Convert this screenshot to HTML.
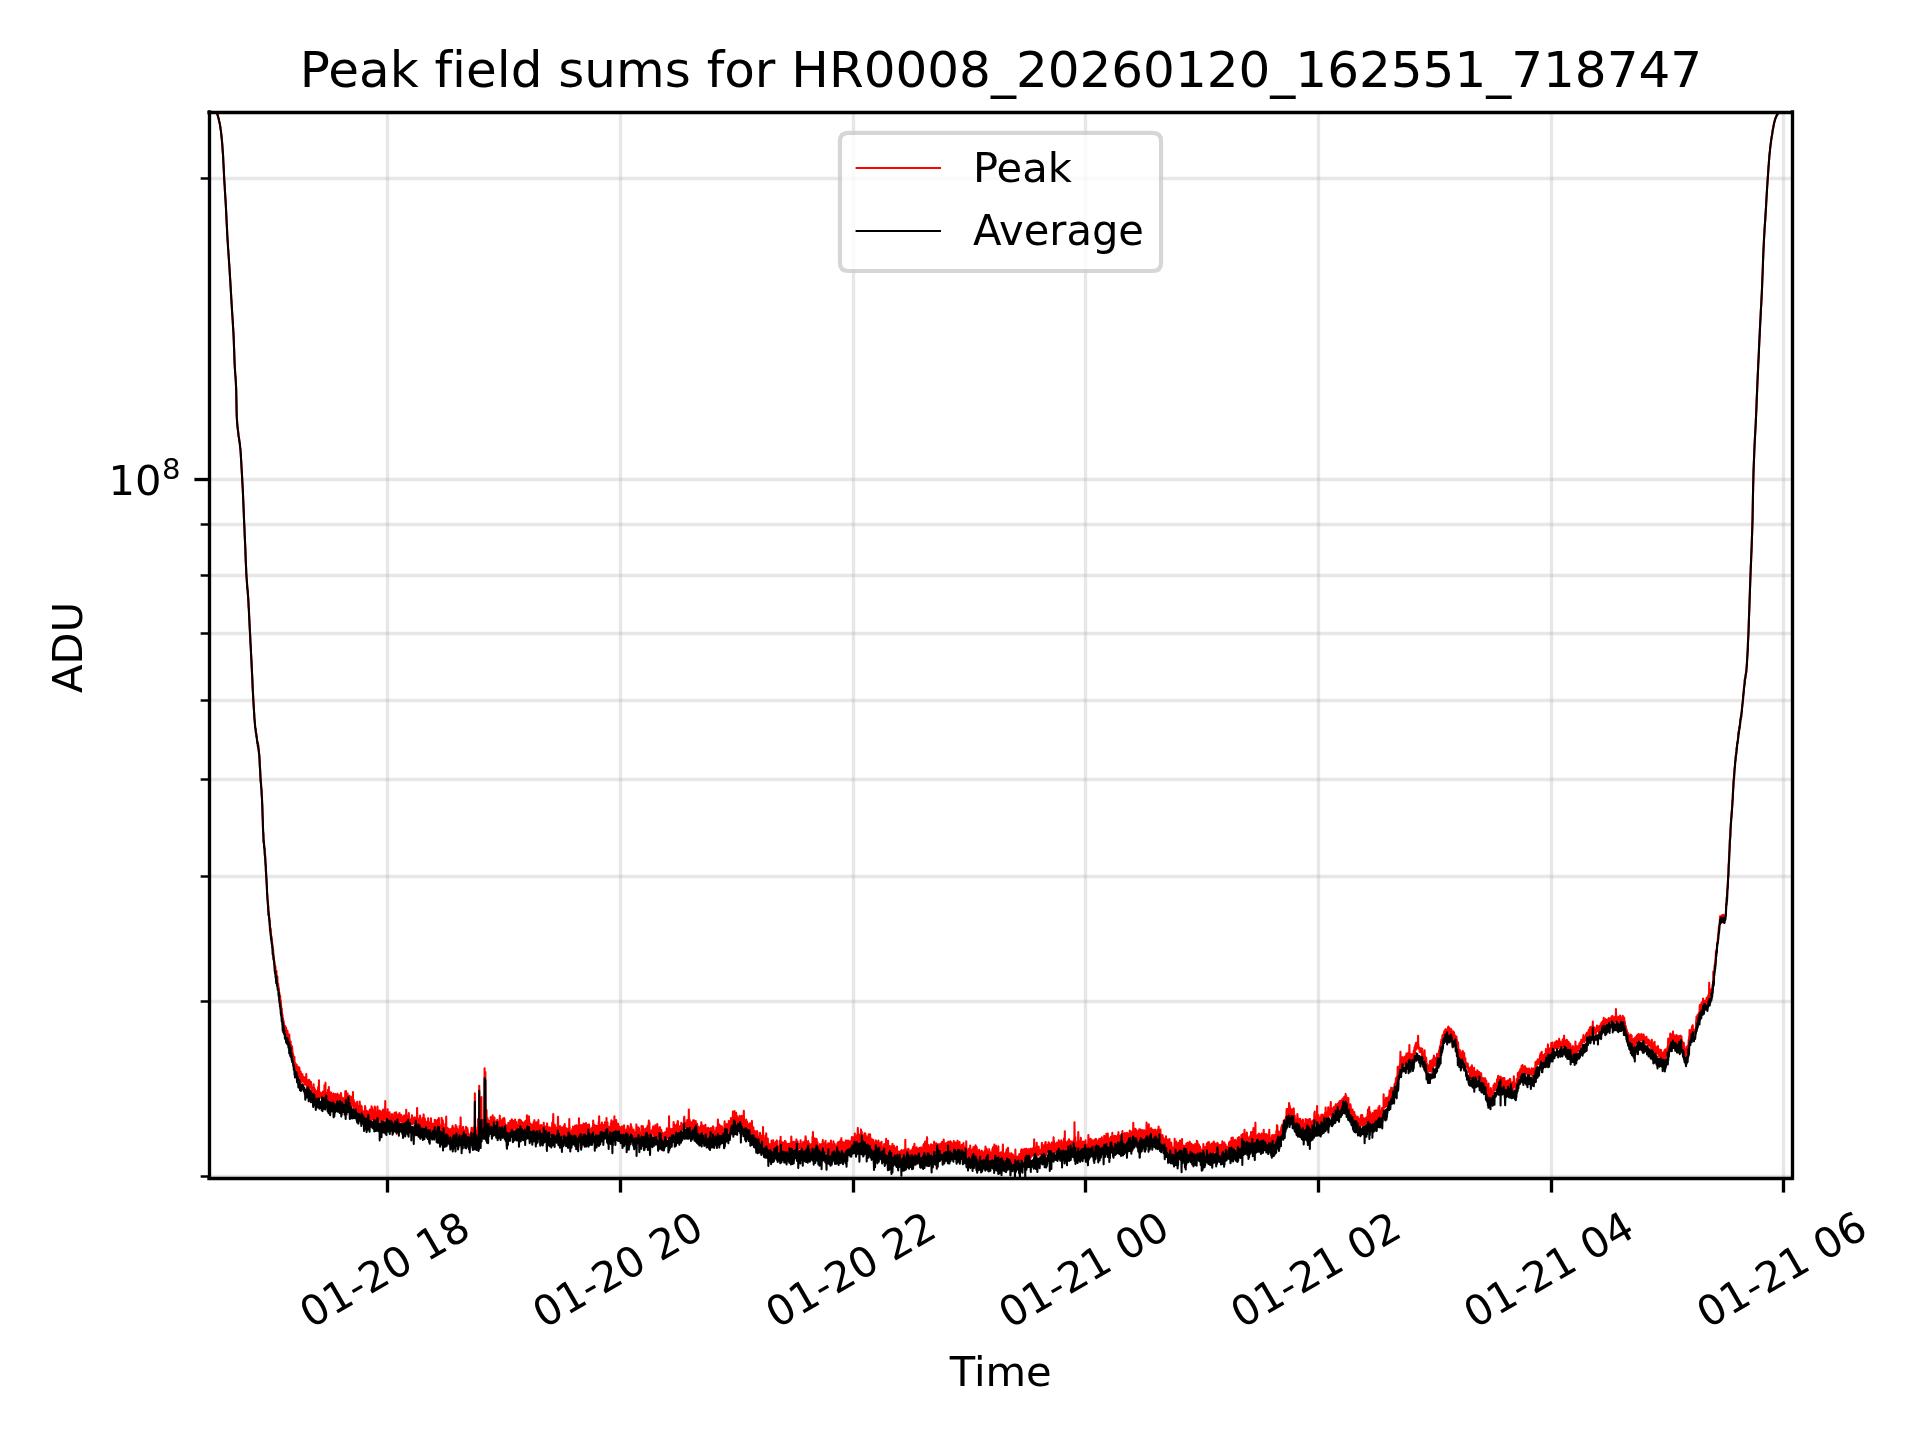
<!DOCTYPE html>
<html><head><meta charset="utf-8"><title>Peak field sums</title>
<style>html,body{margin:0;padding:0;background:#fff;overflow:hidden}svg{display:block;will-change:transform}text{font-variant-ligatures:none;font-feature-settings:"liga" 0,"clig" 0}</style>
</head><body>
<svg width="1920" height="1440" viewBox="0 0 460.8 345.6" version="1.1">
 
 <defs>
  <style type="text/css">*{stroke-linejoin: round; stroke-linecap: butt}</style>
 </defs>
 <g id="figure_1">
  <g id="patch_1">
   <path d="M 0 345.6 
L 460.8 345.6 
L 460.8 0 
L 0 0 
z
" style="fill: #ffffff"/>
  </g>
  <g id="axes_1">
   <g id="patch_2">
    <path d="M 50.16 282.72 
L 430.08 282.72 
L 430.08 26.88 
L 50.16 26.88 
z
" style="fill: #ffffff"/>
   </g>
   <g id="matplotlib.axis_1">
    <g id="xtick_1">
     <g id="line2d_1">
      <path d="M 93.0000 282.72 
L 93.0000 26.88 
" clip-path="url(#p360d8011f8)" style="fill: none; stroke: #b0b0b0; stroke-opacity: 0.3; stroke-width: 0.8; stroke-linecap: square"/>
     </g>
     <g id="line2d_2">
      <defs>
       <path id="m1504cfccaf" d="M 0 0 
L 0 3.5 
" style="stroke: #000000; stroke-width: 0.8"/>
      </defs>
      <g>
       <use href="#m1504cfccaf" x="93.0000" y="282.72" style="stroke: #000000; stroke-width: 0.8"/>
      </g>
     </g>
     <g id="text_1" transform="translate(-0.295 0.192)">
      <text style="font-size: 10px; font-family: 'DejaVu Sans', sans-serif" transform="translate(74.85103 318.780909) rotate(-30)">01-20 18</text>
     </g>
    </g>
    <g id="xtick_2">
     <g id="line2d_3">
      <path d="M 148.9200 282.72 
L 148.9200 26.88 
" clip-path="url(#p360d8011f8)" style="fill: none; stroke: #b0b0b0; stroke-opacity: 0.3; stroke-width: 0.8; stroke-linecap: square"/>
     </g>
     <g id="line2d_4">
      <g>
       <use href="#m1504cfccaf" x="148.9200" y="282.72" style="stroke: #000000; stroke-width: 0.8"/>
      </g>
     </g>
     <g id="text_2" transform="translate(-0.170 0.206)">
      <text style="font-size: 10px; font-family: 'DejaVu Sans', sans-serif" transform="translate(130.69423 318.780909) rotate(-30)">01-20 20</text>
     </g>
    </g>
    <g id="xtick_3">
     <g id="line2d_5">
      <path d="M 204.8400 282.72 
L 204.8400 26.88 
" clip-path="url(#p360d8011f8)" style="fill: none; stroke: #b0b0b0; stroke-opacity: 0.3; stroke-width: 0.8; stroke-linecap: square"/>
     </g>
     <g id="line2d_6">
      <g>
       <use href="#m1504cfccaf" x="204.8400" y="282.72" style="stroke: #000000; stroke-width: 0.8"/>
      </g>
     </g>
     <g id="text_3" transform="translate(-0.094 0.194)">
      <text style="font-size: 10px; font-family: 'DejaVu Sans', sans-serif" transform="translate(186.53743 318.780909) rotate(-30)">01-20 22</text>
     </g>
    </g>
    <g id="xtick_4">
     <g id="line2d_7">
      <path d="M 260.5200 282.72 
L 260.5200 26.88 
" clip-path="url(#p360d8011f8)" style="fill: none; stroke: #b0b0b0; stroke-opacity: 0.3; stroke-width: 0.8; stroke-linecap: square"/>
     </g>
     <g id="line2d_8">
      <g>
       <use href="#m1504cfccaf" x="260.5200" y="282.72" style="stroke: #000000; stroke-width: 0.8"/>
      </g>
     </g>
     <g id="text_4" transform="translate(-0.043 0.230)">
      <text style="font-size: 10px; font-family: 'DejaVu Sans', sans-serif" transform="translate(242.38063 318.780909) rotate(-30)">01-21 00</text>
     </g>
    </g>
    <g id="xtick_5">
     <g id="line2d_9">
      <path d="M 316.4400 282.72 
L 316.4400 26.88 
" clip-path="url(#p360d8011f8)" style="fill: none; stroke: #b0b0b0; stroke-opacity: 0.3; stroke-width: 0.8; stroke-linecap: square"/>
     </g>
     <g id="line2d_10">
      <g>
       <use href="#m1504cfccaf" x="316.4400" y="282.72" style="stroke: #000000; stroke-width: 0.8"/>
      </g>
     </g>
     <g id="text_5" transform="translate(-0.211 0.206)">
      <text style="font-size: 10px; font-family: 'DejaVu Sans', sans-serif" transform="translate(298.22383 318.780909) rotate(-30)">01-21 02</text>
     </g>
    </g>
    <g id="xtick_6">
     <g id="line2d_11">
      <path d="M 372.3600 282.72 
L 372.3600 26.88 
" clip-path="url(#p360d8011f8)" style="fill: none; stroke: #b0b0b0; stroke-opacity: 0.3; stroke-width: 0.8; stroke-linecap: square"/>
     </g>
     <g id="line2d_12">
      <g>
       <use href="#m1504cfccaf" x="372.3600" y="282.72" style="stroke: #000000; stroke-width: 0.8"/>
      </g>
     </g>
     <g id="text_6" transform="translate(-0.154 0.175)">
      <text style="font-size: 10px; font-family: 'DejaVu Sans', sans-serif" transform="translate(354.06703 318.780909) rotate(-30)">01-21 04</text>
     </g>
    </g>
    <g id="xtick_7">
     <g id="line2d_13">
      <path d="M 428.0400 282.72 
L 428.0400 26.88 
" clip-path="url(#p360d8011f8)" style="fill: none; stroke: #b0b0b0; stroke-opacity: 0.3; stroke-width: 0.8; stroke-linecap: square"/>
     </g>
     <g id="line2d_14">
      <g>
       <use href="#m1504cfccaf" x="428.0400" y="282.72" style="stroke: #000000; stroke-width: 0.8"/>
      </g>
     </g>
     <g id="text_7" transform="translate(-0.077 0.154)">
      <text style="font-size: 10px; font-family: 'DejaVu Sans', sans-serif" transform="translate(409.91023 318.780909) rotate(-30)">01-21 06</text>
     </g>
    </g>
    <g id="text_8" transform="translate(0.050 0.401)">
     <text style="font-size: 10px; font-family: 'DejaVu Sans', sans-serif; text-anchor: middle" x="240.12" y="332.180408" transform="rotate(-0 240.12 332.180408)">Time</text>
    </g>
   </g>
   <g id="matplotlib.axis_2">
    <g id="ytick_1">
     <g id="line2d_15">
      <path d="M 50.16 115.0800 
L 430.08 115.0800 
" clip-path="url(#p360d8011f8)" style="fill: none; stroke: #b0b0b0; stroke-opacity: 0.3; stroke-width: 0.8; stroke-linecap: square"/>
     </g>
     <g id="line2d_16">
      <defs>
       <path id="m5d545ce8f8" d="M 0 0 
L -3.5 0 
" style="stroke: #000000; stroke-width: 0.8"/>
      </defs>
      <g>
       <use href="#m5d545ce8f8" x="50.16" y="115.0800" style="stroke: #000000; stroke-width: 0.8"/>
      </g>
     </g>
     <g id="text_9" transform="translate(0.485 0.998)">
      <!-- $\mathdefault{10^{8}}$ -->
      <g transform="translate(25.56 118.694419)">
       <text>
        <tspan x="0" y="-0.976562" style="font-size: 10px; font-family: 'DejaVu Sans'">1</tspan>
        <tspan x="6.362305" y="-0.976562" style="font-size: 10px; font-family: 'DejaVu Sans'">0</tspan>
        <tspan x="12.820312" y="-4.804688" style="font-size: 7px; font-family: 'DejaVu Sans'">8</tspan>
       </text>
      </g>
     </g>
    </g>
    <g id="ytick_2">
     <g id="line2d_17">
      <path d="M 50.16 282.3600 
L 430.08 282.3600 
" clip-path="url(#p360d8011f8)" style="fill: none; stroke: #b0b0b0; stroke-opacity: 0.3; stroke-width: 0.8; stroke-linecap: square"/>
     </g>
     <g id="line2d_18">
      <defs>
       <path id="mc3d89a154a" d="M 0 0 
L -2 0 
" style="stroke: #000000; stroke-width: 0.6"/>
      </defs>
      <g>
       <use href="#mc3d89a154a" x="50.16" y="282.3600" style="stroke: #000000; stroke-width: 0.6"/>
      </g>
     </g>
    </g>
    <g id="ytick_3">
     <g id="line2d_19">
      <path d="M 50.16 240.3600 
L 430.08 240.3600 
" clip-path="url(#p360d8011f8)" style="fill: none; stroke: #b0b0b0; stroke-opacity: 0.3; stroke-width: 0.8; stroke-linecap: square"/>
     </g>
     <g id="line2d_20">
      <g>
       <use href="#mc3d89a154a" x="50.16" y="240.3600" style="stroke: #000000; stroke-width: 0.6"/>
      </g>
     </g>
    </g>
    <g id="ytick_4">
     <g id="line2d_21">
      <path d="M 50.16 210.3600 
L 430.08 210.3600 
" clip-path="url(#p360d8011f8)" style="fill: none; stroke: #b0b0b0; stroke-opacity: 0.3; stroke-width: 0.8; stroke-linecap: square"/>
     </g>
     <g id="line2d_22">
      <g>
       <use href="#mc3d89a154a" x="50.16" y="210.3600" style="stroke: #000000; stroke-width: 0.6"/>
      </g>
     </g>
    </g>
    <g id="ytick_5">
     <g id="line2d_23">
      <path d="M 50.16 187.0800 
L 430.08 187.0800 
" clip-path="url(#p360d8011f8)" style="fill: none; stroke: #b0b0b0; stroke-opacity: 0.3; stroke-width: 0.8; stroke-linecap: square"/>
     </g>
     <g id="line2d_24">
      <g>
       <use href="#mc3d89a154a" x="50.16" y="187.0800" style="stroke: #000000; stroke-width: 0.6"/>
      </g>
     </g>
    </g>
    <g id="ytick_6">
     <g id="line2d_25">
      <path d="M 50.16 168.1200 
L 430.08 168.1200 
" clip-path="url(#p360d8011f8)" style="fill: none; stroke: #b0b0b0; stroke-opacity: 0.3; stroke-width: 0.8; stroke-linecap: square"/>
     </g>
     <g id="line2d_26">
      <g>
       <use href="#mc3d89a154a" x="50.16" y="168.1200" style="stroke: #000000; stroke-width: 0.6"/>
      </g>
     </g>
    </g>
    <g id="ytick_7">
     <g id="line2d_27">
      <path d="M 50.16 152.0400 
L 430.08 152.0400 
" clip-path="url(#p360d8011f8)" style="fill: none; stroke: #b0b0b0; stroke-opacity: 0.3; stroke-width: 0.8; stroke-linecap: square"/>
     </g>
     <g id="line2d_28">
      <g>
       <use href="#mc3d89a154a" x="50.16" y="152.0400" style="stroke: #000000; stroke-width: 0.6"/>
      </g>
     </g>
    </g>
    <g id="ytick_8">
     <g id="line2d_29">
      <path d="M 50.16 138.1200 
L 430.08 138.1200 
" clip-path="url(#p360d8011f8)" style="fill: none; stroke: #b0b0b0; stroke-opacity: 0.3; stroke-width: 0.8; stroke-linecap: square"/>
     </g>
     <g id="line2d_30">
      <g>
       <use href="#mc3d89a154a" x="50.16" y="138.1200" style="stroke: #000000; stroke-width: 0.6"/>
      </g>
     </g>
    </g>
    <g id="ytick_9">
     <g id="line2d_31">
      <path d="M 50.16 125.8800 
L 430.08 125.8800 
" clip-path="url(#p360d8011f8)" style="fill: none; stroke: #b0b0b0; stroke-opacity: 0.3; stroke-width: 0.8; stroke-linecap: square"/>
     </g>
     <g id="line2d_32">
      <g>
       <use href="#mc3d89a154a" x="50.16" y="125.8800" style="stroke: #000000; stroke-width: 0.6"/>
      </g>
     </g>
    </g>
    <g id="ytick_10">
     <g id="line2d_33">
      <path d="M 50.16 42.8400 
L 430.08 42.8400 
" clip-path="url(#p360d8011f8)" style="fill: none; stroke: #b0b0b0; stroke-opacity: 0.3; stroke-width: 0.8; stroke-linecap: square"/>
     </g>
     <g id="line2d_34">
      <g>
       <use href="#mc3d89a154a" x="50.16" y="42.8400" style="stroke: #000000; stroke-width: 0.6"/>
      </g>
     </g>
    </g>
    <g id="text_10" transform="translate(0.118 0.569)">
     <text style="font-size: 10px; font-family: 'DejaVu Sans', sans-serif; text-anchor: middle" x="19.480313" y="154.8" transform="rotate(-90 19.480313 154.8)">ADU</text>
    </g>
   </g>
   <g id="line2d_35">
    <path d="M 50.28 14.29 L 50.33 15.23 L 50.37 16.24 L 50.42 16.86 L 50.47 17.77 L 50.52 18.49 L 50.56 19.10 L 50.61 19.94 L 50.66 20.54 L 50.71 20.98 L 50.75 21.74 L 50.80 22.22 L 50.85 22.57 L 50.90 22.93 L 50.94 23.24 L 50.99 23.74 L 51.04 23.83 L 51.09 24.29 L 51.13 24.51 L 51.18 24.74 L 51.23 25.02 L 51.28 25.32 L 51.32 25.55 L 51.37 25.57 L 51.42 25.52 L 51.47 25.74 L 51.51 26.01 L 51.56 26.09 L 51.61 26.29 L 51.66 26.39 L 51.70 26.46 L 51.75 26.56 L 51.80 26.62 L 51.85 26.70 L 51.89 26.72 L 51.94 26.96 L 51.99 26.99 L 52.04 27.07 L 52.08 27.17 L 52.13 27.35 L 52.18 27.51 L 52.23 27.61 L 52.27 27.86 L 52.32 27.83 L 52.37 28.17 L 52.42 28.25 L 52.46 28.56 L 52.51 28.61 L 52.56 28.84 L 52.61 29.15 L 52.65 29.39 L 52.70 29.47 L 52.75 29.61 L 52.80 30.05 L 52.84 30.30 L 52.89 30.57 L 52.94 30.98 L 52.99 31.25 L 53.03 31.51 L 53.08 31.97 L 53.13 32.45 L 53.18 32.86 L 53.22 33.45 L 53.27 33.88 L 53.32 34.41 L 53.37 34.99 L 53.41 35.69 L 53.46 36.41 L 53.51 36.89 L 53.56 37.81 L 53.60 38.75 L 53.65 39.61 L 53.70 40.52 L 53.75 41.64 L 53.79 42.50 L 53.84 43.42 L 53.89 44.14 L 53.94 44.96 L 53.98 45.74 L 54.03 46.58 L 54.08 47.42 L 54.13 48.01 L 54.17 48.89 L 54.22 49.70 L 54.27 50.61 L 54.32 51.57 L 54.36 52.60 L 54.41 53.64 L 54.46 54.42 L 54.51 55.49 L 54.55 56.46 L 54.60 57.30 L 54.65 58.07 L 54.70 58.76 L 54.74 59.72 L 54.79 60.15 L 54.84 61.03 L 54.89 61.55 L 54.93 62.14 L 54.98 63.13 L 55.03 63.68 L 55.08 64.29 L 55.12 65.10 L 55.17 65.99 L 55.22 66.71 L 55.27 67.38 L 55.31 68.24 L 55.36 69.07 L 55.41 69.89 L 55.46 70.74 L 55.50 71.55 L 55.55 72.05 L 55.60 73.01 L 55.65 73.86 L 55.69 74.60 L 55.74 75.35 L 55.79 76.16 L 55.84 76.81 L 55.88 77.49 L 55.93 78.55 L 55.98 79.17 L 56.03 79.94 L 56.07 80.89 L 56.12 81.93 L 56.17 83.38 L 56.22 84.72 L 56.26 86.02 L 56.31 87.22 L 56.36 88.24 L 56.41 88.98 L 56.45 89.70 L 56.50 90.25 L 56.55 90.92 L 56.60 91.71 L 56.64 92.72 L 56.69 93.64 L 56.74 96.12 L 56.79 98.87 L 56.83 100.02 L 56.88 100.88 L 56.93 101.61 L 56.98 102.03 L 57.02 102.51 L 57.07 102.91 L 57.12 103.32 L 57.17 103.68 L 57.21 104.12 L 57.26 104.68 L 57.31 104.81 L 57.36 105.10 L 57.40 105.55 L 57.45 105.84 L 57.50 106.19 L 57.55 106.41 L 57.59 106.84 L 57.64 107.44 L 57.69 107.73 L 57.74 108.40 L 57.78 108.93 L 57.83 109.70 L 57.88 110.58 L 57.93 111.48 L 57.97 112.19 L 58.02 112.99 L 58.07 113.84 L 58.12 114.82 L 58.16 115.58 L 58.21 116.46 L 58.26 117.41 L 58.31 118.37 L 58.35 119.44 L 58.40 120.55 L 58.45 121.65 L 58.50 122.90 L 58.54 124.07 L 58.59 125.30 L 58.64 126.18 L 58.69 127.49 L 58.73 128.42 L 58.78 129.41 L 58.83 130.62 L 58.88 131.57 L 58.92 132.93 L 58.97 134.39 L 59.02 135.33 L 59.07 136.46 L 59.11 137.60 L 59.16 138.19 L 59.21 139.02 L 59.26 139.67 L 59.30 140.14 L 59.35 141.01 L 59.40 141.43 L 59.45 141.88 L 59.49 142.64 L 59.54 143.18 L 59.59 143.79 L 59.64 144.60 L 59.68 145.84 L 59.73 146.23 L 59.78 147.42 L 59.83 148.36 L 59.87 149.33 L 59.92 150.48 L 59.97 151.34 L 60.02 152.21 L 60.06 153.15 L 60.11 154.15 L 60.16 155.00 L 60.21 155.94 L 60.25 156.77 L 60.30 157.63 L 60.35 158.62 L 60.40 159.81 L 60.44 160.53 L 60.49 161.84 L 60.54 162.51 L 60.59 163.70 L 60.63 164.64 L 60.68 165.77 L 60.73 166.56 L 60.78 167.49 L 60.82 168.30 L 60.87 168.94 L 60.92 170.06 L 60.97 170.81 L 61.01 171.51 L 61.06 172.44 L 61.11 173.02 L 61.16 173.41 L 61.20 173.73 L 61.25 174.58 L 61.30 174.93 L 61.35 174.92 L 61.39 175.64 L 61.44 175.62 L 61.49 176.09 L 61.54 176.39 L 61.58 176.84 L 61.63 176.94 L 61.68 177.56 L 61.73 177.91 L 61.77 178.10 L 61.82 178.32 L 61.87 178.54 L 61.92 178.49 L 61.96 178.64 L 62.01 179.23 L 62.06 179.98 L 62.11 179.94 L 62.15 180.62 L 62.20 181.01 L 62.25 181.26 L 62.30 182.45 L 62.34 183.40 L 62.39 184.26 L 62.44 184.49 L 62.49 185.94 L 62.53 186.69 L 62.58 187.64 L 62.63 187.82 L 62.68 188.92 L 62.72 189.20 L 62.77 189.62 L 62.82 190.97 L 62.87 191.59 L 62.91 192.60 L 62.96 193.27 L 63.01 195.07 L 63.06 196.54 L 63.10 197.95 L 63.15 199.85 L 63.20 200.24 L 63.25 201.05 L 63.29 201.72 L 63.34 202.14 L 63.39 202.53 L 63.44 203.14 L 63.48 203.58 L 63.53 204.01 L 63.58 205.25 L 63.63 205.04 L 63.67 206.13 L 63.72 206.99 L 63.77 207.54 L 63.82 209.19 L 63.86 209.05 L 63.91 210.06 L 63.96 211.66 L 64.01 211.83 L 64.05 212.70 L 64.10 214.25 L 64.15 214.85 L 64.20 215.71 L 64.24 215.87 L 64.29 216.29 L 64.34 217.08 L 64.39 217.60 L 64.43 218.62 L 64.48 218.70 L 64.53 219.02 L 64.58 219.93 L 64.62 220.21 L 64.67 220.34 L 64.72 220.80 L 64.77 221.41 L 64.81 222.94 L 64.86 222.67 L 64.91 223.56 L 64.96 222.78 L 65.00 223.77 L 65.05 224.58 L 65.10 224.59 L 65.15 224.72 L 65.19 225.18 L 65.24 226.07 L 65.29 225.96 L 65.34 226.95 L 65.38 227.01 L 65.43 227.55 L 65.48 227.70 L 65.53 228.03 L 65.57 227.93 L 65.62 229.98 L 65.67 230.35 L 65.72 229.55 L 65.76 230.75 L 65.81 230.56 L 65.86 230.77 L 65.91 231.33 L 65.95 231.51 L 66.00 232.24 L 66.05 232.60 L 66.10 231.97 L 66.14 233.41 L 66.19 233.80 L 66.24 233.86 L 66.29 234.59 L 66.33 232.99 L 66.38 233.95 L 66.43 235.17 L 66.48 235.23 L 66.52 235.74 L 66.57 234.39 L 66.62 236.33 L 66.67 236.50 L 66.71 236.06 L 66.76 236.11 L 66.81 236.99 L 66.86 237.29 L 66.90 237.07 L 66.95 237.62 L 67.00 238.57 L 67.05 238.35 L 67.09 238.99 L 67.14 239.09 L 67.19 239.82 L 67.24 238.98 L 67.28 240.19 L 67.33 240.94 L 67.38 240.09 L 67.43 241.40 L 67.47 241.24 L 67.52 243.75 L 67.57 242.86 L 67.62 242.06 L 67.66 243.35 L 67.71 243.32 L 67.76 244.06 L 67.81 243.64 L 67.85 244.89 L 67.90 244.41 L 67.95 245.87 L 68.00 245.00 L 68.04 244.93 L 68.09 245.43 L 68.14 245.61 L 68.19 246.14 L 68.23 246.83 L 68.28 246.22 L 68.33 246.65 L 68.38 246.48 L 68.42 246.45 L 68.47 246.28 L 68.52 247.31 L 68.57 247.57 L 68.61 247.82 L 68.66 246.68 L 68.71 247.53 L 68.76 248.11 L 68.80 248.05 L 68.85 248.07 L 68.90 247.95 L 68.95 248.26 L 68.99 247.40 L 69.04 248.31 L 69.09 249.21 L 69.14 249.19 L 69.18 248.22 L 69.23 249.87 L 69.28 249.44 L 69.33 250.27 L 69.37 249.42 L 69.42 248.27 L 69.47 249.38 L 69.52 249.55 L 69.56 250.36 L 69.61 250.59 L 69.66 250.16 L 69.71 250.42 L 69.75 249.94 L 69.80 251.03 L 69.85 251.52 L 69.90 252.13 L 69.94 250.94 L 69.99 251.76 L 70.04 251.85 L 70.09 251.15 L 70.13 251.70 L 70.18 252.39 L 70.23 253.05 L 70.28 252.77 L 70.32 254.16 L 70.37 253.14 L 70.42 253.45 L 70.47 254.06 L 70.51 254.75 L 70.56 254.51 L 70.61 253.91 L 70.66 253.69 L 70.70 255.60 L 70.75 254.95 L 70.80 256.16 L 70.85 255.99 L 70.89 255.89 L 70.94 255.27 L 70.99 256.07 L 71.04 255.55 L 71.08 256.57 L 71.13 256.23 L 71.18 255.52 L 71.23 256.22 L 71.27 256.01 L 71.32 257.35 L 71.37 256.37 L 71.42 256.60 L 71.46 256.05 L 71.51 256.98 L 71.56 258.30 L 71.61 257.11 L 71.65 257.75 L 71.70 256.22 L 71.75 258.56 L 71.80 258.05 L 71.84 256.21 L 71.89 257.25 L 71.94 257.05 L 71.99 257.79 L 72.03 257.63 L 72.08 259.04 L 72.13 258.66 L 72.18 257.24 L 72.22 259.90 L 72.27 259.09 L 72.32 258.93 L 72.37 259.20 L 72.41 259.09 L 72.46 259.18 L 72.51 258.04 L 72.56 257.80 L 72.60 258.42 L 72.65 258.41 L 72.70 259.53 L 72.75 258.37 L 72.79 259.64 L 72.84 259.70 L 72.89 258.90 L 72.94 259.26 L 72.98 259.59 L 73.03 258.54 L 73.08 259.89 L 73.13 259.80 L 73.17 260.32 L 73.22 258.79 L 73.27 259.65 L 73.32 260.26 L 73.36 259.87 L 73.41 260.06 L 73.46 259.13 L 73.51 257.77 L 73.55 260.38 L 73.60 259.94 L 73.65 259.99 L 73.70 261.69 L 73.74 259.22 L 73.79 261.54 L 73.84 260.11 L 73.89 260.96 L 73.93 260.64 L 73.98 260.98 L 74.03 259.26 L 74.08 261.95 L 74.12 259.72 L 74.17 259.16 L 74.22 259.82 L 74.27 260.79 L 74.31 260.52 L 74.36 259.42 L 74.41 260.30 L 74.46 260.10 L 74.50 261.06 L 74.55 260.40 L 74.60 260.87 L 74.65 259.67 L 74.69 260.75 L 74.74 260.82 L 74.79 262.36 L 74.84 261.08 L 74.88 261.21 L 74.93 261.59 L 74.98 262.68 L 75.03 261.92 L 75.07 260.91 L 75.12 262.32 L 75.17 261.18 L 75.22 262.02 L 75.26 260.23 L 75.31 262.18 L 75.36 261.35 L 75.41 261.09 L 75.45 262.06 L 75.50 261.71 L 75.55 263.63 L 75.60 261.42 L 75.64 262.11 L 75.69 263.10 L 75.74 263.19 L 75.79 265.19 L 75.83 261.87 L 75.88 263.53 L 75.93 263.48 L 75.98 264.06 L 76.02 261.85 L 76.07 262.34 L 76.12 262.61 L 76.17 264.23 L 76.21 261.79 L 76.26 262.29 L 76.31 261.66 L 76.36 260.88 L 76.40 261.83 L 76.45 262.37 L 76.50 261.72 L 76.55 259.29 L 76.59 263.76 L 76.64 263.32 L 76.69 262.52 L 76.74 263.36 L 76.78 262.81 L 76.83 262.25 L 76.88 262.47 L 76.93 262.25 L 76.97 263.32 L 77.02 263.47 L 77.07 262.31 L 77.12 263.30 L 77.16 262.71 L 77.21 263.14 L 77.26 263.00 L 77.31 263.06 L 77.35 262.59 L 77.40 264.81 L 77.45 264.06 L 77.50 261.98 L 77.54 262.38 L 77.59 262.92 L 77.64 261.90 L 77.69 264.65 L 77.73 263.76 L 77.78 263.55 L 77.83 262.52 L 77.88 260.40 L 77.92 263.19 L 77.97 262.04 L 78.02 262.91 L 78.07 263.87 L 78.11 259.84 L 78.16 265.52 L 78.21 262.21 L 78.26 263.47 L 78.30 263.14 L 78.35 262.79 L 78.40 264.68 L 78.45 263.45 L 78.49 263.02 L 78.54 263.86 L 78.59 263.83 L 78.64 262.19 L 78.68 264.43 L 78.73 261.53 L 78.78 263.62 L 78.83 264.61 L 78.87 265.12 L 78.92 260.88 L 78.97 263.21 L 79.02 264.12 L 79.06 262.05 L 79.11 263.47 L 79.16 263.22 L 79.21 262.56 L 79.25 264.32 L 79.30 262.22 L 79.35 263.03 L 79.40 263.17 L 79.44 262.21 L 79.49 263.27 L 79.54 262.57 L 79.58 262.84 L 79.63 262.98 L 79.68 264.00 L 79.73 263.41 L 79.77 264.94 L 79.82 262.63 L 79.87 263.53 L 79.92 262.98 L 79.96 262.90 L 80.01 262.42 L 80.06 265.00 L 80.11 264.73 L 80.15 265.26 L 80.20 264.07 L 80.25 264.92 L 80.30 263.61 L 80.34 262.94 L 80.39 265.15 L 80.44 262.59 L 80.49 265.45 L 80.53 263.49 L 80.58 263.31 L 80.63 263.45 L 80.68 263.01 L 80.72 264.02 L 80.77 262.71 L 80.82 263.84 L 80.87 263.15 L 80.91 264.56 L 80.96 264.80 L 81.01 262.48 L 81.06 263.19 L 81.10 265.08 L 81.15 264.89 L 81.20 263.78 L 81.25 262.81 L 81.29 264.82 L 81.34 263.56 L 81.39 263.27 L 81.44 262.88 L 81.48 264.24 L 81.53 264.93 L 81.58 263.82 L 81.63 264.90 L 81.67 263.59 L 81.72 264.94 L 81.77 264.23 L 81.82 262.34 L 81.86 262.61 L 81.91 263.33 L 81.96 264.96 L 82.01 265.70 L 82.05 263.43 L 82.10 263.95 L 82.15 263.69 L 82.20 264.89 L 82.24 263.65 L 82.29 264.25 L 82.34 264.31 L 82.39 264.04 L 82.43 263.56 L 82.48 264.08 L 82.53 263.67 L 82.58 264.11 L 82.62 265.62 L 82.67 265.42 L 82.72 263.67 L 82.77 265.31 L 82.81 265.06 L 82.86 261.92 L 82.91 264.58 L 82.96 265.25 L 83.00 263.46 L 83.05 261.86 L 83.10 264.16 L 83.15 266.66 L 83.19 264.47 L 83.24 263.66 L 83.29 264.15 L 83.34 263.94 L 83.38 263.76 L 83.43 262.47 L 83.48 263.94 L 83.53 263.94 L 83.57 264.15 L 83.62 263.54 L 83.67 264.32 L 83.72 266.42 L 83.76 265.39 L 83.81 264.17 L 83.86 265.40 L 83.91 262.99 L 83.95 264.83 L 84.00 265.16 L 84.05 265.14 L 84.10 264.74 L 84.14 265.07 L 84.19 265.83 L 84.24 264.07 L 84.29 264.74 L 84.33 263.28 L 84.38 265.12 L 84.43 264.29 L 84.48 264.52 L 84.52 264.18 L 84.57 264.67 L 84.62 264.75 L 84.67 265.39 L 84.71 262.10 L 84.76 265.57 L 84.81 265.11 L 84.86 265.83 L 84.90 264.01 L 84.95 266.14 L 85.00 265.91 L 85.05 264.89 L 85.09 265.24 L 85.14 264.62 L 85.19 264.87 L 85.24 265.39 L 85.28 265.30 L 85.33 265.62 L 85.38 265.55 L 85.43 266.00 L 85.47 266.75 L 85.52 265.40 L 85.57 265.14 L 85.62 266.75 L 85.66 267.32 L 85.71 264.43 L 85.76 266.10 L 85.81 266.08 L 85.85 265.41 L 85.90 266.00 L 85.95 266.93 L 86.00 267.17 L 86.04 265.60 L 86.09 266.41 L 86.14 268.37 L 86.19 265.50 L 86.23 265.44 L 86.28 267.12 L 86.33 264.35 L 86.38 266.42 L 86.42 266.74 L 86.47 266.91 L 86.52 266.21 L 86.57 265.28 L 86.61 267.58 L 86.66 266.30 L 86.71 268.15 L 86.76 266.96 L 86.80 265.52 L 86.85 266.37 L 86.90 266.86 L 86.95 267.19 L 86.99 266.56 L 87.04 266.72 L 87.09 266.75 L 87.14 267.11 L 87.18 268.25 L 87.23 267.53 L 87.28 267.22 L 87.33 268.71 L 87.37 266.87 L 87.42 268.40 L 87.47 267.57 L 87.52 269.48 L 87.56 267.84 L 87.61 265.44 L 87.66 268.30 L 87.71 265.86 L 87.75 267.67 L 87.80 267.27 L 87.85 266.64 L 87.90 266.61 L 87.94 268.46 L 87.99 268.97 L 88.04 267.51 L 88.09 266.97 L 88.13 266.76 L 88.18 268.83 L 88.23 266.69 L 88.28 268.12 L 88.32 268.55 L 88.37 267.66 L 88.42 267.69 L 88.47 268.13 L 88.51 268.23 L 88.56 268.71 L 88.61 267.31 L 88.66 267.60 L 88.70 267.92 L 88.75 266.28 L 88.80 268.12 L 88.85 266.88 L 88.89 268.76 L 88.94 267.59 L 88.99 268.28 L 89.04 269.16 L 89.08 268.05 L 89.13 267.02 L 89.18 265.53 L 89.23 268.08 L 89.27 268.64 L 89.32 265.94 L 89.37 267.63 L 89.42 267.62 L 89.46 267.82 L 89.51 266.94 L 89.56 266.92 L 89.61 267.43 L 89.65 266.73 L 89.70 268.84 L 89.75 266.43 L 89.80 267.19 L 89.84 270.38 L 89.89 267.55 L 89.94 265.55 L 89.99 267.06 L 90.03 265.78 L 90.08 267.54 L 90.13 268.74 L 90.18 266.97 L 90.22 268.58 L 90.27 268.21 L 90.32 268.67 L 90.37 268.19 L 90.41 269.29 L 90.46 267.01 L 90.51 267.56 L 90.56 268.39 L 90.60 265.57 L 90.65 268.66 L 90.70 269.03 L 90.75 268.26 L 90.79 269.34 L 90.84 269.82 L 90.89 269.54 L 90.94 268.13 L 90.98 268.19 L 91.03 268.52 L 91.08 266.53 L 91.13 268.69 L 91.17 267.84 L 91.22 267.24 L 91.27 268.59 L 91.32 266.82 L 91.36 267.33 L 91.41 266.73 L 91.46 269.27 L 91.51 267.72 L 91.55 268.31 L 91.60 268.39 L 91.65 268.62 L 91.70 267.24 L 91.74 268.39 L 91.79 268.30 L 91.84 267.00 L 91.89 268.69 L 91.93 266.30 L 91.98 268.78 L 92.03 269.61 L 92.08 267.26 L 92.12 268.13 L 92.17 268.23 L 92.22 267.76 L 92.27 268.69 L 92.31 267.34 L 92.36 268.66 L 92.41 267.58 L 92.46 264.27 L 92.50 267.95 L 92.55 267.02 L 92.60 267.74 L 92.65 268.25 L 92.69 268.62 L 92.74 269.55 L 92.79 267.92 L 92.84 268.77 L 92.88 269.69 L 92.93 268.24 L 92.98 269.62 L 93.03 266.24 L 93.07 269.31 L 93.12 268.03 L 93.17 268.88 L 93.22 267.31 L 93.26 268.34 L 93.31 268.05 L 93.36 267.77 L 93.41 267.72 L 93.45 267.16 L 93.50 266.96 L 93.55 268.72 L 93.60 268.19 L 93.64 268.44 L 93.69 267.65 L 93.74 267.83 L 93.79 269.08 L 93.83 268.86 L 93.88 268.71 L 93.93 269.13 L 93.98 268.04 L 94.02 268.48 L 94.07 267.38 L 94.12 269.08 L 94.17 269.20 L 94.21 268.52 L 94.26 270.04 L 94.31 270.29 L 94.36 268.68 L 94.40 267.68 L 94.45 269.75 L 94.50 267.62 L 94.55 268.96 L 94.59 268.59 L 94.64 267.46 L 94.69 267.07 L 94.74 268.73 L 94.78 269.30 L 94.83 269.84 L 94.88 269.01 L 94.93 267.18 L 94.97 269.23 L 95.02 267.60 L 95.07 266.96 L 95.12 268.74 L 95.16 270.55 L 95.21 272.16 L 95.26 268.45 L 95.31 268.25 L 95.35 268.47 L 95.40 267.74 L 95.45 267.55 L 95.50 269.41 L 95.54 267.51 L 95.59 268.92 L 95.64 268.20 L 95.69 268.26 L 95.73 269.82 L 95.78 269.01 L 95.83 268.77 L 95.88 267.11 L 95.92 268.10 L 95.97 268.83 L 96.02 268.76 L 96.07 269.09 L 96.11 268.93 L 96.16 268.43 L 96.21 268.06 L 96.26 268.76 L 96.30 267.58 L 96.35 268.80 L 96.40 268.80 L 96.45 267.91 L 96.49 270.44 L 96.54 268.95 L 96.59 270.67 L 96.64 268.81 L 96.68 269.65 L 96.73 268.70 L 96.78 268.29 L 96.83 268.87 L 96.87 270.12 L 96.92 269.27 L 96.97 267.75 L 97.02 269.70 L 97.06 268.79 L 97.11 268.51 L 97.16 267.75 L 97.21 270.52 L 97.25 270.27 L 97.30 268.43 L 97.35 268.98 L 97.40 269.35 L 97.44 269.73 L 97.49 266.34 L 97.54 268.66 L 97.59 268.29 L 97.63 268.85 L 97.68 268.19 L 97.73 269.17 L 97.78 269.60 L 97.82 269.57 L 97.87 268.48 L 97.92 269.48 L 97.97 269.58 L 98.01 267.74 L 98.06 268.24 L 98.11 267.11 L 98.16 268.17 L 98.20 269.12 L 98.25 269.04 L 98.30 269.69 L 98.35 270.23 L 98.39 269.27 L 98.44 268.86 L 98.49 268.85 L 98.54 269.23 L 98.58 269.58 L 98.63 269.18 L 98.68 268.94 L 98.73 268.44 L 98.77 269.64 L 98.82 268.83 L 98.87 267.69 L 98.92 268.69 L 98.96 269.50 L 99.01 269.82 L 99.06 269.15 L 99.11 268.36 L 99.15 268.63 L 99.20 268.32 L 99.25 268.55 L 99.30 269.33 L 99.34 269.54 L 99.39 268.52 L 99.44 269.12 L 99.49 268.89 L 99.53 268.17 L 99.58 268.30 L 99.63 268.73 L 99.68 268.87 L 99.72 269.45 L 99.77 270.28 L 99.82 268.46 L 99.87 269.02 L 99.91 269.70 L 99.96 269.34 L 100.01 269.38 L 100.06 269.15 L 100.10 265.95 L 100.15 267.82 L 100.20 270.22 L 100.25 268.66 L 100.29 270.98 L 100.34 268.55 L 100.39 269.61 L 100.44 270.00 L 100.48 270.15 L 100.53 269.80 L 100.58 270.58 L 100.63 269.12 L 100.67 269.54 L 100.72 268.33 L 100.77 269.96 L 100.82 267.75 L 100.86 270.44 L 100.91 268.71 L 100.96 268.67 L 101.01 269.28 L 101.05 271.06 L 101.10 270.03 L 101.15 269.72 L 101.20 269.58 L 101.24 269.59 L 101.29 269.97 L 101.34 270.58 L 101.39 270.70 L 101.43 268.28 L 101.48 270.94 L 101.53 269.95 L 101.58 270.43 L 101.62 269.87 L 101.67 267.46 L 101.72 268.50 L 101.77 272.37 L 101.81 269.15 L 101.86 269.92 L 101.91 268.97 L 101.96 268.43 L 102.00 269.19 L 102.05 269.94 L 102.10 270.19 L 102.15 269.66 L 102.19 270.02 L 102.24 269.84 L 102.29 269.31 L 102.34 269.25 L 102.38 270.31 L 102.43 270.87 L 102.48 270.33 L 102.53 270.94 L 102.57 270.68 L 102.62 270.27 L 102.67 269.14 L 102.72 269.65 L 102.76 268.36 L 102.81 269.98 L 102.86 269.20 L 102.91 269.40 L 102.95 270.97 L 103.00 270.49 L 103.05 271.31 L 103.10 270.36 L 103.14 269.74 L 103.19 271.77 L 103.24 269.93 L 103.29 269.69 L 103.33 270.22 L 103.38 270.50 L 103.43 268.39 L 103.48 269.84 L 103.52 270.08 L 103.57 269.50 L 103.62 271.49 L 103.67 270.27 L 103.71 269.97 L 103.76 269.93 L 103.81 270.04 L 103.86 270.22 L 103.90 270.27 L 103.95 269.74 L 104.00 269.93 L 104.05 271.65 L 104.09 270.14 L 104.14 269.90 L 104.19 271.68 L 104.24 270.55 L 104.28 270.62 L 104.33 268.76 L 104.38 269.42 L 104.43 269.83 L 104.47 269.65 L 104.52 269.52 L 104.57 268.92 L 104.62 269.24 L 104.66 269.93 L 104.71 270.49 L 104.76 270.54 L 104.81 269.63 L 104.85 270.81 L 104.90 270.87 L 104.95 270.58 L 105.00 269.03 L 105.04 268.77 L 105.09 270.98 L 105.14 271.70 L 105.19 269.23 L 105.23 268.94 L 105.28 270.82 L 105.33 268.35 L 105.38 269.95 L 105.42 271.35 L 105.47 270.51 L 105.52 272.01 L 105.57 272.29 L 105.61 270.25 L 105.66 272.42 L 105.71 270.84 L 105.76 270.58 L 105.80 271.12 L 105.85 270.03 L 105.90 270.60 L 105.95 271.31 L 105.99 268.26 L 106.04 270.00 L 106.09 272.36 L 106.14 271.02 L 106.18 271.55 L 106.23 271.06 L 106.28 268.93 L 106.33 272.42 L 106.37 271.15 L 106.42 270.84 L 106.47 269.72 L 106.52 271.64 L 106.56 270.62 L 106.61 271.54 L 106.66 271.78 L 106.71 271.14 L 106.75 272.25 L 106.80 272.74 L 106.85 271.25 L 106.90 272.05 L 106.94 271.30 L 106.99 271.77 L 107.04 270.62 L 107.09 267.95 L 107.13 271.21 L 107.18 271.27 L 107.23 270.75 L 107.28 271.79 L 107.32 271.38 L 107.37 272.12 L 107.42 270.72 L 107.47 271.23 L 107.51 271.14 L 107.56 271.43 L 107.61 271.51 L 107.66 272.57 L 107.70 270.95 L 107.75 270.95 L 107.80 273.23 L 107.85 271.18 L 107.89 271.98 L 107.94 271.08 L 107.99 271.77 L 108.04 272.64 L 108.08 272.75 L 108.13 273.24 L 108.18 273.92 L 108.23 270.94 L 108.27 270.92 L 108.32 273.65 L 108.37 272.23 L 108.42 272.59 L 108.46 271.64 L 108.51 271.41 L 108.56 270.78 L 108.61 270.21 L 108.65 272.99 L 108.70 272.51 L 108.75 270.57 L 108.79 272.15 L 108.84 271.00 L 108.89 270.91 L 108.94 272.31 L 108.98 271.38 L 109.03 271.05 L 109.08 271.90 L 109.13 271.40 L 109.17 271.48 L 109.22 272.57 L 109.27 272.15 L 109.32 270.68 L 109.36 269.99 L 109.41 272.30 L 109.46 271.83 L 109.51 271.45 L 109.55 270.29 L 109.60 271.58 L 109.65 272.29 L 109.70 270.85 L 109.74 272.10 L 109.79 273.21 L 109.84 272.10 L 109.89 272.25 L 109.93 273.52 L 109.98 272.27 L 110.03 272.60 L 110.08 272.62 L 110.12 271.12 L 110.17 271.86 L 110.22 273.49 L 110.27 271.37 L 110.31 270.26 L 110.36 270.73 L 110.41 271.33 L 110.46 271.69 L 110.50 271.32 L 110.55 268.18 L 110.60 270.78 L 110.65 271.40 L 110.69 271.24 L 110.74 273.34 L 110.79 272.21 L 110.84 271.45 L 110.88 271.96 L 110.93 272.21 L 110.98 271.36 L 111.03 272.02 L 111.07 272.22 L 111.12 270.42 L 111.17 270.83 L 111.22 271.88 L 111.26 272.58 L 111.31 272.13 L 111.36 272.65 L 111.41 271.85 L 111.45 273.07 L 111.50 272.46 L 111.55 271.33 L 111.60 271.55 L 111.64 273.63 L 111.69 272.88 L 111.74 272.55 L 111.79 272.02 L 111.83 270.42 L 111.88 273.15 L 111.93 272.49 L 111.98 271.60 L 112.02 273.13 L 112.07 271.66 L 112.12 270.80 L 112.17 270.76 L 112.21 271.48 L 112.26 271.26 L 112.31 272.48 L 112.36 272.17 L 112.40 273.29 L 112.45 272.08 L 112.50 272.93 L 112.55 272.79 L 112.59 272.91 L 112.64 273.02 L 112.69 272.56 L 112.74 272.60 L 112.78 272.68 L 112.83 272.23 L 112.88 272.75 L 112.93 272.49 L 112.97 272.21 L 113.02 272.20 L 113.07 271.53 L 113.12 271.65 L 113.16 270.65 L 113.21 273.90 L 113.26 272.66 L 113.31 271.64 L 113.35 272.53 L 113.40 273.42 L 113.45 272.64 L 113.50 273.45 L 113.54 271.28 L 113.59 273.48 L 113.64 272.44 L 113.69 270.55 L 113.73 271.70 L 113.78 272.08 L 113.83 272.78 L 113.88 271.92 L 113.92 272.08 L 113.97 262.39 L 114.02 271.40 L 114.07 271.49 L 114.11 271.36 L 114.16 271.31 L 114.21 273.80 L 114.26 272.48 L 114.30 272.85 L 114.35 272.40 L 114.40 272.16 L 114.45 272.36 L 114.49 272.94 L 114.54 274.53 L 114.59 270.64 L 114.64 271.21 L 114.68 272.42 L 114.73 268.60 L 114.78 271.63 L 114.83 273.58 L 114.87 270.64 L 114.92 272.99 L 114.97 270.57 L 115.02 260.59 L 115.06 270.25 L 115.11 271.43 L 115.16 271.26 L 115.21 270.45 L 115.25 271.17 L 115.30 268.80 L 115.35 271.86 L 115.40 271.29 L 115.44 270.52 L 115.49 270.79 L 115.54 263.28 L 115.59 270.88 L 115.63 272.82 L 115.68 269.94 L 115.73 271.20 L 115.78 269.95 L 115.82 268.80 L 115.87 270.06 L 115.92 270.02 L 115.97 271.87 L 116.01 270.45 L 116.06 269.44 L 116.11 269.12 L 116.16 270.23 L 116.20 268.93 L 116.25 270.70 L 116.30 256.39 L 116.35 269.54 L 116.39 268.68 L 116.44 270.62 L 116.49 257.28 L 116.54 270.51 L 116.58 270.62 L 116.63 269.14 L 116.68 268.77 L 116.73 269.50 L 116.77 266.40 L 116.82 269.66 L 116.87 271.04 L 116.92 269.98 L 116.96 269.97 L 117.01 268.39 L 117.06 269.11 L 117.11 268.79 L 117.15 270.98 L 117.20 269.05 L 117.25 270.13 L 117.30 270.70 L 117.34 269.94 L 117.39 269.04 L 117.44 270.59 L 117.49 269.20 L 117.53 269.56 L 117.58 270.47 L 117.63 270.41 L 117.68 269.11 L 117.72 270.57 L 117.77 268.08 L 117.82 270.38 L 117.87 270.07 L 117.91 269.22 L 117.96 269.05 L 118.01 270.92 L 118.06 271.31 L 118.10 270.41 L 118.15 268.53 L 118.20 269.91 L 118.25 267.69 L 118.29 270.20 L 118.34 268.36 L 118.39 270.25 L 118.44 270.81 L 118.48 268.66 L 118.53 268.65 L 118.58 268.64 L 118.63 268.86 L 118.67 268.21 L 118.72 270.61 L 118.77 270.38 L 118.82 270.57 L 118.86 269.06 L 118.91 269.13 L 118.96 270.87 L 119.01 270.05 L 119.05 269.43 L 119.10 271.52 L 119.15 269.98 L 119.20 269.83 L 119.24 270.77 L 119.29 270.12 L 119.34 268.74 L 119.39 270.11 L 119.43 269.09 L 119.48 269.09 L 119.53 269.10 L 119.58 270.11 L 119.62 269.75 L 119.67 269.35 L 119.72 269.87 L 119.77 270.58 L 119.81 270.13 L 119.86 270.94 L 119.91 269.79 L 119.96 267.76 L 120.00 270.10 L 120.05 270.80 L 120.10 270.73 L 120.15 270.42 L 120.19 269.59 L 120.24 269.35 L 120.29 269.08 L 120.34 269.45 L 120.38 268.93 L 120.43 268.83 L 120.48 269.48 L 120.53 270.08 L 120.57 268.87 L 120.62 268.78 L 120.67 268.51 L 120.72 269.24 L 120.76 269.48 L 120.81 270.31 L 120.86 270.59 L 120.91 270.41 L 120.95 269.75 L 121.00 268.30 L 121.05 269.38 L 121.10 268.62 L 121.14 270.86 L 121.19 269.63 L 121.24 270.04 L 121.29 271.28 L 121.33 269.86 L 121.38 271.08 L 121.43 271.04 L 121.48 270.77 L 121.52 272.59 L 121.57 270.09 L 121.62 271.52 L 121.67 270.34 L 121.71 273.36 L 121.76 271.63 L 121.81 272.10 L 121.86 271.43 L 121.90 271.48 L 121.95 270.77 L 122.00 269.47 L 122.05 271.06 L 122.09 271.61 L 122.14 270.20 L 122.19 269.53 L 122.24 272.23 L 122.28 269.81 L 122.33 271.25 L 122.38 269.90 L 122.43 270.94 L 122.47 268.99 L 122.52 272.17 L 122.57 270.44 L 122.62 270.02 L 122.66 271.22 L 122.71 269.59 L 122.76 271.01 L 122.81 270.62 L 122.85 268.64 L 122.90 271.04 L 122.95 270.95 L 123.00 270.23 L 123.04 269.70 L 123.09 271.51 L 123.14 271.01 L 123.19 269.07 L 123.23 269.26 L 123.28 270.06 L 123.33 270.40 L 123.38 269.00 L 123.42 270.14 L 123.47 268.92 L 123.52 270.40 L 123.57 269.46 L 123.61 268.67 L 123.66 270.62 L 123.71 272.03 L 123.76 271.88 L 123.80 270.60 L 123.85 270.05 L 123.90 269.31 L 123.95 271.62 L 123.99 270.91 L 124.04 271.09 L 124.09 271.25 L 124.14 270.99 L 124.18 270.42 L 124.23 270.48 L 124.28 270.01 L 124.33 271.31 L 124.37 270.70 L 124.42 272.03 L 124.47 269.29 L 124.52 268.79 L 124.56 270.54 L 124.61 272.15 L 124.66 270.87 L 124.71 270.33 L 124.75 268.67 L 124.80 269.83 L 124.85 269.99 L 124.90 270.55 L 124.94 269.84 L 124.99 269.89 L 125.04 268.94 L 125.09 269.20 L 125.13 271.08 L 125.18 270.25 L 125.23 270.29 L 125.28 269.90 L 125.32 269.67 L 125.37 270.39 L 125.42 269.34 L 125.47 269.51 L 125.51 270.76 L 125.56 271.14 L 125.61 269.58 L 125.66 271.16 L 125.70 271.59 L 125.75 269.65 L 125.80 269.49 L 125.85 269.72 L 125.89 269.80 L 125.94 269.27 L 125.99 270.30 L 126.04 270.74 L 126.08 271.57 L 126.13 268.99 L 126.18 269.35 L 126.23 269.48 L 126.27 270.02 L 126.32 270.45 L 126.37 270.42 L 126.42 271.03 L 126.46 267.66 L 126.51 271.45 L 126.56 270.47 L 126.61 268.87 L 126.65 272.34 L 126.70 270.29 L 126.75 269.38 L 126.80 270.84 L 126.84 269.42 L 126.89 270.16 L 126.94 267.92 L 126.99 269.23 L 127.03 269.86 L 127.08 269.29 L 127.13 270.32 L 127.18 270.98 L 127.22 269.83 L 127.27 269.85 L 127.32 270.44 L 127.37 270.92 L 127.41 269.77 L 127.46 272.43 L 127.51 271.65 L 127.56 270.28 L 127.60 271.16 L 127.65 270.41 L 127.70 270.65 L 127.75 270.83 L 127.79 270.32 L 127.84 270.77 L 127.89 269.93 L 127.94 270.15 L 127.98 272.24 L 128.03 269.73 L 128.08 269.36 L 128.13 271.44 L 128.17 269.70 L 128.22 269.47 L 128.27 268.84 L 128.32 270.12 L 128.36 269.88 L 128.41 270.35 L 128.46 272.07 L 128.51 270.45 L 128.55 271.95 L 128.60 272.33 L 128.65 271.07 L 128.70 270.87 L 128.74 271.91 L 128.79 269.35 L 128.84 270.23 L 128.89 271.12 L 128.93 271.99 L 128.98 271.57 L 129.03 272.31 L 129.08 270.20 L 129.12 270.33 L 129.17 271.62 L 129.22 268.79 L 129.27 271.08 L 129.31 272.68 L 129.36 270.19 L 129.41 270.17 L 129.46 270.50 L 129.50 270.27 L 129.55 271.00 L 129.60 271.21 L 129.65 271.85 L 129.69 271.12 L 129.74 270.09 L 129.79 270.36 L 129.84 272.07 L 129.88 271.22 L 129.93 270.02 L 129.98 270.42 L 130.03 271.09 L 130.07 272.30 L 130.12 271.37 L 130.17 271.71 L 130.22 271.04 L 130.26 270.89 L 130.31 272.82 L 130.36 270.71 L 130.41 272.62 L 130.45 271.15 L 130.50 269.46 L 130.55 270.92 L 130.60 271.06 L 130.64 270.28 L 130.69 270.98 L 130.74 271.20 L 130.79 270.75 L 130.83 270.67 L 130.88 270.37 L 130.93 271.03 L 130.98 271.42 L 131.02 271.55 L 131.07 270.43 L 131.12 270.41 L 131.17 271.74 L 131.21 271.99 L 131.26 273.17 L 131.31 269.62 L 131.36 272.40 L 131.40 271.87 L 131.45 271.90 L 131.50 272.85 L 131.55 270.52 L 131.59 270.94 L 131.64 271.55 L 131.69 272.22 L 131.74 273.04 L 131.78 270.64 L 131.83 271.40 L 131.88 271.74 L 131.93 270.53 L 131.97 270.93 L 132.02 271.77 L 132.07 271.21 L 132.12 272.04 L 132.16 271.11 L 132.21 271.31 L 132.26 271.79 L 132.31 272.65 L 132.35 271.54 L 132.40 270.83 L 132.45 272.06 L 132.50 270.54 L 132.54 269.43 L 132.59 270.90 L 132.64 271.05 L 132.69 271.65 L 132.73 269.32 L 132.78 267.35 L 132.83 270.37 L 132.88 271.39 L 132.92 272.51 L 132.97 271.49 L 133.02 270.79 L 133.07 271.01 L 133.11 271.82 L 133.16 269.93 L 133.21 273.57 L 133.26 272.39 L 133.30 272.35 L 133.35 270.54 L 133.40 271.76 L 133.45 271.51 L 133.49 274.17 L 133.54 270.98 L 133.59 270.84 L 133.64 270.75 L 133.68 272.58 L 133.73 272.57 L 133.78 271.60 L 133.83 270.88 L 133.87 270.10 L 133.92 268.04 L 133.97 270.30 L 134.02 272.30 L 134.06 271.14 L 134.11 270.81 L 134.16 271.22 L 134.21 270.45 L 134.25 271.67 L 134.30 273.29 L 134.35 272.03 L 134.40 272.29 L 134.44 270.28 L 134.49 271.68 L 134.54 272.40 L 134.59 271.37 L 134.63 271.08 L 134.68 272.94 L 134.73 272.91 L 134.78 270.63 L 134.82 271.60 L 134.87 272.06 L 134.92 270.94 L 134.97 271.76 L 135.01 272.81 L 135.06 272.77 L 135.11 271.36 L 135.16 271.35 L 135.20 272.30 L 135.25 270.37 L 135.30 271.58 L 135.35 272.34 L 135.39 270.12 L 135.44 271.93 L 135.49 271.31 L 135.54 269.75 L 135.58 272.59 L 135.63 272.24 L 135.68 271.19 L 135.73 271.21 L 135.77 270.73 L 135.82 272.83 L 135.87 271.86 L 135.92 271.29 L 135.96 270.77 L 136.01 272.21 L 136.06 271.44 L 136.11 270.93 L 136.15 270.97 L 136.20 272.46 L 136.25 271.87 L 136.30 272.37 L 136.34 272.86 L 136.39 271.50 L 136.44 272.16 L 136.49 272.14 L 136.53 270.99 L 136.58 271.95 L 136.63 268.56 L 136.68 272.24 L 136.72 270.51 L 136.77 273.28 L 136.82 272.18 L 136.87 272.31 L 136.91 272.60 L 136.96 272.14 L 137.01 272.61 L 137.06 272.40 L 137.10 272.79 L 137.15 272.66 L 137.20 271.42 L 137.25 271.42 L 137.29 271.99 L 137.34 270.99 L 137.39 272.85 L 137.44 272.84 L 137.48 271.38 L 137.53 270.40 L 137.58 272.00 L 137.63 271.98 L 137.67 271.47 L 137.72 272.84 L 137.77 272.09 L 137.82 272.54 L 137.86 270.83 L 137.91 271.42 L 137.96 273.56 L 138.00 270.21 L 138.05 273.39 L 138.10 271.69 L 138.15 273.10 L 138.19 270.68 L 138.24 272.31 L 138.29 272.98 L 138.34 270.05 L 138.38 270.82 L 138.43 270.62 L 138.48 272.65 L 138.53 271.73 L 138.57 273.21 L 138.62 273.22 L 138.67 270.18 L 138.72 272.46 L 138.76 275.13 L 138.81 272.68 L 138.86 272.29 L 138.91 272.92 L 138.95 268.39 L 139.00 271.13 L 139.05 271.84 L 139.10 272.37 L 139.14 272.20 L 139.19 270.03 L 139.24 271.14 L 139.29 270.92 L 139.33 271.61 L 139.38 271.14 L 139.43 270.23 L 139.48 272.80 L 139.52 270.04 L 139.57 273.43 L 139.62 272.20 L 139.67 270.87 L 139.71 270.91 L 139.76 270.06 L 139.81 271.41 L 139.86 270.59 L 139.90 271.46 L 139.95 271.72 L 140.00 272.45 L 140.05 269.65 L 140.09 271.21 L 140.14 271.26 L 140.19 271.48 L 140.24 271.70 L 140.28 271.53 L 140.33 269.86 L 140.38 272.26 L 140.43 271.52 L 140.47 271.88 L 140.52 270.45 L 140.57 271.57 L 140.62 269.54 L 140.66 271.27 L 140.71 271.85 L 140.76 270.27 L 140.81 269.86 L 140.85 273.00 L 140.90 271.78 L 140.95 270.80 L 141.00 270.80 L 141.04 270.76 L 141.09 271.22 L 141.14 271.77 L 141.19 270.18 L 141.23 271.70 L 141.28 269.91 L 141.33 271.83 L 141.38 269.90 L 141.42 270.68 L 141.47 271.80 L 141.52 270.71 L 141.57 270.87 L 141.61 271.83 L 141.66 271.97 L 141.71 271.85 L 141.76 271.02 L 141.80 272.31 L 141.85 273.02 L 141.90 271.84 L 141.95 272.01 L 141.99 271.93 L 142.04 271.42 L 142.09 271.46 L 142.14 270.55 L 142.18 271.94 L 142.23 270.67 L 142.28 271.38 L 142.33 270.29 L 142.37 268.92 L 142.42 272.25 L 142.47 270.44 L 142.52 271.80 L 142.56 271.13 L 142.61 271.56 L 142.66 269.94 L 142.71 270.90 L 142.75 271.55 L 142.80 270.77 L 142.85 270.16 L 142.90 270.56 L 142.94 272.23 L 142.99 270.42 L 143.04 271.09 L 143.09 271.11 L 143.13 272.44 L 143.18 271.69 L 143.23 270.18 L 143.28 270.96 L 143.32 270.32 L 143.37 272.56 L 143.42 272.12 L 143.47 271.08 L 143.51 273.22 L 143.56 271.49 L 143.61 271.12 L 143.66 272.32 L 143.70 269.22 L 143.75 271.00 L 143.80 267.93 L 143.85 272.42 L 143.89 270.41 L 143.94 270.68 L 143.99 272.86 L 144.04 272.19 L 144.08 269.98 L 144.13 272.07 L 144.18 271.21 L 144.23 272.60 L 144.27 270.52 L 144.32 272.12 L 144.37 270.87 L 144.42 270.45 L 144.46 269.43 L 144.51 272.43 L 144.56 270.75 L 144.61 271.19 L 144.65 270.99 L 144.70 272.02 L 144.75 270.04 L 144.80 273.07 L 144.84 270.01 L 144.89 270.90 L 144.94 270.92 L 144.99 271.72 L 145.03 270.50 L 145.08 270.94 L 145.13 270.42 L 145.18 269.34 L 145.22 269.66 L 145.27 271.49 L 145.32 269.97 L 145.37 271.54 L 145.41 270.63 L 145.46 269.39 L 145.51 271.18 L 145.56 268.34 L 145.60 270.86 L 145.65 271.32 L 145.70 271.30 L 145.75 270.84 L 145.79 269.34 L 145.84 271.21 L 145.89 272.09 L 145.94 271.51 L 145.98 270.80 L 146.03 272.09 L 146.08 273.45 L 146.13 271.67 L 146.17 270.51 L 146.22 270.56 L 146.27 270.74 L 146.32 271.24 L 146.36 270.61 L 146.41 270.36 L 146.46 270.65 L 146.51 270.76 L 146.55 270.67 L 146.60 269.55 L 146.65 269.94 L 146.70 272.40 L 146.74 268.88 L 146.79 271.44 L 146.84 271.30 L 146.89 271.82 L 146.93 270.82 L 146.98 272.37 L 147.03 270.67 L 147.08 271.72 L 147.12 269.88 L 147.17 270.96 L 147.22 269.13 L 147.27 270.43 L 147.31 269.25 L 147.36 271.47 L 147.41 271.34 L 147.46 267.89 L 147.50 270.63 L 147.55 271.34 L 147.60 271.32 L 147.65 271.22 L 147.69 271.67 L 147.74 270.78 L 147.79 270.35 L 147.84 270.85 L 147.88 268.82 L 147.93 271.30 L 147.98 270.84 L 148.03 270.66 L 148.07 270.73 L 148.12 271.39 L 148.17 269.71 L 148.22 270.69 L 148.26 270.04 L 148.31 272.46 L 148.36 269.70 L 148.41 272.38 L 148.45 270.89 L 148.50 270.23 L 148.55 270.36 L 148.60 271.70 L 148.64 270.49 L 148.69 272.27 L 148.74 272.15 L 148.79 272.16 L 148.83 272.76 L 148.88 272.79 L 148.93 270.58 L 148.98 270.94 L 149.02 272.05 L 149.07 271.33 L 149.12 271.11 L 149.17 271.01 L 149.21 271.82 L 149.26 272.15 L 149.31 270.31 L 149.36 271.22 L 149.40 272.36 L 149.45 271.42 L 149.50 273.29 L 149.55 271.51 L 149.59 271.06 L 149.64 271.00 L 149.69 271.98 L 149.74 273.68 L 149.78 270.08 L 149.83 271.51 L 149.88 272.78 L 149.93 272.34 L 149.97 272.39 L 150.02 271.73 L 150.07 273.50 L 150.12 271.92 L 150.16 272.39 L 150.21 271.30 L 150.26 272.51 L 150.31 271.07 L 150.35 271.54 L 150.40 272.66 L 150.45 272.94 L 150.50 273.09 L 150.54 270.70 L 150.59 271.91 L 150.64 270.21 L 150.69 270.34 L 150.73 270.33 L 150.78 270.30 L 150.83 272.23 L 150.88 271.72 L 150.92 272.41 L 150.97 272.43 L 151.02 271.26 L 151.07 272.75 L 151.11 271.90 L 151.16 272.09 L 151.21 273.33 L 151.26 270.81 L 151.30 271.11 L 151.35 272.54 L 151.40 269.80 L 151.45 270.83 L 151.49 270.93 L 151.54 270.59 L 151.59 270.52 L 151.64 271.70 L 151.68 272.43 L 151.73 271.88 L 151.78 272.02 L 151.83 271.90 L 151.87 272.31 L 151.92 271.85 L 151.97 272.50 L 152.02 271.57 L 152.06 271.07 L 152.11 273.99 L 152.16 274.10 L 152.21 272.97 L 152.25 273.92 L 152.30 271.74 L 152.35 271.73 L 152.40 272.28 L 152.44 272.78 L 152.49 273.16 L 152.54 272.81 L 152.59 271.92 L 152.63 272.49 L 152.68 273.08 L 152.73 269.86 L 152.78 272.72 L 152.82 272.11 L 152.87 271.57 L 152.92 270.99 L 152.97 273.33 L 153.01 272.07 L 153.06 270.77 L 153.11 270.55 L 153.16 272.27 L 153.20 272.46 L 153.25 270.60 L 153.30 271.98 L 153.35 270.78 L 153.39 271.35 L 153.44 271.99 L 153.49 272.26 L 153.54 273.52 L 153.58 272.80 L 153.63 272.31 L 153.68 272.46 L 153.73 272.81 L 153.77 273.21 L 153.82 272.41 L 153.87 272.77 L 153.92 272.21 L 153.96 270.27 L 154.01 274.06 L 154.06 271.64 L 154.11 271.16 L 154.15 273.08 L 154.20 270.93 L 154.25 272.68 L 154.30 270.28 L 154.34 272.09 L 154.39 271.88 L 154.44 272.17 L 154.49 273.50 L 154.53 272.72 L 154.58 272.95 L 154.63 272.25 L 154.68 271.06 L 154.72 271.87 L 154.77 272.06 L 154.82 271.49 L 154.87 272.25 L 154.91 270.97 L 154.96 271.60 L 155.01 272.73 L 155.06 271.17 L 155.10 272.81 L 155.15 272.48 L 155.20 270.67 L 155.25 271.81 L 155.29 271.26 L 155.34 272.68 L 155.39 271.29 L 155.44 270.20 L 155.48 271.98 L 155.53 273.05 L 155.58 271.93 L 155.63 272.81 L 155.67 270.83 L 155.72 268.94 L 155.77 272.36 L 155.82 270.79 L 155.86 269.40 L 155.91 271.51 L 155.96 274.52 L 156.01 272.92 L 156.05 273.08 L 156.10 271.96 L 156.15 272.88 L 156.20 272.44 L 156.24 272.55 L 156.29 271.34 L 156.34 273.25 L 156.39 272.56 L 156.43 272.27 L 156.48 271.81 L 156.53 271.75 L 156.58 271.45 L 156.62 271.69 L 156.67 270.71 L 156.72 271.04 L 156.77 270.29 L 156.81 271.72 L 156.86 271.08 L 156.91 271.08 L 156.96 271.34 L 157.00 273.54 L 157.05 271.48 L 157.10 272.62 L 157.15 271.94 L 157.19 272.92 L 157.24 271.66 L 157.29 270.04 L 157.34 271.87 L 157.38 272.29 L 157.43 272.72 L 157.48 270.61 L 157.53 270.68 L 157.57 272.64 L 157.62 272.04 L 157.67 270.09 L 157.72 271.26 L 157.76 269.77 L 157.81 273.62 L 157.86 270.96 L 157.91 272.57 L 157.95 271.76 L 158.00 272.23 L 158.05 272.45 L 158.10 272.45 L 158.14 272.36 L 158.19 272.09 L 158.24 271.75 L 158.29 270.62 L 158.33 272.99 L 158.38 270.49 L 158.43 271.99 L 158.48 274.27 L 158.52 271.34 L 158.57 271.55 L 158.62 272.71 L 158.67 272.07 L 158.71 271.17 L 158.76 273.20 L 158.81 273.69 L 158.86 272.66 L 158.90 273.45 L 158.95 272.47 L 159.00 271.89 L 159.05 273.72 L 159.09 272.24 L 159.14 272.98 L 159.19 273.52 L 159.24 272.58 L 159.28 273.86 L 159.33 273.04 L 159.38 271.98 L 159.43 272.68 L 159.47 272.10 L 159.52 273.58 L 159.57 272.98 L 159.62 272.85 L 159.66 271.72 L 159.71 272.71 L 159.76 272.89 L 159.81 272.33 L 159.85 272.66 L 159.90 272.05 L 159.95 271.58 L 160.00 272.14 L 160.04 270.78 L 160.09 273.16 L 160.14 271.86 L 160.19 271.61 L 160.23 271.32 L 160.28 272.50 L 160.33 271.72 L 160.38 272.07 L 160.42 272.98 L 160.47 271.83 L 160.52 272.91 L 160.57 267.91 L 160.61 273.02 L 160.66 271.91 L 160.71 271.95 L 160.76 273.66 L 160.80 273.66 L 160.85 272.35 L 160.90 272.60 L 160.95 270.90 L 160.99 271.55 L 161.04 271.78 L 161.09 271.69 L 161.14 273.48 L 161.18 271.07 L 161.23 271.05 L 161.28 271.11 L 161.33 271.75 L 161.37 270.99 L 161.42 272.84 L 161.47 272.60 L 161.52 272.16 L 161.56 270.97 L 161.61 273.00 L 161.66 269.27 L 161.71 271.87 L 161.75 270.89 L 161.80 269.81 L 161.85 271.86 L 161.90 271.89 L 161.94 272.41 L 161.99 272.54 L 162.04 270.06 L 162.09 272.04 L 162.13 272.06 L 162.18 271.52 L 162.23 270.10 L 162.28 270.94 L 162.32 271.50 L 162.37 271.43 L 162.42 270.97 L 162.47 269.97 L 162.51 269.73 L 162.56 271.35 L 162.61 269.70 L 162.66 269.03 L 162.70 269.10 L 162.75 271.44 L 162.80 270.46 L 162.85 272.54 L 162.89 270.46 L 162.94 271.86 L 162.99 272.18 L 163.04 272.26 L 163.08 271.28 L 163.13 272.94 L 163.18 271.38 L 163.23 270.28 L 163.27 272.60 L 163.32 270.24 L 163.37 270.73 L 163.42 270.45 L 163.46 270.49 L 163.51 269.47 L 163.56 270.30 L 163.61 270.52 L 163.65 269.99 L 163.70 271.06 L 163.75 269.82 L 163.80 270.98 L 163.84 269.91 L 163.89 271.01 L 163.94 270.17 L 163.99 271.30 L 164.03 271.69 L 164.08 269.84 L 164.13 269.66 L 164.18 268.40 L 164.22 268.00 L 164.27 268.64 L 164.32 269.24 L 164.37 270.49 L 164.41 270.08 L 164.46 269.78 L 164.51 270.46 L 164.56 270.27 L 164.60 269.91 L 164.65 270.41 L 164.70 270.09 L 164.75 270.44 L 164.79 269.49 L 164.84 270.99 L 164.89 269.77 L 164.94 268.83 L 164.98 270.00 L 165.03 270.57 L 165.08 270.77 L 165.13 270.77 L 165.17 269.97 L 165.22 269.93 L 165.27 270.71 L 165.32 266.27 L 165.36 270.67 L 165.41 269.57 L 165.46 268.64 L 165.51 268.79 L 165.55 269.69 L 165.60 269.49 L 165.65 271.20 L 165.70 269.17 L 165.74 270.36 L 165.79 269.29 L 165.84 271.71 L 165.89 271.14 L 165.93 269.73 L 165.98 269.50 L 166.03 270.47 L 166.08 269.47 L 166.12 271.92 L 166.17 270.49 L 166.22 270.26 L 166.27 269.95 L 166.31 269.77 L 166.36 268.85 L 166.41 269.88 L 166.46 270.07 L 166.50 269.29 L 166.55 268.88 L 166.60 270.84 L 166.65 269.64 L 166.69 269.32 L 166.74 269.14 L 166.79 269.88 L 166.84 271.17 L 166.88 271.09 L 166.93 270.23 L 166.98 269.06 L 167.03 272.09 L 167.07 270.17 L 167.12 270.52 L 167.17 270.78 L 167.21 270.24 L 167.26 270.51 L 167.31 269.72 L 167.36 271.72 L 167.40 272.55 L 167.45 271.22 L 167.50 271.52 L 167.55 270.36 L 167.59 271.30 L 167.64 272.35 L 167.69 271.33 L 167.74 272.13 L 167.78 270.69 L 167.83 271.94 L 167.88 270.99 L 167.93 271.03 L 167.97 271.54 L 168.02 271.62 L 168.07 271.30 L 168.12 270.41 L 168.16 270.20 L 168.21 271.68 L 168.26 272.91 L 168.31 269.34 L 168.35 270.37 L 168.40 273.32 L 168.45 271.74 L 168.50 270.03 L 168.54 271.18 L 168.59 271.30 L 168.64 271.19 L 168.69 271.19 L 168.73 271.30 L 168.78 270.56 L 168.83 271.43 L 168.88 271.44 L 168.92 270.19 L 168.97 271.68 L 169.02 272.53 L 169.07 270.87 L 169.11 272.56 L 169.16 271.04 L 169.21 272.43 L 169.26 272.45 L 169.30 269.93 L 169.35 271.90 L 169.40 271.49 L 169.45 271.77 L 169.49 272.08 L 169.54 270.98 L 169.59 272.41 L 169.64 270.82 L 169.68 272.62 L 169.73 274.61 L 169.78 271.82 L 169.83 272.49 L 169.87 271.47 L 169.92 273.32 L 169.97 270.66 L 170.02 271.72 L 170.06 272.63 L 170.11 270.95 L 170.16 271.61 L 170.21 273.06 L 170.25 274.76 L 170.30 272.37 L 170.35 272.64 L 170.40 271.69 L 170.44 273.35 L 170.49 270.80 L 170.54 272.30 L 170.59 271.42 L 170.63 270.80 L 170.68 271.31 L 170.73 272.07 L 170.78 272.07 L 170.82 272.02 L 170.87 272.17 L 170.92 271.87 L 170.97 270.62 L 171.01 271.95 L 171.06 271.14 L 171.11 270.33 L 171.16 271.43 L 171.20 270.50 L 171.25 270.57 L 171.30 272.09 L 171.35 272.56 L 171.39 274.00 L 171.44 271.57 L 171.49 272.97 L 171.54 273.09 L 171.58 272.14 L 171.63 272.10 L 171.68 271.44 L 171.73 272.77 L 171.77 271.91 L 171.82 271.29 L 171.87 271.52 L 171.92 270.59 L 171.96 272.76 L 172.01 272.23 L 172.06 272.68 L 172.11 272.17 L 172.15 272.62 L 172.20 272.52 L 172.25 272.35 L 172.30 268.67 L 172.34 270.97 L 172.39 272.45 L 172.44 272.70 L 172.49 272.51 L 172.53 269.75 L 172.58 271.40 L 172.63 273.83 L 172.68 270.36 L 172.72 271.92 L 172.77 271.79 L 172.82 270.12 L 172.87 271.57 L 172.91 272.00 L 172.96 270.67 L 173.01 270.81 L 173.06 272.72 L 173.10 271.07 L 173.15 272.07 L 173.20 273.70 L 173.25 270.31 L 173.29 271.26 L 173.34 271.65 L 173.39 271.47 L 173.44 270.80 L 173.48 271.98 L 173.53 271.18 L 173.58 271.84 L 173.63 271.25 L 173.67 273.37 L 173.72 270.83 L 173.77 272.15 L 173.82 271.92 L 173.86 270.77 L 173.91 269.12 L 173.96 272.56 L 174.01 272.02 L 174.05 270.98 L 174.10 270.43 L 174.15 272.25 L 174.20 271.07 L 174.24 271.66 L 174.29 271.22 L 174.34 270.53 L 174.39 269.78 L 174.43 270.26 L 174.48 272.15 L 174.53 270.96 L 174.58 272.59 L 174.62 270.79 L 174.67 269.78 L 174.72 270.96 L 174.77 269.92 L 174.81 270.50 L 174.86 272.12 L 174.91 269.03 L 174.96 270.06 L 175.00 269.15 L 175.05 269.10 L 175.10 269.11 L 175.15 270.07 L 175.19 270.55 L 175.24 271.20 L 175.29 269.65 L 175.34 269.08 L 175.38 269.62 L 175.43 268.35 L 175.48 269.97 L 175.53 269.65 L 175.57 270.04 L 175.62 269.38 L 175.67 269.19 L 175.72 268.74 L 175.76 268.81 L 175.81 269.11 L 175.86 268.59 L 175.91 266.79 L 175.95 268.41 L 176.00 269.76 L 176.05 268.33 L 176.10 267.79 L 176.14 267.47 L 176.19 268.16 L 176.24 266.76 L 176.29 266.66 L 176.33 267.70 L 176.38 268.07 L 176.43 267.59 L 176.48 268.85 L 176.52 268.88 L 176.57 268.90 L 176.62 267.84 L 176.67 267.07 L 176.71 269.10 L 176.76 267.75 L 176.81 269.72 L 176.86 268.32 L 176.90 269.49 L 176.95 267.92 L 177.00 269.74 L 177.05 269.18 L 177.09 269.60 L 177.14 269.30 L 177.19 269.65 L 177.24 269.13 L 177.28 269.35 L 177.33 268.97 L 177.38 268.34 L 177.43 268.61 L 177.47 270.56 L 177.52 267.80 L 177.57 268.49 L 177.62 269.17 L 177.66 269.51 L 177.71 269.68 L 177.76 269.02 L 177.81 269.90 L 177.85 269.99 L 177.90 269.04 L 177.95 268.01 L 178.00 268.84 L 178.04 267.81 L 178.09 269.06 L 178.14 268.36 L 178.19 269.88 L 178.23 271.31 L 178.28 271.48 L 178.33 270.12 L 178.38 268.72 L 178.42 270.78 L 178.47 269.02 L 178.52 266.58 L 178.57 268.96 L 178.61 269.71 L 178.66 269.86 L 178.71 269.10 L 178.76 269.43 L 178.80 271.30 L 178.85 270.71 L 178.90 270.72 L 178.95 272.59 L 178.99 269.67 L 179.04 269.65 L 179.09 268.68 L 179.14 270.12 L 179.18 269.38 L 179.23 270.18 L 179.28 269.17 L 179.33 270.89 L 179.37 271.01 L 179.42 270.34 L 179.47 270.63 L 179.52 270.17 L 179.56 270.86 L 179.61 271.19 L 179.66 272.21 L 179.71 270.59 L 179.75 270.71 L 179.80 269.84 L 179.85 269.63 L 179.90 269.91 L 179.94 270.84 L 179.99 271.56 L 180.04 269.58 L 180.09 270.51 L 180.13 270.29 L 180.18 271.75 L 180.23 270.99 L 180.28 271.59 L 180.32 272.57 L 180.37 270.20 L 180.42 271.50 L 180.47 269.02 L 180.51 272.56 L 180.56 271.65 L 180.61 271.51 L 180.66 271.07 L 180.70 271.12 L 180.75 272.50 L 180.80 270.55 L 180.85 271.51 L 180.89 271.29 L 180.94 272.50 L 180.99 271.35 L 181.04 271.37 L 181.08 271.88 L 181.13 271.44 L 181.18 271.96 L 181.23 272.51 L 181.27 273.73 L 181.32 272.87 L 181.37 272.67 L 181.42 272.32 L 181.46 275.33 L 181.51 274.07 L 181.56 271.58 L 181.61 273.85 L 181.65 271.51 L 181.70 271.46 L 181.75 273.96 L 181.80 271.74 L 181.84 272.52 L 181.89 273.51 L 181.94 273.66 L 181.99 273.05 L 182.03 273.63 L 182.08 273.40 L 182.13 272.96 L 182.18 272.99 L 182.22 274.38 L 182.27 273.47 L 182.32 272.70 L 182.37 275.10 L 182.41 271.87 L 182.46 274.42 L 182.51 274.02 L 182.56 273.93 L 182.60 272.90 L 182.65 272.73 L 182.70 272.56 L 182.75 275.09 L 182.79 273.77 L 182.84 274.42 L 182.89 273.99 L 182.94 273.11 L 182.98 274.38 L 183.03 275.46 L 183.08 273.86 L 183.13 270.49 L 183.17 275.06 L 183.22 273.44 L 183.27 273.96 L 183.32 274.60 L 183.36 274.86 L 183.41 273.47 L 183.46 274.20 L 183.51 273.47 L 183.55 275.37 L 183.60 275.52 L 183.65 275.12 L 183.70 272.56 L 183.74 274.64 L 183.79 274.35 L 183.84 273.91 L 183.89 271.99 L 183.93 274.25 L 183.98 274.81 L 184.03 274.41 L 184.08 275.67 L 184.12 273.43 L 184.17 276.27 L 184.22 275.15 L 184.27 273.22 L 184.31 274.42 L 184.36 277.62 L 184.41 276.52 L 184.46 274.78 L 184.50 275.11 L 184.55 275.32 L 184.60 275.76 L 184.65 275.57 L 184.69 274.99 L 184.74 274.60 L 184.79 275.25 L 184.84 275.70 L 184.88 275.98 L 184.93 276.11 L 184.98 275.79 L 185.03 274.55 L 185.07 274.98 L 185.12 275.33 L 185.17 274.08 L 185.22 273.71 L 185.26 276.51 L 185.31 274.65 L 185.36 276.07 L 185.41 275.96 L 185.45 277.17 L 185.50 274.70 L 185.55 273.65 L 185.60 275.34 L 185.64 276.29 L 185.69 274.75 L 185.74 276.76 L 185.79 275.02 L 185.83 274.46 L 185.88 274.91 L 185.93 275.14 L 185.98 275.62 L 186.02 275.36 L 186.07 275.52 L 186.12 276.49 L 186.17 274.06 L 186.21 276.83 L 186.26 274.69 L 186.31 276.35 L 186.36 275.44 L 186.40 276.74 L 186.45 273.70 L 186.50 275.52 L 186.55 275.63 L 186.59 276.06 L 186.64 275.67 L 186.69 275.87 L 186.74 275.71 L 186.78 275.37 L 186.83 277.60 L 186.88 275.13 L 186.93 276.67 L 186.97 276.07 L 187.02 276.84 L 187.07 275.38 L 187.12 273.79 L 187.16 275.67 L 187.21 276.65 L 187.26 274.56 L 187.31 275.11 L 187.35 272.85 L 187.40 276.36 L 187.45 275.39 L 187.50 275.27 L 187.54 275.41 L 187.59 276.43 L 187.64 274.07 L 187.69 275.34 L 187.73 277.15 L 187.78 274.86 L 187.83 274.26 L 187.88 275.62 L 187.92 275.11 L 187.97 275.45 L 188.02 274.20 L 188.07 274.88 L 188.11 274.57 L 188.16 274.54 L 188.21 274.92 L 188.26 276.48 L 188.30 276.41 L 188.35 277.03 L 188.40 273.80 L 188.45 274.37 L 188.49 273.96 L 188.54 273.97 L 188.59 276.05 L 188.64 274.60 L 188.68 275.32 L 188.73 274.39 L 188.78 276.81 L 188.83 276.30 L 188.87 274.58 L 188.92 275.39 L 188.97 274.98 L 189.02 275.22 L 189.06 274.93 L 189.11 276.40 L 189.16 274.87 L 189.21 274.54 L 189.25 274.68 L 189.30 275.47 L 189.35 274.94 L 189.40 276.26 L 189.44 274.56 L 189.49 275.28 L 189.54 275.06 L 189.59 275.97 L 189.63 276.24 L 189.68 274.36 L 189.73 274.55 L 189.78 274.70 L 189.82 276.95 L 189.87 274.67 L 189.92 272.78 L 189.97 275.58 L 190.01 274.54 L 190.06 274.76 L 190.11 275.02 L 190.16 275.32 L 190.20 274.51 L 190.25 275.71 L 190.30 274.67 L 190.35 275.87 L 190.39 274.04 L 190.44 275.30 L 190.49 275.73 L 190.54 274.54 L 190.58 276.61 L 190.63 277.28 L 190.68 276.58 L 190.73 275.28 L 190.77 275.70 L 190.82 274.48 L 190.87 274.15 L 190.92 273.90 L 190.96 274.34 L 191.01 274.55 L 191.06 274.10 L 191.11 274.25 L 191.15 273.46 L 191.20 273.73 L 191.25 274.26 L 191.30 274.56 L 191.34 274.41 L 191.39 275.81 L 191.44 273.99 L 191.49 275.17 L 191.53 275.79 L 191.58 276.95 L 191.63 275.49 L 191.68 275.22 L 191.72 275.60 L 191.77 275.32 L 191.82 275.29 L 191.87 275.30 L 191.91 275.38 L 191.96 274.49 L 192.01 275.52 L 192.06 274.83 L 192.10 275.56 L 192.15 273.66 L 192.20 274.55 L 192.25 275.47 L 192.29 276.91 L 192.34 276.23 L 192.39 276.09 L 192.44 275.27 L 192.48 274.82 L 192.53 275.56 L 192.58 276.73 L 192.63 276.77 L 192.67 274.53 L 192.72 274.77 L 192.77 274.06 L 192.82 274.98 L 192.86 275.52 L 192.91 274.55 L 192.96 274.51 L 193.01 274.85 L 193.05 275.47 L 193.10 276.16 L 193.15 275.70 L 193.20 276.38 L 193.24 273.61 L 193.29 275.45 L 193.34 272.73 L 193.39 273.11 L 193.43 275.26 L 193.48 275.46 L 193.53 275.07 L 193.58 274.03 L 193.62 274.79 L 193.67 274.04 L 193.72 275.91 L 193.77 274.62 L 193.81 276.16 L 193.86 273.98 L 193.91 274.24 L 193.96 273.87 L 194.00 274.93 L 194.05 275.13 L 194.10 274.93 L 194.15 275.96 L 194.19 275.78 L 194.24 274.43 L 194.29 274.55 L 194.34 275.96 L 194.38 276.88 L 194.43 276.02 L 194.48 275.17 L 194.53 274.79 L 194.57 275.28 L 194.62 275.31 L 194.67 275.44 L 194.72 274.66 L 194.76 275.12 L 194.81 275.34 L 194.86 274.57 L 194.91 277.03 L 194.95 275.99 L 195.00 272.84 L 195.05 275.36 L 195.10 271.71 L 195.14 274.36 L 195.19 274.51 L 195.24 276.10 L 195.29 275.33 L 195.33 276.04 L 195.38 275.46 L 195.43 275.34 L 195.48 274.82 L 195.52 273.18 L 195.57 275.65 L 195.62 274.21 L 195.67 276.51 L 195.71 274.45 L 195.76 274.17 L 195.81 275.78 L 195.86 275.13 L 195.90 274.46 L 195.95 275.14 L 196.00 273.34 L 196.05 274.91 L 196.09 276.86 L 196.14 276.06 L 196.19 274.09 L 196.24 277.12 L 196.28 276.44 L 196.33 277.01 L 196.38 275.27 L 196.42 276.36 L 196.47 275.26 L 196.52 277.00 L 196.57 275.82 L 196.61 275.10 L 196.66 275.28 L 196.71 275.08 L 196.76 274.60 L 196.80 275.97 L 196.85 275.07 L 196.90 274.84 L 196.95 274.90 L 196.99 276.55 L 197.04 275.47 L 197.09 274.96 L 197.14 274.62 L 197.18 275.16 L 197.23 276.76 L 197.28 275.53 L 197.33 274.68 L 197.37 274.56 L 197.42 274.75 L 197.47 273.59 L 197.52 275.55 L 197.56 274.93 L 197.61 275.14 L 197.66 274.64 L 197.71 275.04 L 197.75 276.88 L 197.80 277.26 L 197.85 274.38 L 197.90 275.28 L 197.94 276.16 L 197.99 276.24 L 198.04 275.38 L 198.09 276.53 L 198.13 273.81 L 198.18 275.02 L 198.23 276.22 L 198.28 275.72 L 198.32 275.17 L 198.37 276.59 L 198.42 274.80 L 198.47 275.01 L 198.51 276.89 L 198.56 276.86 L 198.61 276.65 L 198.66 276.59 L 198.70 275.60 L 198.75 274.41 L 198.80 276.15 L 198.85 275.47 L 198.89 275.51 L 198.94 274.39 L 198.99 276.31 L 199.04 275.93 L 199.08 274.46 L 199.13 276.80 L 199.18 277.99 L 199.23 274.87 L 199.27 276.11 L 199.32 275.63 L 199.37 276.12 L 199.42 273.71 L 199.46 275.72 L 199.51 278.01 L 199.56 274.68 L 199.61 276.89 L 199.65 275.59 L 199.70 276.16 L 199.75 275.57 L 199.80 275.62 L 199.84 276.12 L 199.89 274.61 L 199.94 275.27 L 199.99 274.47 L 200.03 273.89 L 200.08 275.63 L 200.13 276.06 L 200.18 275.88 L 200.22 274.70 L 200.27 275.64 L 200.32 274.54 L 200.37 275.32 L 200.41 277.63 L 200.46 275.38 L 200.51 275.41 L 200.56 276.73 L 200.60 275.68 L 200.65 275.30 L 200.70 276.35 L 200.75 275.80 L 200.79 274.91 L 200.84 276.55 L 200.89 275.36 L 200.94 276.52 L 200.98 274.46 L 201.03 275.49 L 201.08 274.55 L 201.13 274.18 L 201.17 275.71 L 201.22 275.67 L 201.27 274.12 L 201.32 275.85 L 201.36 274.20 L 201.41 274.06 L 201.46 274.88 L 201.51 278.79 L 201.55 276.22 L 201.60 275.10 L 201.65 276.62 L 201.70 275.68 L 201.74 273.60 L 201.79 276.94 L 201.84 277.99 L 201.89 276.21 L 201.93 273.16 L 201.98 275.62 L 202.03 273.88 L 202.08 275.82 L 202.12 274.43 L 202.17 274.91 L 202.22 275.23 L 202.27 276.40 L 202.31 276.55 L 202.36 275.56 L 202.41 275.00 L 202.46 274.13 L 202.50 277.31 L 202.55 276.57 L 202.60 274.94 L 202.65 275.83 L 202.69 275.66 L 202.74 276.77 L 202.79 275.70 L 202.84 274.33 L 202.88 276.21 L 202.93 275.64 L 202.98 273.75 L 203.03 276.15 L 203.07 276.19 L 203.12 275.16 L 203.17 275.76 L 203.22 274.89 L 203.26 273.73 L 203.31 274.84 L 203.36 275.50 L 203.41 274.66 L 203.45 276.06 L 203.50 274.02 L 203.55 274.45 L 203.60 274.86 L 203.64 275.37 L 203.69 273.76 L 203.74 274.46 L 203.79 274.44 L 203.83 274.80 L 203.88 275.40 L 203.93 274.06 L 203.98 276.19 L 204.02 275.24 L 204.07 274.81 L 204.12 275.08 L 204.17 273.93 L 204.21 275.68 L 204.26 275.95 L 204.31 274.41 L 204.36 275.74 L 204.40 275.07 L 204.45 272.89 L 204.50 273.31 L 204.55 273.40 L 204.59 275.50 L 204.64 273.38 L 204.69 272.98 L 204.74 272.96 L 204.78 273.40 L 204.83 273.21 L 204.88 274.07 L 204.93 274.22 L 204.97 274.53 L 205.02 272.94 L 205.07 274.76 L 205.12 273.57 L 205.16 272.03 L 205.21 274.79 L 205.26 274.20 L 205.31 274.15 L 205.35 274.03 L 205.40 273.85 L 205.45 274.37 L 205.50 274.40 L 205.54 273.46 L 205.59 272.82 L 205.64 274.57 L 205.69 272.49 L 205.73 275.00 L 205.78 272.26 L 205.83 272.57 L 205.88 270.70 L 205.92 273.82 L 205.97 273.05 L 206.02 273.53 L 206.07 274.36 L 206.11 272.41 L 206.16 274.07 L 206.21 272.29 L 206.26 275.65 L 206.30 273.20 L 206.35 273.05 L 206.40 273.91 L 206.45 272.99 L 206.49 272.94 L 206.54 273.98 L 206.59 274.81 L 206.64 271.06 L 206.68 273.22 L 206.73 273.52 L 206.78 272.84 L 206.83 271.61 L 206.87 273.15 L 206.92 272.88 L 206.97 273.24 L 207.02 272.86 L 207.06 272.64 L 207.11 272.51 L 207.16 273.68 L 207.21 273.27 L 207.25 274.85 L 207.30 274.09 L 207.35 273.18 L 207.40 273.83 L 207.44 274.99 L 207.49 272.01 L 207.54 272.19 L 207.59 273.54 L 207.63 273.26 L 207.68 272.02 L 207.73 273.90 L 207.78 272.59 L 207.82 272.83 L 207.87 272.90 L 207.92 273.29 L 207.97 273.16 L 208.01 275.84 L 208.06 273.04 L 208.11 274.49 L 208.16 274.51 L 208.20 273.17 L 208.25 273.95 L 208.30 275.35 L 208.35 272.68 L 208.39 274.30 L 208.44 274.09 L 208.49 272.25 L 208.54 273.90 L 208.58 275.68 L 208.63 272.81 L 208.68 275.24 L 208.73 273.46 L 208.77 274.11 L 208.82 272.22 L 208.87 274.28 L 208.92 274.05 L 208.96 273.16 L 209.01 273.79 L 209.06 275.38 L 209.11 273.47 L 209.15 274.33 L 209.20 274.87 L 209.25 276.55 L 209.30 273.50 L 209.34 274.54 L 209.39 274.88 L 209.44 273.83 L 209.49 275.41 L 209.53 273.56 L 209.58 274.77 L 209.63 274.28 L 209.68 274.18 L 209.72 275.46 L 209.77 276.41 L 209.82 274.96 L 209.87 275.16 L 209.91 274.47 L 209.96 274.92 L 210.01 276.01 L 210.06 275.45 L 210.10 275.72 L 210.15 273.71 L 210.20 273.70 L 210.25 273.85 L 210.29 274.96 L 210.34 275.90 L 210.39 276.07 L 210.44 274.04 L 210.48 275.98 L 210.53 276.74 L 210.58 274.65 L 210.63 274.33 L 210.67 275.96 L 210.72 275.02 L 210.77 276.15 L 210.82 273.73 L 210.86 275.59 L 210.91 275.33 L 210.96 275.18 L 211.01 274.57 L 211.05 275.89 L 211.10 274.58 L 211.15 275.05 L 211.20 275.77 L 211.24 275.67 L 211.29 274.51 L 211.34 274.27 L 211.39 274.78 L 211.43 276.25 L 211.48 275.95 L 211.53 274.86 L 211.58 274.01 L 211.62 276.42 L 211.67 276.11 L 211.72 276.16 L 211.77 275.66 L 211.81 275.32 L 211.86 275.71 L 211.91 275.30 L 211.96 276.48 L 212.00 277.02 L 212.05 277.05 L 212.10 275.94 L 212.15 275.16 L 212.19 274.56 L 212.24 277.37 L 212.29 275.98 L 212.34 277.32 L 212.38 276.23 L 212.43 277.28 L 212.48 277.56 L 212.53 277.87 L 212.57 275.41 L 212.62 275.67 L 212.67 273.30 L 212.72 275.38 L 212.76 276.90 L 212.81 275.51 L 212.86 277.60 L 212.91 275.60 L 212.95 276.55 L 213.00 277.45 L 213.05 277.24 L 213.10 276.72 L 213.14 273.80 L 213.19 275.52 L 213.24 277.05 L 213.29 275.40 L 213.33 275.45 L 213.38 275.74 L 213.43 277.23 L 213.48 276.29 L 213.52 277.12 L 213.57 275.03 L 213.62 275.92 L 213.67 276.54 L 213.71 276.32 L 213.76 275.61 L 213.81 276.39 L 213.86 276.24 L 213.90 275.21 L 213.95 276.74 L 214.00 276.91 L 214.05 276.86 L 214.09 277.11 L 214.14 276.16 L 214.19 274.51 L 214.24 278.32 L 214.28 276.69 L 214.33 276.71 L 214.38 276.01 L 214.43 276.74 L 214.47 278.14 L 214.52 276.37 L 214.57 274.99 L 214.62 276.95 L 214.66 276.26 L 214.71 276.69 L 214.76 277.31 L 214.81 277.51 L 214.85 277.06 L 214.90 275.50 L 214.95 277.41 L 215.00 276.28 L 215.04 276.57 L 215.09 277.14 L 215.14 278.26 L 215.19 277.12 L 215.23 276.38 L 215.28 275.19 L 215.33 278.27 L 215.38 277.47 L 215.42 277.70 L 215.47 277.92 L 215.52 277.51 L 215.57 278.70 L 215.61 277.33 L 215.66 276.35 L 215.71 277.53 L 215.76 277.27 L 215.80 276.64 L 215.85 277.43 L 215.90 277.19 L 215.95 277.00 L 215.99 276.70 L 216.04 277.13 L 216.09 278.37 L 216.14 276.24 L 216.18 277.25 L 216.23 276.78 L 216.28 278.05 L 216.33 276.46 L 216.37 276.01 L 216.42 277.28 L 216.47 277.81 L 216.52 277.63 L 216.56 276.41 L 216.61 278.13 L 216.66 276.18 L 216.71 276.28 L 216.75 276.92 L 216.80 276.14 L 216.85 277.15 L 216.90 276.92 L 216.94 277.35 L 216.99 277.34 L 217.04 278.98 L 217.09 275.88 L 217.13 278.97 L 217.18 276.98 L 217.23 277.95 L 217.28 273.54 L 217.32 278.32 L 217.37 276.91 L 217.42 277.35 L 217.47 277.50 L 217.51 277.01 L 217.56 276.15 L 217.61 277.66 L 217.66 275.92 L 217.70 276.45 L 217.75 276.28 L 217.80 278.33 L 217.85 277.65 L 217.89 276.65 L 217.94 277.27 L 217.99 275.70 L 218.04 277.01 L 218.08 275.82 L 218.13 278.25 L 218.18 277.69 L 218.23 276.53 L 218.27 277.24 L 218.32 277.99 L 218.37 277.13 L 218.42 277.64 L 218.46 276.83 L 218.51 276.75 L 218.56 278.45 L 218.61 276.16 L 218.65 276.24 L 218.70 277.74 L 218.75 276.42 L 218.80 277.11 L 218.84 277.48 L 218.89 277.84 L 218.94 275.88 L 218.99 276.69 L 219.03 275.70 L 219.08 276.49 L 219.13 275.32 L 219.18 277.83 L 219.22 275.99 L 219.27 276.47 L 219.32 279.12 L 219.37 276.66 L 219.41 275.31 L 219.46 274.51 L 219.51 276.50 L 219.56 276.82 L 219.60 276.35 L 219.65 276.96 L 219.70 276.73 L 219.75 276.68 L 219.79 278.05 L 219.84 276.36 L 219.89 276.41 L 219.94 276.20 L 219.98 275.35 L 220.03 277.02 L 220.08 277.18 L 220.13 277.25 L 220.17 276.86 L 220.22 276.01 L 220.27 276.87 L 220.32 276.89 L 220.36 277.32 L 220.41 276.84 L 220.46 275.67 L 220.51 276.06 L 220.55 277.04 L 220.60 276.43 L 220.65 277.45 L 220.70 275.50 L 220.74 276.74 L 220.79 276.64 L 220.84 277.48 L 220.89 277.06 L 220.93 276.18 L 220.98 275.47 L 221.03 276.29 L 221.08 275.38 L 221.12 276.89 L 221.17 275.77 L 221.22 277.40 L 221.27 276.43 L 221.31 275.73 L 221.36 276.08 L 221.41 276.78 L 221.46 276.13 L 221.50 277.19 L 221.55 276.72 L 221.60 274.82 L 221.65 275.35 L 221.69 277.13 L 221.74 274.58 L 221.79 276.36 L 221.84 274.73 L 221.88 276.83 L 221.93 275.78 L 221.98 274.83 L 222.03 273.95 L 222.07 277.55 L 222.12 275.64 L 222.17 274.60 L 222.22 276.36 L 222.26 276.49 L 222.31 276.02 L 222.36 276.43 L 222.41 276.88 L 222.45 274.33 L 222.50 272.92 L 222.55 277.44 L 222.60 277.25 L 222.64 276.12 L 222.69 277.66 L 222.74 277.63 L 222.79 277.05 L 222.83 275.48 L 222.88 274.79 L 222.93 276.63 L 222.98 276.07 L 223.02 277.77 L 223.07 276.28 L 223.12 277.00 L 223.17 275.27 L 223.21 276.22 L 223.26 277.07 L 223.31 275.65 L 223.36 275.68 L 223.40 276.75 L 223.45 274.62 L 223.50 276.82 L 223.55 275.14 L 223.59 276.67 L 223.64 275.79 L 223.69 277.18 L 223.74 276.68 L 223.78 276.17 L 223.83 276.31 L 223.88 274.80 L 223.93 275.08 L 223.97 276.39 L 224.02 274.76 L 224.07 276.52 L 224.12 276.72 L 224.16 274.36 L 224.21 274.00 L 224.26 275.27 L 224.31 275.93 L 224.35 275.48 L 224.40 275.40 L 224.45 275.72 L 224.50 276.83 L 224.54 276.88 L 224.59 275.74 L 224.64 275.98 L 224.69 274.41 L 224.73 276.64 L 224.78 277.14 L 224.83 275.75 L 224.88 276.09 L 224.92 274.91 L 224.97 274.65 L 225.02 276.07 L 225.07 276.44 L 225.11 275.48 L 225.16 275.49 L 225.21 277.23 L 225.26 274.62 L 225.30 274.63 L 225.35 275.00 L 225.40 275.74 L 225.45 275.99 L 225.49 275.12 L 225.54 275.25 L 225.59 276.37 L 225.63 276.60 L 225.68 275.58 L 225.73 274.51 L 225.78 275.97 L 225.82 276.24 L 225.87 277.72 L 225.92 276.06 L 225.97 275.78 L 226.01 275.70 L 226.06 274.07 L 226.11 275.92 L 226.16 276.18 L 226.20 275.84 L 226.25 276.16 L 226.30 276.55 L 226.35 274.06 L 226.39 274.65 L 226.44 274.49 L 226.49 273.51 L 226.54 275.77 L 226.58 275.24 L 226.63 275.64 L 226.68 275.41 L 226.73 274.85 L 226.77 278.02 L 226.82 274.45 L 226.87 275.09 L 226.92 275.41 L 226.96 275.33 L 227.01 275.39 L 227.06 275.69 L 227.11 275.39 L 227.15 274.34 L 227.20 275.93 L 227.25 275.87 L 227.30 274.83 L 227.34 274.67 L 227.39 275.02 L 227.44 275.70 L 227.49 275.77 L 227.53 274.06 L 227.58 276.90 L 227.63 274.00 L 227.68 276.80 L 227.72 276.13 L 227.77 277.41 L 227.82 277.15 L 227.87 276.22 L 227.91 276.96 L 227.96 275.58 L 228.01 276.69 L 228.06 273.89 L 228.10 276.62 L 228.15 276.09 L 228.20 274.75 L 228.25 274.11 L 228.29 274.71 L 228.34 275.77 L 228.39 275.80 L 228.44 274.55 L 228.48 274.45 L 228.53 277.60 L 228.58 274.85 L 228.63 275.00 L 228.67 276.86 L 228.72 275.34 L 228.77 275.19 L 228.82 276.19 L 228.86 275.95 L 228.91 273.85 L 228.96 274.19 L 229.01 275.06 L 229.05 274.81 L 229.10 274.82 L 229.15 274.18 L 229.20 275.40 L 229.24 275.42 L 229.29 276.63 L 229.34 274.20 L 229.39 274.79 L 229.43 276.54 L 229.48 275.38 L 229.53 276.34 L 229.58 276.06 L 229.62 277.22 L 229.67 275.85 L 229.72 274.30 L 229.77 275.42 L 229.81 273.76 L 229.86 276.54 L 229.91 274.61 L 229.96 275.49 L 230.00 275.14 L 230.05 276.13 L 230.10 276.44 L 230.15 275.69 L 230.19 275.92 L 230.24 275.83 L 230.29 274.09 L 230.34 276.91 L 230.38 275.98 L 230.43 275.74 L 230.48 275.91 L 230.53 276.72 L 230.57 275.02 L 230.62 276.30 L 230.67 275.73 L 230.72 277.46 L 230.76 276.36 L 230.81 275.50 L 230.86 274.76 L 230.91 277.15 L 230.95 274.97 L 231.00 275.34 L 231.05 276.36 L 231.10 276.14 L 231.14 276.18 L 231.19 275.37 L 231.24 274.31 L 231.29 277.06 L 231.33 277.43 L 231.38 277.17 L 231.43 276.12 L 231.48 276.76 L 231.52 275.83 L 231.57 278.51 L 231.62 276.29 L 231.67 276.04 L 231.71 276.12 L 231.76 275.20 L 231.81 277.15 L 231.86 275.62 L 231.90 273.89 L 231.95 277.90 L 232.00 277.52 L 232.05 276.99 L 232.09 277.70 L 232.14 276.22 L 232.19 276.34 L 232.24 276.84 L 232.28 276.36 L 232.33 277.60 L 232.38 277.30 L 232.43 276.13 L 232.47 275.72 L 232.52 276.86 L 232.57 276.78 L 232.62 276.31 L 232.66 275.63 L 232.71 277.56 L 232.76 278.03 L 232.81 276.61 L 232.85 274.91 L 232.90 277.97 L 232.95 277.74 L 233.00 278.07 L 233.04 278.43 L 233.09 276.97 L 233.14 278.01 L 233.19 277.12 L 233.23 276.50 L 233.28 275.94 L 233.33 276.31 L 233.38 276.98 L 233.42 278.33 L 233.47 276.24 L 233.52 276.88 L 233.57 276.13 L 233.61 275.37 L 233.66 275.67 L 233.71 275.60 L 233.76 277.25 L 233.80 275.32 L 233.85 277.48 L 233.90 275.17 L 233.95 279.10 L 233.99 275.51 L 234.04 275.44 L 234.09 275.78 L 234.14 274.89 L 234.18 278.23 L 234.23 276.04 L 234.28 278.83 L 234.33 277.03 L 234.37 277.10 L 234.42 275.32 L 234.47 277.88 L 234.52 278.35 L 234.56 279.08 L 234.61 276.13 L 234.66 277.35 L 234.71 277.11 L 234.75 277.98 L 234.80 277.26 L 234.85 278.97 L 234.90 278.17 L 234.94 277.83 L 234.99 275.94 L 235.04 278.36 L 235.09 276.56 L 235.13 277.28 L 235.18 276.41 L 235.23 277.51 L 235.28 277.03 L 235.32 278.85 L 235.37 278.65 L 235.42 278.44 L 235.47 278.36 L 235.51 277.20 L 235.56 276.30 L 235.61 276.15 L 235.66 276.53 L 235.70 277.56 L 235.75 278.22 L 235.80 278.67 L 235.85 278.01 L 235.89 276.57 L 235.94 277.39 L 235.99 277.75 L 236.04 276.89 L 236.08 278.91 L 236.13 277.86 L 236.18 277.81 L 236.23 278.60 L 236.27 276.91 L 236.32 276.16 L 236.37 276.97 L 236.42 277.43 L 236.46 278.36 L 236.51 275.17 L 236.56 277.05 L 236.61 276.39 L 236.65 278.39 L 236.70 275.64 L 236.75 276.05 L 236.80 277.46 L 236.84 275.84 L 236.89 276.63 L 236.94 277.72 L 236.99 277.11 L 237.03 276.45 L 237.08 276.65 L 237.13 278.02 L 237.18 276.89 L 237.22 277.68 L 237.27 278.13 L 237.32 279.50 L 237.37 278.15 L 237.41 275.80 L 237.46 277.33 L 237.51 277.34 L 237.56 277.39 L 237.60 279.27 L 237.65 276.50 L 237.70 278.84 L 237.75 276.77 L 237.79 278.01 L 237.84 276.62 L 237.89 276.75 L 237.94 277.65 L 237.98 278.02 L 238.03 279.15 L 238.08 277.19 L 238.13 276.57 L 238.17 275.80 L 238.22 279.13 L 238.27 277.97 L 238.32 275.33 L 238.36 276.96 L 238.41 277.44 L 238.46 277.16 L 238.51 278.68 L 238.55 276.91 L 238.60 277.91 L 238.65 274.67 L 238.70 277.73 L 238.74 277.81 L 238.79 277.04 L 238.84 279.25 L 238.89 277.78 L 238.93 278.00 L 238.98 278.32 L 239.03 275.00 L 239.08 277.06 L 239.12 279.43 L 239.17 277.07 L 239.22 276.49 L 239.27 277.71 L 239.31 277.53 L 239.36 276.53 L 239.41 279.32 L 239.46 275.53 L 239.50 278.11 L 239.55 278.46 L 239.60 275.09 L 239.65 277.96 L 239.69 277.20 L 239.74 278.65 L 239.79 278.18 L 239.84 278.23 L 239.88 278.61 L 239.93 278.81 L 239.98 277.18 L 240.03 276.65 L 240.07 277.21 L 240.12 277.87 L 240.17 278.18 L 240.22 276.57 L 240.26 277.34 L 240.31 278.89 L 240.36 277.49 L 240.41 278.46 L 240.45 279.29 L 240.50 277.51 L 240.55 276.80 L 240.60 277.15 L 240.64 277.24 L 240.69 274.69 L 240.74 277.66 L 240.79 278.88 L 240.83 278.00 L 240.88 278.35 L 240.93 277.49 L 240.98 279.32 L 241.02 278.16 L 241.07 278.65 L 241.12 277.05 L 241.17 276.84 L 241.21 276.85 L 241.26 278.16 L 241.31 277.03 L 241.36 277.80 L 241.40 278.56 L 241.45 276.51 L 241.50 278.35 L 241.55 276.69 L 241.59 275.86 L 241.64 278.60 L 241.69 276.46 L 241.74 278.69 L 241.78 277.60 L 241.83 279.26 L 241.88 276.87 L 241.93 275.45 L 241.97 277.59 L 242.02 276.58 L 242.07 276.68 L 242.12 277.51 L 242.16 277.04 L 242.21 277.13 L 242.26 277.00 L 242.31 278.67 L 242.35 277.79 L 242.40 280.39 L 242.45 277.77 L 242.50 277.03 L 242.54 279.14 L 242.59 278.48 L 242.64 277.86 L 242.69 276.76 L 242.73 278.34 L 242.78 276.86 L 242.83 279.01 L 242.88 277.53 L 242.92 277.13 L 242.97 277.65 L 243.02 280.30 L 243.07 277.68 L 243.11 277.12 L 243.16 279.61 L 243.21 278.35 L 243.26 277.83 L 243.30 277.76 L 243.35 277.86 L 243.40 277.81 L 243.45 278.91 L 243.49 277.60 L 243.54 278.96 L 243.59 278.72 L 243.64 278.81 L 243.68 275.87 L 243.73 277.54 L 243.78 278.58 L 243.83 278.47 L 243.87 277.63 L 243.92 277.66 L 243.97 278.39 L 244.02 277.63 L 244.06 278.82 L 244.11 277.69 L 244.16 277.94 L 244.21 278.10 L 244.25 278.05 L 244.30 277.87 L 244.35 278.27 L 244.40 278.32 L 244.44 277.46 L 244.49 277.61 L 244.54 279.24 L 244.59 278.23 L 244.63 276.99 L 244.68 278.74 L 244.73 279.38 L 244.78 278.67 L 244.82 278.12 L 244.87 278.73 L 244.92 278.35 L 244.97 277.68 L 245.01 278.41 L 245.06 276.07 L 245.11 278.51 L 245.16 277.80 L 245.20 275.81 L 245.25 276.20 L 245.30 277.62 L 245.35 278.23 L 245.39 278.87 L 245.44 276.75 L 245.49 277.74 L 245.54 276.84 L 245.58 275.95 L 245.63 277.08 L 245.68 277.60 L 245.73 277.34 L 245.77 277.76 L 245.82 277.72 L 245.87 275.78 L 245.92 278.68 L 245.96 277.72 L 246.01 276.72 L 246.06 277.04 L 246.11 276.97 L 246.15 276.66 L 246.20 276.37 L 246.25 276.87 L 246.30 275.68 L 246.34 276.33 L 246.39 276.08 L 246.44 276.85 L 246.49 276.39 L 246.53 277.45 L 246.58 278.06 L 246.63 278.27 L 246.68 277.46 L 246.72 276.44 L 246.77 275.84 L 246.82 276.27 L 246.87 275.82 L 246.91 276.55 L 246.96 278.38 L 247.01 277.31 L 247.06 277.67 L 247.10 276.74 L 247.15 276.88 L 247.20 278.16 L 247.25 277.28 L 247.29 276.68 L 247.34 275.63 L 247.39 277.81 L 247.44 277.64 L 247.48 276.40 L 247.53 277.24 L 247.58 276.60 L 247.63 276.13 L 247.67 277.42 L 247.72 276.50 L 247.77 275.73 L 247.82 275.72 L 247.86 275.93 L 247.91 275.60 L 247.96 277.27 L 248.01 275.81 L 248.05 275.87 L 248.10 277.21 L 248.15 276.03 L 248.20 273.45 L 248.24 277.10 L 248.29 277.08 L 248.34 277.23 L 248.39 275.84 L 248.43 276.85 L 248.48 275.56 L 248.53 277.53 L 248.58 276.00 L 248.62 278.16 L 248.67 277.13 L 248.72 276.45 L 248.77 275.73 L 248.81 274.29 L 248.86 276.60 L 248.91 276.33 L 248.96 276.80 L 249.00 277.26 L 249.05 277.02 L 249.10 277.30 L 249.15 276.72 L 249.19 276.25 L 249.24 275.23 L 249.29 275.19 L 249.34 277.01 L 249.38 276.59 L 249.43 277.01 L 249.48 277.05 L 249.53 276.97 L 249.57 276.57 L 249.62 277.08 L 249.67 275.98 L 249.72 276.57 L 249.76 277.13 L 249.81 276.93 L 249.86 276.79 L 249.91 276.23 L 249.95 276.73 L 250.00 276.12 L 250.05 274.28 L 250.10 276.62 L 250.14 276.51 L 250.19 278.47 L 250.24 277.62 L 250.29 275.33 L 250.33 276.81 L 250.38 276.19 L 250.43 275.48 L 250.48 274.88 L 250.52 275.64 L 250.57 275.23 L 250.62 275.47 L 250.67 275.41 L 250.71 277.39 L 250.76 277.96 L 250.81 276.72 L 250.86 274.23 L 250.90 276.57 L 250.95 274.10 L 251.00 275.39 L 251.05 277.19 L 251.09 275.89 L 251.14 276.73 L 251.19 275.65 L 251.24 276.35 L 251.28 276.49 L 251.33 275.80 L 251.38 274.79 L 251.43 275.91 L 251.47 275.51 L 251.52 276.04 L 251.57 275.73 L 251.62 276.20 L 251.66 274.16 L 251.71 274.98 L 251.76 274.31 L 251.81 276.09 L 251.85 275.30 L 251.90 276.21 L 251.95 277.31 L 252.00 274.94 L 252.04 274.69 L 252.09 275.34 L 252.14 275.15 L 252.19 275.91 L 252.23 275.53 L 252.28 275.29 L 252.33 277.39 L 252.38 274.77 L 252.42 274.19 L 252.47 276.80 L 252.52 275.93 L 252.57 275.68 L 252.61 276.37 L 252.66 275.27 L 252.71 274.31 L 252.76 275.92 L 252.80 275.15 L 252.85 272.93 L 252.90 274.96 L 252.95 273.78 L 252.99 275.40 L 253.04 276.20 L 253.09 274.81 L 253.14 274.85 L 253.18 275.93 L 253.23 275.32 L 253.28 276.51 L 253.33 276.38 L 253.37 275.24 L 253.42 275.89 L 253.47 274.39 L 253.52 276.05 L 253.56 276.31 L 253.61 276.20 L 253.66 274.24 L 253.71 274.80 L 253.75 274.37 L 253.80 275.95 L 253.85 275.74 L 253.90 274.47 L 253.94 276.08 L 253.99 276.70 L 254.04 277.36 L 254.09 273.68 L 254.13 274.82 L 254.18 273.91 L 254.23 275.46 L 254.28 275.98 L 254.32 274.97 L 254.37 275.02 L 254.42 275.56 L 254.47 276.33 L 254.51 276.10 L 254.56 276.63 L 254.61 275.20 L 254.66 274.54 L 254.70 273.65 L 254.75 274.86 L 254.80 275.74 L 254.85 275.24 L 254.89 277.37 L 254.94 274.26 L 254.99 276.72 L 255.03 274.88 L 255.08 275.90 L 255.13 276.07 L 255.18 275.42 L 255.22 274.69 L 255.27 273.83 L 255.32 275.17 L 255.37 273.21 L 255.41 274.19 L 255.46 275.48 L 255.51 277.52 L 255.56 271.53 L 255.60 275.75 L 255.65 275.68 L 255.70 276.87 L 255.75 275.55 L 255.79 275.09 L 255.84 275.26 L 255.89 275.35 L 255.94 274.24 L 255.98 274.74 L 256.03 274.54 L 256.08 275.92 L 256.13 275.15 L 256.17 273.95 L 256.22 275.57 L 256.27 275.41 L 256.32 274.34 L 256.36 274.30 L 256.41 274.14 L 256.46 273.77 L 256.51 274.19 L 256.55 273.44 L 256.60 274.92 L 256.65 276.60 L 256.70 275.54 L 256.74 276.88 L 256.79 275.02 L 256.84 274.91 L 256.89 274.39 L 256.93 273.89 L 256.98 276.62 L 257.03 274.94 L 257.08 274.74 L 257.12 277.00 L 257.17 276.35 L 257.22 274.41 L 257.27 273.95 L 257.31 274.98 L 257.36 275.55 L 257.41 275.60 L 257.46 275.88 L 257.50 276.52 L 257.55 274.40 L 257.60 275.12 L 257.65 274.58 L 257.69 273.90 L 257.74 274.51 L 257.79 273.35 L 257.84 274.83 L 257.88 269.37 L 257.93 275.04 L 257.98 275.74 L 258.03 275.56 L 258.07 272.86 L 258.12 275.04 L 258.17 276.68 L 258.22 275.91 L 258.26 276.26 L 258.31 275.17 L 258.36 274.20 L 258.41 275.26 L 258.45 276.92 L 258.50 277.42 L 258.55 274.95 L 258.60 274.52 L 258.64 275.98 L 258.69 274.99 L 258.74 273.86 L 258.79 271.69 L 258.83 274.46 L 258.88 275.07 L 258.93 275.68 L 258.98 274.71 L 259.02 275.41 L 259.07 273.92 L 259.12 275.89 L 259.17 274.39 L 259.21 275.17 L 259.26 274.15 L 259.31 275.98 L 259.36 275.75 L 259.40 273.07 L 259.45 275.54 L 259.50 274.85 L 259.55 276.55 L 259.59 274.83 L 259.64 274.33 L 259.69 274.68 L 259.74 275.91 L 259.78 276.47 L 259.83 275.79 L 259.88 276.08 L 259.93 273.97 L 259.97 275.41 L 260.02 276.07 L 260.07 274.22 L 260.12 274.81 L 260.16 275.54 L 260.21 274.07 L 260.26 275.72 L 260.31 274.81 L 260.35 275.97 L 260.40 275.52 L 260.45 275.05 L 260.50 275.54 L 260.54 273.68 L 260.59 275.18 L 260.64 274.97 L 260.69 275.84 L 260.73 276.03 L 260.78 276.75 L 260.83 276.01 L 260.88 275.22 L 260.92 274.68 L 260.97 276.14 L 261.02 275.37 L 261.07 274.60 L 261.11 274.52 L 261.16 275.65 L 261.21 272.41 L 261.26 273.61 L 261.30 273.89 L 261.35 275.85 L 261.40 274.47 L 261.45 274.72 L 261.49 275.13 L 261.54 276.58 L 261.59 275.03 L 261.64 273.40 L 261.68 275.44 L 261.73 275.07 L 261.78 273.29 L 261.83 274.75 L 261.87 275.21 L 261.92 275.42 L 261.97 274.50 L 262.02 274.56 L 262.06 275.12 L 262.11 274.16 L 262.16 275.34 L 262.21 273.66 L 262.25 274.40 L 262.30 274.95 L 262.35 274.54 L 262.40 275.76 L 262.44 275.10 L 262.49 277.38 L 262.54 273.74 L 262.59 275.48 L 262.63 276.29 L 262.68 275.50 L 262.73 273.54 L 262.78 274.20 L 262.82 275.13 L 262.87 275.59 L 262.92 274.77 L 262.97 274.76 L 263.01 273.30 L 263.06 273.92 L 263.11 273.56 L 263.16 274.77 L 263.20 275.19 L 263.25 274.73 L 263.30 274.48 L 263.35 274.05 L 263.39 275.33 L 263.44 274.40 L 263.49 274.27 L 263.54 276.01 L 263.58 274.53 L 263.63 275.82 L 263.68 273.63 L 263.73 274.53 L 263.77 275.25 L 263.82 273.33 L 263.87 274.92 L 263.92 275.52 L 263.96 274.97 L 264.01 275.02 L 264.06 273.37 L 264.11 274.34 L 264.15 275.31 L 264.20 274.58 L 264.25 273.47 L 264.30 274.19 L 264.34 275.09 L 264.39 273.63 L 264.44 272.97 L 264.49 273.81 L 264.53 273.44 L 264.58 273.89 L 264.63 274.30 L 264.68 273.75 L 264.72 273.64 L 264.77 275.47 L 264.82 275.25 L 264.87 274.23 L 264.91 275.23 L 264.96 274.42 L 265.01 272.57 L 265.06 274.24 L 265.10 274.71 L 265.15 273.95 L 265.20 274.63 L 265.25 275.05 L 265.29 273.99 L 265.34 274.59 L 265.39 274.50 L 265.44 272.95 L 265.48 274.22 L 265.53 272.10 L 265.58 274.18 L 265.63 274.38 L 265.67 274.45 L 265.72 274.52 L 265.77 273.91 L 265.82 272.70 L 265.86 272.07 L 265.91 273.30 L 265.96 273.77 L 266.01 273.59 L 266.05 275.48 L 266.10 275.27 L 266.15 273.99 L 266.20 273.98 L 266.24 274.72 L 266.29 275.08 L 266.34 273.18 L 266.39 275.51 L 266.43 273.28 L 266.48 273.69 L 266.53 273.33 L 266.58 272.82 L 266.62 274.02 L 266.67 272.98 L 266.72 274.18 L 266.77 274.65 L 266.81 274.99 L 266.86 274.08 L 266.91 274.08 L 266.96 271.89 L 267.00 274.06 L 267.05 273.89 L 267.10 274.10 L 267.15 273.83 L 267.19 275.25 L 267.24 272.87 L 267.29 274.76 L 267.34 273.87 L 267.38 273.78 L 267.43 274.59 L 267.48 272.58 L 267.53 274.91 L 267.57 273.72 L 267.62 272.91 L 267.67 273.19 L 267.72 274.56 L 267.76 272.65 L 267.81 273.86 L 267.86 274.71 L 267.91 273.89 L 267.95 274.65 L 268.00 273.21 L 268.05 273.10 L 268.10 272.73 L 268.14 273.70 L 268.19 274.22 L 268.24 273.76 L 268.29 273.04 L 268.33 272.29 L 268.38 274.10 L 268.43 271.72 L 268.48 273.25 L 268.52 272.66 L 268.57 273.77 L 268.62 273.77 L 268.67 272.60 L 268.71 273.07 L 268.76 272.88 L 268.81 276.69 L 268.86 275.95 L 268.90 273.54 L 268.95 272.78 L 269.00 272.90 L 269.05 275.14 L 269.09 273.97 L 269.14 274.07 L 269.19 272.22 L 269.24 273.65 L 269.28 274.09 L 269.33 272.03 L 269.38 271.46 L 269.43 274.93 L 269.47 273.68 L 269.52 274.79 L 269.57 273.05 L 269.62 273.23 L 269.66 272.71 L 269.71 272.54 L 269.76 272.12 L 269.81 274.45 L 269.85 272.35 L 269.90 273.99 L 269.95 273.32 L 270.00 271.95 L 270.04 272.86 L 270.09 272.58 L 270.14 272.55 L 270.19 273.99 L 270.23 272.24 L 270.28 272.23 L 270.33 272.43 L 270.38 273.30 L 270.42 273.39 L 270.47 271.87 L 270.52 272.95 L 270.57 274.63 L 270.61 273.36 L 270.66 272.02 L 270.71 273.27 L 270.76 273.35 L 270.80 274.19 L 270.85 273.52 L 270.90 275.50 L 270.95 272.30 L 270.99 275.22 L 271.04 273.56 L 271.09 272.78 L 271.14 271.33 L 271.18 273.75 L 271.23 272.75 L 271.28 271.68 L 271.33 276.21 L 271.37 271.73 L 271.42 272.08 L 271.47 273.09 L 271.52 275.02 L 271.56 272.63 L 271.61 271.55 L 271.66 273.86 L 271.71 272.53 L 271.75 273.21 L 271.80 273.28 L 271.85 273.19 L 271.90 272.53 L 271.94 272.51 L 271.99 269.48 L 272.04 271.83 L 272.09 273.45 L 272.13 271.10 L 272.18 271.64 L 272.23 272.68 L 272.28 272.40 L 272.32 273.32 L 272.37 271.16 L 272.42 271.38 L 272.47 272.50 L 272.51 270.93 L 272.56 272.69 L 272.61 271.12 L 272.66 271.88 L 272.70 272.57 L 272.75 273.12 L 272.80 271.29 L 272.85 271.41 L 272.89 271.91 L 272.94 272.63 L 272.99 275.27 L 273.04 272.46 L 273.08 272.68 L 273.13 272.80 L 273.18 274.32 L 273.23 273.66 L 273.27 272.81 L 273.32 273.69 L 273.37 271.38 L 273.42 271.03 L 273.46 274.44 L 273.51 274.76 L 273.56 273.97 L 273.61 272.31 L 273.65 273.03 L 273.70 271.06 L 273.75 272.23 L 273.80 272.37 L 273.84 274.35 L 273.89 272.41 L 273.94 273.35 L 273.99 271.43 L 274.03 274.04 L 274.08 272.71 L 274.13 275.17 L 274.18 271.19 L 274.22 274.19 L 274.27 274.44 L 274.32 272.34 L 274.37 273.07 L 274.41 271.74 L 274.46 273.14 L 274.51 271.81 L 274.56 273.41 L 274.60 271.30 L 274.65 271.30 L 274.70 273.57 L 274.75 273.33 L 274.79 274.02 L 274.84 273.08 L 274.89 272.81 L 274.94 272.67 L 274.98 272.81 L 275.03 271.99 L 275.08 271.51 L 275.13 272.56 L 275.17 269.39 L 275.22 273.37 L 275.27 271.34 L 275.32 271.00 L 275.36 271.44 L 275.41 270.59 L 275.46 273.17 L 275.51 271.67 L 275.55 270.57 L 275.60 271.37 L 275.65 273.76 L 275.70 269.82 L 275.74 272.30 L 275.79 271.59 L 275.84 271.84 L 275.89 271.38 L 275.93 273.74 L 275.98 271.55 L 276.03 270.99 L 276.08 273.14 L 276.12 271.83 L 276.17 270.96 L 276.22 270.81 L 276.27 271.09 L 276.31 270.78 L 276.36 271.36 L 276.41 271.50 L 276.46 271.72 L 276.50 271.44 L 276.55 273.77 L 276.60 272.44 L 276.65 272.43 L 276.69 271.14 L 276.74 272.76 L 276.79 271.64 L 276.84 271.82 L 276.88 271.89 L 276.93 271.75 L 276.98 273.37 L 277.03 271.82 L 277.07 273.27 L 277.12 271.67 L 277.17 271.17 L 277.22 272.45 L 277.26 271.12 L 277.31 272.32 L 277.36 271.52 L 277.41 272.56 L 277.45 272.72 L 277.50 272.45 L 277.55 272.81 L 277.60 272.04 L 277.64 272.65 L 277.69 272.06 L 277.74 272.65 L 277.79 272.80 L 277.83 271.08 L 277.88 272.30 L 277.93 272.10 L 277.98 271.39 L 278.02 272.97 L 278.07 270.38 L 278.12 272.77 L 278.17 271.39 L 278.21 272.36 L 278.26 272.10 L 278.31 272.95 L 278.36 273.62 L 278.40 273.64 L 278.45 272.56 L 278.50 271.09 L 278.55 273.15 L 278.59 273.66 L 278.64 272.46 L 278.69 273.73 L 278.74 272.97 L 278.78 274.33 L 278.83 272.55 L 278.88 272.42 L 278.93 274.00 L 278.97 273.88 L 279.02 272.48 L 279.07 275.70 L 279.12 273.02 L 279.16 273.01 L 279.21 274.34 L 279.26 274.65 L 279.31 273.64 L 279.35 275.12 L 279.40 273.73 L 279.45 273.41 L 279.50 274.13 L 279.54 274.08 L 279.59 275.05 L 279.64 275.08 L 279.69 273.81 L 279.73 276.63 L 279.78 275.08 L 279.83 272.71 L 279.88 276.52 L 279.92 275.41 L 279.97 275.64 L 280.02 276.36 L 280.07 277.17 L 280.11 274.88 L 280.16 275.23 L 280.21 273.52 L 280.26 275.60 L 280.30 274.16 L 280.35 273.52 L 280.40 277.05 L 280.45 275.37 L 280.49 276.52 L 280.54 276.68 L 280.59 276.88 L 280.64 276.70 L 280.68 273.37 L 280.73 275.02 L 280.78 275.99 L 280.83 275.78 L 280.87 275.27 L 280.92 275.03 L 280.97 276.60 L 281.02 275.74 L 281.06 277.66 L 281.11 274.24 L 281.16 274.92 L 281.21 276.24 L 281.25 275.97 L 281.30 275.33 L 281.35 277.85 L 281.40 277.05 L 281.44 276.74 L 281.49 276.39 L 281.54 275.69 L 281.59 276.59 L 281.63 277.22 L 281.68 276.53 L 281.73 276.23 L 281.78 277.37 L 281.82 275.06 L 281.87 275.75 L 281.92 273.28 L 281.97 275.77 L 282.01 275.07 L 282.06 275.19 L 282.11 276.72 L 282.16 274.38 L 282.20 276.06 L 282.25 275.32 L 282.30 273.98 L 282.35 276.82 L 282.39 276.40 L 282.44 275.67 L 282.49 275.49 L 282.54 275.41 L 282.58 274.81 L 282.63 276.00 L 282.68 276.89 L 282.73 275.44 L 282.77 274.50 L 282.82 274.78 L 282.87 274.25 L 282.92 276.68 L 282.96 275.85 L 283.01 275.89 L 283.06 276.56 L 283.11 276.90 L 283.15 275.33 L 283.20 273.74 L 283.25 275.70 L 283.30 276.66 L 283.34 276.57 L 283.39 275.50 L 283.44 274.08 L 283.49 276.70 L 283.53 276.10 L 283.58 275.98 L 283.63 275.27 L 283.68 273.38 L 283.72 275.57 L 283.77 276.56 L 283.82 277.43 L 283.87 276.10 L 283.91 274.85 L 283.96 275.97 L 284.01 275.22 L 284.06 275.79 L 284.10 276.75 L 284.15 276.04 L 284.20 275.31 L 284.24 276.36 L 284.29 275.56 L 284.34 274.99 L 284.39 278.51 L 284.43 275.52 L 284.48 276.34 L 284.53 276.31 L 284.58 276.00 L 284.62 275.35 L 284.67 276.16 L 284.72 274.49 L 284.77 274.46 L 284.81 275.69 L 284.86 276.33 L 284.91 274.36 L 284.96 277.51 L 285.00 276.39 L 285.05 274.29 L 285.10 276.65 L 285.15 276.14 L 285.19 276.13 L 285.24 276.49 L 285.29 276.30 L 285.34 277.24 L 285.38 275.90 L 285.43 276.05 L 285.48 275.03 L 285.53 274.00 L 285.57 275.97 L 285.62 275.75 L 285.67 275.63 L 285.72 276.10 L 285.76 274.75 L 285.81 276.91 L 285.86 276.59 L 285.91 275.40 L 285.95 274.48 L 286.00 275.16 L 286.05 275.35 L 286.10 275.01 L 286.14 277.34 L 286.19 275.27 L 286.24 278.08 L 286.29 275.79 L 286.33 274.83 L 286.38 277.01 L 286.43 276.41 L 286.48 276.91 L 286.52 277.41 L 286.57 276.89 L 286.62 276.66 L 286.67 274.97 L 286.71 276.72 L 286.76 276.40 L 286.81 274.59 L 286.86 275.40 L 286.90 276.63 L 286.95 275.84 L 287.00 276.42 L 287.05 275.77 L 287.09 278.74 L 287.14 277.98 L 287.19 277.82 L 287.24 273.80 L 287.28 276.83 L 287.33 277.50 L 287.38 273.96 L 287.43 275.02 L 287.47 276.55 L 287.52 275.64 L 287.57 275.28 L 287.62 275.10 L 287.66 275.18 L 287.71 274.67 L 287.76 277.54 L 287.81 275.18 L 287.85 275.30 L 287.90 276.39 L 287.95 275.65 L 288.00 275.19 L 288.04 275.47 L 288.09 276.06 L 288.14 276.98 L 288.19 276.54 L 288.23 275.90 L 288.28 277.93 L 288.33 276.30 L 288.38 276.83 L 288.42 275.96 L 288.47 277.50 L 288.52 276.48 L 288.57 276.88 L 288.61 276.65 L 288.66 278.21 L 288.71 276.40 L 288.76 276.80 L 288.80 274.56 L 288.85 276.00 L 288.90 277.80 L 288.95 276.28 L 288.99 277.60 L 289.04 277.24 L 289.09 277.28 L 289.14 277.51 L 289.18 276.71 L 289.23 275.28 L 289.28 276.56 L 289.33 276.43 L 289.37 275.58 L 289.42 276.36 L 289.47 277.54 L 289.52 276.06 L 289.56 275.69 L 289.61 274.75 L 289.66 274.46 L 289.71 274.92 L 289.75 275.53 L 289.80 275.69 L 289.85 275.41 L 289.90 276.04 L 289.94 274.14 L 289.99 276.35 L 290.04 275.73 L 290.09 275.68 L 290.13 274.07 L 290.18 277.34 L 290.23 275.61 L 290.28 276.76 L 290.32 276.15 L 290.37 276.48 L 290.42 276.60 L 290.47 276.98 L 290.51 277.15 L 290.56 276.27 L 290.61 276.65 L 290.66 274.62 L 290.70 277.03 L 290.75 275.44 L 290.80 274.44 L 290.85 274.61 L 290.89 275.41 L 290.94 276.63 L 290.99 274.43 L 291.04 276.45 L 291.08 275.57 L 291.13 275.79 L 291.18 275.17 L 291.23 276.99 L 291.27 274.17 L 291.32 273.95 L 291.37 275.57 L 291.42 276.19 L 291.46 274.93 L 291.51 275.88 L 291.56 276.36 L 291.61 276.24 L 291.65 275.93 L 291.70 274.48 L 291.75 275.96 L 291.80 275.05 L 291.84 277.36 L 291.89 278.21 L 291.94 275.68 L 291.99 276.16 L 292.03 277.18 L 292.08 277.40 L 292.13 277.02 L 292.18 274.28 L 292.22 275.35 L 292.27 274.43 L 292.32 275.21 L 292.37 274.73 L 292.41 275.54 L 292.46 276.94 L 292.51 275.10 L 292.56 277.60 L 292.60 275.87 L 292.65 275.75 L 292.70 274.93 L 292.75 276.51 L 292.79 274.84 L 292.84 274.75 L 292.89 276.91 L 292.94 276.69 L 292.98 276.29 L 293.03 277.46 L 293.08 276.01 L 293.13 275.77 L 293.17 275.60 L 293.22 274.72 L 293.27 275.47 L 293.32 276.37 L 293.36 273.92 L 293.41 275.12 L 293.46 277.00 L 293.51 276.01 L 293.55 277.10 L 293.60 276.72 L 293.65 274.40 L 293.70 274.70 L 293.74 277.12 L 293.79 276.17 L 293.84 274.19 L 293.89 276.63 L 293.93 275.18 L 293.98 275.83 L 294.03 275.24 L 294.08 274.86 L 294.12 274.71 L 294.17 275.77 L 294.22 275.10 L 294.27 277.32 L 294.31 276.50 L 294.36 275.91 L 294.41 275.20 L 294.46 276.78 L 294.50 275.98 L 294.55 276.58 L 294.60 276.78 L 294.65 276.00 L 294.69 275.37 L 294.74 275.40 L 294.79 276.34 L 294.84 275.73 L 294.88 275.17 L 294.93 274.69 L 294.98 274.25 L 295.03 275.02 L 295.07 274.86 L 295.12 273.95 L 295.17 276.07 L 295.22 276.24 L 295.26 274.86 L 295.31 274.43 L 295.36 276.23 L 295.41 274.27 L 295.45 274.33 L 295.50 276.16 L 295.55 273.07 L 295.60 275.03 L 295.64 276.16 L 295.69 274.34 L 295.74 275.58 L 295.79 274.65 L 295.83 275.04 L 295.88 273.01 L 295.93 276.88 L 295.98 275.19 L 296.02 275.85 L 296.07 275.50 L 296.12 275.03 L 296.17 275.97 L 296.21 274.67 L 296.26 275.64 L 296.31 273.85 L 296.36 273.61 L 296.40 273.82 L 296.45 273.58 L 296.50 275.42 L 296.55 274.78 L 296.59 274.49 L 296.64 274.30 L 296.69 274.75 L 296.74 275.11 L 296.78 273.81 L 296.83 276.40 L 296.88 275.70 L 296.93 275.88 L 296.97 274.01 L 297.02 274.96 L 297.07 273.11 L 297.12 276.28 L 297.16 274.38 L 297.21 274.16 L 297.26 274.98 L 297.31 275.12 L 297.35 272.89 L 297.40 273.70 L 297.45 273.90 L 297.50 275.00 L 297.54 274.87 L 297.59 273.23 L 297.64 275.41 L 297.69 275.97 L 297.73 275.73 L 297.78 275.39 L 297.83 273.67 L 297.88 274.87 L 297.92 272.42 L 297.97 275.02 L 298.02 273.22 L 298.07 273.11 L 298.11 273.66 L 298.16 276.19 L 298.21 273.26 L 298.26 272.18 L 298.30 274.65 L 298.35 273.96 L 298.40 273.97 L 298.45 272.95 L 298.49 272.13 L 298.54 272.84 L 298.59 274.37 L 298.64 272.89 L 298.68 271.16 L 298.73 273.09 L 298.78 272.18 L 298.83 274.66 L 298.87 273.19 L 298.92 273.78 L 298.97 272.93 L 299.02 273.85 L 299.06 273.77 L 299.11 273.22 L 299.16 273.73 L 299.21 272.96 L 299.25 271.83 L 299.30 273.53 L 299.35 273.88 L 299.40 274.20 L 299.44 272.87 L 299.49 273.99 L 299.54 273.45 L 299.59 273.12 L 299.63 273.72 L 299.68 273.29 L 299.73 273.58 L 299.78 274.38 L 299.82 273.01 L 299.87 273.49 L 299.92 274.48 L 299.97 273.22 L 300.01 274.31 L 300.06 273.13 L 300.11 272.56 L 300.16 273.01 L 300.20 274.20 L 300.25 271.68 L 300.30 274.25 L 300.35 273.96 L 300.39 272.81 L 300.44 272.36 L 300.49 272.40 L 300.54 272.88 L 300.58 272.85 L 300.63 273.34 L 300.68 271.60 L 300.73 275.60 L 300.77 275.14 L 300.82 270.74 L 300.87 273.45 L 300.92 272.94 L 300.96 272.56 L 301.01 273.01 L 301.06 272.68 L 301.11 274.92 L 301.15 274.61 L 301.20 271.92 L 301.25 275.06 L 301.30 269.44 L 301.34 274.02 L 301.39 272.88 L 301.44 274.09 L 301.49 273.06 L 301.53 273.07 L 301.58 273.68 L 301.63 272.59 L 301.68 273.23 L 301.72 273.17 L 301.77 274.38 L 301.82 274.34 L 301.87 272.78 L 301.91 273.30 L 301.96 272.26 L 302.01 274.32 L 302.06 274.23 L 302.10 273.41 L 302.15 272.04 L 302.20 272.58 L 302.25 272.53 L 302.29 274.44 L 302.34 272.81 L 302.39 272.40 L 302.44 273.55 L 302.48 274.13 L 302.53 272.90 L 302.58 272.88 L 302.63 274.62 L 302.67 272.93 L 302.72 272.77 L 302.77 272.04 L 302.82 273.66 L 302.86 272.55 L 302.91 272.61 L 302.96 274.04 L 303.01 272.45 L 303.05 272.76 L 303.10 272.27 L 303.15 274.11 L 303.20 272.34 L 303.24 272.98 L 303.29 271.17 L 303.34 273.66 L 303.39 273.82 L 303.43 272.19 L 303.48 272.87 L 303.53 274.22 L 303.58 272.19 L 303.62 272.99 L 303.67 272.82 L 303.72 272.43 L 303.77 273.12 L 303.81 274.10 L 303.86 274.84 L 303.91 273.27 L 303.96 272.20 L 304.00 273.67 L 304.05 273.84 L 304.10 272.64 L 304.15 275.98 L 304.19 274.08 L 304.24 273.98 L 304.29 274.07 L 304.34 273.12 L 304.38 273.14 L 304.43 275.42 L 304.48 272.28 L 304.53 275.53 L 304.57 272.64 L 304.62 271.16 L 304.67 272.58 L 304.72 275.02 L 304.76 273.29 L 304.81 273.40 L 304.86 273.18 L 304.91 273.61 L 304.95 274.16 L 305.00 274.13 L 305.05 273.04 L 305.10 274.05 L 305.14 273.71 L 305.19 273.88 L 305.24 274.02 L 305.29 272.45 L 305.33 273.06 L 305.38 274.21 L 305.43 272.49 L 305.48 272.44 L 305.52 274.37 L 305.57 273.50 L 305.62 275.00 L 305.67 273.71 L 305.71 274.17 L 305.76 272.64 L 305.81 272.97 L 305.86 272.42 L 305.90 276.15 L 305.95 272.90 L 306.00 273.65 L 306.05 272.55 L 306.09 273.71 L 306.14 272.38 L 306.19 273.42 L 306.24 272.79 L 306.28 272.63 L 306.33 271.43 L 306.38 274.05 L 306.43 274.48 L 306.47 270.04 L 306.52 271.18 L 306.57 270.27 L 306.62 272.47 L 306.66 273.04 L 306.71 272.49 L 306.76 272.48 L 306.81 271.85 L 306.85 271.79 L 306.90 271.54 L 306.95 272.76 L 307.00 272.72 L 307.04 273.29 L 307.09 273.15 L 307.14 271.82 L 307.19 273.67 L 307.23 272.48 L 307.28 271.67 L 307.33 272.82 L 307.38 272.33 L 307.42 271.77 L 307.47 271.08 L 307.52 270.53 L 307.57 270.64 L 307.61 272.30 L 307.66 269.99 L 307.71 271.11 L 307.76 270.20 L 307.80 269.93 L 307.85 270.26 L 307.90 269.79 L 307.95 269.81 L 307.99 270.12 L 308.04 271.85 L 308.09 268.92 L 308.14 269.79 L 308.18 269.10 L 308.23 270.05 L 308.28 269.42 L 308.33 269.32 L 308.37 268.72 L 308.42 270.30 L 308.47 268.99 L 308.52 270.01 L 308.56 269.69 L 308.61 268.20 L 308.66 268.26 L 308.71 269.54 L 308.75 267.01 L 308.80 266.18 L 308.85 267.18 L 308.90 267.75 L 308.94 267.14 L 308.99 267.33 L 309.04 267.92 L 309.09 267.59 L 309.13 266.09 L 309.18 267.01 L 309.23 266.92 L 309.28 266.49 L 309.32 267.55 L 309.37 264.71 L 309.42 264.90 L 309.47 265.57 L 309.51 267.86 L 309.56 265.44 L 309.61 267.30 L 309.66 267.36 L 309.70 267.18 L 309.75 266.85 L 309.80 266.29 L 309.85 266.22 L 309.89 266.74 L 309.94 267.40 L 309.99 267.99 L 310.04 267.50 L 310.08 266.92 L 310.13 266.22 L 310.18 268.28 L 310.23 268.35 L 310.27 269.73 L 310.32 267.82 L 310.37 266.35 L 310.42 267.91 L 310.46 266.73 L 310.51 266.02 L 310.56 268.50 L 310.61 267.62 L 310.65 268.97 L 310.70 267.68 L 310.75 267.74 L 310.80 269.80 L 310.84 270.65 L 310.89 268.60 L 310.94 269.36 L 310.99 269.67 L 311.03 268.92 L 311.08 270.25 L 311.13 269.03 L 311.18 269.33 L 311.22 268.68 L 311.27 271.39 L 311.32 268.64 L 311.37 267.36 L 311.41 267.84 L 311.46 269.82 L 311.51 271.05 L 311.56 268.94 L 311.60 268.44 L 311.65 269.73 L 311.70 269.44 L 311.75 269.22 L 311.79 270.72 L 311.84 269.28 L 311.89 269.94 L 311.94 270.48 L 311.98 269.47 L 312.03 268.51 L 312.08 270.07 L 312.13 270.25 L 312.17 270.73 L 312.22 268.99 L 312.27 269.07 L 312.32 269.19 L 312.36 269.81 L 312.41 269.57 L 312.46 269.72 L 312.51 269.88 L 312.55 270.89 L 312.60 268.95 L 312.65 268.70 L 312.70 269.85 L 312.74 268.78 L 312.79 269.84 L 312.84 269.94 L 312.89 270.74 L 312.93 270.91 L 312.98 269.75 L 313.03 269.76 L 313.08 270.52 L 313.12 271.43 L 313.17 272.21 L 313.22 270.66 L 313.27 270.70 L 313.31 270.17 L 313.36 268.58 L 313.41 270.61 L 313.45 269.27 L 313.50 270.60 L 313.55 270.72 L 313.60 269.73 L 313.64 271.61 L 313.69 270.44 L 313.74 268.76 L 313.79 270.35 L 313.83 271.62 L 313.88 270.93 L 313.93 273.05 L 313.98 270.62 L 314.02 270.50 L 314.07 269.05 L 314.12 271.83 L 314.17 271.15 L 314.21 268.60 L 314.26 270.08 L 314.31 271.62 L 314.36 272.45 L 314.40 268.56 L 314.45 269.68 L 314.50 270.74 L 314.55 271.78 L 314.59 270.75 L 314.64 270.72 L 314.69 269.15 L 314.74 269.71 L 314.78 270.82 L 314.83 271.50 L 314.88 270.51 L 314.93 269.09 L 314.97 269.91 L 315.02 271.19 L 315.07 270.18 L 315.12 268.91 L 315.16 269.90 L 315.21 271.36 L 315.26 269.52 L 315.31 271.08 L 315.35 270.01 L 315.40 269.07 L 315.45 267.07 L 315.50 270.20 L 315.54 266.78 L 315.59 269.63 L 315.64 269.50 L 315.69 268.47 L 315.73 269.11 L 315.78 268.89 L 315.83 269.43 L 315.88 268.11 L 315.92 269.16 L 315.97 269.48 L 316.02 269.17 L 316.07 269.33 L 316.11 265.45 L 316.16 269.96 L 316.21 268.01 L 316.26 269.35 L 316.30 267.83 L 316.35 267.82 L 316.40 267.63 L 316.45 268.12 L 316.49 270.10 L 316.54 270.66 L 316.59 269.22 L 316.64 269.06 L 316.68 268.82 L 316.73 269.12 L 316.78 269.18 L 316.83 269.66 L 316.87 268.51 L 316.92 268.89 L 316.97 268.02 L 317.02 268.67 L 317.06 268.63 L 317.11 267.55 L 317.16 270.41 L 317.21 268.05 L 317.25 268.37 L 317.30 267.51 L 317.35 268.02 L 317.40 268.24 L 317.44 268.93 L 317.49 268.41 L 317.54 268.02 L 317.59 267.80 L 317.63 268.79 L 317.68 268.35 L 317.73 267.93 L 317.78 267.76 L 317.82 267.48 L 317.87 267.61 L 317.92 269.08 L 317.97 269.61 L 318.01 267.12 L 318.06 267.50 L 318.11 268.69 L 318.16 265.79 L 318.20 269.44 L 318.25 268.88 L 318.30 267.34 L 318.35 267.16 L 318.39 267.10 L 318.44 268.19 L 318.49 269.73 L 318.54 268.12 L 318.58 267.34 L 318.63 266.94 L 318.68 267.52 L 318.73 267.26 L 318.77 265.73 L 318.82 268.57 L 318.87 266.44 L 318.92 266.74 L 318.96 267.19 L 319.01 267.54 L 319.06 266.13 L 319.11 267.51 L 319.15 266.48 L 319.20 266.87 L 319.25 265.98 L 319.30 266.79 L 319.34 265.56 L 319.39 264.47 L 319.44 267.03 L 319.49 266.03 L 319.53 268.18 L 319.58 267.06 L 319.63 266.53 L 319.68 266.02 L 319.72 267.08 L 319.77 268.73 L 319.82 266.88 L 319.87 266.77 L 319.91 265.98 L 319.96 267.43 L 320.01 266.71 L 320.06 267.71 L 320.10 266.16 L 320.15 265.61 L 320.20 266.70 L 320.25 266.11 L 320.29 266.81 L 320.34 266.98 L 320.39 266.24 L 320.44 266.82 L 320.48 265.49 L 320.53 265.33 L 320.58 265.05 L 320.63 266.50 L 320.67 266.53 L 320.72 265.25 L 320.77 266.30 L 320.82 266.05 L 320.86 265.74 L 320.91 266.18 L 320.96 266.09 L 321.01 264.98 L 321.05 265.23 L 321.10 265.03 L 321.15 265.76 L 321.20 265.46 L 321.24 266.46 L 321.29 264.59 L 321.34 266.55 L 321.39 265.21 L 321.43 265.08 L 321.48 265.00 L 321.53 264.24 L 321.58 266.26 L 321.62 265.33 L 321.67 266.02 L 321.72 264.85 L 321.77 265.58 L 321.81 265.15 L 321.86 264.17 L 321.91 266.06 L 321.96 264.08 L 322.00 264.98 L 322.05 264.77 L 322.10 265.32 L 322.15 265.08 L 322.19 264.04 L 322.24 263.63 L 322.29 264.60 L 322.34 264.76 L 322.38 265.48 L 322.43 264.56 L 322.48 263.90 L 322.53 264.35 L 322.57 265.57 L 322.62 263.23 L 322.67 264.33 L 322.72 263.65 L 322.76 264.61 L 322.81 266.47 L 322.86 265.21 L 322.91 263.87 L 322.95 262.54 L 323.00 265.76 L 323.05 265.00 L 323.10 263.05 L 323.14 264.76 L 323.19 264.98 L 323.24 263.45 L 323.29 264.14 L 323.33 264.86 L 323.38 263.84 L 323.43 264.82 L 323.48 264.28 L 323.52 264.88 L 323.57 267.01 L 323.62 263.53 L 323.67 265.93 L 323.71 265.12 L 323.76 267.44 L 323.81 265.26 L 323.86 265.94 L 323.90 267.99 L 323.95 266.28 L 324.00 266.37 L 324.05 265.35 L 324.09 265.03 L 324.14 265.27 L 324.19 265.71 L 324.24 267.70 L 324.28 267.36 L 324.33 267.70 L 324.38 266.38 L 324.43 266.74 L 324.47 267.62 L 324.52 267.43 L 324.57 266.70 L 324.62 266.31 L 324.66 267.69 L 324.71 268.59 L 324.76 268.72 L 324.81 266.89 L 324.85 267.21 L 324.90 268.14 L 324.95 267.45 L 325.00 266.87 L 325.04 266.95 L 325.09 268.67 L 325.14 268.23 L 325.19 268.62 L 325.23 268.95 L 325.28 268.22 L 325.33 267.75 L 325.38 269.25 L 325.42 268.93 L 325.47 268.35 L 325.52 268.20 L 325.57 269.27 L 325.61 269.61 L 325.66 270.20 L 325.71 271.18 L 325.76 269.27 L 325.80 269.24 L 325.85 268.02 L 325.90 269.21 L 325.95 270.25 L 325.99 268.52 L 326.04 269.35 L 326.09 268.46 L 326.14 270.35 L 326.18 269.67 L 326.23 270.06 L 326.28 269.55 L 326.33 271.54 L 326.37 268.98 L 326.42 269.93 L 326.47 270.76 L 326.52 269.55 L 326.56 268.66 L 326.61 267.65 L 326.66 269.70 L 326.71 268.47 L 326.75 267.63 L 326.80 269.21 L 326.85 269.96 L 326.90 268.59 L 326.94 267.59 L 326.99 268.73 L 327.04 270.03 L 327.09 268.98 L 327.13 268.63 L 327.18 268.57 L 327.23 269.30 L 327.28 268.53 L 327.32 268.40 L 327.37 268.85 L 327.42 270.00 L 327.47 268.73 L 327.51 270.11 L 327.56 269.52 L 327.61 268.61 L 327.66 268.49 L 327.70 269.18 L 327.75 270.01 L 327.80 269.02 L 327.85 269.80 L 327.89 268.22 L 327.94 270.15 L 327.99 269.85 L 328.04 269.19 L 328.08 268.60 L 328.13 269.48 L 328.18 269.02 L 328.23 267.31 L 328.27 268.36 L 328.32 266.29 L 328.37 269.67 L 328.42 270.15 L 328.46 267.16 L 328.51 268.87 L 328.56 267.39 L 328.61 265.67 L 328.65 268.53 L 328.70 267.98 L 328.75 270.20 L 328.80 268.33 L 328.84 266.90 L 328.89 267.49 L 328.94 268.70 L 328.99 268.55 L 329.03 269.79 L 329.08 268.92 L 329.13 269.05 L 329.18 267.55 L 329.22 268.62 L 329.27 269.94 L 329.32 268.38 L 329.37 269.39 L 329.41 269.76 L 329.46 267.15 L 329.51 267.37 L 329.56 270.36 L 329.60 269.50 L 329.65 268.34 L 329.70 269.66 L 329.75 268.53 L 329.79 269.15 L 329.84 267.31 L 329.89 266.56 L 329.94 268.63 L 329.98 266.97 L 330.03 267.51 L 330.08 266.86 L 330.13 268.36 L 330.17 266.98 L 330.22 268.55 L 330.27 266.48 L 330.32 268.89 L 330.36 267.83 L 330.41 269.25 L 330.46 267.46 L 330.51 267.35 L 330.55 268.71 L 330.60 266.61 L 330.65 268.36 L 330.70 267.04 L 330.74 266.44 L 330.79 266.50 L 330.84 265.75 L 330.89 266.62 L 330.93 267.16 L 330.98 267.34 L 331.03 266.14 L 331.08 265.42 L 331.12 267.54 L 331.17 268.53 L 331.22 266.77 L 331.27 267.82 L 331.31 267.39 L 331.36 268.83 L 331.41 268.99 L 331.46 266.96 L 331.50 267.82 L 331.55 266.59 L 331.60 267.56 L 331.65 268.10 L 331.69 265.92 L 331.74 268.54 L 331.79 267.86 L 331.84 266.81 L 331.88 267.00 L 331.93 268.08 L 331.98 265.73 L 332.03 266.39 L 332.07 262.62 L 332.12 265.22 L 332.17 264.54 L 332.22 265.39 L 332.26 264.83 L 332.31 264.15 L 332.36 264.88 L 332.41 265.80 L 332.45 265.36 L 332.50 265.21 L 332.55 263.89 L 332.60 264.48 L 332.64 263.46 L 332.69 265.48 L 332.74 264.92 L 332.79 264.99 L 332.83 264.97 L 332.88 263.68 L 332.93 264.03 L 332.98 265.23 L 333.02 264.22 L 333.07 264.90 L 333.12 263.89 L 333.17 263.36 L 333.21 263.89 L 333.26 263.25 L 333.31 263.90 L 333.36 263.54 L 333.40 262.80 L 333.45 263.95 L 333.50 261.74 L 333.55 264.32 L 333.59 262.40 L 333.64 262.32 L 333.69 263.76 L 333.74 263.07 L 333.78 262.90 L 333.83 262.90 L 333.88 261.04 L 333.93 261.65 L 333.97 263.11 L 334.02 261.66 L 334.07 262.93 L 334.12 261.64 L 334.16 261.13 L 334.21 261.27 L 334.26 262.12 L 334.31 261.62 L 334.35 261.57 L 334.40 261.34 L 334.45 262.24 L 334.50 263.22 L 334.54 261.34 L 334.59 262.09 L 334.64 260.66 L 334.69 261.07 L 334.73 260.05 L 334.78 260.62 L 334.83 260.69 L 334.88 260.98 L 334.92 260.10 L 334.97 259.97 L 335.02 258.71 L 335.07 260.90 L 335.11 259.30 L 335.16 259.47 L 335.21 259.04 L 335.26 258.41 L 335.30 258.91 L 335.35 258.48 L 335.40 257.94 L 335.45 256.06 L 335.49 258.02 L 335.54 256.95 L 335.59 257.64 L 335.64 257.04 L 335.68 257.53 L 335.73 257.62 L 335.78 256.54 L 335.83 256.63 L 335.87 255.77 L 335.92 256.28 L 335.97 256.10 L 336.02 255.37 L 336.06 254.70 L 336.11 252.40 L 336.16 256.21 L 336.21 255.39 L 336.25 254.65 L 336.30 254.97 L 336.35 255.85 L 336.40 254.72 L 336.44 254.48 L 336.49 255.03 L 336.54 254.32 L 336.59 253.72 L 336.63 256.56 L 336.68 254.80 L 336.73 254.45 L 336.78 254.09 L 336.82 253.79 L 336.87 254.85 L 336.92 255.69 L 336.97 254.63 L 337.01 254.86 L 337.06 253.94 L 337.11 254.35 L 337.16 254.00 L 337.20 253.56 L 337.25 254.12 L 337.30 255.30 L 337.35 255.21 L 337.39 255.37 L 337.44 253.78 L 337.49 253.88 L 337.54 252.83 L 337.58 255.12 L 337.63 253.17 L 337.68 253.28 L 337.73 254.43 L 337.77 253.90 L 337.82 254.25 L 337.87 254.39 L 337.92 253.44 L 337.96 253.24 L 338.01 252.59 L 338.06 255.25 L 338.11 254.23 L 338.15 252.89 L 338.20 255.38 L 338.25 250.79 L 338.30 253.79 L 338.34 254.31 L 338.39 253.21 L 338.44 254.57 L 338.49 254.09 L 338.53 253.93 L 338.58 254.57 L 338.63 253.72 L 338.68 254.88 L 338.72 252.95 L 338.77 253.26 L 338.82 254.36 L 338.87 254.32 L 338.91 254.50 L 338.96 253.03 L 339.01 253.86 L 339.06 252.97 L 339.10 254.59 L 339.15 254.01 L 339.20 253.38 L 339.25 253.27 L 339.29 252.33 L 339.34 252.07 L 339.39 252.60 L 339.44 253.76 L 339.48 251.41 L 339.53 252.48 L 339.58 252.92 L 339.63 250.91 L 339.67 251.12 L 339.72 250.87 L 339.77 250.58 L 339.82 251.28 L 339.86 250.26 L 339.91 251.90 L 339.96 251.68 L 340.01 251.31 L 340.05 250.66 L 340.10 250.31 L 340.15 251.21 L 340.20 251.17 L 340.24 251.41 L 340.29 250.45 L 340.34 248.57 L 340.39 251.11 L 340.43 250.84 L 340.48 251.63 L 340.53 251.31 L 340.58 251.70 L 340.62 251.91 L 340.67 251.41 L 340.72 252.42 L 340.77 251.98 L 340.81 252.53 L 340.86 252.37 L 340.91 252.32 L 340.96 252.46 L 341.00 252.23 L 341.05 251.92 L 341.10 252.00 L 341.15 251.57 L 341.19 252.27 L 341.24 252.38 L 341.29 254.35 L 341.34 251.70 L 341.38 252.84 L 341.43 252.88 L 341.48 253.96 L 341.53 252.76 L 341.57 253.45 L 341.62 254.08 L 341.67 253.43 L 341.72 253.17 L 341.76 253.62 L 341.81 253.98 L 341.86 253.70 L 341.91 252.05 L 341.95 253.96 L 342.00 254.31 L 342.05 255.10 L 342.10 254.63 L 342.14 253.90 L 342.19 254.93 L 342.24 253.78 L 342.29 253.96 L 342.33 255.39 L 342.38 256.54 L 342.43 256.12 L 342.48 255.30 L 342.52 257.54 L 342.57 256.40 L 342.62 257.52 L 342.66 257.14 L 342.71 256.82 L 342.76 255.96 L 342.81 256.27 L 342.85 255.82 L 342.90 256.72 L 342.95 255.60 L 343.00 257.13 L 343.04 256.36 L 343.09 255.96 L 343.14 255.91 L 343.19 254.66 L 343.23 256.04 L 343.28 256.62 L 343.33 257.05 L 343.38 255.64 L 343.42 255.91 L 343.47 255.35 L 343.52 257.24 L 343.57 254.48 L 343.61 256.54 L 343.66 255.98 L 343.71 255.99 L 343.76 255.83 L 343.80 255.69 L 343.85 255.00 L 343.90 256.60 L 343.95 254.80 L 343.99 254.00 L 344.04 255.49 L 344.09 255.80 L 344.14 253.33 L 344.18 254.78 L 344.23 255.50 L 344.28 253.81 L 344.33 255.65 L 344.37 255.78 L 344.42 255.73 L 344.47 254.06 L 344.52 255.08 L 344.56 254.42 L 344.61 255.70 L 344.66 255.18 L 344.71 255.03 L 344.75 253.77 L 344.80 255.37 L 344.85 254.38 L 344.90 252.89 L 344.94 253.22 L 344.99 254.40 L 345.04 253.89 L 345.09 253.91 L 345.13 253.03 L 345.18 253.46 L 345.23 253.76 L 345.28 253.82 L 345.32 253.16 L 345.37 252.25 L 345.42 251.99 L 345.47 253.39 L 345.51 252.54 L 345.56 251.53 L 345.61 251.07 L 345.66 252.31 L 345.70 251.15 L 345.75 251.19 L 345.80 250.61 L 345.85 249.95 L 345.89 251.18 L 345.94 249.47 L 345.99 249.67 L 346.04 249.62 L 346.08 249.41 L 346.13 249.64 L 346.18 248.49 L 346.23 249.19 L 346.27 248.73 L 346.32 249.03 L 346.37 248.27 L 346.42 249.20 L 346.46 248.22 L 346.51 248.41 L 346.56 248.30 L 346.61 247.60 L 346.65 248.12 L 346.70 247.42 L 346.75 248.11 L 346.80 247.67 L 346.84 247.40 L 346.89 247.06 L 346.94 247.01 L 346.99 248.04 L 347.03 247.52 L 347.08 248.12 L 347.13 248.22 L 347.18 247.97 L 347.22 247.42 L 347.27 248.66 L 347.32 248.57 L 347.37 247.31 L 347.41 247.07 L 347.46 248.27 L 347.51 246.67 L 347.56 246.93 L 347.60 246.36 L 347.65 248.61 L 347.70 248.47 L 347.75 247.70 L 347.79 248.23 L 347.84 246.65 L 347.89 247.85 L 347.94 248.51 L 347.98 248.16 L 348.03 248.43 L 348.08 247.48 L 348.13 247.94 L 348.17 247.08 L 348.22 247.65 L 348.27 246.96 L 348.32 247.26 L 348.36 248.27 L 348.41 247.31 L 348.46 248.27 L 348.51 248.33 L 348.55 248.74 L 348.60 247.89 L 348.65 251.39 L 348.70 248.86 L 348.74 247.89 L 348.79 248.67 L 348.84 247.58 L 348.89 248.52 L 348.93 248.29 L 348.98 247.89 L 349.03 249.29 L 349.08 249.19 L 349.12 249.14 L 349.17 248.70 L 349.22 248.51 L 349.27 248.84 L 349.31 249.54 L 349.36 249.98 L 349.41 248.88 L 349.46 249.13 L 349.50 249.98 L 349.55 248.78 L 349.60 250.54 L 349.65 249.56 L 349.69 250.06 L 349.74 250.24 L 349.79 250.97 L 349.84 250.57 L 349.88 251.74 L 349.93 250.14 L 349.98 251.15 L 350.03 252.70 L 350.07 253.58 L 350.12 252.03 L 350.17 252.02 L 350.22 253.34 L 350.26 252.73 L 350.31 252.36 L 350.36 251.98 L 350.41 254.54 L 350.45 253.03 L 350.50 253.22 L 350.55 252.63 L 350.60 253.21 L 350.64 253.08 L 350.69 252.81 L 350.74 252.80 L 350.79 253.85 L 350.83 253.63 L 350.88 252.59 L 350.93 253.54 L 350.98 252.30 L 351.02 252.22 L 351.07 253.02 L 351.12 252.42 L 351.17 254.73 L 351.21 254.62 L 351.26 254.14 L 351.31 254.49 L 351.36 252.72 L 351.40 252.71 L 351.45 254.04 L 351.50 254.54 L 351.55 253.81 L 351.59 254.55 L 351.64 254.43 L 351.69 254.07 L 351.74 256.19 L 351.78 254.91 L 351.83 255.24 L 351.88 255.08 L 351.93 255.88 L 351.97 255.78 L 352.02 255.69 L 352.07 255.89 L 352.12 255.32 L 352.16 255.43 L 352.21 256.26 L 352.26 255.27 L 352.31 256.00 L 352.35 255.92 L 352.40 257.24 L 352.45 256.94 L 352.50 256.85 L 352.54 257.30 L 352.59 257.20 L 352.64 257.05 L 352.69 257.23 L 352.73 256.37 L 352.78 257.79 L 352.83 258.35 L 352.88 256.43 L 352.92 256.14 L 352.97 257.10 L 353.02 257.67 L 353.07 257.59 L 353.11 257.77 L 353.16 258.78 L 353.21 256.98 L 353.26 255.69 L 353.30 257.68 L 353.35 257.38 L 353.40 257.83 L 353.45 258.10 L 353.49 257.58 L 353.54 257.25 L 353.59 257.19 L 353.64 257.31 L 353.68 257.69 L 353.73 258.29 L 353.78 256.28 L 353.83 259.39 L 353.87 257.21 L 353.92 257.54 L 353.97 258.23 L 354.02 257.18 L 354.06 257.39 L 354.11 257.75 L 354.16 258.60 L 354.21 257.88 L 354.25 257.97 L 354.30 257.32 L 354.35 257.93 L 354.40 258.18 L 354.44 257.88 L 354.49 258.14 L 354.54 256.87 L 354.59 258.86 L 354.63 257.68 L 354.68 258.44 L 354.73 258.26 L 354.78 257.17 L 354.82 257.57 L 354.87 258.47 L 354.92 257.22 L 354.97 257.58 L 355.01 258.30 L 355.06 257.65 L 355.11 259.13 L 355.16 257.97 L 355.20 257.50 L 355.25 258.55 L 355.30 258.06 L 355.35 257.85 L 355.39 258.38 L 355.44 258.95 L 355.49 257.58 L 355.54 259.97 L 355.58 258.73 L 355.63 259.55 L 355.68 260.30 L 355.73 259.35 L 355.77 259.15 L 355.82 258.78 L 355.87 258.86 L 355.92 259.76 L 355.96 258.92 L 356.01 258.76 L 356.06 260.15 L 356.11 260.33 L 356.15 259.19 L 356.20 260.11 L 356.25 259.78 L 356.30 260.06 L 356.34 261.61 L 356.39 259.31 L 356.44 258.77 L 356.49 258.95 L 356.53 259.38 L 356.58 260.61 L 356.63 260.38 L 356.68 261.44 L 356.72 259.38 L 356.77 263.31 L 356.82 261.34 L 356.87 261.17 L 356.91 262.33 L 356.96 261.10 L 357.01 260.69 L 357.06 262.24 L 357.10 261.29 L 357.15 262.63 L 357.20 263.11 L 357.25 260.04 L 357.29 261.51 L 357.34 263.39 L 357.39 262.85 L 357.44 261.48 L 357.48 262.58 L 357.53 262.28 L 357.58 263.08 L 357.63 263.15 L 357.67 261.74 L 357.72 263.37 L 357.77 263.28 L 357.82 261.12 L 357.86 262.16 L 357.91 262.20 L 357.96 263.26 L 358.01 262.63 L 358.05 262.81 L 358.10 262.86 L 358.15 263.53 L 358.20 262.96 L 358.24 263.12 L 358.29 261.91 L 358.34 261.70 L 358.39 261.28 L 358.43 260.48 L 358.48 260.93 L 358.53 261.80 L 358.58 260.76 L 358.62 260.79 L 358.67 261.12 L 358.72 260.02 L 358.77 261.32 L 358.81 261.24 L 358.86 260.77 L 358.91 260.95 L 358.96 261.56 L 359.00 260.84 L 359.05 261.05 L 359.10 260.14 L 359.15 260.47 L 359.19 260.67 L 359.24 260.34 L 359.29 259.01 L 359.34 259.10 L 359.38 260.02 L 359.43 259.74 L 359.48 259.70 L 359.53 258.41 L 359.57 258.19 L 359.62 258.62 L 359.67 259.48 L 359.72 260.26 L 359.76 260.10 L 359.81 259.90 L 359.86 258.65 L 359.91 259.76 L 359.95 259.64 L 360.00 258.50 L 360.05 259.48 L 360.10 258.37 L 360.14 259.87 L 360.19 258.66 L 360.24 258.52 L 360.29 259.77 L 360.33 259.10 L 360.38 259.21 L 360.43 261.41 L 360.48 260.44 L 360.52 258.72 L 360.57 259.61 L 360.62 259.04 L 360.67 260.55 L 360.71 259.44 L 360.76 258.92 L 360.81 261.00 L 360.86 258.72 L 360.90 259.58 L 360.95 260.89 L 361.00 259.19 L 361.05 258.73 L 361.09 261.66 L 361.14 260.33 L 361.19 261.45 L 361.24 261.17 L 361.28 260.52 L 361.33 260.02 L 361.38 261.69 L 361.43 259.50 L 361.47 261.11 L 361.52 259.63 L 361.57 261.39 L 361.62 260.49 L 361.66 260.31 L 361.71 260.20 L 361.76 259.38 L 361.81 260.79 L 361.85 260.25 L 361.90 260.26 L 361.95 259.27 L 362.00 261.37 L 362.04 259.57 L 362.09 259.33 L 362.14 259.83 L 362.19 260.85 L 362.23 260.95 L 362.28 260.89 L 362.33 261.30 L 362.38 258.89 L 362.42 259.97 L 362.47 259.08 L 362.52 261.24 L 362.57 260.27 L 362.61 260.04 L 362.66 260.59 L 362.71 260.42 L 362.76 260.20 L 362.80 259.91 L 362.85 260.73 L 362.90 260.32 L 362.95 259.77 L 362.99 260.36 L 363.04 261.61 L 363.09 261.10 L 363.14 260.84 L 363.18 260.48 L 363.23 260.00 L 363.28 260.77 L 363.33 258.32 L 363.37 260.64 L 363.42 260.64 L 363.47 260.45 L 363.52 260.44 L 363.56 261.01 L 363.61 260.03 L 363.66 259.99 L 363.71 260.40 L 363.75 260.37 L 363.80 262.06 L 363.85 260.66 L 363.90 260.15 L 363.94 261.28 L 363.99 259.01 L 364.04 259.09 L 364.09 258.89 L 364.13 260.17 L 364.18 259.15 L 364.23 259.66 L 364.28 257.54 L 364.32 259.50 L 364.37 258.55 L 364.42 259.15 L 364.47 258.78 L 364.51 258.85 L 364.56 258.38 L 364.61 257.23 L 364.66 257.31 L 364.70 258.04 L 364.75 256.94 L 364.80 257.84 L 364.85 258.37 L 364.89 256.55 L 364.94 257.40 L 364.99 257.01 L 365.04 257.93 L 365.08 256.48 L 365.13 256.55 L 365.18 255.81 L 365.23 255.98 L 365.27 256.07 L 365.32 257.22 L 365.37 257.02 L 365.42 255.61 L 365.46 256.79 L 365.51 256.51 L 365.56 257.15 L 365.61 258.12 L 365.65 257.18 L 365.70 256.23 L 365.75 257.02 L 365.80 257.60 L 365.84 256.91 L 365.89 256.77 L 365.94 256.44 L 365.99 255.88 L 366.03 257.15 L 366.08 257.30 L 366.13 257.49 L 366.18 256.62 L 366.22 257.19 L 366.27 256.37 L 366.32 257.44 L 366.37 256.94 L 366.41 257.33 L 366.46 257.63 L 366.51 257.02 L 366.56 256.51 L 366.60 257.21 L 366.65 256.73 L 366.70 257.41 L 366.75 257.44 L 366.79 258.31 L 366.84 256.79 L 366.89 256.69 L 366.94 256.46 L 366.98 257.40 L 367.03 257.45 L 367.08 257.13 L 367.13 257.91 L 367.17 257.17 L 367.22 257.51 L 367.27 257.83 L 367.32 257.31 L 367.36 256.81 L 367.41 257.45 L 367.46 257.83 L 367.51 257.08 L 367.55 256.88 L 367.60 256.40 L 367.65 257.78 L 367.70 256.67 L 367.74 258.19 L 367.79 257.75 L 367.84 257.26 L 367.89 257.50 L 367.93 257.88 L 367.98 256.97 L 368.03 256.89 L 368.08 256.45 L 368.12 257.90 L 368.17 257.02 L 368.22 256.58 L 368.27 258.29 L 368.31 256.79 L 368.36 257.27 L 368.41 256.55 L 368.46 256.72 L 368.50 254.95 L 368.55 256.96 L 368.60 256.54 L 368.65 255.63 L 368.69 256.94 L 368.74 256.27 L 368.79 254.69 L 368.84 255.68 L 368.88 255.03 L 368.93 255.46 L 368.98 255.26 L 369.03 255.13 L 369.07 254.23 L 369.12 254.54 L 369.17 255.28 L 369.22 255.13 L 369.26 255.20 L 369.31 254.87 L 369.36 255.28 L 369.41 254.38 L 369.45 254.74 L 369.50 255.39 L 369.55 253.99 L 369.60 253.34 L 369.64 253.90 L 369.69 253.30 L 369.74 252.78 L 369.79 253.27 L 369.83 252.71 L 369.88 253.48 L 369.93 253.67 L 369.98 254.80 L 370.02 252.45 L 370.07 254.78 L 370.12 254.70 L 370.17 255.56 L 370.21 253.60 L 370.26 253.74 L 370.31 253.96 L 370.36 253.21 L 370.40 254.91 L 370.45 254.18 L 370.50 254.00 L 370.55 253.79 L 370.59 253.57 L 370.64 253.70 L 370.69 254.44 L 370.74 253.90 L 370.78 252.94 L 370.83 254.21 L 370.88 253.10 L 370.93 253.21 L 370.97 254.74 L 371.02 251.76 L 371.07 253.08 L 371.12 251.90 L 371.16 252.94 L 371.21 252.83 L 371.26 253.08 L 371.31 253.01 L 371.35 253.40 L 371.40 252.76 L 371.45 252.34 L 371.50 250.66 L 371.54 253.05 L 371.59 253.25 L 371.64 251.47 L 371.69 252.74 L 371.73 252.15 L 371.78 252.23 L 371.83 253.12 L 371.87 252.65 L 371.92 252.74 L 371.97 251.74 L 372.02 252.27 L 372.06 253.04 L 372.11 252.50 L 372.16 252.63 L 372.21 251.75 L 372.25 251.80 L 372.30 250.33 L 372.35 251.20 L 372.40 252.23 L 372.44 250.84 L 372.49 251.36 L 372.54 251.47 L 372.59 250.19 L 372.63 252.49 L 372.68 251.76 L 372.73 251.59 L 372.78 252.65 L 372.82 252.81 L 372.87 251.59 L 372.92 251.04 L 372.97 251.82 L 373.01 251.40 L 373.06 251.65 L 373.11 251.61 L 373.16 250.22 L 373.20 250.15 L 373.25 250.72 L 373.30 250.92 L 373.35 250.84 L 373.39 250.86 L 373.44 251.50 L 373.49 249.92 L 373.54 250.12 L 373.58 251.62 L 373.63 249.81 L 373.68 250.09 L 373.73 251.46 L 373.77 250.21 L 373.82 250.50 L 373.87 250.96 L 373.92 250.63 L 373.96 250.77 L 374.01 251.15 L 374.06 250.07 L 374.11 251.54 L 374.15 250.02 L 374.20 249.32 L 374.25 250.39 L 374.30 250.97 L 374.34 251.06 L 374.39 249.95 L 374.44 250.54 L 374.49 250.66 L 374.53 250.42 L 374.58 250.26 L 374.63 250.68 L 374.68 250.50 L 374.72 250.89 L 374.77 250.58 L 374.82 251.07 L 374.87 251.10 L 374.91 251.61 L 374.96 249.80 L 375.01 251.23 L 375.06 249.41 L 375.10 251.11 L 375.15 250.82 L 375.20 250.31 L 375.25 250.65 L 375.29 250.44 L 375.34 250.44 L 375.39 248.56 L 375.44 250.96 L 375.48 251.04 L 375.53 250.14 L 375.58 251.11 L 375.63 250.05 L 375.67 250.60 L 375.72 250.23 L 375.77 249.80 L 375.82 251.51 L 375.86 251.62 L 375.91 250.15 L 375.96 250.62 L 376.01 249.53 L 376.05 251.54 L 376.10 249.68 L 376.15 251.07 L 376.20 251.84 L 376.24 251.54 L 376.29 250.16 L 376.34 251.58 L 376.39 251.20 L 376.43 250.22 L 376.48 250.05 L 376.53 251.54 L 376.58 250.90 L 376.62 251.08 L 376.67 251.60 L 376.72 251.21 L 376.77 252.51 L 376.81 251.57 L 376.86 250.52 L 376.91 250.84 L 376.96 251.88 L 377.00 252.22 L 377.05 252.67 L 377.10 251.75 L 377.15 252.76 L 377.19 252.72 L 377.24 253.03 L 377.29 251.49 L 377.34 251.77 L 377.38 252.27 L 377.43 252.69 L 377.48 251.03 L 377.53 251.50 L 377.57 253.68 L 377.62 253.29 L 377.67 251.74 L 377.72 251.86 L 377.76 251.44 L 377.81 252.67 L 377.86 252.12 L 377.91 252.11 L 377.95 253.01 L 378.00 251.55 L 378.05 252.20 L 378.10 249.95 L 378.14 251.96 L 378.19 253.23 L 378.24 251.55 L 378.29 252.60 L 378.33 252.53 L 378.38 251.09 L 378.43 252.83 L 378.48 251.92 L 378.52 251.54 L 378.57 251.45 L 378.62 251.22 L 378.67 252.05 L 378.71 251.64 L 378.76 251.05 L 378.81 252.17 L 378.86 251.51 L 378.90 251.86 L 378.95 251.51 L 379.00 251.38 L 379.05 250.43 L 379.09 250.52 L 379.14 250.98 L 379.19 250.64 L 379.24 250.95 L 379.28 250.36 L 379.33 250.04 L 379.38 251.72 L 379.43 250.07 L 379.47 250.61 L 379.52 249.52 L 379.57 250.64 L 379.62 250.83 L 379.66 249.89 L 379.71 249.90 L 379.76 249.84 L 379.81 249.98 L 379.85 250.01 L 379.90 250.03 L 379.95 249.18 L 380.00 248.62 L 380.04 248.42 L 380.09 249.91 L 380.14 249.79 L 380.19 249.61 L 380.23 250.11 L 380.28 249.38 L 380.33 249.86 L 380.38 249.53 L 380.42 248.84 L 380.47 249.53 L 380.52 249.23 L 380.57 249.71 L 380.61 248.84 L 380.66 248.23 L 380.71 249.50 L 380.76 249.19 L 380.80 248.07 L 380.85 247.86 L 380.90 248.99 L 380.95 247.82 L 380.99 248.13 L 381.04 248.70 L 381.09 247.95 L 381.14 247.96 L 381.18 247.90 L 381.23 249.36 L 381.28 247.23 L 381.33 247.34 L 381.37 247.87 L 381.42 247.44 L 381.47 248.65 L 381.52 247.79 L 381.56 246.59 L 381.61 247.82 L 381.66 247.16 L 381.71 248.01 L 381.75 247.83 L 381.80 246.49 L 381.85 247.27 L 381.90 246.82 L 381.94 246.77 L 381.99 248.29 L 382.04 247.85 L 382.09 246.80 L 382.13 247.14 L 382.18 246.29 L 382.23 247.40 L 382.28 245.19 L 382.32 248.36 L 382.37 248.24 L 382.42 247.98 L 382.47 247.23 L 382.51 247.87 L 382.56 247.88 L 382.61 246.56 L 382.66 248.05 L 382.70 247.54 L 382.75 247.07 L 382.80 247.57 L 382.85 247.21 L 382.89 246.83 L 382.94 247.36 L 382.99 248.67 L 383.04 247.12 L 383.08 246.83 L 383.13 247.06 L 383.18 247.11 L 383.23 247.40 L 383.27 246.14 L 383.32 247.51 L 383.37 247.16 L 383.42 247.39 L 383.46 246.95 L 383.51 246.76 L 383.56 246.39 L 383.61 247.32 L 383.65 247.22 L 383.70 247.11 L 383.75 248.07 L 383.80 247.17 L 383.84 247.35 L 383.89 247.91 L 383.94 246.18 L 383.99 248.25 L 384.03 246.59 L 384.08 246.75 L 384.13 246.86 L 384.18 245.76 L 384.22 247.85 L 384.27 246.27 L 384.32 246.66 L 384.37 245.41 L 384.41 245.98 L 384.46 246.01 L 384.51 245.44 L 384.56 246.42 L 384.60 245.79 L 384.65 245.07 L 384.70 245.39 L 384.75 245.46 L 384.79 245.80 L 384.84 245.73 L 384.89 244.27 L 384.94 244.91 L 384.98 244.76 L 385.03 246.70 L 385.08 245.57 L 385.13 245.11 L 385.17 245.68 L 385.22 246.52 L 385.27 245.48 L 385.32 244.56 L 385.36 246.39 L 385.41 246.08 L 385.46 245.89 L 385.51 245.75 L 385.55 245.68 L 385.60 244.79 L 385.65 245.84 L 385.70 245.51 L 385.74 245.11 L 385.79 247.29 L 385.84 246.12 L 385.89 244.62 L 385.93 246.67 L 385.98 245.96 L 386.03 244.79 L 386.08 245.70 L 386.12 244.35 L 386.17 245.06 L 386.22 244.64 L 386.27 245.73 L 386.31 245.88 L 386.36 244.63 L 386.41 244.70 L 386.46 244.55 L 386.50 244.46 L 386.55 244.81 L 386.60 244.78 L 386.65 244.57 L 386.69 245.16 L 386.74 244.14 L 386.79 243.97 L 386.84 244.01 L 386.88 245.21 L 386.93 244.99 L 386.98 243.82 L 387.03 244.63 L 387.07 245.41 L 387.12 245.06 L 387.17 244.13 L 387.22 245.18 L 387.26 244.92 L 387.31 245.56 L 387.36 244.38 L 387.41 244.80 L 387.45 244.80 L 387.50 244.09 L 387.55 245.20 L 387.60 244.40 L 387.64 244.23 L 387.69 244.60 L 387.74 244.36 L 387.79 244.50 L 387.83 242.16 L 387.88 244.57 L 387.93 244.71 L 387.98 243.89 L 388.02 244.54 L 388.07 245.35 L 388.12 244.77 L 388.17 244.81 L 388.21 244.19 L 388.26 245.35 L 388.31 245.22 L 388.36 245.43 L 388.40 246.12 L 388.45 245.75 L 388.50 244.04 L 388.55 244.49 L 388.59 245.26 L 388.64 245.09 L 388.69 244.54 L 388.74 244.59 L 388.78 245.50 L 388.83 243.73 L 388.88 245.37 L 388.93 245.08 L 388.97 244.77 L 389.02 244.93 L 389.07 244.21 L 389.12 245.45 L 389.16 245.72 L 389.21 244.87 L 389.26 244.21 L 389.31 244.22 L 389.35 244.46 L 389.40 245.16 L 389.45 243.77 L 389.50 245.23 L 389.54 244.37 L 389.59 245.27 L 389.64 245.09 L 389.69 245.15 L 389.73 246.07 L 389.78 244.18 L 389.83 244.86 L 389.88 245.04 L 389.92 245.92 L 389.97 245.30 L 390.02 246.04 L 390.07 246.38 L 390.11 246.65 L 390.16 246.19 L 390.21 246.53 L 390.26 246.71 L 390.30 247.08 L 390.35 247.75 L 390.40 247.34 L 390.45 247.19 L 390.49 248.03 L 390.54 248.18 L 390.59 247.82 L 390.64 248.31 L 390.68 248.07 L 390.73 248.08 L 390.78 247.97 L 390.83 249.04 L 390.87 248.50 L 390.92 250.09 L 390.97 249.73 L 391.02 249.03 L 391.06 249.24 L 391.11 249.61 L 391.16 248.55 L 391.21 250.31 L 391.25 249.61 L 391.30 250.51 L 391.35 248.30 L 391.40 250.20 L 391.44 250.72 L 391.49 251.12 L 391.54 248.83 L 391.59 248.50 L 391.63 250.11 L 391.68 250.39 L 391.73 251.55 L 391.78 251.33 L 391.82 251.54 L 391.87 250.86 L 391.92 250.46 L 391.97 250.83 L 392.01 250.27 L 392.06 250.73 L 392.11 249.32 L 392.16 250.71 L 392.20 251.61 L 392.25 250.57 L 392.30 250.15 L 392.35 252.10 L 392.39 249.82 L 392.44 249.10 L 392.49 248.95 L 392.54 250.00 L 392.58 249.31 L 392.63 249.93 L 392.68 249.87 L 392.73 249.39 L 392.77 250.39 L 392.82 249.33 L 392.87 248.50 L 392.92 249.21 L 392.96 249.46 L 393.01 248.65 L 393.06 250.31 L 393.11 249.81 L 393.15 248.58 L 393.20 248.17 L 393.25 248.98 L 393.30 249.49 L 393.34 248.25 L 393.39 248.22 L 393.44 250.00 L 393.49 248.71 L 393.53 248.98 L 393.58 248.97 L 393.63 248.57 L 393.68 248.77 L 393.72 248.96 L 393.77 249.46 L 393.82 249.73 L 393.87 249.32 L 393.91 248.19 L 393.96 249.57 L 394.01 248.74 L 394.06 249.69 L 394.10 248.48 L 394.15 249.73 L 394.20 248.34 L 394.25 248.61 L 394.29 249.42 L 394.34 249.05 L 394.39 248.34 L 394.44 248.49 L 394.48 248.29 L 394.53 249.53 L 394.58 249.08 L 394.63 248.88 L 394.67 250.19 L 394.72 249.68 L 394.77 250.04 L 394.82 249.44 L 394.86 249.53 L 394.91 250.45 L 394.96 249.88 L 395.01 249.20 L 395.05 250.30 L 395.10 249.53 L 395.15 248.80 L 395.20 249.77 L 395.24 249.73 L 395.29 250.50 L 395.34 249.43 L 395.39 249.52 L 395.43 249.68 L 395.48 250.28 L 395.53 250.47 L 395.58 249.89 L 395.62 249.49 L 395.67 250.83 L 395.72 250.11 L 395.77 250.66 L 395.81 250.62 L 395.86 249.73 L 395.91 250.05 L 395.96 250.77 L 396.00 250.50 L 396.05 251.01 L 396.10 251.22 L 396.15 251.50 L 396.19 251.21 L 396.24 251.36 L 396.29 251.22 L 396.34 251.04 L 396.38 251.41 L 396.43 249.53 L 396.48 250.51 L 396.53 251.38 L 396.57 252.55 L 396.62 250.91 L 396.67 250.33 L 396.72 250.67 L 396.76 251.88 L 396.81 251.63 L 396.86 252.55 L 396.91 250.91 L 396.95 253.48 L 397.00 250.50 L 397.05 251.76 L 397.10 250.03 L 397.14 252.05 L 397.19 251.69 L 397.24 251.94 L 397.29 251.13 L 397.33 252.85 L 397.38 252.87 L 397.43 251.30 L 397.48 251.94 L 397.52 252.11 L 397.57 252.35 L 397.62 252.23 L 397.67 252.53 L 397.71 251.91 L 397.76 252.89 L 397.81 252.24 L 397.86 251.72 L 397.90 251.04 L 397.95 252.36 L 398.00 252.75 L 398.05 251.70 L 398.09 252.38 L 398.14 251.86 L 398.19 253.60 L 398.24 252.00 L 398.28 253.62 L 398.33 252.64 L 398.38 253.25 L 398.43 252.67 L 398.47 253.43 L 398.52 253.61 L 398.57 252.63 L 398.62 251.94 L 398.66 254.12 L 398.71 252.23 L 398.76 253.70 L 398.81 253.18 L 398.85 252.74 L 398.90 252.67 L 398.95 253.12 L 399.00 253.87 L 399.04 253.92 L 399.09 253.46 L 399.14 252.66 L 399.19 254.33 L 399.23 254.13 L 399.28 253.59 L 399.33 252.92 L 399.38 253.93 L 399.42 252.65 L 399.47 252.06 L 399.52 253.84 L 399.57 254.78 L 399.61 253.79 L 399.66 254.34 L 399.71 251.83 L 399.76 252.45 L 399.80 253.44 L 399.85 253.27 L 399.90 252.51 L 399.95 253.15 L 399.99 253.36 L 400.04 252.84 L 400.09 252.34 L 400.14 252.38 L 400.18 251.59 L 400.23 251.16 L 400.28 252.23 L 400.33 250.38 L 400.37 249.26 L 400.42 252.20 L 400.47 251.60 L 400.52 251.15 L 400.56 250.23 L 400.61 250.25 L 400.66 250.25 L 400.71 249.48 L 400.75 250.19 L 400.80 250.63 L 400.85 248.06 L 400.90 248.53 L 400.94 249.53 L 400.99 248.56 L 401.04 248.74 L 401.08 249.71 L 401.13 250.64 L 401.18 249.56 L 401.23 248.32 L 401.27 250.42 L 401.32 248.84 L 401.37 248.56 L 401.42 249.21 L 401.46 249.12 L 401.51 247.57 L 401.56 249.57 L 401.61 249.50 L 401.65 249.72 L 401.70 249.22 L 401.75 248.40 L 401.80 248.63 L 401.84 248.89 L 401.89 249.69 L 401.94 249.57 L 401.99 249.25 L 402.03 248.89 L 402.08 250.49 L 402.13 249.97 L 402.18 250.99 L 402.22 249.16 L 402.27 249.90 L 402.32 248.40 L 402.37 249.79 L 402.41 249.31 L 402.46 249.51 L 402.51 250.52 L 402.56 248.60 L 402.60 249.97 L 402.65 249.19 L 402.70 251.13 L 402.75 250.91 L 402.79 249.46 L 402.84 249.25 L 402.89 249.88 L 402.94 250.04 L 402.98 249.73 L 403.03 249.03 L 403.08 248.63 L 403.13 249.98 L 403.17 251.27 L 403.22 250.49 L 403.27 249.37 L 403.32 249.50 L 403.36 248.56 L 403.41 249.02 L 403.46 248.71 L 403.51 250.12 L 403.55 248.79 L 403.60 249.73 L 403.65 249.93 L 403.70 251.59 L 403.74 249.88 L 403.79 250.24 L 403.84 250.79 L 403.89 251.07 L 403.93 251.48 L 403.98 250.76 L 404.03 250.72 L 404.08 251.61 L 404.12 250.28 L 404.17 251.86 L 404.22 251.62 L 404.27 251.98 L 404.31 251.78 L 404.36 252.37 L 404.41 253.05 L 404.46 252.23 L 404.50 252.69 L 404.55 252.61 L 404.60 252.42 L 404.65 253.72 L 404.69 252.83 L 404.74 251.24 L 404.79 253.33 L 404.84 253.64 L 404.88 252.42 L 404.93 251.14 L 404.98 252.41 L 405.03 251.79 L 405.07 251.93 L 405.12 250.96 L 405.17 251.13 L 405.22 251.68 L 405.26 250.11 L 405.31 249.44 L 405.36 249.59 L 405.41 248.72 L 405.45 249.28 L 405.50 247.19 L 405.55 248.97 L 405.60 248.72 L 405.64 247.48 L 405.69 248.48 L 405.74 248.34 L 405.79 247.80 L 405.83 247.42 L 405.88 248.75 L 405.93 247.25 L 405.98 247.30 L 406.02 246.76 L 406.07 248.04 L 406.12 246.26 L 406.17 247.53 L 406.21 248.00 L 406.26 246.07 L 406.31 247.90 L 406.36 247.67 L 406.40 247.29 L 406.45 247.42 L 406.50 248.20 L 406.55 247.66 L 406.59 247.41 L 406.64 247.13 L 406.69 247.92 L 406.74 247.71 L 406.78 247.10 L 406.83 247.27 L 406.88 247.20 L 406.93 246.93 L 406.97 246.89 L 407.02 247.02 L 407.07 245.09 L 407.12 244.98 L 407.16 244.00 L 407.21 245.44 L 407.26 245.50 L 407.31 245.44 L 407.35 244.36 L 407.40 243.64 L 407.45 244.69 L 407.50 243.90 L 407.54 243.86 L 407.59 243.42 L 407.64 244.37 L 407.69 244.08 L 407.73 243.08 L 407.78 243.52 L 407.83 243.24 L 407.88 244.01 L 407.92 241.43 L 407.97 244.48 L 408.02 241.15 L 408.07 242.43 L 408.11 241.71 L 408.16 242.24 L 408.21 241.61 L 408.26 241.82 L 408.30 241.96 L 408.35 240.92 L 408.40 240.60 L 408.45 241.75 L 408.49 241.79 L 408.54 241.02 L 408.59 241.77 L 408.64 242.13 L 408.68 241.46 L 408.73 239.66 L 408.78 241.21 L 408.83 241.50 L 408.87 241.41 L 408.92 242.43 L 408.97 241.96 L 409.02 240.65 L 409.06 241.05 L 409.11 240.81 L 409.16 240.98 L 409.21 240.21 L 409.25 241.22 L 409.30 240.12 L 409.35 241.04 L 409.40 240.62 L 409.44 240.14 L 409.49 240.94 L 409.54 240.84 L 409.59 239.49 L 409.63 240.37 L 409.68 239.65 L 409.73 239.57 L 409.78 241.41 L 409.82 239.47 L 409.87 239.32 L 409.92 240.22 L 409.97 239.67 L 410.01 238.79 L 410.06 239.69 L 410.11 239.52 L 410.16 239.70 L 410.20 235.87 L 410.25 239.01 L 410.30 239.56 L 410.35 238.93 L 410.39 238.29 L 410.44 238.99 L 410.49 238.95 L 410.54 238.46 L 410.58 238.71 L 410.63 238.43 L 410.68 237.41 L 410.73 238.90 L 410.77 237.71 L 410.82 238.13 L 410.87 237.11 L 410.92 237.49 L 410.96 237.56 L 411.01 236.34 L 411.06 236.57 L 411.11 236.37 L 411.15 235.50 L 411.20 233.15 L 411.25 235.93 L 411.30 235.16 L 411.34 234.27 L 411.39 233.21 L 411.44 233.29 L 411.49 232.99 L 411.53 231.92 L 411.58 231.14 L 411.63 231.21 L 411.68 230.75 L 411.72 230.34 L 411.77 230.12 L 411.82 228.19 L 411.87 228.12 L 411.91 228.91 L 411.96 228.51 L 412.01 227.72 L 412.06 227.79 L 412.10 226.32 L 412.15 226.49 L 412.20 226.12 L 412.25 225.77 L 412.29 225.29 L 412.34 225.08 L 412.39 224.22 L 412.44 223.48 L 412.48 223.44 L 412.53 222.43 L 412.58 222.89 L 412.63 221.93 L 412.67 221.69 L 412.72 221.64 L 412.77 220.80 L 412.82 219.91 L 412.86 220.87 L 412.91 220.78 L 412.96 220.00 L 413.01 220.44 L 413.05 219.89 L 413.10 220.41 L 413.15 220.18 L 413.20 219.73 L 413.24 219.72 L 413.29 220.61 L 413.34 221.35 L 413.39 219.62 L 413.43 220.03 L 413.48 220.40 L 413.53 219.53 L 413.58 219.56 L 413.62 220.47 L 413.67 220.20 L 413.72 220.64 L 413.77 220.51 L 413.81 220.27 L 413.86 220.90 L 413.91 220.33 L 413.96 220.37 L 414.00 220.09 L 414.05 220.59 L 414.10 219.73 L 414.15 219.44 L 414.19 219.38 L 414.24 218.48 L 414.29 217.02 L 414.34 216.71 L 414.38 216.58 L 414.43 215.82 L 414.48 215.12 L 414.53 214.08 L 414.57 213.38 L 414.62 212.70 L 414.67 212.19 L 414.72 211.34 L 414.76 210.03 L 414.81 209.83 L 414.86 208.05 L 414.91 207.28 L 414.95 206.22 L 415.00 205.18 L 415.05 204.19 L 415.10 203.68 L 415.14 202.23 L 415.19 201.21 L 415.24 200.92 L 415.29 199.82 L 415.33 199.04 L 415.38 198.09 L 415.43 197.44 L 415.48 196.42 L 415.52 195.64 L 415.57 195.42 L 415.62 194.45 L 415.67 194.16 L 415.71 193.48 L 415.76 192.81 L 415.81 191.78 L 415.86 191.52 L 415.90 190.39 L 415.95 189.92 L 416.00 188.48 L 416.05 187.71 L 416.09 187.19 L 416.14 186.43 L 416.19 185.93 L 416.24 185.44 L 416.28 184.64 L 416.33 184.17 L 416.38 183.77 L 416.43 183.06 L 416.47 182.59 L 416.52 182.42 L 416.57 181.45 L 416.62 181.43 L 416.66 181.13 L 416.71 180.78 L 416.76 180.32 L 416.81 179.52 L 416.85 179.61 L 416.90 178.71 L 416.95 178.07 L 417.00 177.83 L 417.04 178.08 L 417.09 177.60 L 417.14 177.17 L 417.19 176.52 L 417.23 176.04 L 417.28 176.22 L 417.33 175.52 L 417.38 175.30 L 417.42 174.92 L 417.47 174.48 L 417.52 174.46 L 417.57 174.20 L 417.61 173.78 L 417.66 173.23 L 417.71 172.78 L 417.76 172.46 L 417.80 172.11 L 417.85 171.73 L 417.90 171.84 L 417.95 171.08 L 417.99 170.96 L 418.04 170.47 L 418.09 169.97 L 418.14 169.40 L 418.18 168.90 L 418.23 168.86 L 418.28 168.36 L 418.33 167.61 L 418.37 167.15 L 418.42 166.74 L 418.47 166.05 L 418.52 165.49 L 418.56 165.11 L 418.61 164.73 L 418.66 164.13 L 418.71 164.06 L 418.75 162.98 L 418.80 163.17 L 418.85 163.00 L 418.90 162.57 L 418.94 162.01 L 418.99 161.82 L 419.04 161.32 L 419.09 161.33 L 419.13 160.80 L 419.18 160.25 L 419.23 159.74 L 419.28 159.05 L 419.32 158.04 L 419.37 157.19 L 419.42 156.62 L 419.47 155.47 L 419.51 154.28 L 419.56 153.44 L 419.61 152.37 L 419.66 151.25 L 419.70 149.79 L 419.75 148.52 L 419.80 147.00 L 419.85 145.62 L 419.89 144.50 L 419.94 143.03 L 419.99 141.29 L 420.04 140.16 L 420.08 139.08 L 420.13 137.64 L 420.18 136.19 L 420.23 135.23 L 420.27 134.20 L 420.32 132.99 L 420.37 131.86 L 420.42 130.61 L 420.46 129.26 L 420.51 127.97 L 420.56 126.30 L 420.61 124.66 L 420.65 122.35 L 420.70 119.59 L 420.75 117.00 L 420.80 115.12 L 420.84 113.44 L 420.89 111.94 L 420.94 110.66 L 420.99 109.41 L 421.03 108.22 L 421.08 107.31 L 421.13 106.29 L 421.18 105.31 L 421.22 104.43 L 421.27 103.56 L 421.32 102.55 L 421.37 101.66 L 421.41 100.71 L 421.46 99.69 L 421.51 98.54 L 421.56 97.41 L 421.60 96.24 L 421.65 95.04 L 421.70 93.98 L 421.75 92.72 L 421.79 91.74 L 421.84 90.60 L 421.89 89.50 L 421.94 88.50 L 421.98 87.39 L 422.03 86.45 L 422.08 85.54 L 422.13 84.44 L 422.17 83.50 L 422.22 82.44 L 422.27 81.35 L 422.32 80.36 L 422.36 79.39 L 422.41 78.31 L 422.46 77.45 L 422.51 76.52 L 422.55 75.74 L 422.60 74.67 L 422.65 73.80 L 422.70 72.99 L 422.74 72.04 L 422.79 71.17 L 422.84 70.14 L 422.89 69.08 L 422.93 67.89 L 422.98 66.64 L 423.03 65.55 L 423.08 64.20 L 423.12 62.78 L 423.17 61.58 L 423.22 60.36 L 423.27 59.33 L 423.31 58.31 L 423.36 57.39 L 423.41 56.58 L 423.46 55.78 L 423.50 54.80 L 423.55 54.19 L 423.60 53.44 L 423.65 52.82 L 423.69 52.17 L 423.74 51.37 L 423.79 50.61 L 423.84 49.74 L 423.88 48.91 L 423.93 48.18 L 423.98 47.17 L 424.03 46.45 L 424.07 45.65 L 424.12 44.82 L 424.17 44.11 L 424.22 43.48 L 424.26 42.76 L 424.31 42.11 L 424.36 41.36 L 424.41 40.68 L 424.45 39.95 L 424.50 39.45 L 424.55 38.68 L 424.60 38.13 L 424.64 37.50 L 424.69 37.05 L 424.74 36.58 L 424.79 36.25 L 424.83 35.61 L 424.88 35.34 L 424.93 34.78 L 424.98 34.46 L 425.02 34.10 L 425.07 33.63 L 425.12 33.51 L 425.17 33.06 L 425.21 32.75 L 425.26 32.62 L 425.31 32.37 L 425.36 31.92 L 425.40 31.69 L 425.45 31.31 L 425.50 31.02 L 425.55 30.81 L 425.59 30.57 L 425.64 30.20 L 425.69 29.92 L 425.74 29.82 L 425.78 29.58 L 425.83 29.37 L 425.88 29.24 L 425.93 28.98 L 425.97 28.87 L 426.02 28.58 L 426.07 28.55 L 426.12 28.45 L 426.16 28.35 L 426.21 28.17 L 426.26 28.00 L 426.31 27.98 L 426.35 27.76 L 426.40 27.79 L 426.45 27.62 L 426.50 27.37 L 426.54 27.54 L 426.59 27.24 L 426.64 27.27 L 426.69 27.01 L 426.73 26.78 L 426.78 26.64 L 426.83 26.50 L 426.88 26.41 L 426.92 26.10 L 426.97 26.11 L 427.02 25.87 L 427.07 25.87 L 427.11 25.64 L 427.16 25.50 L 427.21 25.27 L 427.26 25.06 L 427.30 24.75 L 427.35 24.46 L 427.40 24.11 L 427.45 23.97 L 427.49 23.85 L 427.54 23.51 L 427.59 23.24 L 427.64 22.90 L 427.68 22.69 L 427.73 22.49 L 427.78 22.34 L 427.83 21.97 L 427.87 21.87 L 427.92 21.56 L 427.97 21.39 L 428.02 21.16 L 428.06 20.85 L 428.11 20.78 L 428.16 20.46 L 428.21 20.29 L 428.25 20.20 L 428.30 20.12 L 428.35 19.94 L 428.40 19.64 L 428.44 19.63 L 428.49 19.38 L 428.54 19.22 L 428.59 19.11 L 428.63 18.96 L 428.68 18.75 L 428.73 18.43 L 428.78 18.41 L 428.82 18.23 L 428.87 18.10 L 428.92 17.89 L 428.97 17.69 L 429.01 17.59 L 429.06 17.47 L 429.11 17.07 L 429.16 17.09 L 429.20 16.92 L 429.25 16.69 L 429.30 16.57 L 429.35 16.26 L 429.39 16.28 L 429.44 16.05 L 429.49 15.89 L 429.54 16.03 L 429.58 15.75 L 429.63 15.67 L 429.68 15.66 L 429.73 15.42 L 429.77 15.31 L 429.82 15.20 L 429.87 15.16 L 429.92 14.90 L 429.96 14.89 L 430.01 14.72 L 430.06 14.77 L 430.11 14.57 " clip-path="url(#p360d8011f8)" style="fill: none; stroke: #ff0000; stroke-width: 0.5; stroke-linecap: square"/>
   </g>
   <g id="line2d_36">
    <path d="M 50.28 14.41 L 50.33 15.32 L 50.37 16.12 L 50.42 16.81 L 50.47 17.78 L 50.52 18.50 L 50.56 19.16 L 50.61 19.93 L 50.66 20.56 L 50.71 21.15 L 50.75 21.66 L 50.80 22.19 L 50.85 22.53 L 50.90 22.94 L 50.94 23.26 L 50.99 23.67 L 51.04 23.94 L 51.09 24.19 L 51.13 24.42 L 51.18 24.72 L 51.23 24.98 L 51.28 25.18 L 51.32 25.50 L 51.37 25.66 L 51.42 25.53 L 51.47 25.74 L 51.51 26.02 L 51.56 26.13 L 51.61 26.29 L 51.66 26.39 L 51.70 26.61 L 51.75 26.45 L 51.80 26.57 L 51.85 26.84 L 51.89 26.82 L 51.94 26.92 L 51.99 26.93 L 52.04 26.97 L 52.08 27.23 L 52.13 27.37 L 52.18 27.39 L 52.23 27.59 L 52.27 27.79 L 52.32 27.87 L 52.37 28.10 L 52.42 28.30 L 52.46 28.48 L 52.51 28.63 L 52.56 28.90 L 52.61 29.13 L 52.65 29.32 L 52.70 29.45 L 52.75 29.82 L 52.80 29.96 L 52.84 30.32 L 52.89 30.52 L 52.94 30.94 L 52.99 31.23 L 53.03 31.52 L 53.08 31.99 L 53.13 32.47 L 53.18 32.91 L 53.22 33.29 L 53.27 33.78 L 53.32 34.45 L 53.37 34.97 L 53.41 35.66 L 53.46 36.38 L 53.51 36.90 L 53.56 37.81 L 53.60 38.78 L 53.65 39.63 L 53.70 40.59 L 53.75 41.68 L 53.79 42.57 L 53.84 43.48 L 53.89 44.18 L 53.94 44.89 L 53.98 45.76 L 54.03 46.49 L 54.08 47.35 L 54.13 48.10 L 54.17 48.78 L 54.22 49.68 L 54.27 50.75 L 54.32 51.68 L 54.36 52.56 L 54.41 53.59 L 54.46 54.59 L 54.51 55.52 L 54.55 56.45 L 54.60 57.26 L 54.65 58.04 L 54.70 58.78 L 54.74 59.61 L 54.79 60.07 L 54.84 60.92 L 54.89 61.63 L 54.93 62.21 L 54.98 63.04 L 55.03 63.66 L 55.08 64.48 L 55.12 65.15 L 55.17 65.97 L 55.22 66.79 L 55.27 67.51 L 55.31 68.20 L 55.36 68.96 L 55.41 70.00 L 55.46 70.67 L 55.50 71.44 L 55.55 72.31 L 55.60 73.08 L 55.65 73.95 L 55.69 74.64 L 55.74 75.37 L 55.79 76.03 L 55.84 76.85 L 55.88 77.49 L 55.93 78.40 L 55.98 79.27 L 56.03 79.90 L 56.07 80.76 L 56.12 82.06 L 56.17 83.51 L 56.22 84.62 L 56.26 85.96 L 56.31 87.30 L 56.36 88.14 L 56.41 88.93 L 56.45 89.59 L 56.50 90.27 L 56.55 90.83 L 56.60 91.62 L 56.64 92.50 L 56.69 93.64 L 56.74 96.12 L 56.79 98.81 L 56.83 100.11 L 56.88 100.83 L 56.93 101.48 L 56.98 102.22 L 57.02 102.57 L 57.07 102.98 L 57.12 103.40 L 57.17 103.73 L 57.21 104.17 L 57.26 104.62 L 57.31 104.95 L 57.36 105.17 L 57.40 105.62 L 57.45 105.82 L 57.50 106.09 L 57.55 106.45 L 57.59 106.86 L 57.64 107.43 L 57.69 107.71 L 57.74 108.40 L 57.78 108.89 L 57.83 109.81 L 57.88 110.67 L 57.93 111.41 L 57.97 112.22 L 58.02 113.08 L 58.07 113.92 L 58.12 114.74 L 58.16 115.68 L 58.21 116.45 L 58.26 117.33 L 58.31 118.36 L 58.35 119.43 L 58.40 120.57 L 58.45 121.72 L 58.50 122.93 L 58.54 123.95 L 58.59 125.33 L 58.64 126.28 L 58.69 127.29 L 58.73 128.50 L 58.78 129.62 L 58.83 130.62 L 58.88 131.72 L 58.92 132.81 L 58.97 134.48 L 59.02 135.54 L 59.07 136.51 L 59.11 137.51 L 59.16 138.43 L 59.21 138.96 L 59.26 139.77 L 59.30 140.29 L 59.35 141.05 L 59.40 141.58 L 59.45 141.71 L 59.49 142.62 L 59.54 143.07 L 59.59 144.08 L 59.64 144.75 L 59.68 145.67 L 59.73 146.37 L 59.78 147.70 L 59.83 148.68 L 59.87 149.28 L 59.92 150.46 L 59.97 151.27 L 60.02 152.28 L 60.06 153.03 L 60.11 154.38 L 60.16 154.89 L 60.21 155.89 L 60.25 156.96 L 60.30 157.74 L 60.35 158.74 L 60.40 159.63 L 60.44 160.69 L 60.49 161.55 L 60.54 162.70 L 60.59 163.78 L 60.63 164.79 L 60.68 165.87 L 60.73 166.74 L 60.78 167.78 L 60.82 168.43 L 60.87 169.27 L 60.92 169.94 L 60.97 170.75 L 61.01 171.38 L 61.06 172.41 L 61.11 172.72 L 61.16 173.37 L 61.20 174.13 L 61.25 174.56 L 61.30 174.81 L 61.35 174.90 L 61.39 175.71 L 61.44 176.01 L 61.49 176.01 L 61.54 176.79 L 61.58 176.85 L 61.63 177.05 L 61.68 177.65 L 61.73 177.87 L 61.77 178.41 L 61.82 178.15 L 61.87 179.12 L 61.92 178.88 L 61.96 178.94 L 62.01 179.68 L 62.06 179.85 L 62.11 180.37 L 62.15 180.64 L 62.20 181.16 L 62.25 181.77 L 62.30 182.36 L 62.34 183.62 L 62.39 184.35 L 62.44 185.20 L 62.49 186.27 L 62.53 187.07 L 62.58 187.57 L 62.63 188.00 L 62.68 189.02 L 62.72 189.05 L 62.77 189.92 L 62.82 190.94 L 62.87 191.38 L 62.91 192.72 L 62.96 193.91 L 63.01 195.62 L 63.06 196.66 L 63.10 198.10 L 63.15 199.66 L 63.20 199.80 L 63.25 202.24 L 63.29 201.76 L 63.34 202.36 L 63.39 203.40 L 63.44 203.62 L 63.48 203.58 L 63.53 204.87 L 63.58 205.49 L 63.63 205.66 L 63.67 206.31 L 63.72 207.55 L 63.77 207.65 L 63.82 209.05 L 63.86 209.84 L 63.91 210.48 L 63.96 211.07 L 64.01 212.33 L 64.05 212.91 L 64.10 214.44 L 64.15 214.92 L 64.20 215.92 L 64.24 216.42 L 64.29 217.21 L 64.34 217.41 L 64.39 218.66 L 64.43 219.67 L 64.48 219.33 L 64.53 219.75 L 64.58 220.42 L 64.62 220.86 L 64.67 221.18 L 64.72 221.99 L 64.77 222.35 L 64.81 223.38 L 64.86 223.19 L 64.91 223.82 L 64.96 224.48 L 65.00 224.36 L 65.05 225.48 L 65.10 225.09 L 65.15 225.51 L 65.19 226.18 L 65.24 226.68 L 65.29 226.48 L 65.34 227.43 L 65.38 227.14 L 65.43 228.99 L 65.48 228.75 L 65.53 228.87 L 65.57 229.09 L 65.62 229.71 L 65.67 230.23 L 65.72 230.18 L 65.76 230.70 L 65.81 231.40 L 65.86 231.64 L 65.91 232.71 L 65.95 233.18 L 66.00 233.37 L 66.05 233.72 L 66.10 233.09 L 66.14 234.51 L 66.19 234.60 L 66.24 235.08 L 66.29 235.95 L 66.33 234.23 L 66.38 235.87 L 66.43 235.44 L 66.48 236.53 L 66.52 236.74 L 66.57 236.52 L 66.62 237.15 L 66.67 237.66 L 66.71 237.66 L 66.76 237.53 L 66.81 237.96 L 66.86 239.02 L 66.90 238.91 L 66.95 238.29 L 67.00 240.11 L 67.05 240.19 L 67.09 240.77 L 67.14 240.50 L 67.19 241.58 L 67.24 240.85 L 67.28 242.17 L 67.33 241.89 L 67.38 243.02 L 67.43 243.54 L 67.47 242.93 L 67.52 243.75 L 67.57 244.15 L 67.62 245.17 L 67.66 245.24 L 67.71 244.42 L 67.76 245.85 L 67.81 246.16 L 67.85 247.35 L 67.90 245.42 L 67.95 246.35 L 68.00 247.77 L 68.04 246.33 L 68.09 246.52 L 68.14 247.72 L 68.19 248.22 L 68.23 247.34 L 68.28 248.34 L 68.33 248.15 L 68.38 249.27 L 68.42 248.44 L 68.47 249.29 L 68.52 248.27 L 68.57 249.02 L 68.61 249.21 L 68.66 250.17 L 68.71 249.85 L 68.76 249.21 L 68.80 250.23 L 68.85 250.46 L 68.90 249.95 L 68.95 250.01 L 68.99 250.09 L 69.04 249.26 L 69.09 250.77 L 69.14 250.82 L 69.18 250.20 L 69.23 251.42 L 69.28 250.07 L 69.33 250.77 L 69.37 251.06 L 69.42 252.83 L 69.47 250.64 L 69.52 252.24 L 69.56 252.89 L 69.61 252.58 L 69.66 253.43 L 69.71 252.13 L 69.75 251.47 L 69.80 253.68 L 69.85 252.64 L 69.90 253.30 L 69.94 252.73 L 69.99 254.31 L 70.04 254.45 L 70.09 253.52 L 70.13 254.93 L 70.18 254.62 L 70.23 254.54 L 70.28 254.86 L 70.32 254.92 L 70.37 255.81 L 70.42 255.91 L 70.47 255.60 L 70.51 256.76 L 70.56 255.73 L 70.61 256.67 L 70.66 257.03 L 70.70 258.01 L 70.75 256.77 L 70.80 258.57 L 70.85 257.49 L 70.89 257.47 L 70.94 257.21 L 70.99 258.37 L 71.04 258.06 L 71.08 257.32 L 71.13 257.35 L 71.18 257.86 L 71.23 257.94 L 71.27 259.42 L 71.32 259.76 L 71.37 259.48 L 71.42 259.13 L 71.46 258.51 L 71.51 258.91 L 71.56 259.84 L 71.61 260.98 L 71.65 260.17 L 71.70 259.40 L 71.75 259.67 L 71.80 259.38 L 71.84 259.18 L 71.89 259.86 L 71.94 260.38 L 71.99 261.62 L 72.03 260.20 L 72.08 261.35 L 72.13 261.76 L 72.18 260.56 L 72.22 261.84 L 72.27 261.24 L 72.32 260.49 L 72.37 260.96 L 72.41 260.84 L 72.46 260.84 L 72.51 260.80 L 72.56 261.12 L 72.60 261.31 L 72.65 260.22 L 72.70 261.01 L 72.75 260.65 L 72.79 261.47 L 72.84 261.71 L 72.89 261.39 L 72.94 261.96 L 72.98 261.93 L 73.03 261.09 L 73.08 261.55 L 73.13 262.24 L 73.17 262.58 L 73.22 262.09 L 73.27 263.93 L 73.32 261.87 L 73.36 262.72 L 73.41 263.12 L 73.46 262.07 L 73.51 261.63 L 73.55 261.47 L 73.60 262.63 L 73.65 263.41 L 73.70 262.74 L 73.74 262.67 L 73.79 262.29 L 73.84 263.07 L 73.89 260.93 L 73.93 262.84 L 73.98 262.61 L 74.03 261.44 L 74.08 264.30 L 74.12 261.51 L 74.17 261.69 L 74.22 261.54 L 74.27 263.39 L 74.31 261.83 L 74.36 263.16 L 74.41 263.19 L 74.46 263.08 L 74.50 261.88 L 74.55 262.49 L 74.60 264.53 L 74.65 262.17 L 74.69 262.67 L 74.74 263.33 L 74.79 264.10 L 74.84 263.71 L 74.88 264.02 L 74.93 262.62 L 74.98 264.40 L 75.03 264.22 L 75.07 262.63 L 75.12 265.11 L 75.17 265.67 L 75.22 263.35 L 75.26 264.05 L 75.31 265.34 L 75.36 263.02 L 75.41 262.71 L 75.45 263.36 L 75.50 263.93 L 75.55 264.15 L 75.60 265.22 L 75.64 264.87 L 75.69 263.64 L 75.74 265.16 L 75.79 266.36 L 75.83 265.74 L 75.88 265.48 L 75.93 264.75 L 75.98 265.88 L 76.02 263.87 L 76.07 265.36 L 76.12 264.64 L 76.17 265.67 L 76.21 264.99 L 76.26 263.70 L 76.31 264.84 L 76.36 265.70 L 76.40 263.81 L 76.45 264.23 L 76.50 264.14 L 76.55 263.65 L 76.59 265.77 L 76.64 266.07 L 76.69 265.62 L 76.74 265.11 L 76.78 264.90 L 76.83 265.18 L 76.88 264.41 L 76.93 265.83 L 76.97 265.89 L 77.02 265.66 L 77.07 264.61 L 77.12 265.09 L 77.16 264.87 L 77.21 266.44 L 77.26 265.07 L 77.31 263.38 L 77.35 265.22 L 77.40 266.66 L 77.45 265.79 L 77.50 265.87 L 77.54 265.28 L 77.59 263.52 L 77.64 263.72 L 77.69 264.22 L 77.73 265.26 L 77.78 265.59 L 77.83 265.91 L 77.88 265.00 L 77.92 266.19 L 77.97 265.15 L 78.02 264.93 L 78.07 266.29 L 78.11 264.81 L 78.16 263.26 L 78.21 264.74 L 78.26 265.59 L 78.30 262.95 L 78.35 265.20 L 78.40 265.24 L 78.45 264.31 L 78.49 264.29 L 78.54 265.18 L 78.59 265.08 L 78.64 266.75 L 78.68 265.99 L 78.73 264.35 L 78.78 264.92 L 78.83 266.19 L 78.87 267.17 L 78.92 266.02 L 78.97 265.90 L 79.02 267.21 L 79.06 265.57 L 79.11 265.34 L 79.16 264.54 L 79.21 265.27 L 79.25 267.67 L 79.30 264.70 L 79.35 265.73 L 79.40 264.59 L 79.44 265.85 L 79.49 266.46 L 79.54 265.57 L 79.58 266.27 L 79.63 266.27 L 79.68 265.81 L 79.73 266.74 L 79.77 266.01 L 79.82 265.08 L 79.87 264.72 L 79.92 264.58 L 79.96 265.83 L 80.01 265.30 L 80.06 268.16 L 80.11 267.68 L 80.15 266.19 L 80.20 266.11 L 80.25 267.91 L 80.30 264.98 L 80.34 266.06 L 80.39 267.07 L 80.44 265.38 L 80.49 265.60 L 80.53 265.67 L 80.58 266.39 L 80.63 265.98 L 80.68 266.01 L 80.72 266.19 L 80.77 265.79 L 80.82 266.70 L 80.87 265.23 L 80.91 264.56 L 80.96 264.33 L 81.01 264.56 L 81.06 265.36 L 81.10 266.81 L 81.15 266.20 L 81.20 265.62 L 81.25 265.25 L 81.29 265.61 L 81.34 265.75 L 81.39 265.60 L 81.44 264.81 L 81.48 265.78 L 81.53 267.09 L 81.58 264.24 L 81.63 266.02 L 81.67 264.41 L 81.72 266.51 L 81.77 265.79 L 81.82 264.72 L 81.86 266.61 L 81.91 267.98 L 81.96 266.54 L 82.01 267.51 L 82.05 266.45 L 82.10 264.61 L 82.15 266.72 L 82.20 265.86 L 82.24 264.94 L 82.29 266.79 L 82.34 266.51 L 82.39 265.83 L 82.43 266.89 L 82.48 265.34 L 82.53 266.81 L 82.58 265.42 L 82.62 266.70 L 82.67 265.24 L 82.72 267.52 L 82.77 266.40 L 82.81 267.39 L 82.86 265.64 L 82.91 265.82 L 82.96 268.57 L 83.00 263.98 L 83.05 265.54 L 83.10 267.23 L 83.15 266.97 L 83.19 267.49 L 83.24 266.29 L 83.29 266.92 L 83.34 265.95 L 83.38 265.59 L 83.43 265.20 L 83.48 266.14 L 83.53 266.24 L 83.57 265.83 L 83.62 263.35 L 83.67 264.86 L 83.72 266.32 L 83.76 266.96 L 83.81 266.06 L 83.86 265.88 L 83.91 264.80 L 83.95 268.56 L 84.00 266.06 L 84.05 268.43 L 84.10 268.14 L 84.14 267.01 L 84.19 266.40 L 84.24 267.03 L 84.29 265.77 L 84.33 266.86 L 84.38 266.71 L 84.43 267.22 L 84.48 267.67 L 84.52 268.44 L 84.57 266.65 L 84.62 267.82 L 84.67 266.28 L 84.71 266.28 L 84.76 266.69 L 84.81 266.34 L 84.86 268.04 L 84.90 267.85 L 84.95 268.35 L 85.00 267.24 L 85.05 267.58 L 85.09 267.01 L 85.14 266.64 L 85.19 267.98 L 85.24 267.87 L 85.28 266.71 L 85.33 268.40 L 85.38 266.30 L 85.43 267.90 L 85.47 267.55 L 85.52 267.50 L 85.57 267.14 L 85.62 268.95 L 85.66 268.71 L 85.71 269.38 L 85.76 268.39 L 85.81 267.27 L 85.85 267.81 L 85.90 267.30 L 85.95 268.97 L 86.00 269.66 L 86.04 268.93 L 86.09 268.10 L 86.14 268.38 L 86.19 268.98 L 86.23 267.45 L 86.28 268.97 L 86.33 268.85 L 86.38 268.15 L 86.42 268.34 L 86.47 268.94 L 86.52 268.10 L 86.57 268.04 L 86.61 269.43 L 86.66 268.94 L 86.71 270.21 L 86.76 267.86 L 86.80 267.22 L 86.85 269.64 L 86.90 269.72 L 86.95 268.36 L 86.99 267.69 L 87.04 269.15 L 87.09 267.88 L 87.14 269.42 L 87.18 267.88 L 87.23 269.75 L 87.28 268.20 L 87.33 269.87 L 87.37 271.41 L 87.42 269.89 L 87.47 270.66 L 87.52 269.21 L 87.56 268.98 L 87.61 268.44 L 87.66 270.65 L 87.71 269.50 L 87.75 271.00 L 87.80 268.64 L 87.85 269.56 L 87.90 269.95 L 87.94 271.31 L 87.99 271.70 L 88.04 269.39 L 88.09 268.85 L 88.13 268.36 L 88.18 271.25 L 88.23 269.85 L 88.28 269.33 L 88.32 269.83 L 88.37 267.54 L 88.42 268.24 L 88.47 270.77 L 88.51 270.35 L 88.56 270.20 L 88.61 269.08 L 88.66 270.55 L 88.70 271.62 L 88.75 268.99 L 88.80 270.04 L 88.85 269.65 L 88.89 270.43 L 88.94 270.07 L 88.99 269.90 L 89.04 269.21 L 89.08 269.97 L 89.13 269.41 L 89.18 269.74 L 89.23 269.83 L 89.27 270.45 L 89.32 269.30 L 89.37 269.55 L 89.42 270.73 L 89.46 269.77 L 89.51 269.69 L 89.56 270.80 L 89.61 270.24 L 89.65 270.25 L 89.70 270.29 L 89.75 268.87 L 89.80 270.58 L 89.84 271.53 L 89.89 270.71 L 89.94 268.85 L 89.99 270.43 L 90.03 269.50 L 90.08 270.00 L 90.13 270.36 L 90.18 269.20 L 90.22 271.44 L 90.27 269.98 L 90.32 270.70 L 90.37 270.57 L 90.41 271.36 L 90.46 271.22 L 90.51 268.80 L 90.56 270.24 L 90.60 268.34 L 90.65 269.78 L 90.70 270.87 L 90.75 271.21 L 90.79 271.47 L 90.84 269.92 L 90.89 270.66 L 90.94 270.29 L 90.98 271.30 L 91.03 271.44 L 91.08 269.76 L 91.13 273.69 L 91.17 270.16 L 91.22 269.83 L 91.27 270.72 L 91.32 270.65 L 91.36 270.68 L 91.41 269.57 L 91.46 271.51 L 91.51 270.25 L 91.55 272.91 L 91.60 271.48 L 91.65 269.10 L 91.70 269.26 L 91.74 269.45 L 91.79 270.49 L 91.84 270.45 L 91.89 270.79 L 91.93 269.79 L 91.98 270.84 L 92.03 271.81 L 92.08 269.31 L 92.12 270.35 L 92.17 270.61 L 92.22 270.27 L 92.27 270.20 L 92.31 271.80 L 92.36 271.36 L 92.41 270.77 L 92.46 269.40 L 92.50 272.10 L 92.55 270.46 L 92.60 269.68 L 92.65 270.04 L 92.69 269.82 L 92.74 272.37 L 92.79 270.61 L 92.84 270.61 L 92.88 268.54 L 92.93 271.26 L 92.98 269.63 L 93.03 269.49 L 93.07 271.02 L 93.12 269.77 L 93.17 271.30 L 93.22 271.58 L 93.26 268.91 L 93.31 270.33 L 93.36 268.97 L 93.41 270.45 L 93.45 271.42 L 93.50 269.40 L 93.55 272.14 L 93.60 270.31 L 93.64 269.50 L 93.69 270.40 L 93.74 271.18 L 93.79 269.21 L 93.83 270.32 L 93.88 269.01 L 93.93 271.38 L 93.98 270.53 L 94.02 269.83 L 94.07 271.30 L 94.12 269.41 L 94.17 270.31 L 94.21 272.33 L 94.26 270.60 L 94.31 272.01 L 94.36 270.76 L 94.40 270.10 L 94.45 270.71 L 94.50 270.93 L 94.55 270.34 L 94.59 269.98 L 94.64 270.22 L 94.69 269.63 L 94.74 271.17 L 94.78 271.44 L 94.83 271.63 L 94.88 269.14 L 94.93 271.50 L 94.97 270.84 L 95.02 269.48 L 95.07 270.70 L 95.12 271.41 L 95.16 271.10 L 95.21 271.82 L 95.26 271.55 L 95.31 271.57 L 95.35 270.78 L 95.40 268.68 L 95.45 270.02 L 95.50 271.01 L 95.54 270.13 L 95.59 271.33 L 95.64 271.43 L 95.69 270.80 L 95.73 272.59 L 95.78 269.85 L 95.83 271.79 L 95.88 270.54 L 95.92 270.23 L 95.97 271.57 L 96.02 270.20 L 96.07 271.45 L 96.11 269.71 L 96.16 270.63 L 96.21 269.93 L 96.26 270.55 L 96.30 270.51 L 96.35 269.95 L 96.40 271.65 L 96.45 269.94 L 96.49 270.32 L 96.54 271.92 L 96.59 272.17 L 96.64 271.84 L 96.68 271.48 L 96.73 273.13 L 96.78 269.80 L 96.83 270.04 L 96.87 269.84 L 96.92 271.36 L 96.97 270.66 L 97.02 271.54 L 97.06 271.28 L 97.11 270.14 L 97.16 269.62 L 97.21 269.62 L 97.25 272.75 L 97.30 271.68 L 97.35 271.45 L 97.40 270.81 L 97.44 270.93 L 97.49 270.95 L 97.54 271.07 L 97.59 269.25 L 97.63 271.30 L 97.68 270.92 L 97.73 271.57 L 97.78 271.69 L 97.82 272.24 L 97.87 271.31 L 97.92 271.98 L 97.97 268.77 L 98.01 270.08 L 98.06 272.80 L 98.11 270.00 L 98.16 270.91 L 98.20 271.73 L 98.25 271.60 L 98.30 271.81 L 98.35 269.91 L 98.39 269.50 L 98.44 270.68 L 98.49 269.84 L 98.54 271.49 L 98.58 271.18 L 98.63 271.82 L 98.68 270.48 L 98.73 273.71 L 98.77 271.29 L 98.82 271.36 L 98.87 271.62 L 98.92 270.87 L 98.96 270.49 L 99.01 271.34 L 99.06 271.98 L 99.11 271.73 L 99.15 272.12 L 99.20 270.69 L 99.25 270.60 L 99.30 274.58 L 99.34 271.18 L 99.39 271.81 L 99.44 271.76 L 99.49 272.56 L 99.53 270.15 L 99.58 271.02 L 99.63 271.17 L 99.68 271.15 L 99.72 269.32 L 99.77 271.46 L 99.82 268.97 L 99.87 272.13 L 99.91 272.36 L 99.96 272.40 L 100.01 270.50 L 100.06 272.45 L 100.10 270.88 L 100.15 270.58 L 100.20 270.81 L 100.25 271.00 L 100.29 271.92 L 100.34 272.48 L 100.39 269.89 L 100.44 271.41 L 100.48 272.81 L 100.53 272.15 L 100.58 272.24 L 100.63 270.40 L 100.67 272.54 L 100.72 270.11 L 100.77 271.83 L 100.82 272.73 L 100.86 273.31 L 100.91 272.00 L 100.96 272.18 L 101.01 271.12 L 101.05 271.25 L 101.10 272.91 L 101.15 271.95 L 101.20 271.81 L 101.24 270.85 L 101.29 272.32 L 101.34 272.82 L 101.39 271.64 L 101.43 271.68 L 101.48 273.62 L 101.53 272.27 L 101.58 271.68 L 101.62 270.92 L 101.67 271.22 L 101.72 271.49 L 101.77 272.91 L 101.81 271.11 L 101.86 273.43 L 101.91 271.04 L 101.96 271.45 L 102.00 272.63 L 102.05 271.57 L 102.10 271.00 L 102.15 271.76 L 102.19 272.41 L 102.24 270.52 L 102.29 272.04 L 102.34 272.07 L 102.38 271.90 L 102.43 273.04 L 102.48 271.77 L 102.53 272.04 L 102.57 272.38 L 102.62 273.08 L 102.67 271.98 L 102.72 273.43 L 102.76 271.21 L 102.81 273.24 L 102.86 271.27 L 102.91 272.03 L 102.95 272.52 L 103.00 274.13 L 103.05 272.95 L 103.10 271.71 L 103.14 274.51 L 103.19 271.80 L 103.24 271.29 L 103.29 272.51 L 103.33 272.21 L 103.38 273.08 L 103.43 271.82 L 103.48 272.79 L 103.52 273.13 L 103.57 272.72 L 103.62 272.71 L 103.67 272.06 L 103.71 273.50 L 103.76 272.80 L 103.81 273.13 L 103.86 272.32 L 103.90 272.63 L 103.95 271.45 L 104.00 272.54 L 104.05 273.12 L 104.09 272.55 L 104.14 273.21 L 104.19 272.59 L 104.24 273.50 L 104.28 272.00 L 104.33 270.56 L 104.38 272.63 L 104.43 271.99 L 104.47 271.18 L 104.52 272.69 L 104.57 272.53 L 104.62 272.72 L 104.66 272.11 L 104.71 272.67 L 104.76 272.69 L 104.81 274.12 L 104.85 271.82 L 104.90 272.54 L 104.95 272.96 L 105.00 270.73 L 105.04 270.72 L 105.09 274.26 L 105.14 270.41 L 105.19 272.71 L 105.23 271.43 L 105.28 271.63 L 105.33 270.50 L 105.38 271.74 L 105.42 274.33 L 105.47 271.52 L 105.52 273.54 L 105.57 273.40 L 105.61 275.20 L 105.66 272.84 L 105.71 274.54 L 105.76 274.09 L 105.80 272.85 L 105.85 271.63 L 105.90 274.70 L 105.95 271.83 L 105.99 272.64 L 106.04 273.99 L 106.09 274.34 L 106.14 272.54 L 106.18 273.63 L 106.23 273.41 L 106.28 274.88 L 106.33 276.13 L 106.37 271.99 L 106.42 274.43 L 106.47 270.79 L 106.52 273.59 L 106.56 272.48 L 106.61 275.28 L 106.66 273.54 L 106.71 272.57 L 106.75 273.02 L 106.80 272.98 L 106.85 273.89 L 106.90 273.47 L 106.94 274.18 L 106.99 275.14 L 107.04 274.41 L 107.09 272.47 L 107.13 272.22 L 107.18 272.91 L 107.23 274.98 L 107.28 273.57 L 107.32 273.30 L 107.37 274.16 L 107.42 272.50 L 107.47 272.70 L 107.51 274.37 L 107.56 273.66 L 107.61 273.51 L 107.66 274.15 L 107.70 273.36 L 107.75 273.32 L 107.80 273.64 L 107.85 274.69 L 107.89 274.25 L 107.94 273.11 L 107.99 273.79 L 108.04 274.73 L 108.08 275.90 L 108.13 273.00 L 108.18 274.52 L 108.23 273.71 L 108.27 274.86 L 108.32 274.48 L 108.37 275.55 L 108.42 274.71 L 108.46 273.58 L 108.51 273.54 L 108.56 274.33 L 108.61 274.23 L 108.65 276.36 L 108.70 275.73 L 108.75 272.98 L 108.79 274.27 L 108.84 272.63 L 108.89 272.48 L 108.94 274.84 L 108.98 274.75 L 109.03 273.20 L 109.08 275.60 L 109.13 272.95 L 109.17 272.66 L 109.22 274.67 L 109.27 274.30 L 109.32 276.36 L 109.36 273.73 L 109.41 274.11 L 109.46 273.75 L 109.51 273.71 L 109.55 272.06 L 109.60 274.35 L 109.65 274.82 L 109.70 273.15 L 109.74 274.27 L 109.79 275.08 L 109.84 273.42 L 109.89 274.06 L 109.93 275.88 L 109.98 274.60 L 110.03 275.42 L 110.08 275.07 L 110.12 274.41 L 110.17 273.52 L 110.22 272.80 L 110.27 272.46 L 110.31 273.95 L 110.36 273.88 L 110.41 273.41 L 110.46 274.74 L 110.50 273.33 L 110.55 274.92 L 110.60 274.00 L 110.65 273.95 L 110.69 274.29 L 110.74 274.40 L 110.79 276.76 L 110.84 272.67 L 110.88 274.12 L 110.93 275.27 L 110.98 274.71 L 111.03 273.75 L 111.07 275.64 L 111.12 272.77 L 111.17 272.39 L 111.22 274.38 L 111.26 272.48 L 111.31 271.70 L 111.36 274.69 L 111.41 274.74 L 111.45 274.69 L 111.50 273.48 L 111.55 274.15 L 111.60 272.95 L 111.64 275.48 L 111.69 274.70 L 111.74 274.83 L 111.79 272.28 L 111.83 274.78 L 111.88 275.60 L 111.93 275.25 L 111.98 274.70 L 112.02 273.99 L 112.07 273.76 L 112.12 274.32 L 112.17 273.95 L 112.21 273.78 L 112.26 273.44 L 112.31 275.11 L 112.36 272.87 L 112.40 274.22 L 112.45 273.71 L 112.50 275.25 L 112.55 275.81 L 112.59 275.70 L 112.64 275.17 L 112.69 273.06 L 112.74 276.58 L 112.78 274.81 L 112.83 274.20 L 112.88 274.26 L 112.93 273.83 L 112.97 274.69 L 113.02 274.58 L 113.07 273.98 L 113.12 271.90 L 113.16 274.21 L 113.21 274.83 L 113.26 274.85 L 113.31 274.32 L 113.35 275.07 L 113.40 275.46 L 113.45 273.98 L 113.50 276.00 L 113.54 273.42 L 113.59 273.39 L 113.64 273.65 L 113.69 272.06 L 113.73 273.25 L 113.78 275.31 L 113.83 275.44 L 113.88 274.28 L 113.92 275.82 L 113.97 264.41 L 114.02 273.51 L 114.07 274.14 L 114.11 273.65 L 114.16 274.70 L 114.21 272.70 L 114.26 275.04 L 114.30 273.72 L 114.35 276 L 114.40 272.48 L 114.45 273.68 L 114.49 274.18 L 114.54 275.07 L 114.59 273.02 L 114.64 275.68 L 114.68 274.49 L 114.73 273.38 L 114.78 274.97 L 114.83 276.24 L 114.87 274.83 L 114.92 275.97 L 114.97 274.42 L 115.02 261.79 L 115.06 272.96 L 115.11 274.03 L 115.16 273.66 L 115.21 272.62 L 115.25 272.82 L 115.30 271.20 L 115.35 275.53 L 115.40 270.76 L 115.44 273.82 L 115.49 273.00 L 115.54 268.80 L 115.59 273.95 L 115.63 273.19 L 115.68 272.07 L 115.73 271.60 L 115.78 270.84 L 115.82 272.40 L 115.87 272.48 L 115.92 271.95 L 115.97 272.13 L 116.01 271.07 L 116.06 272.47 L 116.11 273.29 L 116.16 273.13 L 116.20 270.56 L 116.25 273.28 L 116.30 258.79 L 116.35 270.13 L 116.39 270.69 L 116.44 270.90 L 116.49 259.20 L 116.54 271.01 L 116.58 270.63 L 116.63 271.77 L 116.68 273.77 L 116.73 271.29 L 116.77 271.20 L 116.82 271.93 L 116.87 274.26 L 116.92 269.72 L 116.96 272.52 L 117.01 270.23 L 117.06 270.95 L 117.11 271.42 L 117.15 274.35 L 117.20 270.70 L 117.25 269.76 L 117.30 272.75 L 117.34 270.83 L 117.39 271.44 L 117.44 271.47 L 117.49 271.50 L 117.53 271.32 L 117.58 271.93 L 117.63 271.98 L 117.68 272.17 L 117.72 270.92 L 117.77 270.70 L 117.82 270.45 L 117.87 272.05 L 117.91 271.59 L 117.96 272.03 L 118.01 272.05 L 118.06 273.27 L 118.10 271.93 L 118.15 272.60 L 118.20 270.73 L 118.25 270.82 L 118.29 271.62 L 118.34 270.74 L 118.39 272.59 L 118.44 270.62 L 118.48 271.76 L 118.53 269.35 L 118.58 270.61 L 118.63 271.30 L 118.67 271.34 L 118.72 270.12 L 118.77 271.75 L 118.82 272.46 L 118.86 272.18 L 118.91 271.05 L 118.96 271.17 L 119.01 270.69 L 119.05 272.37 L 119.10 273.07 L 119.15 271.10 L 119.20 270.12 L 119.24 271.97 L 119.29 272.48 L 119.34 269.26 L 119.39 272.03 L 119.43 273.67 L 119.48 272.66 L 119.53 272.58 L 119.58 272.47 L 119.62 273.22 L 119.67 271.34 L 119.72 271.45 L 119.77 272.75 L 119.81 271.71 L 119.86 272.74 L 119.91 270.60 L 119.96 273.00 L 120.00 272.97 L 120.05 272.01 L 120.10 272.18 L 120.15 273.58 L 120.19 270.86 L 120.24 271.05 L 120.29 270.96 L 120.34 271.66 L 120.38 271.12 L 120.43 272.09 L 120.48 271.52 L 120.53 270.66 L 120.57 270.46 L 120.62 273.08 L 120.67 271.97 L 120.72 271.67 L 120.76 271.80 L 120.81 271.76 L 120.86 272.59 L 120.91 272.68 L 120.95 271.68 L 121.00 271.40 L 121.05 271.22 L 121.10 270.87 L 121.14 273.42 L 121.19 271.22 L 121.24 270.21 L 121.29 271.42 L 121.33 271.46 L 121.38 273.86 L 121.43 271.62 L 121.48 273.15 L 121.52 273.09 L 121.57 274.13 L 121.62 275.08 L 121.67 275.69 L 121.71 274.42 L 121.76 271.91 L 121.81 272.68 L 121.86 273.26 L 121.90 274.81 L 121.95 273.58 L 122.00 273.96 L 122.05 272.53 L 122.09 273.24 L 122.14 273.26 L 122.19 272.04 L 122.24 273.10 L 122.28 273.24 L 122.33 272.12 L 122.38 273.23 L 122.43 273.76 L 122.47 272.38 L 122.52 272.36 L 122.57 271.97 L 122.62 271.76 L 122.66 272.61 L 122.71 272.18 L 122.76 272.33 L 122.81 271.91 L 122.85 271.16 L 122.90 271.73 L 122.95 272.94 L 123.00 271.47 L 123.04 271.98 L 123.09 274.12 L 123.14 273.62 L 123.19 271.93 L 123.23 273.03 L 123.28 271.82 L 123.33 273.79 L 123.38 271.62 L 123.42 272.35 L 123.47 273.73 L 123.52 271.60 L 123.57 273.59 L 123.61 271.54 L 123.66 272.69 L 123.71 272.20 L 123.76 272.57 L 123.80 272.71 L 123.85 272.45 L 123.90 271.46 L 123.95 273.29 L 123.99 273.13 L 124.04 273.69 L 124.09 273.63 L 124.14 271.05 L 124.18 273.42 L 124.23 273.62 L 124.28 271.98 L 124.33 273.34 L 124.37 273.76 L 124.42 271.88 L 124.47 271.06 L 124.52 272.15 L 124.56 275.20 L 124.61 272.83 L 124.66 271.33 L 124.71 272.22 L 124.75 271.69 L 124.80 272.31 L 124.85 272.76 L 124.90 270.30 L 124.94 273.05 L 124.99 273.92 L 125.04 272.15 L 125.09 271.99 L 125.13 273.34 L 125.18 271.10 L 125.23 271.15 L 125.28 271.00 L 125.32 272.02 L 125.37 272.54 L 125.42 272.13 L 125.47 273.01 L 125.51 273.43 L 125.56 273.67 L 125.61 271.74 L 125.66 272.13 L 125.70 273.54 L 125.75 271.40 L 125.80 271.98 L 125.85 271.91 L 125.89 272.13 L 125.94 271.33 L 125.99 271.12 L 126.04 274.77 L 126.08 273.39 L 126.13 271.94 L 126.18 272.44 L 126.23 273.34 L 126.27 272.38 L 126.32 273.32 L 126.37 273.01 L 126.42 272.07 L 126.46 272.58 L 126.51 272.25 L 126.56 270.38 L 126.61 272.82 L 126.65 273.10 L 126.70 273.22 L 126.75 271.76 L 126.80 273.19 L 126.84 273.05 L 126.89 271.08 L 126.94 270.48 L 126.99 272.84 L 127.03 271.58 L 127.08 273.25 L 127.13 274.35 L 127.18 271.86 L 127.22 271.70 L 127.27 272.51 L 127.32 273.21 L 127.37 271.60 L 127.41 273.94 L 127.46 273.61 L 127.51 273.37 L 127.56 272.37 L 127.60 273.69 L 127.65 273.63 L 127.70 271.67 L 127.75 274.73 L 127.79 272.45 L 127.84 273.10 L 127.89 272.47 L 127.94 273.39 L 127.98 273.98 L 128.03 272.17 L 128.08 271.40 L 128.13 272.58 L 128.17 271.77 L 128.22 272.24 L 128.27 272.80 L 128.32 272.68 L 128.36 273.89 L 128.41 271.78 L 128.46 273.12 L 128.51 272.26 L 128.55 274.00 L 128.60 275.15 L 128.65 273.18 L 128.70 274.63 L 128.74 272.66 L 128.79 271.58 L 128.84 271.85 L 128.89 271.54 L 128.93 272.22 L 128.98 272.97 L 129.03 274.22 L 129.08 273.63 L 129.12 273.34 L 129.17 272.36 L 129.22 272.15 L 129.27 272.98 L 129.31 273.03 L 129.36 273.10 L 129.41 273.09 L 129.46 272.75 L 129.50 271.32 L 129.55 272.12 L 129.60 272.42 L 129.65 274.95 L 129.69 272.84 L 129.74 274.50 L 129.79 274.71 L 129.84 273.54 L 129.88 272.67 L 129.93 272.69 L 129.98 272.12 L 130.03 273.29 L 130.07 273.99 L 130.12 273.57 L 130.17 273.75 L 130.22 273.59 L 130.26 274.93 L 130.31 272.68 L 130.36 273.28 L 130.41 273.69 L 130.45 274.32 L 130.50 270.80 L 130.55 272.61 L 130.60 273.06 L 130.64 272.23 L 130.69 274.13 L 130.74 273.36 L 130.79 272.78 L 130.83 271.55 L 130.88 272.01 L 130.93 272.49 L 130.98 273.86 L 131.02 272.26 L 131.07 271.48 L 131.12 272.05 L 131.17 272.99 L 131.21 275.19 L 131.26 276.22 L 131.31 273.19 L 131.36 274.46 L 131.40 274.88 L 131.45 274.88 L 131.50 273.51 L 131.55 272.41 L 131.59 273.22 L 131.64 271.90 L 131.69 273.71 L 131.74 274.37 L 131.78 271.83 L 131.83 273.53 L 131.88 273.87 L 131.93 275.06 L 131.97 275.09 L 132.02 274.50 L 132.07 273.29 L 132.12 273.72 L 132.16 275.05 L 132.21 273.28 L 132.26 274.02 L 132.31 275.42 L 132.35 273.85 L 132.40 272.37 L 132.45 273.40 L 132.50 274.16 L 132.54 273.33 L 132.59 274.80 L 132.64 274.88 L 132.69 272.93 L 132.73 273.05 L 132.78 273.41 L 132.83 272.33 L 132.88 273.82 L 132.92 273.34 L 132.97 274.26 L 133.02 272.83 L 133.07 272.60 L 133.11 275.29 L 133.16 272.75 L 133.21 273.18 L 133.26 273.09 L 133.30 273.50 L 133.35 272.89 L 133.40 273.67 L 133.45 273.02 L 133.49 273.42 L 133.54 274.02 L 133.59 274.23 L 133.64 273.76 L 133.68 272.45 L 133.73 273.59 L 133.78 272.99 L 133.83 272.98 L 133.87 271.35 L 133.92 273.60 L 133.97 272.96 L 134.02 274.86 L 134.06 273.89 L 134.11 272.43 L 134.16 272.09 L 134.21 274.46 L 134.25 272.74 L 134.30 274.40 L 134.35 273.39 L 134.40 275.45 L 134.44 273.42 L 134.49 274.83 L 134.54 274.74 L 134.59 273.05 L 134.63 273.33 L 134.68 275.02 L 134.73 273.60 L 134.78 272.80 L 134.82 275.02 L 134.87 276.45 L 134.92 274.05 L 134.97 275.34 L 135.01 273.84 L 135.06 275.16 L 135.11 273.64 L 135.16 275.11 L 135.20 274.28 L 135.25 273.62 L 135.30 274.92 L 135.35 273.26 L 135.39 272.62 L 135.44 272.69 L 135.49 273.77 L 135.54 272.82 L 135.58 274.26 L 135.63 274.44 L 135.68 274.31 L 135.73 273.38 L 135.77 273.76 L 135.82 273.79 L 135.87 275.12 L 135.92 273.07 L 135.96 273.32 L 136.01 273.39 L 136.06 273.47 L 136.11 273.01 L 136.15 272.97 L 136.20 274.60 L 136.25 272.92 L 136.30 274.46 L 136.34 275.49 L 136.39 274.71 L 136.44 271.81 L 136.49 274.31 L 136.53 273.97 L 136.58 274.13 L 136.63 272.06 L 136.68 274.51 L 136.72 272.57 L 136.77 274.96 L 136.82 274.95 L 136.87 276.33 L 136.91 273.53 L 136.96 272.52 L 137.01 275.06 L 137.06 274.93 L 137.10 273.68 L 137.15 275.43 L 137.20 274.61 L 137.25 272.64 L 137.29 273.59 L 137.34 273.59 L 137.39 273.95 L 137.44 274.28 L 137.48 273.59 L 137.53 273.85 L 137.58 274.68 L 137.63 274.18 L 137.67 274.04 L 137.72 274.23 L 137.77 274.32 L 137.82 272.51 L 137.86 274.36 L 137.91 273.05 L 137.96 274.33 L 138.00 272.70 L 138.05 275.07 L 138.10 274.25 L 138.15 272.64 L 138.19 274.15 L 138.24 273.17 L 138.29 275.83 L 138.34 274.74 L 138.38 273.37 L 138.43 274.47 L 138.48 274.16 L 138.53 275.53 L 138.57 274.66 L 138.62 274.85 L 138.67 273.31 L 138.72 275.18 L 138.76 276.32 L 138.81 274.87 L 138.86 274.14 L 138.91 274.21 L 138.95 273.04 L 139.00 273.95 L 139.05 272.64 L 139.10 273.71 L 139.14 273.21 L 139.19 272.75 L 139.24 274.16 L 139.29 272.17 L 139.33 273.63 L 139.38 272.25 L 139.43 275.38 L 139.48 275.94 L 139.52 274.43 L 139.57 275.43 L 139.62 274.21 L 139.67 274.22 L 139.71 273.40 L 139.76 272.94 L 139.81 274.02 L 139.86 273.44 L 139.90 273.49 L 139.95 274.66 L 140.00 273.81 L 140.05 272.38 L 140.09 273.56 L 140.14 272.80 L 140.19 273.17 L 140.24 272.48 L 140.28 274.64 L 140.33 275.22 L 140.38 272.32 L 140.43 274.00 L 140.47 273.95 L 140.52 272.61 L 140.57 273.65 L 140.62 275.07 L 140.66 274.36 L 140.71 275.16 L 140.76 272.66 L 140.81 272.97 L 140.85 273.80 L 140.90 273.93 L 140.95 273.36 L 141.00 273.26 L 141.04 273.17 L 141.09 273.12 L 141.14 274.08 L 141.19 271.07 L 141.23 275.23 L 141.28 273.22 L 141.33 272.36 L 141.38 274.09 L 141.42 272.00 L 141.47 273.86 L 141.52 273.11 L 141.57 274.00 L 141.61 274.16 L 141.66 274.76 L 141.71 273.08 L 141.76 273.21 L 141.80 273.83 L 141.85 272.64 L 141.90 274.38 L 141.95 273.82 L 141.99 272.44 L 142.04 274.68 L 142.09 274.78 L 142.14 272.14 L 142.18 273.87 L 142.23 274.26 L 142.28 273.83 L 142.33 272.10 L 142.37 271.79 L 142.42 273.03 L 142.47 272.75 L 142.52 273.15 L 142.56 273.02 L 142.61 273.72 L 142.66 272.79 L 142.71 273.24 L 142.75 276.17 L 142.80 273.25 L 142.85 273.92 L 142.90 273.43 L 142.94 273.37 L 142.99 272.46 L 143.04 273.92 L 143.09 274.45 L 143.13 274.05 L 143.18 275.39 L 143.23 273.55 L 143.28 274.24 L 143.32 272.59 L 143.37 273.66 L 143.42 274.87 L 143.47 273.20 L 143.51 272.63 L 143.56 273.51 L 143.61 272.98 L 143.66 273.02 L 143.70 272.74 L 143.75 275.03 L 143.80 272.45 L 143.85 272.98 L 143.89 272.86 L 143.94 274.56 L 143.99 273.17 L 144.04 274.67 L 144.08 273.41 L 144.13 273.19 L 144.18 271.69 L 144.23 274.08 L 144.27 273.44 L 144.32 273.16 L 144.37 272.62 L 144.42 272.34 L 144.46 271.69 L 144.51 273.85 L 144.56 273.16 L 144.61 272.62 L 144.65 272.41 L 144.70 273.18 L 144.75 273.05 L 144.80 274.77 L 144.84 273.86 L 144.89 272.57 L 144.94 271.95 L 144.99 272.94 L 145.03 272.23 L 145.08 273.01 L 145.13 273.18 L 145.18 273.31 L 145.22 272.76 L 145.27 272.38 L 145.32 272.80 L 145.37 271.46 L 145.41 272.16 L 145.46 272.95 L 145.51 272.52 L 145.56 271.07 L 145.60 271.33 L 145.65 271.10 L 145.70 274.15 L 145.75 270.95 L 145.79 272.36 L 145.84 274.41 L 145.89 273.81 L 145.94 274.17 L 145.98 272.45 L 146.03 273.54 L 146.08 275.76 L 146.13 272.79 L 146.17 273.34 L 146.22 272.70 L 146.27 273.03 L 146.32 273.37 L 146.36 274.16 L 146.41 272.12 L 146.46 271.72 L 146.51 273.21 L 146.55 273.41 L 146.60 274.53 L 146.65 273.87 L 146.70 272.62 L 146.74 273.76 L 146.79 274.43 L 146.84 273.66 L 146.89 273.11 L 146.93 274.00 L 146.98 276.75 L 147.03 271.85 L 147.08 274.89 L 147.12 272.35 L 147.17 273.24 L 147.22 273.11 L 147.27 272.76 L 147.31 272.75 L 147.36 271.68 L 147.41 273.56 L 147.46 272.94 L 147.50 272.95 L 147.55 273.89 L 147.60 273.93 L 147.65 274.17 L 147.69 274.80 L 147.74 273.39 L 147.79 271.45 L 147.84 272.88 L 147.88 272.62 L 147.93 272.58 L 147.98 272.06 L 148.03 271.85 L 148.07 273.37 L 148.12 273.58 L 148.17 271.69 L 148.22 273.37 L 148.26 272.86 L 148.31 272.80 L 148.36 273.82 L 148.41 273.06 L 148.45 272.67 L 148.50 273.37 L 148.55 271.50 L 148.60 272.82 L 148.64 272.98 L 148.69 272.19 L 148.74 273.78 L 148.79 273.96 L 148.83 272.97 L 148.88 273.21 L 148.93 274.00 L 148.98 274.35 L 149.02 272.64 L 149.07 273.52 L 149.12 274.04 L 149.17 272.93 L 149.21 272.38 L 149.26 272.62 L 149.31 273.13 L 149.36 272.54 L 149.40 275.53 L 149.45 273.02 L 149.50 274.03 L 149.55 273.91 L 149.59 274.39 L 149.64 273.24 L 149.69 272.33 L 149.74 275.09 L 149.78 273.47 L 149.83 273.55 L 149.88 273.67 L 149.93 274.66 L 149.97 274.24 L 150.02 274.64 L 150.07 274.40 L 150.12 273.76 L 150.16 273.95 L 150.21 273.06 L 150.26 271.99 L 150.31 273.76 L 150.35 272.98 L 150.40 276.51 L 150.45 275.54 L 150.50 275.10 L 150.54 273.48 L 150.59 275.94 L 150.64 272.25 L 150.69 272.80 L 150.73 273.04 L 150.78 272.96 L 150.83 274.01 L 150.88 274.16 L 150.92 275.90 L 150.97 274.93 L 151.02 275.23 L 151.07 274.57 L 151.11 273.94 L 151.16 273.52 L 151.21 272.82 L 151.26 273.36 L 151.30 273.65 L 151.35 274.63 L 151.40 272.27 L 151.45 272.44 L 151.49 273.93 L 151.54 272.78 L 151.59 274.02 L 151.64 273.25 L 151.68 273.06 L 151.73 272.63 L 151.78 273.92 L 151.83 273.48 L 151.87 273.85 L 151.92 273.87 L 151.97 274.86 L 152.02 274.98 L 152.06 273.24 L 152.11 274.69 L 152.16 275.31 L 152.21 275.82 L 152.25 275.51 L 152.30 274.88 L 152.35 273.47 L 152.40 273.74 L 152.44 275.30 L 152.49 273.63 L 152.54 275.26 L 152.59 275.30 L 152.63 273.16 L 152.68 274.64 L 152.73 274.03 L 152.78 277.45 L 152.82 274.90 L 152.87 273.47 L 152.92 274.48 L 152.97 273.26 L 153.01 274.01 L 153.06 274.41 L 153.11 274.28 L 153.16 274.38 L 153.20 273.36 L 153.25 272.42 L 153.30 274.04 L 153.35 273.53 L 153.39 273.78 L 153.44 276.51 L 153.49 275.58 L 153.54 274.45 L 153.58 273.29 L 153.63 273.37 L 153.68 275.11 L 153.73 275.71 L 153.77 274.30 L 153.82 274.63 L 153.87 274.98 L 153.92 275.70 L 153.96 272.76 L 154.01 274.75 L 154.06 274.74 L 154.11 275.02 L 154.15 274.63 L 154.20 273.39 L 154.25 273.95 L 154.30 272.91 L 154.34 274.52 L 154.39 274.59 L 154.44 274.94 L 154.49 273.74 L 154.53 273.81 L 154.58 276.04 L 154.63 274.47 L 154.68 275.96 L 154.72 274.72 L 154.77 272.82 L 154.82 274.94 L 154.87 275.38 L 154.91 273.64 L 154.96 272.21 L 155.01 274.86 L 155.06 274.25 L 155.10 274.64 L 155.15 271.90 L 155.20 275.03 L 155.25 271.93 L 155.29 273.70 L 155.34 275.36 L 155.39 272.57 L 155.44 272.47 L 155.48 276.00 L 155.53 275.73 L 155.58 275.48 L 155.63 273.32 L 155.67 274.84 L 155.72 274.39 L 155.77 274.24 L 155.82 274.41 L 155.86 273.58 L 155.91 275.00 L 155.96 275.45 L 156.01 277.18 L 156.05 275.53 L 156.10 272.30 L 156.15 273.61 L 156.20 274.93 L 156.24 274.67 L 156.29 272.59 L 156.34 274.31 L 156.39 273.92 L 156.43 274.25 L 156.48 273.98 L 156.53 274.94 L 156.58 275.31 L 156.62 274.77 L 156.67 273.14 L 156.72 273.30 L 156.77 273.40 L 156.81 273.77 L 156.86 273.45 L 156.91 273.68 L 156.96 273.07 L 157.00 274.98 L 157.05 274.73 L 157.10 274.80 L 157.15 273.88 L 157.19 274.45 L 157.24 273.21 L 157.29 273.05 L 157.34 273.54 L 157.38 274.65 L 157.43 273.80 L 157.48 272.88 L 157.53 274.15 L 157.57 274.64 L 157.62 274.38 L 157.67 273.63 L 157.72 274.24 L 157.76 273.72 L 157.81 273.93 L 157.86 274.31 L 157.91 275.20 L 157.95 276.19 L 158.00 275.88 L 158.05 275.10 L 158.10 274.27 L 158.14 274.39 L 158.19 274.52 L 158.24 275.71 L 158.29 271.95 L 158.33 274.66 L 158.38 272.54 L 158.43 274.37 L 158.48 275.64 L 158.52 273.46 L 158.57 272.19 L 158.62 275.48 L 158.67 275.77 L 158.71 274.88 L 158.76 275.70 L 158.81 273.62 L 158.86 275.56 L 158.90 276.00 L 158.95 275.09 L 159.00 274.87 L 159.05 275.95 L 159.09 275.85 L 159.14 274.01 L 159.19 276.09 L 159.24 275.47 L 159.28 274.95 L 159.33 276.10 L 159.38 275.62 L 159.43 275.36 L 159.47 274.25 L 159.52 275.47 L 159.57 273.51 L 159.62 274.43 L 159.66 272.89 L 159.71 273.02 L 159.76 275.08 L 159.81 274.63 L 159.85 274.81 L 159.90 275.04 L 159.95 274.90 L 160.00 273.68 L 160.04 274.61 L 160.09 274.57 L 160.14 273.95 L 160.19 274.30 L 160.23 274.11 L 160.28 273.86 L 160.33 274.34 L 160.38 274.75 L 160.42 276.61 L 160.47 273.77 L 160.52 275.00 L 160.57 273.18 L 160.61 276.10 L 160.66 274.18 L 160.71 274.57 L 160.76 275.61 L 160.80 275.49 L 160.85 273.04 L 160.90 274.91 L 160.95 274.24 L 160.99 274.90 L 161.04 274.39 L 161.09 274.94 L 161.14 274.57 L 161.18 274.10 L 161.23 275.20 L 161.28 272.54 L 161.33 273.84 L 161.37 273.25 L 161.42 274.09 L 161.47 273.83 L 161.52 274.04 L 161.56 273.45 L 161.61 273.48 L 161.66 272.45 L 161.71 273.98 L 161.75 274.16 L 161.80 273.27 L 161.85 273.17 L 161.90 273.06 L 161.94 275.21 L 161.99 273.83 L 162.04 274.06 L 162.09 273.45 L 162.13 273.13 L 162.18 272.71 L 162.23 275.00 L 162.28 271.81 L 162.32 273.94 L 162.37 273.62 L 162.42 273.29 L 162.47 271.90 L 162.51 272.18 L 162.56 274.34 L 162.61 272.70 L 162.66 274.12 L 162.70 273.86 L 162.75 273.62 L 162.80 273.87 L 162.85 271.98 L 162.89 272.88 L 162.94 273.85 L 162.99 271.93 L 163.04 274.76 L 163.08 272.69 L 163.13 273.22 L 163.18 272.27 L 163.23 273.46 L 163.27 272.51 L 163.32 272.82 L 163.37 271.83 L 163.42 274.26 L 163.46 271.53 L 163.51 273.40 L 163.56 273.11 L 163.61 273.28 L 163.65 271.88 L 163.70 273.73 L 163.75 273.52 L 163.80 272.79 L 163.84 272.75 L 163.89 272.27 L 163.94 273.15 L 163.99 271.75 L 164.03 272.97 L 164.08 272.75 L 164.13 270.88 L 164.18 269.71 L 164.22 272.01 L 164.27 272.03 L 164.32 273.32 L 164.37 271.95 L 164.41 271.65 L 164.46 271.14 L 164.51 272.04 L 164.56 271.69 L 164.60 271.31 L 164.65 272.26 L 164.70 273.26 L 164.75 272.29 L 164.79 271.42 L 164.84 272.51 L 164.89 271.18 L 164.94 270.77 L 164.98 272.72 L 165.03 271.76 L 165.08 273.27 L 165.13 272.48 L 165.17 271.45 L 165.22 272.29 L 165.27 273.27 L 165.32 271.76 L 165.36 271.00 L 165.41 271.28 L 165.46 270.96 L 165.51 270.69 L 165.55 270.71 L 165.60 272.33 L 165.65 273.05 L 165.70 271.69 L 165.74 272.76 L 165.79 272.94 L 165.84 273.81 L 165.89 272.15 L 165.93 271.91 L 165.98 272.60 L 166.03 272.25 L 166.08 272.56 L 166.12 273.49 L 166.17 271.76 L 166.22 272.39 L 166.27 271.27 L 166.31 272.12 L 166.36 271.75 L 166.41 271.68 L 166.46 272.35 L 166.50 272.04 L 166.55 272.83 L 166.60 273.33 L 166.65 271.18 L 166.69 273.75 L 166.74 270.67 L 166.79 273.08 L 166.84 273.76 L 166.88 272.40 L 166.93 272.77 L 166.98 272.32 L 167.03 274.03 L 167.07 270.14 L 167.12 272.09 L 167.17 271.27 L 167.21 273.27 L 167.26 274.25 L 167.31 274.29 L 167.36 273.90 L 167.40 273.59 L 167.45 272.51 L 167.50 274.52 L 167.55 274.03 L 167.59 272.74 L 167.64 272.25 L 167.69 272.81 L 167.74 274.39 L 167.78 274.50 L 167.83 274.89 L 167.88 272.74 L 167.93 273.23 L 167.97 274.88 L 168.02 273.75 L 168.07 274.43 L 168.12 272.47 L 168.16 273.35 L 168.21 273.75 L 168.26 273.40 L 168.31 273.45 L 168.35 272.09 L 168.40 275.18 L 168.45 273.63 L 168.50 272.01 L 168.54 274.39 L 168.59 273.42 L 168.64 274.05 L 168.69 273.27 L 168.73 272.73 L 168.78 272.61 L 168.83 273.78 L 168.88 274.43 L 168.92 274.25 L 168.97 274.41 L 169.02 275.00 L 169.07 274.05 L 169.11 274.68 L 169.16 274.66 L 169.21 274.05 L 169.26 273.70 L 169.30 273.16 L 169.35 272.50 L 169.40 272.25 L 169.45 274.92 L 169.49 274.29 L 169.54 273.36 L 169.59 275.39 L 169.64 274.78 L 169.68 273.90 L 169.73 274.83 L 169.78 273.52 L 169.83 273.89 L 169.87 275.35 L 169.92 274.68 L 169.97 273.42 L 170.02 274.37 L 170.06 274.98 L 170.11 273.71 L 170.16 273.46 L 170.21 275.74 L 170.25 273.76 L 170.30 272.89 L 170.35 274.02 L 170.40 275.98 L 170.44 274.39 L 170.49 274.69 L 170.54 271.68 L 170.59 273.19 L 170.63 274.96 L 170.68 273.38 L 170.73 274.95 L 170.78 274.30 L 170.82 274.29 L 170.87 275.41 L 170.92 273.44 L 170.97 273.48 L 171.01 274.06 L 171.06 274.06 L 171.11 272.31 L 171.16 275.22 L 171.20 274.28 L 171.25 273.90 L 171.30 274.94 L 171.35 273.90 L 171.39 275.50 L 171.44 274.32 L 171.49 274.97 L 171.54 273.38 L 171.58 273.70 L 171.63 274.15 L 171.68 272.72 L 171.73 273.00 L 171.77 273.53 L 171.82 274.56 L 171.87 274.29 L 171.92 274.50 L 171.96 274.05 L 172.01 274.83 L 172.06 275.53 L 172.11 274.41 L 172.15 274.62 L 172.20 274.76 L 172.25 272.19 L 172.30 274.05 L 172.34 274.44 L 172.39 274.56 L 172.44 273.43 L 172.49 274.79 L 172.53 273.24 L 172.58 273.66 L 172.63 275.42 L 172.68 272.57 L 172.72 273.64 L 172.77 273.70 L 172.82 273.90 L 172.87 273.46 L 172.91 274.65 L 172.96 272.96 L 173.01 272.70 L 173.06 274.24 L 173.10 272.61 L 173.15 274.21 L 173.20 273.73 L 173.25 272.98 L 173.29 273.46 L 173.34 273.73 L 173.39 274.34 L 173.44 273.11 L 173.48 273.73 L 173.53 272.51 L 173.58 273.54 L 173.63 272.06 L 173.67 273.79 L 173.72 273.29 L 173.77 275.45 L 173.82 275.59 L 173.86 273.22 L 173.91 274.21 L 173.96 275.11 L 174.01 272.43 L 174.05 270.91 L 174.10 274.25 L 174.15 273.49 L 174.20 271.26 L 174.24 273.76 L 174.29 273.98 L 174.34 272.30 L 174.39 273.53 L 174.43 271.03 L 174.48 272.86 L 174.53 273.19 L 174.58 273.78 L 174.62 273.42 L 174.67 273.18 L 174.72 273.44 L 174.77 272.41 L 174.81 274.40 L 174.86 272.59 L 174.91 273.40 L 174.96 272.49 L 175.00 272.33 L 175.05 272.98 L 175.10 272.74 L 175.15 273.58 L 175.19 273.16 L 175.24 271.74 L 175.29 272.54 L 175.34 271.95 L 175.38 271.08 L 175.43 270.79 L 175.48 272.10 L 175.53 271.37 L 175.57 270.40 L 175.62 271.48 L 175.67 271.48 L 175.72 271.41 L 175.76 270.11 L 175.81 270.57 L 175.86 272.16 L 175.91 270.06 L 175.95 270.39 L 176.00 272.79 L 176.05 270.99 L 176.10 270.19 L 176.14 268.90 L 176.19 271.04 L 176.24 269.40 L 176.29 270.57 L 176.33 269.89 L 176.38 269.15 L 176.43 272.22 L 176.48 270.64 L 176.52 271.62 L 176.57 271.43 L 176.62 270.04 L 176.67 270.87 L 176.71 270.54 L 176.76 271.63 L 176.81 271.30 L 176.86 270.57 L 176.90 272.36 L 176.95 271.37 L 177.00 271.39 L 177.05 270.26 L 177.09 271.38 L 177.14 269.72 L 177.19 271.47 L 177.24 270.16 L 177.28 271.13 L 177.33 270.59 L 177.38 271.10 L 177.43 271.15 L 177.47 270.69 L 177.52 270.67 L 177.57 269.47 L 177.62 269.22 L 177.66 272.02 L 177.71 271.49 L 177.76 269.78 L 177.81 274.22 L 177.85 270.60 L 177.90 271.84 L 177.95 271.77 L 178.00 271.55 L 178.04 272.10 L 178.09 270.45 L 178.14 271.65 L 178.19 271.46 L 178.23 271.82 L 178.28 271.55 L 178.33 271.27 L 178.38 271.41 L 178.42 272.69 L 178.47 271.05 L 178.52 272.10 L 178.57 271.98 L 178.61 271.63 L 178.66 272.11 L 178.71 272.09 L 178.76 271.14 L 178.80 271.90 L 178.85 273.61 L 178.90 270.80 L 178.95 271.63 L 178.99 271.30 L 179.04 273.95 L 179.09 270.78 L 179.14 272.27 L 179.18 273.33 L 179.23 271.74 L 179.28 272.29 L 179.33 271.85 L 179.37 271.20 L 179.42 272.52 L 179.47 273.16 L 179.52 272.31 L 179.56 272.97 L 179.61 273.44 L 179.66 273.81 L 179.71 271.72 L 179.75 273.48 L 179.80 272.41 L 179.85 271.26 L 179.90 272.43 L 179.94 273.96 L 179.99 273.62 L 180.04 272.34 L 180.09 275.00 L 180.13 273.94 L 180.18 273.58 L 180.23 273.14 L 180.28 274.12 L 180.32 273.29 L 180.37 274.77 L 180.42 274.12 L 180.47 274.47 L 180.51 273.71 L 180.56 272.54 L 180.61 274.54 L 180.66 273.20 L 180.70 274.13 L 180.75 274.17 L 180.80 273.40 L 180.85 274.90 L 180.89 272.53 L 180.94 275.27 L 180.99 273.31 L 181.04 274.87 L 181.08 275.20 L 181.13 273.33 L 181.18 273.74 L 181.23 275.48 L 181.27 274.90 L 181.32 274.97 L 181.37 273.27 L 181.42 273.58 L 181.46 275.71 L 181.51 276.62 L 181.56 274.41 L 181.61 274.25 L 181.65 275.23 L 181.70 275.56 L 181.75 275.89 L 181.80 274.98 L 181.84 273.58 L 181.89 276.80 L 181.94 274.90 L 181.99 276.66 L 182.03 273.41 L 182.08 275.86 L 182.13 274.96 L 182.18 274.33 L 182.22 276.31 L 182.27 276.60 L 182.32 274.94 L 182.37 276.35 L 182.41 274.71 L 182.46 275.35 L 182.51 275.85 L 182.56 275.72 L 182.60 276.68 L 182.65 274.96 L 182.70 277.14 L 182.75 277.18 L 182.79 276.01 L 182.84 275.10 L 182.89 274.01 L 182.94 276.11 L 182.98 275.76 L 183.03 276.59 L 183.08 275.55 L 183.13 276.62 L 183.17 276.60 L 183.22 276.61 L 183.27 276.94 L 183.32 276.96 L 183.36 277.67 L 183.41 275.85 L 183.46 277.28 L 183.51 276.83 L 183.55 276.27 L 183.60 275.59 L 183.65 277.85 L 183.70 276.72 L 183.74 275.97 L 183.79 276.47 L 183.84 276.51 L 183.89 276.05 L 183.93 275.10 L 183.98 276.59 L 184.03 276.44 L 184.08 276.61 L 184.12 277.90 L 184.17 275.77 L 184.22 276.14 L 184.27 277.31 L 184.31 277.99 L 184.36 277.94 L 184.41 279.84 L 184.46 276.26 L 184.50 277.84 L 184.55 277.64 L 184.60 277.82 L 184.65 276.71 L 184.69 277.70 L 184.74 278.17 L 184.79 278.76 L 184.84 277.56 L 184.88 276.00 L 184.93 277.45 L 184.98 278.25 L 185.03 278.19 L 185.07 279.39 L 185.12 277.44 L 185.17 276.61 L 185.22 276.96 L 185.26 278.09 L 185.31 276.83 L 185.36 276.58 L 185.41 276.77 L 185.45 278.87 L 185.50 278.12 L 185.55 277.55 L 185.60 278.84 L 185.64 278.81 L 185.69 277.21 L 185.74 278.70 L 185.79 278.15 L 185.83 275.71 L 185.88 276.44 L 185.93 277.66 L 185.98 277.96 L 186.02 277.06 L 186.07 276.25 L 186.12 277.47 L 186.17 275.54 L 186.21 277.82 L 186.26 277.39 L 186.31 277.57 L 186.36 276.94 L 186.40 278.31 L 186.45 275.19 L 186.50 276.53 L 186.55 277.91 L 186.59 276.83 L 186.64 278.88 L 186.69 278.03 L 186.74 276.79 L 186.78 278.60 L 186.83 277.47 L 186.88 278.42 L 186.93 277.29 L 186.97 277.34 L 187.02 278.56 L 187.07 277.95 L 187.12 276.88 L 187.16 276.79 L 187.21 278.23 L 187.26 279.18 L 187.31 276.61 L 187.35 278.11 L 187.40 274.76 L 187.45 276.11 L 187.50 277.99 L 187.54 279.01 L 187.59 277.58 L 187.64 278.02 L 187.69 277.78 L 187.73 278.50 L 187.78 276.36 L 187.83 277.97 L 187.88 276.96 L 187.92 277.05 L 187.97 277.46 L 188.02 277.38 L 188.07 276.75 L 188.11 277.18 L 188.16 276.49 L 188.21 278.97 L 188.26 278.16 L 188.30 277.08 L 188.35 279.01 L 188.40 278.54 L 188.45 277.54 L 188.49 276.59 L 188.54 277.30 L 188.59 277.67 L 188.64 278.41 L 188.68 276.97 L 188.73 276.64 L 188.78 279.45 L 188.83 278.57 L 188.87 277.72 L 188.92 276.58 L 188.97 278.09 L 189.02 278.63 L 189.06 278.28 L 189.11 278.27 L 189.16 277.48 L 189.21 278.45 L 189.25 276.83 L 189.30 276.95 L 189.35 276.95 L 189.40 276.77 L 189.44 279.08 L 189.49 275.53 L 189.54 277.69 L 189.59 276.43 L 189.63 276.15 L 189.68 277.43 L 189.73 275.86 L 189.78 277.20 L 189.82 279.49 L 189.87 277.30 L 189.92 277.90 L 189.97 276.52 L 190.01 277.63 L 190.06 275.70 L 190.11 277.27 L 190.16 276.93 L 190.20 279.33 L 190.25 277.20 L 190.30 277.10 L 190.35 276.81 L 190.39 276.25 L 190.44 278.45 L 190.49 279.24 L 190.54 277.55 L 190.58 278.59 L 190.63 277.52 L 190.68 278.17 L 190.73 277.95 L 190.77 276.15 L 190.82 276.50 L 190.87 277.94 L 190.92 276.60 L 190.96 276.73 L 191.01 276.47 L 191.06 275.82 L 191.11 276.68 L 191.15 276.95 L 191.20 277.21 L 191.25 274.46 L 191.30 278.66 L 191.34 276.59 L 191.39 278.25 L 191.44 277.00 L 191.49 276.51 L 191.53 277.13 L 191.58 280.32 L 191.63 278.86 L 191.68 276.95 L 191.72 277.53 L 191.77 278.44 L 191.82 277.89 L 191.87 277.57 L 191.91 277.26 L 191.96 276.22 L 192.01 277.78 L 192.06 278.13 L 192.10 279.25 L 192.15 276.51 L 192.20 277.77 L 192.25 277.13 L 192.29 278.17 L 192.34 277.06 L 192.39 276.59 L 192.44 275.70 L 192.48 278.18 L 192.53 277.80 L 192.58 278.57 L 192.63 276.85 L 192.67 279.80 L 192.72 276.83 L 192.77 277.83 L 192.82 277.85 L 192.86 278.45 L 192.91 277.05 L 192.96 276.34 L 193.01 276.43 L 193.05 278.21 L 193.10 277.58 L 193.15 277.71 L 193.20 278.77 L 193.24 277.56 L 193.29 277.73 L 193.34 278.09 L 193.39 276.15 L 193.43 276.56 L 193.48 278.88 L 193.53 276.98 L 193.58 277.20 L 193.62 276.72 L 193.67 275.72 L 193.72 276.03 L 193.77 277.46 L 193.81 276.33 L 193.86 279.06 L 193.91 275.57 L 193.96 274.91 L 194.00 276.61 L 194.05 276.11 L 194.10 278.63 L 194.15 277.04 L 194.19 277.88 L 194.24 275.95 L 194.29 277.91 L 194.34 278.10 L 194.38 278.78 L 194.43 277.71 L 194.48 277.92 L 194.53 277.52 L 194.57 278.19 L 194.62 276.86 L 194.67 277.95 L 194.72 277.93 L 194.76 277.89 L 194.81 276.95 L 194.86 276.49 L 194.91 276.48 L 194.95 278.49 L 195.00 275.66 L 195.05 275.93 L 195.10 277.86 L 195.14 276.37 L 195.19 276.79 L 195.24 276.84 L 195.29 279.52 L 195.33 276.69 L 195.38 276.59 L 195.43 276.97 L 195.48 277.56 L 195.52 277.78 L 195.57 276.03 L 195.62 277.83 L 195.67 279.10 L 195.71 275.67 L 195.76 277.80 L 195.81 278.02 L 195.86 277.39 L 195.90 276.97 L 195.95 274.95 L 196.00 278.39 L 196.05 277.09 L 196.09 277.33 L 196.14 278.58 L 196.19 275.28 L 196.24 277.58 L 196.28 278.00 L 196.33 278.09 L 196.38 278.02 L 196.42 279.50 L 196.47 277.63 L 196.52 278.44 L 196.57 278.15 L 196.61 276.05 L 196.66 276.70 L 196.71 279.75 L 196.76 277.73 L 196.80 277.87 L 196.85 276.49 L 196.90 277.49 L 196.95 276.52 L 196.99 277.40 L 197.04 278.44 L 197.09 277.12 L 197.14 277.17 L 197.18 280.59 L 197.23 278.02 L 197.28 277.97 L 197.33 278.59 L 197.37 276.98 L 197.42 277.06 L 197.47 275.62 L 197.52 278.37 L 197.56 277.44 L 197.61 277.78 L 197.66 276.78 L 197.71 278.49 L 197.75 278.49 L 197.80 278.20 L 197.85 276.59 L 197.90 277.25 L 197.94 277.87 L 197.99 277.25 L 198.04 278.29 L 198.09 278.98 L 198.13 277.31 L 198.18 277.74 L 198.23 277.29 L 198.28 278.98 L 198.32 278.79 L 198.37 280.76 L 198.42 278.16 L 198.47 277.27 L 198.51 278.42 L 198.56 277.92 L 198.61 278.31 L 198.66 279.16 L 198.70 277.55 L 198.75 278.51 L 198.80 275.83 L 198.85 278.79 L 198.89 277.98 L 198.94 277.72 L 198.99 277.48 L 199.04 279.39 L 199.08 277.62 L 199.13 279.31 L 199.18 277.66 L 199.23 278.04 L 199.27 278.23 L 199.32 279.75 L 199.37 277.99 L 199.42 277.85 L 199.46 277.55 L 199.51 277.50 L 199.56 277.35 L 199.61 279.53 L 199.65 279.08 L 199.70 277.15 L 199.75 277.94 L 199.80 276.56 L 199.84 278.77 L 199.89 278.34 L 199.94 277.64 L 199.99 276.62 L 200.03 278.17 L 200.08 278.09 L 200.13 277.38 L 200.18 278.27 L 200.22 276.30 L 200.27 276.97 L 200.32 276.77 L 200.37 277.80 L 200.41 279.35 L 200.46 277.72 L 200.51 278.76 L 200.56 277.67 L 200.60 277.35 L 200.65 278.75 L 200.70 278.42 L 200.75 279.31 L 200.79 278.81 L 200.84 277.07 L 200.89 275.41 L 200.94 277.98 L 200.98 276.55 L 201.03 276.36 L 201.08 276.25 L 201.13 276.97 L 201.17 277.39 L 201.22 277.62 L 201.27 279.59 L 201.32 276.48 L 201.36 277.71 L 201.41 276.66 L 201.46 277.06 L 201.51 278.24 L 201.55 278.50 L 201.60 276.85 L 201.65 279.13 L 201.70 277.15 L 201.74 279.14 L 201.79 278.09 L 201.84 278.86 L 201.89 278.32 L 201.93 277.28 L 201.98 278.02 L 202.03 276.24 L 202.08 276.45 L 202.12 277.39 L 202.17 278.88 L 202.22 276.91 L 202.27 277.04 L 202.31 279.39 L 202.36 277.94 L 202.41 277.95 L 202.46 276.87 L 202.50 277.99 L 202.55 278.44 L 202.60 277.79 L 202.65 278.48 L 202.69 278.11 L 202.74 278.69 L 202.79 278.50 L 202.84 277.47 L 202.88 278.45 L 202.93 279.14 L 202.98 277.72 L 203.03 276.36 L 203.07 277.81 L 203.12 277.52 L 203.17 280.00 L 203.22 278.08 L 203.26 276.31 L 203.31 277.06 L 203.36 278.65 L 203.41 275.99 L 203.45 276.57 L 203.50 276.86 L 203.55 276.68 L 203.60 276.95 L 203.64 277.27 L 203.69 275.85 L 203.74 276.71 L 203.79 276.57 L 203.83 276.81 L 203.88 276.82 L 203.93 277.14 L 203.98 276.85 L 204.02 276.67 L 204.07 277.23 L 204.12 277.56 L 204.17 277.52 L 204.21 275.54 L 204.26 277.07 L 204.31 277.58 L 204.36 276.52 L 204.40 277.14 L 204.45 276.38 L 204.50 276.84 L 204.55 274.91 L 204.59 276.88 L 204.64 275.90 L 204.69 275.24 L 204.74 275.46 L 204.78 276.83 L 204.83 276.76 L 204.88 276.03 L 204.93 276.71 L 204.97 275.67 L 205.02 274.72 L 205.07 274.00 L 205.12 275.92 L 205.16 275.80 L 205.21 275.85 L 205.26 275.75 L 205.31 276.91 L 205.35 274.82 L 205.40 274.99 L 205.45 277.60 L 205.50 276.60 L 205.54 275.71 L 205.59 274.09 L 205.64 276.48 L 205.69 275.66 L 205.73 275.96 L 205.78 276.10 L 205.83 275.52 L 205.88 276.92 L 205.92 274.57 L 205.97 275.31 L 206.02 274.87 L 206.07 276.12 L 206.11 275.50 L 206.16 275.85 L 206.21 275.19 L 206.26 278.79 L 206.30 275.73 L 206.35 274.42 L 206.40 275.04 L 206.45 274.83 L 206.49 275.94 L 206.54 276.32 L 206.59 275.95 L 206.64 275.45 L 206.68 274.92 L 206.73 277.01 L 206.78 276.38 L 206.83 272.52 L 206.87 275.04 L 206.92 274.30 L 206.97 274.59 L 207.02 276.60 L 207.06 273.87 L 207.11 273.93 L 207.16 277.54 L 207.21 274.97 L 207.25 277.45 L 207.30 276.75 L 207.35 275.11 L 207.40 275.77 L 207.44 276.00 L 207.49 277.00 L 207.54 274.13 L 207.59 274.74 L 207.63 275.29 L 207.68 276.42 L 207.73 274.77 L 207.78 275.93 L 207.82 275.04 L 207.87 275.16 L 207.92 276.89 L 207.97 275.56 L 208.01 278.77 L 208.06 276.33 L 208.11 277.14 L 208.16 277.01 L 208.20 274.71 L 208.25 274.73 L 208.30 277.93 L 208.35 275.28 L 208.39 275.69 L 208.44 275.77 L 208.49 275.27 L 208.54 277.27 L 208.58 276.82 L 208.63 276.17 L 208.68 276.54 L 208.73 275.04 L 208.77 276.88 L 208.82 275.38 L 208.87 277.80 L 208.92 275.84 L 208.96 275.86 L 209.01 277.57 L 209.06 277.34 L 209.11 275.93 L 209.15 277.50 L 209.20 278.36 L 209.25 276.86 L 209.30 277.47 L 209.34 277.38 L 209.39 277.89 L 209.44 277.41 L 209.49 277.19 L 209.53 276.70 L 209.58 278.34 L 209.63 276.30 L 209.68 278.90 L 209.72 279.15 L 209.77 280.79 L 209.82 276.75 L 209.87 278.82 L 209.91 277.84 L 209.96 277.87 L 210.01 280.14 L 210.06 277.20 L 210.10 277.56 L 210.15 275.78 L 210.20 274.81 L 210.25 277.42 L 210.29 277.86 L 210.34 278.32 L 210.39 277.83 L 210.44 275.52 L 210.48 277.94 L 210.53 278.69 L 210.58 279.20 L 210.63 276.88 L 210.67 276.95 L 210.72 276.94 L 210.77 276.83 L 210.82 275.95 L 210.86 276.88 L 210.91 278.83 L 210.96 276.13 L 211.01 275.44 L 211.05 277.01 L 211.10 276.60 L 211.15 277.62 L 211.20 276.48 L 211.24 277.15 L 211.29 276.55 L 211.34 276.62 L 211.39 278.13 L 211.43 277.74 L 211.48 277.64 L 211.53 278.31 L 211.58 277.28 L 211.62 278.15 L 211.67 278.27 L 211.72 279.24 L 211.77 276.29 L 211.81 277.75 L 211.86 278.63 L 211.91 277.58 L 211.96 278.22 L 212.00 278.89 L 212.05 278.66 L 212.10 276.55 L 212.15 277.09 L 212.19 275.63 L 212.24 279.02 L 212.29 278.83 L 212.34 279.84 L 212.38 278.60 L 212.43 277.30 L 212.48 279.44 L 212.53 277.18 L 212.57 278.27 L 212.62 277.88 L 212.67 278.89 L 212.72 278.96 L 212.76 277.74 L 212.81 277.49 L 212.86 278.18 L 212.91 277.63 L 212.95 279.17 L 213.00 278.82 L 213.05 279.67 L 213.10 280.84 L 213.14 277.40 L 213.19 277.78 L 213.24 278.84 L 213.29 280.09 L 213.33 278.15 L 213.38 276.75 L 213.43 280.71 L 213.48 278.44 L 213.52 277.20 L 213.57 276.19 L 213.62 279.77 L 213.67 278.83 L 213.71 278.42 L 213.76 277.69 L 213.81 278.53 L 213.86 278.47 L 213.90 276.69 L 213.95 281.75 L 214.00 279.42 L 214.05 278.90 L 214.09 278.25 L 214.14 278.50 L 214.19 281.37 L 214.24 279.52 L 214.28 277.85 L 214.33 279.88 L 214.38 279.49 L 214.43 279.62 L 214.47 278.90 L 214.52 278.75 L 214.57 279.09 L 214.62 278.54 L 214.66 277.56 L 214.71 277.91 L 214.76 278.86 L 214.81 277.32 L 214.85 278.67 L 214.90 278.46 L 214.95 279.70 L 215.00 279.34 L 215.04 279.04 L 215.09 278.87 L 215.14 279.52 L 215.19 280.07 L 215.23 278.25 L 215.28 277.83 L 215.33 278.73 L 215.38 277.13 L 215.42 278.54 L 215.47 280.11 L 215.52 280.32 L 215.57 280.92 L 215.61 279.36 L 215.66 279.32 L 215.71 278.80 L 215.76 279.22 L 215.80 279.56 L 215.85 280.06 L 215.90 279.50 L 215.95 277.10 L 215.99 279.50 L 216.04 279.10 L 216.09 278.53 L 216.14 279.10 L 216.18 279.82 L 216.23 279.04 L 216.28 278.32 L 216.33 282.20 L 216.37 278.29 L 216.42 279.41 L 216.47 280.16 L 216.52 278.16 L 216.56 279.47 L 216.61 278.25 L 216.66 278.89 L 216.71 278.56 L 216.75 280.96 L 216.80 277.81 L 216.85 279.79 L 216.90 279.30 L 216.94 277.20 L 216.99 280.92 L 217.04 278.73 L 217.09 279.20 L 217.13 279.65 L 217.18 278.62 L 217.23 278.86 L 217.28 279.44 L 217.32 278.60 L 217.37 279.69 L 217.42 280.70 L 217.47 278.41 L 217.51 277.59 L 217.56 278.68 L 217.61 279.21 L 217.66 279.44 L 217.70 277.69 L 217.75 276.56 L 217.80 279.61 L 217.85 279.50 L 217.89 280.18 L 217.94 277.89 L 217.99 279.42 L 218.04 279.95 L 218.08 277.29 L 218.13 280.02 L 218.18 280.47 L 218.23 279.77 L 218.27 279.76 L 218.32 279.98 L 218.37 278.96 L 218.42 277.89 L 218.46 278.33 L 218.51 279.10 L 218.56 278.45 L 218.61 280.05 L 218.65 278.61 L 218.70 278.90 L 218.75 277.28 L 218.80 279.49 L 218.84 278.63 L 218.89 280.61 L 218.94 277.34 L 218.99 279.25 L 219.03 278.75 L 219.08 278.58 L 219.13 280.51 L 219.18 279.71 L 219.22 277.68 L 219.27 279.77 L 219.32 277.95 L 219.37 279.35 L 219.41 277.82 L 219.46 278.28 L 219.51 278.59 L 219.56 278.55 L 219.60 277.48 L 219.65 277.25 L 219.70 278.95 L 219.75 279.54 L 219.79 278.90 L 219.84 278.68 L 219.89 277.48 L 219.94 278.58 L 219.98 278.29 L 220.03 278.18 L 220.08 279.01 L 220.13 279.01 L 220.17 279.24 L 220.22 278.70 L 220.27 278.11 L 220.32 278.66 L 220.36 278.56 L 220.41 277.23 L 220.46 278.37 L 220.51 277.11 L 220.55 276.86 L 220.60 278.08 L 220.65 278.27 L 220.70 279.42 L 220.74 278.46 L 220.79 279.19 L 220.84 280.14 L 220.89 278.73 L 220.93 280.27 L 220.98 277.95 L 221.03 279.37 L 221.08 278.89 L 221.12 278.98 L 221.17 277.97 L 221.22 278.28 L 221.27 278.35 L 221.31 279.26 L 221.36 280.24 L 221.41 277.64 L 221.46 278.60 L 221.50 278.35 L 221.55 280.55 L 221.60 278.07 L 221.65 277.72 L 221.69 279.03 L 221.74 277.24 L 221.79 278.84 L 221.84 276.75 L 221.88 280.31 L 221.93 278.35 L 221.98 278.14 L 222.03 277.30 L 222.07 278.45 L 222.12 278.52 L 222.17 277.69 L 222.22 279.63 L 222.26 278.03 L 222.31 278.53 L 222.36 278.67 L 222.41 279.74 L 222.45 277.98 L 222.50 278.41 L 222.55 278.84 L 222.60 279.21 L 222.64 276.81 L 222.69 279.81 L 222.74 278.56 L 222.79 277.94 L 222.83 278.59 L 222.88 276.92 L 222.93 277.95 L 222.98 278.81 L 223.02 279.84 L 223.07 278.31 L 223.12 278.89 L 223.17 278.15 L 223.21 279.31 L 223.26 278.21 L 223.31 278.94 L 223.36 278.16 L 223.40 277.37 L 223.45 277.35 L 223.50 277.75 L 223.55 279.34 L 223.59 281.38 L 223.64 278.19 L 223.69 277.58 L 223.74 278.84 L 223.78 278.71 L 223.83 277.88 L 223.88 280.18 L 223.93 279.16 L 223.97 279.10 L 224.02 278.18 L 224.07 278.02 L 224.12 278.86 L 224.16 276.51 L 224.21 276.99 L 224.26 277.91 L 224.31 276.47 L 224.35 279.41 L 224.40 277.35 L 224.45 277.45 L 224.50 278.39 L 224.54 279.56 L 224.59 278.11 L 224.64 277.55 L 224.69 277.38 L 224.73 279.01 L 224.78 277.65 L 224.83 280.47 L 224.88 279.54 L 224.92 274.93 L 224.97 276.92 L 225.02 278.21 L 225.07 280.04 L 225.11 275.85 L 225.16 278.81 L 225.21 278.90 L 225.26 277.09 L 225.30 277.61 L 225.35 277.30 L 225.40 278.61 L 225.45 276.70 L 225.49 277.80 L 225.54 276.26 L 225.59 278.63 L 225.63 278.23 L 225.68 277.62 L 225.73 277.79 L 225.78 277.84 L 225.82 277.37 L 225.87 278.07 L 225.92 278.24 L 225.97 277.76 L 226.01 277.17 L 226.06 277.33 L 226.11 277.26 L 226.16 278.28 L 226.20 277.77 L 226.25 279.53 L 226.30 277.38 L 226.35 277.56 L 226.39 276.98 L 226.44 277.72 L 226.49 277.36 L 226.54 276.93 L 226.58 277.75 L 226.63 279.24 L 226.68 276.69 L 226.73 276.88 L 226.77 277.43 L 226.82 277.65 L 226.87 278.69 L 226.92 278.50 L 226.96 277.19 L 227.01 276.56 L 227.06 276.55 L 227.11 277.03 L 227.15 276.49 L 227.20 278.03 L 227.25 278.56 L 227.30 277.00 L 227.34 276.90 L 227.39 278.73 L 227.44 277.37 L 227.49 279.16 L 227.53 274.93 L 227.58 277.65 L 227.63 276.78 L 227.68 277.53 L 227.72 278.92 L 227.77 279.25 L 227.82 278.27 L 227.87 279.23 L 227.91 277.15 L 227.96 278.43 L 228.01 277.84 L 228.06 276.38 L 228.10 278.70 L 228.15 277.12 L 228.20 278.06 L 228.25 276.74 L 228.29 277.66 L 228.34 278.03 L 228.39 277.55 L 228.44 277.78 L 228.48 278.27 L 228.53 277.76 L 228.58 277.07 L 228.63 277.70 L 228.67 277.45 L 228.72 277.16 L 228.77 278.18 L 228.82 278.79 L 228.86 276.64 L 228.91 278.19 L 228.96 276.25 L 229.01 275.87 L 229.05 278.00 L 229.10 276.47 L 229.15 277.47 L 229.20 275.98 L 229.24 277.05 L 229.29 278.12 L 229.34 278.19 L 229.39 278.11 L 229.43 278.19 L 229.48 278.02 L 229.53 278.68 L 229.58 279.28 L 229.62 278.11 L 229.67 277.27 L 229.72 276.38 L 229.77 276.96 L 229.81 276.98 L 229.86 278.90 L 229.91 275.97 L 229.96 276.81 L 230.00 276.66 L 230.05 278.67 L 230.10 277.24 L 230.15 276.26 L 230.19 276.09 L 230.24 278.43 L 230.29 276.48 L 230.34 279.28 L 230.38 279.20 L 230.43 277.15 L 230.48 277.87 L 230.53 278.14 L 230.57 276.58 L 230.62 276.67 L 230.67 277.29 L 230.72 277.90 L 230.76 278.17 L 230.81 276.10 L 230.86 278.21 L 230.91 277.78 L 230.95 277.53 L 231.00 277.41 L 231.05 278.87 L 231.10 279.43 L 231.14 277.65 L 231.19 277.96 L 231.24 276.56 L 231.29 277.67 L 231.33 278.80 L 231.38 278.19 L 231.43 278.65 L 231.48 278.31 L 231.52 278.58 L 231.57 279.08 L 231.62 279.25 L 231.67 276.89 L 231.71 278.39 L 231.76 275.70 L 231.81 278.61 L 231.86 278.10 L 231.90 278.05 L 231.95 280.08 L 232.00 278.97 L 232.05 279.76 L 232.09 279.08 L 232.14 280.24 L 232.19 278.52 L 232.24 278.44 L 232.28 278.47 L 232.33 280.94 L 232.38 278.08 L 232.43 278.42 L 232.47 279.65 L 232.52 279.23 L 232.57 277.87 L 232.62 280.04 L 232.66 278.93 L 232.71 279.97 L 232.76 279.19 L 232.81 279.51 L 232.85 278.27 L 232.90 280.34 L 232.95 278.21 L 233.00 278.98 L 233.04 279.92 L 233.09 278.68 L 233.14 279.17 L 233.19 279.14 L 233.23 279.26 L 233.28 279.52 L 233.33 277.53 L 233.38 278.66 L 233.42 281.01 L 233.47 277.31 L 233.52 278.36 L 233.57 279.70 L 233.61 276.97 L 233.66 277.96 L 233.71 278.07 L 233.76 280.32 L 233.80 277.99 L 233.85 279.44 L 233.90 278.15 L 233.95 278.81 L 233.99 277.95 L 234.04 277.58 L 234.09 278.51 L 234.14 277.61 L 234.18 278.86 L 234.23 279.22 L 234.28 279.79 L 234.33 280.81 L 234.37 280.85 L 234.42 278.27 L 234.47 278.84 L 234.52 281.43 L 234.56 279.83 L 234.61 279.53 L 234.66 280.87 L 234.71 279.09 L 234.75 280.58 L 234.80 279.35 L 234.85 280.84 L 234.90 279.38 L 234.94 280.05 L 234.99 280.22 L 235.04 280.75 L 235.09 278.50 L 235.13 278.91 L 235.18 277.94 L 235.23 277.63 L 235.28 278.97 L 235.32 279.62 L 235.37 280.77 L 235.42 279.23 L 235.47 281.37 L 235.51 279.67 L 235.56 280.39 L 235.61 279.51 L 235.66 278.57 L 235.70 281.16 L 235.75 279.42 L 235.80 280.77 L 235.85 279.36 L 235.89 280.32 L 235.94 279.53 L 235.99 279.35 L 236.04 279.47 L 236.08 280.23 L 236.13 278.39 L 236.18 278.59 L 236.23 280.44 L 236.27 278.89 L 236.32 279.83 L 236.37 278.64 L 236.42 279.83 L 236.46 280.94 L 236.51 279.94 L 236.56 280.04 L 236.61 279.47 L 236.65 279.88 L 236.70 277.94 L 236.75 278.09 L 236.80 279.77 L 236.84 277.61 L 236.89 280.65 L 236.94 280.19 L 236.99 278.30 L 237.03 277.26 L 237.08 277.24 L 237.13 279.82 L 237.18 279.47 L 237.22 281.10 L 237.27 280.58 L 237.32 281.16 L 237.37 280.60 L 237.41 278.82 L 237.46 279.79 L 237.51 279.01 L 237.56 279.57 L 237.60 279.28 L 237.65 279.47 L 237.70 281.00 L 237.75 279.25 L 237.79 278.62 L 237.84 279.04 L 237.89 279.01 L 237.94 278.93 L 237.98 279.32 L 238.03 279.01 L 238.08 280.25 L 238.13 280.03 L 238.17 278.48 L 238.22 280.09 L 238.27 280.43 L 238.32 279.17 L 238.36 279.55 L 238.41 279.62 L 238.46 279.21 L 238.51 279.75 L 238.55 278.57 L 238.60 281.49 L 238.65 279.17 L 238.70 280.16 L 238.74 279.03 L 238.79 279.90 L 238.84 277.39 L 238.89 278.44 L 238.93 277.43 L 238.98 280.58 L 239.03 278.36 L 239.08 278.39 L 239.12 280.91 L 239.17 279.15 L 239.22 279.42 L 239.27 280.68 L 239.31 279.99 L 239.36 279.85 L 239.41 280.35 L 239.46 277.91 L 239.50 281.05 L 239.55 281.28 L 239.60 281.73 L 239.65 277.81 L 239.69 279.02 L 239.74 279.54 L 239.79 281.62 L 239.84 280.53 L 239.88 281.51 L 239.93 280.18 L 239.98 279.14 L 240.03 278.43 L 240.07 279.13 L 240.12 281.09 L 240.17 281.07 L 240.22 278.09 L 240.26 280.00 L 240.31 281.15 L 240.36 282.06 L 240.41 280.84 L 240.45 280.59 L 240.50 277.98 L 240.55 279.28 L 240.60 279.06 L 240.64 279.44 L 240.69 278.58 L 240.74 280.34 L 240.79 280.92 L 240.83 279.84 L 240.88 279.67 L 240.93 280.26 L 240.98 280.39 L 241.02 280.81 L 241.07 279.18 L 241.12 281.09 L 241.17 279.54 L 241.21 279.40 L 241.26 280.15 L 241.31 278.72 L 241.36 280.13 L 241.40 281.26 L 241.45 281.29 L 241.50 279.52 L 241.55 279.03 L 241.59 280.96 L 241.64 280.53 L 241.69 278.06 L 241.74 280.37 L 241.78 278.75 L 241.83 278.34 L 241.88 279.39 L 241.93 278.82 L 241.97 280.65 L 242.02 278.27 L 242.07 278.26 L 242.12 278.76 L 242.16 279.72 L 242.21 280.47 L 242.26 278.92 L 242.31 279.42 L 242.35 278.52 L 242.40 279.78 L 242.45 279.06 L 242.50 282.12 L 242.54 281.95 L 242.59 279.14 L 242.64 280.11 L 242.69 280.32 L 242.73 279.44 L 242.78 279.73 L 242.83 280.71 L 242.88 279.85 L 242.92 279.87 L 242.97 279.94 L 243.02 281.10 L 243.07 279.76 L 243.11 280.46 L 243.16 280.14 L 243.21 280.60 L 243.26 279.83 L 243.30 279.58 L 243.35 279.58 L 243.40 280.53 L 243.45 280.55 L 243.49 280.09 L 243.54 280.47 L 243.59 282.63 L 243.64 281.05 L 243.68 278.44 L 243.73 281.41 L 243.78 281.26 L 243.83 278.91 L 243.87 281.12 L 243.92 279.77 L 243.97 280.86 L 244.02 279.03 L 244.06 280.70 L 244.11 279.51 L 244.16 280.66 L 244.21 280.55 L 244.25 278.65 L 244.30 280.24 L 244.35 280.48 L 244.40 280.04 L 244.44 278.56 L 244.49 280.52 L 244.54 279.95 L 244.59 281.63 L 244.63 279.54 L 244.68 281.62 L 244.73 280.69 L 244.78 282.96 L 244.82 279.45 L 244.87 281.25 L 244.92 279.83 L 244.97 279.30 L 245.01 281.03 L 245.06 280.50 L 245.11 280.91 L 245.16 280.41 L 245.20 278.52 L 245.25 280.23 L 245.30 279.05 L 245.35 281.06 L 245.39 281.46 L 245.44 279.64 L 245.49 279.85 L 245.54 279.66 L 245.58 279.34 L 245.63 279.59 L 245.68 279.44 L 245.73 279.98 L 245.77 279.16 L 245.82 278.99 L 245.87 279.24 L 245.92 278.92 L 245.96 279.34 L 246.01 279.77 L 246.06 282.59 L 246.11 277.77 L 246.15 277.86 L 246.20 279.22 L 246.25 279.11 L 246.30 278.88 L 246.34 280.74 L 246.39 277.32 L 246.44 279.04 L 246.49 277.96 L 246.53 278.85 L 246.58 279.70 L 246.63 277.73 L 246.68 280.13 L 246.72 278.28 L 246.77 278.00 L 246.82 277.41 L 246.87 278.18 L 246.91 278.16 L 246.96 280.05 L 247.01 277.37 L 247.06 279.09 L 247.10 279.83 L 247.15 279.09 L 247.20 280.08 L 247.25 278.54 L 247.29 279.68 L 247.34 278.93 L 247.39 281.28 L 247.44 279.06 L 247.48 279.02 L 247.53 279.61 L 247.58 278.60 L 247.63 278.99 L 247.67 279.40 L 247.72 279.92 L 247.77 278.45 L 247.82 279.99 L 247.86 278.68 L 247.91 279.57 L 247.96 279.77 L 248.01 279.27 L 248.05 278.94 L 248.10 280.48 L 248.15 277.91 L 248.20 280.23 L 248.24 279.15 L 248.29 277.18 L 248.34 278.76 L 248.39 277.15 L 248.43 278.56 L 248.48 276.90 L 248.53 279.48 L 248.58 278.11 L 248.62 280.57 L 248.67 278.39 L 248.72 279.00 L 248.77 277.67 L 248.81 278.88 L 248.86 278.91 L 248.91 279.25 L 248.96 281.26 L 249.00 280.45 L 249.05 279.50 L 249.10 278.62 L 249.15 278.71 L 249.19 278.61 L 249.24 278.04 L 249.29 279.53 L 249.34 278.89 L 249.38 279.49 L 249.43 279.34 L 249.48 279.49 L 249.53 280.37 L 249.57 278.79 L 249.62 279.38 L 249.67 277.72 L 249.72 278.53 L 249.76 278.19 L 249.81 278.95 L 249.86 278.78 L 249.91 277.90 L 249.95 278.85 L 250.00 278.79 L 250.05 277.16 L 250.10 278.57 L 250.14 279.47 L 250.19 277.44 L 250.24 279.40 L 250.29 279.01 L 250.33 278.43 L 250.38 278.82 L 250.43 277.53 L 250.48 278.95 L 250.52 276.91 L 250.57 277.18 L 250.62 278.82 L 250.67 277.06 L 250.71 280.11 L 250.76 278.53 L 250.81 278.91 L 250.86 278.94 L 250.90 277.72 L 250.95 278.14 L 251.00 278.79 L 251.05 278.48 L 251.09 280.18 L 251.14 279.67 L 251.19 278.94 L 251.24 279.84 L 251.28 278.78 L 251.33 279.38 L 251.38 278.72 L 251.43 278.09 L 251.47 277.34 L 251.52 277.43 L 251.57 278.14 L 251.62 278.55 L 251.66 276.25 L 251.71 277.73 L 251.76 278.65 L 251.81 277.94 L 251.85 277.08 L 251.90 277.20 L 251.95 281.04 L 252.00 276.50 L 252.04 277.70 L 252.09 278.89 L 252.14 276.23 L 252.19 278.77 L 252.23 276.56 L 252.28 279.13 L 252.33 280.57 L 252.38 276.71 L 252.42 277.96 L 252.47 278.27 L 252.52 277.33 L 252.57 278.32 L 252.61 277.14 L 252.66 277.33 L 252.71 276.98 L 252.76 277.85 L 252.80 278.34 L 252.85 278.80 L 252.90 277.79 L 252.95 276.74 L 252.99 277.44 L 253.04 277.36 L 253.09 277.40 L 253.14 278.32 L 253.18 277.56 L 253.23 278.34 L 253.28 277.80 L 253.33 277.57 L 253.37 277.34 L 253.42 278.38 L 253.47 277.60 L 253.52 277.65 L 253.56 276.81 L 253.61 277.24 L 253.66 277.42 L 253.71 278.48 L 253.75 276.32 L 253.80 278.62 L 253.85 278.04 L 253.90 277.23 L 253.94 277.07 L 253.99 278.15 L 254.04 277.81 L 254.09 275.68 L 254.13 276.97 L 254.18 276.60 L 254.23 277.45 L 254.28 276.85 L 254.32 277.91 L 254.37 276.96 L 254.42 277.20 L 254.47 278.57 L 254.51 277.25 L 254.56 276.93 L 254.61 277.60 L 254.66 276.32 L 254.70 276.19 L 254.75 277.68 L 254.80 277.17 L 254.85 276.40 L 254.89 280.19 L 254.94 278.37 L 254.99 277.89 L 255.03 277.14 L 255.08 277.39 L 255.13 276.97 L 255.18 278.38 L 255.22 276.14 L 255.27 277.71 L 255.32 277.35 L 255.37 276.33 L 255.41 278.00 L 255.46 277.05 L 255.51 279.22 L 255.56 278.54 L 255.60 277.28 L 255.65 276.96 L 255.70 276.85 L 255.75 276.95 L 255.79 278.00 L 255.84 276.27 L 255.89 278.58 L 255.94 278.32 L 255.98 277.33 L 256.03 278.30 L 256.08 279.64 L 256.13 277.51 L 256.17 278.70 L 256.22 276.61 L 256.27 276.33 L 256.32 278.05 L 256.36 275.16 L 256.41 278.11 L 256.46 277.06 L 256.51 276.54 L 256.55 277.10 L 256.60 277.43 L 256.65 278.61 L 256.70 278.32 L 256.74 277.35 L 256.79 276.95 L 256.84 276.23 L 256.89 277.37 L 256.93 274.92 L 256.98 278.41 L 257.03 277.28 L 257.08 275.65 L 257.12 277.58 L 257.17 276.42 L 257.22 276.84 L 257.27 275.64 L 257.31 276.65 L 257.36 277.40 L 257.41 277.25 L 257.46 277.43 L 257.50 276.37 L 257.55 277.75 L 257.60 275.73 L 257.65 276.55 L 257.69 274.41 L 257.74 276.68 L 257.79 276.47 L 257.84 276.72 L 257.88 277.69 L 257.93 278.56 L 257.98 276.26 L 258.03 277.12 L 258.07 275.50 L 258.12 279.35 L 258.17 278.84 L 258.22 278.10 L 258.26 278.70 L 258.31 278.26 L 258.36 276.67 L 258.41 277.93 L 258.45 278.43 L 258.50 277.91 L 258.55 276.82 L 258.60 276.43 L 258.64 279.12 L 258.69 277.23 L 258.74 277.50 L 258.79 275.58 L 258.83 277.52 L 258.88 277.18 L 258.93 276.31 L 258.98 278.51 L 259.02 277.29 L 259.07 277.83 L 259.12 277.64 L 259.17 276.71 L 259.21 277.78 L 259.26 278.84 L 259.31 276.27 L 259.36 276.25 L 259.40 276.16 L 259.45 277.82 L 259.50 276.92 L 259.55 277.58 L 259.59 278.17 L 259.64 275.84 L 259.69 278.32 L 259.74 277.10 L 259.78 276.92 L 259.83 278.70 L 259.88 277.75 L 259.93 275.75 L 259.97 277.08 L 260.02 276.41 L 260.07 277.41 L 260.12 276.63 L 260.16 276.68 L 260.21 277.99 L 260.26 275.50 L 260.31 277.32 L 260.35 276.91 L 260.40 277.38 L 260.45 274.81 L 260.50 276.43 L 260.54 276.92 L 260.59 278.79 L 260.64 276.12 L 260.69 276.26 L 260.73 277.20 L 260.78 277.71 L 260.83 277.00 L 260.88 277.62 L 260.92 275.72 L 260.97 278.96 L 261.02 276.99 L 261.07 277.36 L 261.11 279.68 L 261.16 276.35 L 261.21 275.57 L 261.26 275.73 L 261.30 278.36 L 261.35 276.90 L 261.40 276.40 L 261.45 277.13 L 261.49 276.97 L 261.54 277.85 L 261.59 277.81 L 261.64 277.54 L 261.68 277.54 L 261.73 276.23 L 261.78 275.63 L 261.83 277.31 L 261.87 277.43 L 261.92 277.01 L 261.97 277.37 L 262.02 277.49 L 262.06 275.93 L 262.11 276.73 L 262.16 276.26 L 262.21 275.22 L 262.25 277.54 L 262.30 276.86 L 262.35 277.58 L 262.40 277.85 L 262.44 276.47 L 262.49 278.62 L 262.54 277.78 L 262.59 278.40 L 262.63 279.09 L 262.68 276.96 L 262.73 276.75 L 262.78 277.50 L 262.82 278.26 L 262.87 278.23 L 262.92 275.20 L 262.97 278.11 L 263.01 276.27 L 263.06 277.06 L 263.11 275.18 L 263.16 275.72 L 263.20 276.89 L 263.25 274.90 L 263.30 277.37 L 263.35 276.12 L 263.39 277.00 L 263.44 276.82 L 263.49 276.27 L 263.54 278.07 L 263.58 279.01 L 263.63 277.45 L 263.68 275.10 L 263.73 276.83 L 263.77 276.37 L 263.82 277.47 L 263.87 276.56 L 263.92 278.49 L 263.96 277.20 L 264.01 277.12 L 264.06 276.16 L 264.11 275.72 L 264.15 277.55 L 264.20 277.83 L 264.25 277.42 L 264.30 277.03 L 264.34 276.46 L 264.39 276.71 L 264.44 276.11 L 264.49 275.58 L 264.53 275.44 L 264.58 276.73 L 264.63 276.95 L 264.68 275.97 L 264.72 276.19 L 264.77 276.95 L 264.82 276.18 L 264.87 279.44 L 264.91 276.57 L 264.96 276.09 L 265.01 274.77 L 265.06 276.77 L 265.10 277.58 L 265.15 277.49 L 265.20 277.66 L 265.25 275.98 L 265.29 276.39 L 265.34 276.29 L 265.39 275.85 L 265.44 275.22 L 265.48 275.40 L 265.53 274.59 L 265.58 277.04 L 265.63 276.33 L 265.67 276.23 L 265.72 275.72 L 265.77 277.13 L 265.82 275.28 L 265.86 277.65 L 265.91 277.17 L 265.96 275.57 L 266.01 276.12 L 266.05 276.74 L 266.10 277.50 L 266.15 275.61 L 266.20 275.92 L 266.24 278.85 L 266.29 277.21 L 266.34 277.23 L 266.39 277.98 L 266.43 276.43 L 266.48 275.70 L 266.53 274.27 L 266.58 276.71 L 266.62 274.88 L 266.67 276.59 L 266.72 274.18 L 266.77 275.76 L 266.81 276.27 L 266.86 275.13 L 266.91 275.62 L 266.96 275.60 L 267.00 276.55 L 267.05 275.21 L 267.10 276.21 L 267.15 277.64 L 267.19 277.48 L 267.24 277.83 L 267.29 276.48 L 267.34 275.77 L 267.38 276.43 L 267.43 276.66 L 267.48 276.10 L 267.53 277.23 L 267.57 275.67 L 267.62 275.77 L 267.67 274.54 L 267.72 275.42 L 267.76 276.87 L 267.81 277.07 L 267.86 276.36 L 267.91 276.08 L 267.95 276.49 L 268.00 274.88 L 268.05 275.92 L 268.10 275.99 L 268.14 276.46 L 268.19 276.71 L 268.24 274.93 L 268.29 274.19 L 268.33 274.83 L 268.38 276.82 L 268.43 274.56 L 268.48 274.41 L 268.52 274.55 L 268.57 274.69 L 268.62 276.50 L 268.67 274.90 L 268.71 275.06 L 268.76 277.01 L 268.81 276.71 L 268.86 276.54 L 268.90 274.78 L 268.95 273.95 L 269.00 275.92 L 269.05 277.41 L 269.09 275.52 L 269.14 275.40 L 269.19 272.27 L 269.24 277.04 L 269.28 275.21 L 269.33 273.79 L 269.38 275.39 L 269.43 274.76 L 269.47 275.91 L 269.52 277.31 L 269.57 274.52 L 269.62 275.59 L 269.66 275.09 L 269.71 274.89 L 269.76 275.94 L 269.81 276.94 L 269.85 275.87 L 269.90 274.93 L 269.95 275.85 L 270.00 275.48 L 270.04 275.92 L 270.09 274.61 L 270.14 275.17 L 270.19 276.60 L 270.23 274.92 L 270.28 275.85 L 270.33 274.98 L 270.38 275.05 L 270.42 274.35 L 270.47 277.88 L 270.52 276.33 L 270.57 276.44 L 270.61 276.42 L 270.66 274.56 L 270.71 274.68 L 270.76 275.37 L 270.80 273.86 L 270.85 275.18 L 270.90 276.27 L 270.95 273.26 L 270.99 274.47 L 271.04 275.29 L 271.09 275.22 L 271.14 275.47 L 271.18 274.64 L 271.23 276.24 L 271.28 273.07 L 271.33 275.84 L 271.37 273.88 L 271.42 274.71 L 271.47 275.31 L 271.52 276.87 L 271.56 274.36 L 271.61 273.88 L 271.66 276.21 L 271.71 275.12 L 271.75 275.08 L 271.80 275.72 L 271.85 275.93 L 271.90 275.12 L 271.94 272.78 L 271.99 274.68 L 272.04 274.88 L 272.09 273.80 L 272.13 273.93 L 272.18 275.44 L 272.23 275.17 L 272.28 273.99 L 272.32 275.26 L 272.37 274.80 L 272.42 273.33 L 272.47 274.31 L 272.51 273.11 L 272.56 273.61 L 272.61 274.88 L 272.66 273.31 L 272.70 273.32 L 272.75 274.92 L 272.80 273.82 L 272.85 274.67 L 272.89 274.58 L 272.94 274.88 L 272.99 275.43 L 273.04 274.79 L 273.08 274.40 L 273.13 274.73 L 273.18 276.38 L 273.23 276.03 L 273.27 274.97 L 273.32 276.44 L 273.37 275.86 L 273.42 274.14 L 273.46 276.62 L 273.51 277.84 L 273.56 277.81 L 273.61 273.68 L 273.65 276.68 L 273.70 275.77 L 273.75 275.02 L 273.80 273.16 L 273.84 274.96 L 273.89 274.77 L 273.94 274.91 L 273.99 276.36 L 274.03 276.23 L 274.08 274.89 L 274.13 275.89 L 274.18 273.57 L 274.22 274.32 L 274.27 275.23 L 274.32 274.14 L 274.37 274.94 L 274.41 274.74 L 274.46 274.91 L 274.51 274.36 L 274.56 275.31 L 274.60 273.55 L 274.65 274.54 L 274.70 276.31 L 274.75 274.53 L 274.79 276.40 L 274.84 275.23 L 274.89 274.54 L 274.94 274.87 L 274.98 275.94 L 275.03 273.94 L 275.08 273.04 L 275.13 274.71 L 275.17 274.92 L 275.22 275.06 L 275.27 272.64 L 275.32 274.63 L 275.36 274.44 L 275.41 274.28 L 275.46 274.16 L 275.51 275.07 L 275.55 274.56 L 275.60 274.56 L 275.65 276.44 L 275.70 274.67 L 275.74 273.43 L 275.79 273.50 L 275.84 273.62 L 275.89 272.73 L 275.93 275.28 L 275.98 275.86 L 276.03 273.39 L 276.08 274.91 L 276.12 273.24 L 276.17 273.18 L 276.22 272.15 L 276.27 273.66 L 276.31 274.83 L 276.36 274.98 L 276.41 274.28 L 276.46 273.65 L 276.50 275.03 L 276.55 275.91 L 276.60 273.65 L 276.65 274.62 L 276.69 274.46 L 276.74 274.00 L 276.79 273.40 L 276.84 273.67 L 276.88 274.45 L 276.93 274.63 L 276.98 274.28 L 277.03 275.28 L 277.07 273.53 L 277.12 273.00 L 277.17 273.02 L 277.22 274.56 L 277.26 273.82 L 277.31 272.78 L 277.36 275.24 L 277.41 275.70 L 277.45 274.68 L 277.50 275.09 L 277.55 273.07 L 277.60 273.11 L 277.64 274.59 L 277.69 274.60 L 277.74 274.24 L 277.79 274.20 L 277.83 273.87 L 277.88 275.81 L 277.93 273.54 L 277.98 274.22 L 278.02 275.35 L 278.07 273.42 L 278.12 274.64 L 278.17 274.41 L 278.21 275.30 L 278.26 272.25 L 278.31 274.50 L 278.36 274.23 L 278.40 276.21 L 278.45 275.10 L 278.50 274.85 L 278.55 276.34 L 278.59 276.10 L 278.64 276.39 L 278.69 276.55 L 278.74 275.98 L 278.78 274.68 L 278.83 275.67 L 278.88 275.85 L 278.93 275.78 L 278.97 275.81 L 279.02 275.70 L 279.07 275.23 L 279.12 275.75 L 279.16 275.03 L 279.21 275.34 L 279.26 276.80 L 279.31 275.73 L 279.35 276.30 L 279.40 275.64 L 279.45 274.71 L 279.50 276.08 L 279.54 278.21 L 279.59 276.81 L 279.64 276.23 L 279.69 277.72 L 279.73 276.52 L 279.78 276.34 L 279.83 275.63 L 279.88 275.55 L 279.92 277.53 L 279.97 277.17 L 280.02 277.04 L 280.07 277.66 L 280.11 276.66 L 280.16 277.44 L 280.21 276.89 L 280.26 276.96 L 280.30 277.22 L 280.35 279.10 L 280.40 278.85 L 280.45 277.19 L 280.49 277.93 L 280.54 278.42 L 280.59 277.61 L 280.64 278.94 L 280.68 277.43 L 280.73 277.59 L 280.78 277.49 L 280.83 276.07 L 280.87 276.18 L 280.92 277.20 L 280.97 279.19 L 281.02 278.63 L 281.06 278.50 L 281.11 277.46 L 281.16 277.85 L 281.21 278.42 L 281.25 278.73 L 281.30 277.08 L 281.35 277.72 L 281.40 277.49 L 281.44 279.29 L 281.49 277.59 L 281.54 277.49 L 281.59 279.06 L 281.63 277.56 L 281.68 278.93 L 281.73 277.22 L 281.78 279.95 L 281.82 278.17 L 281.87 278.52 L 281.92 278.05 L 281.97 278.26 L 282.01 278.18 L 282.06 277.96 L 282.11 279.60 L 282.16 275.98 L 282.20 276.91 L 282.25 277.66 L 282.30 277.80 L 282.35 279.42 L 282.39 278.46 L 282.44 277.98 L 282.49 277.32 L 282.54 279.80 L 282.58 278.82 L 282.63 280.45 L 282.68 276.72 L 282.73 279.80 L 282.77 278.08 L 282.82 277.22 L 282.87 278.18 L 282.92 278.03 L 282.96 277.48 L 283.01 276.37 L 283.06 277.45 L 283.11 276.31 L 283.15 277.66 L 283.20 276.13 L 283.25 277.71 L 283.30 277.10 L 283.34 278.41 L 283.39 276.85 L 283.44 276.33 L 283.49 276.20 L 283.53 277.87 L 283.58 281.35 L 283.63 276.28 L 283.68 277.08 L 283.72 279.20 L 283.77 278.36 L 283.82 279.16 L 283.87 278.27 L 283.91 278.37 L 283.96 278.03 L 284.01 277.04 L 284.06 278.36 L 284.10 277.27 L 284.15 278.77 L 284.20 275.67 L 284.24 276.11 L 284.29 278.16 L 284.34 278.53 L 284.39 280.17 L 284.43 277.48 L 284.48 278.96 L 284.53 276.55 L 284.58 280.65 L 284.62 275.78 L 284.67 279.68 L 284.72 277.64 L 284.77 276.33 L 284.81 277.46 L 284.86 279.04 L 284.91 277.83 L 284.96 277.23 L 285.00 278.18 L 285.05 278.00 L 285.10 278.98 L 285.15 278.90 L 285.19 277.68 L 285.24 277.47 L 285.29 278.03 L 285.34 277.96 L 285.38 278.30 L 285.43 277.18 L 285.48 278.36 L 285.53 277.31 L 285.57 278.58 L 285.62 278.34 L 285.67 277.79 L 285.72 276.42 L 285.76 278.94 L 285.81 277.04 L 285.86 277.31 L 285.91 277.89 L 285.95 278.39 L 286.00 277.45 L 286.05 277.55 L 286.10 276.80 L 286.14 279.48 L 286.19 278.31 L 286.24 278.47 L 286.29 276.90 L 286.33 278.09 L 286.38 279.62 L 286.43 279.92 L 286.48 277.86 L 286.52 278.87 L 286.57 279.31 L 286.62 277.14 L 286.67 277.98 L 286.71 279.03 L 286.76 279.52 L 286.81 277.12 L 286.86 277.34 L 286.90 279.56 L 286.95 278.05 L 287.00 278.84 L 287.05 277.33 L 287.09 279.61 L 287.14 278.93 L 287.19 279.79 L 287.24 277.50 L 287.28 277.95 L 287.33 277.17 L 287.38 277.10 L 287.43 276.84 L 287.47 278.26 L 287.52 277.19 L 287.57 277.84 L 287.62 277.24 L 287.66 278.09 L 287.71 278.41 L 287.76 278.57 L 287.81 278.68 L 287.85 277.84 L 287.90 278.68 L 287.95 277.60 L 288.00 277.12 L 288.04 276.74 L 288.09 278.01 L 288.14 278.37 L 288.19 279.65 L 288.23 277.59 L 288.28 279.64 L 288.33 276.84 L 288.38 278.39 L 288.42 280.97 L 288.47 278.46 L 288.52 277.81 L 288.57 277.69 L 288.61 280.77 L 288.66 279.93 L 288.71 278.09 L 288.76 278.64 L 288.80 276.26 L 288.85 278.34 L 288.90 280.00 L 288.95 276.74 L 288.99 279.77 L 289.04 279.37 L 289.09 280.16 L 289.14 278.02 L 289.18 278.76 L 289.23 279.74 L 289.28 278.85 L 289.33 278.92 L 289.37 277.92 L 289.42 277.93 L 289.47 277.56 L 289.52 278.37 L 289.56 278.28 L 289.61 277.90 L 289.66 276.10 L 289.71 276.78 L 289.75 278.05 L 289.80 279.04 L 289.85 277.16 L 289.90 277.33 L 289.94 277.63 L 289.99 278.51 L 290.04 279.37 L 290.09 278.07 L 290.13 277.89 L 290.18 277.26 L 290.23 278.64 L 290.28 277.93 L 290.32 278.53 L 290.37 277.67 L 290.42 279.58 L 290.47 277.99 L 290.51 276.85 L 290.56 278.30 L 290.61 277.27 L 290.66 278.92 L 290.70 279.67 L 290.75 278.81 L 290.80 278.08 L 290.85 277.47 L 290.89 277.78 L 290.94 280.27 L 290.99 279.08 L 291.04 276.97 L 291.08 276.89 L 291.13 278.19 L 291.18 277.91 L 291.23 277.94 L 291.27 278.53 L 291.32 276.96 L 291.37 277.20 L 291.42 279.03 L 291.46 278.52 L 291.51 277.95 L 291.56 278.06 L 291.61 278.72 L 291.65 278.47 L 291.70 277.50 L 291.75 277.05 L 291.80 279.01 L 291.84 277.03 L 291.89 279.94 L 291.94 276.96 L 291.99 277.33 L 292.03 279.09 L 292.08 279.31 L 292.13 277.94 L 292.18 275.34 L 292.22 277.73 L 292.27 275.91 L 292.32 277.48 L 292.37 278.77 L 292.41 278.75 L 292.46 278.71 L 292.51 278.35 L 292.56 278.68 L 292.60 277.51 L 292.65 277.51 L 292.70 278.87 L 292.75 278.18 L 292.79 278.79 L 292.84 278.05 L 292.89 278.08 L 292.94 278.40 L 292.98 278.43 L 293.03 279.46 L 293.08 278.41 L 293.13 278.79 L 293.17 277.64 L 293.22 277.31 L 293.27 278.43 L 293.32 277.45 L 293.36 276.81 L 293.41 278.61 L 293.46 279.36 L 293.51 276.48 L 293.55 279.09 L 293.60 278.19 L 293.65 276.81 L 293.70 277.10 L 293.74 277.73 L 293.79 280.04 L 293.84 278.15 L 293.89 279.47 L 293.93 277.31 L 293.98 278.74 L 294.03 278.56 L 294.08 277.04 L 294.12 277.18 L 294.17 278.07 L 294.22 275.96 L 294.27 277.32 L 294.31 276.18 L 294.36 278.53 L 294.41 277.90 L 294.46 278.21 L 294.50 278.15 L 294.55 277.49 L 294.60 277.21 L 294.65 277.01 L 294.69 277.19 L 294.74 277.25 L 294.79 276.91 L 294.84 277.76 L 294.88 276.94 L 294.93 275.99 L 294.98 278.13 L 295.03 276.55 L 295.07 275.55 L 295.12 276.34 L 295.17 276.96 L 295.22 277.12 L 295.26 277.46 L 295.31 279.16 L 295.36 276.09 L 295.41 278.85 L 295.45 277.52 L 295.50 277.21 L 295.55 275.39 L 295.60 277.19 L 295.64 278.13 L 295.69 276.53 L 295.74 275.90 L 295.79 275.79 L 295.83 277.29 L 295.88 277.21 L 295.93 278.76 L 295.98 276.66 L 296.02 277.84 L 296.07 275.86 L 296.12 276.77 L 296.17 278.12 L 296.21 276.90 L 296.26 277.78 L 296.31 275.96 L 296.36 276.18 L 296.40 276.67 L 296.45 276.25 L 296.50 277.82 L 296.55 278.53 L 296.59 277.00 L 296.64 277.58 L 296.69 278.58 L 296.74 277.26 L 296.78 276.99 L 296.83 276.57 L 296.88 277.91 L 296.93 277.79 L 296.97 278.89 L 297.02 278.75 L 297.07 275.29 L 297.12 277.52 L 297.16 278.60 L 297.21 276.98 L 297.26 276.80 L 297.31 275.61 L 297.35 277.75 L 297.40 275.77 L 297.45 276.96 L 297.50 276.44 L 297.54 277.21 L 297.59 276.37 L 297.64 276.45 L 297.69 277.89 L 297.73 276.84 L 297.78 277.49 L 297.83 275.78 L 297.88 277.67 L 297.92 276.52 L 297.97 277.20 L 298.02 276.77 L 298.07 274.31 L 298.11 273.37 L 298.16 279.62 L 298.21 275.51 L 298.26 275.61 L 298.30 275.29 L 298.35 275.68 L 298.40 276.46 L 298.45 277.17 L 298.49 275.99 L 298.54 273.97 L 298.59 276.67 L 298.64 276.25 L 298.68 275.41 L 298.73 274.66 L 298.78 274.51 L 298.83 276.93 L 298.87 274.91 L 298.92 276.73 L 298.97 275.34 L 299.02 276.45 L 299.06 274.95 L 299.11 274.52 L 299.16 275.51 L 299.21 274.07 L 299.25 274.45 L 299.30 276.15 L 299.35 277.21 L 299.40 275.97 L 299.44 274.18 L 299.49 274.63 L 299.54 275.95 L 299.59 275.63 L 299.63 278.13 L 299.68 277.71 L 299.73 275.55 L 299.78 277.74 L 299.82 274.70 L 299.87 274.58 L 299.92 276.84 L 299.97 274.40 L 300.01 274.87 L 300.06 276.89 L 300.11 274.75 L 300.16 276.65 L 300.20 276.03 L 300.25 274.87 L 300.30 275.97 L 300.35 276.52 L 300.39 276.24 L 300.44 274.48 L 300.49 276.26 L 300.54 273.39 L 300.58 275.36 L 300.63 275.77 L 300.68 277.48 L 300.73 277.11 L 300.77 274.42 L 300.82 275.07 L 300.87 275.61 L 300.92 275.21 L 300.96 275.95 L 301.01 276.14 L 301.06 276.06 L 301.11 274.94 L 301.15 278.42 L 301.20 274.26 L 301.25 275.20 L 301.30 276.81 L 301.34 276.00 L 301.39 275.85 L 301.44 276.30 L 301.49 274.91 L 301.53 275.17 L 301.58 276.23 L 301.63 276.51 L 301.68 273.66 L 301.72 274.47 L 301.77 275.14 L 301.82 275.93 L 301.87 273.63 L 301.91 275.80 L 301.96 274.37 L 302.01 275.76 L 302.06 275.30 L 302.10 276.41 L 302.15 274.05 L 302.20 275.74 L 302.25 275.13 L 302.29 274.90 L 302.34 276.41 L 302.39 274.58 L 302.44 276.03 L 302.48 274.27 L 302.53 274.08 L 302.58 275.73 L 302.63 276.97 L 302.67 275.21 L 302.72 273.82 L 302.77 275.03 L 302.82 274.25 L 302.86 274.12 L 302.91 275.09 L 302.96 275.51 L 303.01 275.90 L 303.05 274.07 L 303.10 276.73 L 303.15 274.94 L 303.20 273.75 L 303.24 274.42 L 303.29 275.21 L 303.34 274.20 L 303.39 275.15 L 303.43 274.06 L 303.48 276.03 L 303.53 275.09 L 303.58 274.69 L 303.62 275.91 L 303.67 274.22 L 303.72 274.99 L 303.77 275.86 L 303.81 275.92 L 303.86 275.74 L 303.91 276.59 L 303.96 275.29 L 304.00 275.87 L 304.05 275.17 L 304.10 275.90 L 304.15 274.92 L 304.19 274.85 L 304.24 275.91 L 304.29 274.99 L 304.34 276.58 L 304.38 276.97 L 304.43 276.55 L 304.48 276.56 L 304.53 276.33 L 304.57 274.40 L 304.62 274.89 L 304.67 276.19 L 304.72 274.85 L 304.76 275.30 L 304.81 275.77 L 304.86 276.14 L 304.91 274.39 L 304.95 276.00 L 305.00 276.87 L 305.05 276.31 L 305.10 277.36 L 305.14 275.31 L 305.19 277.01 L 305.24 277.87 L 305.29 276.45 L 305.33 276.80 L 305.38 276.89 L 305.43 273.79 L 305.48 275.29 L 305.52 277.04 L 305.57 276.32 L 305.62 276.40 L 305.67 276.68 L 305.71 277.46 L 305.76 275.88 L 305.81 276.76 L 305.86 275.78 L 305.90 277.13 L 305.95 274.80 L 306.00 274.92 L 306.05 275.65 L 306.09 276.84 L 306.14 275.10 L 306.19 274.92 L 306.24 274.18 L 306.28 276.68 L 306.33 274.27 L 306.38 274.73 L 306.43 274.50 L 306.47 275.75 L 306.52 273.63 L 306.57 273.61 L 306.62 274.43 L 306.66 274.27 L 306.71 272.79 L 306.76 273.19 L 306.81 273.35 L 306.85 274.10 L 306.90 273.31 L 306.95 276.21 L 307.00 274.67 L 307.04 275.71 L 307.09 274.85 L 307.14 274.77 L 307.19 275.15 L 307.23 274.26 L 307.28 272.82 L 307.33 274.72 L 307.38 273.26 L 307.42 275.10 L 307.47 272.75 L 307.52 273.57 L 307.57 273.25 L 307.61 272.67 L 307.66 272.59 L 307.71 272.47 L 307.76 272.69 L 307.80 272.80 L 307.85 272.47 L 307.90 272.43 L 307.95 270.21 L 307.99 273.52 L 308.04 272.65 L 308.09 270.72 L 308.14 271.12 L 308.18 269.86 L 308.23 269.01 L 308.28 271.35 L 308.33 273.10 L 308.37 271.69 L 308.42 271.52 L 308.47 271.21 L 308.52 271.62 L 308.56 270.82 L 308.61 270.08 L 308.66 270.15 L 308.71 270.97 L 308.75 269.63 L 308.80 267.98 L 308.85 270.25 L 308.90 269.85 L 308.94 270.57 L 308.99 269.46 L 309.04 269.74 L 309.09 268.87 L 309.13 268.16 L 309.18 269.11 L 309.23 268.47 L 309.28 267.72 L 309.32 268.49 L 309.37 268.59 L 309.42 268.86 L 309.47 269.13 L 309.51 270.45 L 309.56 268.45 L 309.61 270.01 L 309.66 268.83 L 309.70 269.11 L 309.75 269.74 L 309.80 268.33 L 309.85 269.01 L 309.89 269.68 L 309.94 267.87 L 309.99 268.16 L 310.04 268.56 L 310.08 269.07 L 310.13 269.83 L 310.18 268.13 L 310.23 270.78 L 310.27 270.14 L 310.32 270.22 L 310.37 267.93 L 310.42 270.15 L 310.46 269.38 L 310.51 270.87 L 310.56 270.33 L 310.61 270.06 L 310.65 269.67 L 310.70 270.48 L 310.75 271.57 L 310.80 269.78 L 310.84 270.82 L 310.89 271.43 L 310.94 271.44 L 310.99 271.06 L 311.03 271.86 L 311.08 271.73 L 311.13 269.67 L 311.18 272.39 L 311.22 270.01 L 311.27 272.45 L 311.32 272.08 L 311.37 269.71 L 311.41 271.61 L 311.46 272.65 L 311.51 272.81 L 311.56 271.66 L 311.60 270.76 L 311.65 272.59 L 311.70 269.95 L 311.75 269.93 L 311.79 272.13 L 311.84 270.32 L 311.89 272.04 L 311.94 270.58 L 311.98 271.16 L 312.03 272.93 L 312.08 271.78 L 312.13 272.40 L 312.17 271.77 L 312.22 271.55 L 312.27 271.33 L 312.32 271.19 L 312.36 272.41 L 312.41 272.34 L 312.46 273.39 L 312.51 272.21 L 312.55 271.82 L 312.60 272.47 L 312.65 273.41 L 312.70 270.80 L 312.74 273.68 L 312.79 271.33 L 312.84 271.29 L 312.89 274.67 L 312.93 273.27 L 312.98 271.83 L 313.03 273.21 L 313.08 273.57 L 313.12 272.87 L 313.17 273.32 L 313.22 272.61 L 313.27 273.02 L 313.31 271.35 L 313.36 271.41 L 313.41 272.59 L 313.45 271.14 L 313.50 273.19 L 313.55 272.36 L 313.60 273.71 L 313.64 273.36 L 313.69 272.08 L 313.74 270.12 L 313.79 271.34 L 313.83 272.75 L 313.88 274.78 L 313.93 272.93 L 313.98 273.47 L 314.02 272.81 L 314.07 270.46 L 314.12 273.69 L 314.17 272.76 L 314.21 271.73 L 314.26 273.63 L 314.31 272.80 L 314.36 275.76 L 314.40 271.00 L 314.45 272.59 L 314.50 273.21 L 314.55 272.72 L 314.59 273.79 L 314.64 273.70 L 314.69 273.32 L 314.74 272.91 L 314.78 271.97 L 314.83 272.74 L 314.88 273.31 L 314.93 272.36 L 314.97 270.16 L 315.02 273.52 L 315.07 271.47 L 315.12 272.82 L 315.16 271.47 L 315.21 272.89 L 315.26 271.48 L 315.31 273.07 L 315.35 272.96 L 315.40 271.08 L 315.45 268.90 L 315.50 271.88 L 315.54 270.56 L 315.59 272.52 L 315.64 271.90 L 315.69 271.24 L 315.73 270.66 L 315.78 270.73 L 315.83 272.64 L 315.88 272.22 L 315.92 271.08 L 315.97 271.54 L 316.02 271.87 L 316.07 270.86 L 316.11 269.37 L 316.16 272.54 L 316.21 270.51 L 316.26 272.53 L 316.30 270.93 L 316.35 270.02 L 316.40 269.86 L 316.45 271.03 L 316.49 270.06 L 316.54 270.90 L 316.59 270.86 L 316.64 272.54 L 316.68 270.31 L 316.73 270.67 L 316.78 270.22 L 316.83 271.88 L 316.87 271.30 L 316.92 271.23 L 316.97 272.73 L 317.02 271.32 L 317.06 271.20 L 317.11 269.73 L 317.16 269.30 L 317.21 270.39 L 317.25 272.19 L 317.30 269.81 L 317.35 270.00 L 317.40 271.45 L 317.44 270.13 L 317.49 270.02 L 317.54 270.26 L 317.59 269.51 L 317.63 271.34 L 317.68 271.92 L 317.73 271.44 L 317.78 271.64 L 317.82 268.30 L 317.87 270.98 L 317.92 269.97 L 317.97 271.32 L 318.01 269.58 L 318.06 270.69 L 318.11 271.51 L 318.16 270.32 L 318.20 269.89 L 318.25 269.64 L 318.30 270.21 L 318.35 269.55 L 318.39 268.45 L 318.44 270.09 L 318.49 271.07 L 318.54 269.76 L 318.58 270.25 L 318.63 270.42 L 318.68 269.29 L 318.73 269.15 L 318.77 268.45 L 318.82 271.81 L 318.87 269.64 L 318.92 268.38 L 318.96 269.09 L 319.01 270.43 L 319.06 268.74 L 319.11 270.07 L 319.15 269.59 L 319.20 268.99 L 319.25 269.85 L 319.30 269.67 L 319.34 269.07 L 319.39 268.94 L 319.44 269.15 L 319.49 269.29 L 319.53 269.24 L 319.58 269.58 L 319.63 268.41 L 319.68 270.27 L 319.72 268.80 L 319.77 268.64 L 319.82 270.09 L 319.87 269.89 L 319.91 267.36 L 319.96 269.01 L 320.01 269.68 L 320.06 269.46 L 320.10 267.47 L 320.15 268.41 L 320.20 268.21 L 320.25 269.40 L 320.29 269.54 L 320.34 269.02 L 320.39 268.59 L 320.44 267.89 L 320.48 269.48 L 320.53 266.56 L 320.58 268.90 L 320.63 268.92 L 320.67 268.60 L 320.72 268.21 L 320.77 268.44 L 320.82 268.85 L 320.86 267.64 L 320.91 268.74 L 320.96 268.01 L 321.01 268.10 L 321.05 265.71 L 321.10 266.94 L 321.15 267.94 L 321.20 267.52 L 321.24 268.92 L 321.29 266.71 L 321.34 269.23 L 321.39 268.85 L 321.43 268.20 L 321.48 267.44 L 321.53 266.80 L 321.58 266.73 L 321.62 266.93 L 321.67 267.47 L 321.72 267.87 L 321.77 267.79 L 321.81 268.06 L 321.86 267.89 L 321.91 266.36 L 321.96 266.40 L 322.00 267.68 L 322.05 266.02 L 322.10 267.54 L 322.15 266.66 L 322.19 265.41 L 322.24 266.96 L 322.29 266.75 L 322.34 265.84 L 322.38 264.35 L 322.43 266.66 L 322.48 266.75 L 322.53 267.11 L 322.57 266.75 L 322.62 266.03 L 322.67 264.87 L 322.72 266.22 L 322.76 267.24 L 322.81 266.48 L 322.86 265.64 L 322.91 265.32 L 322.95 264.38 L 323.00 266.90 L 323.05 267.20 L 323.10 265.06 L 323.14 266.39 L 323.19 268.05 L 323.24 264.91 L 323.29 267.81 L 323.33 267.65 L 323.38 267.70 L 323.43 267.47 L 323.48 267.64 L 323.52 267.70 L 323.57 268.78 L 323.62 266.51 L 323.67 267.32 L 323.71 266.33 L 323.76 268.29 L 323.81 268.86 L 323.86 267.55 L 323.90 268.49 L 323.95 268.44 L 324.00 269.19 L 324.05 268.78 L 324.09 268.50 L 324.14 267.62 L 324.19 268.12 L 324.24 269.48 L 324.28 268.83 L 324.33 269.95 L 324.38 268.42 L 324.43 270.12 L 324.47 269.37 L 324.52 270.04 L 324.57 268.11 L 324.62 270.19 L 324.66 268.73 L 324.71 270.95 L 324.76 270.77 L 324.81 269.43 L 324.85 271.32 L 324.90 271.33 L 324.95 271.50 L 325.00 271.20 L 325.04 269.79 L 325.09 271.69 L 325.14 269.14 L 325.19 270.19 L 325.23 270.78 L 325.28 269.06 L 325.33 271.79 L 325.38 271.50 L 325.42 270.75 L 325.47 269.10 L 325.52 270.21 L 325.57 271.64 L 325.61 271.49 L 325.66 270.32 L 325.71 270.01 L 325.76 271.28 L 325.80 270.06 L 325.85 269.65 L 325.90 272.51 L 325.95 271.45 L 325.99 271.73 L 326.04 271.12 L 326.09 272.23 L 326.14 272.41 L 326.18 271.54 L 326.23 271.13 L 326.28 271.33 L 326.33 272.42 L 326.37 271.61 L 326.42 270.46 L 326.47 272.71 L 326.52 271.49 L 326.56 271.69 L 326.61 272.48 L 326.66 271.83 L 326.71 272.07 L 326.75 271.20 L 326.80 271.85 L 326.85 272.01 L 326.90 271.48 L 326.94 270.89 L 326.99 271.00 L 327.04 270.81 L 327.09 272.23 L 327.13 270.48 L 327.18 271.64 L 327.23 270.83 L 327.28 272.27 L 327.32 271.55 L 327.37 270.94 L 327.42 271.87 L 327.47 270.47 L 327.51 274.36 L 327.56 270.99 L 327.61 271.47 L 327.66 272.64 L 327.70 270.78 L 327.75 270.43 L 327.80 270.34 L 327.85 272.32 L 327.89 270.16 L 327.94 272.79 L 327.99 271.87 L 328.04 271.06 L 328.08 272.26 L 328.13 271.15 L 328.18 270.82 L 328.23 270.01 L 328.27 269.76 L 328.32 271.35 L 328.37 269.21 L 328.42 269.60 L 328.46 269.56 L 328.51 270.88 L 328.56 269.68 L 328.61 270.91 L 328.65 273.35 L 328.70 270.93 L 328.75 272.45 L 328.80 270.82 L 328.84 269.76 L 328.89 270.30 L 328.94 270.22 L 328.99 271.15 L 329.03 271.48 L 329.08 270.78 L 329.13 270.48 L 329.18 270.10 L 329.22 270.62 L 329.27 270.17 L 329.32 270.09 L 329.37 273.03 L 329.41 271.62 L 329.46 269.83 L 329.51 270.78 L 329.56 271.68 L 329.60 270.62 L 329.65 269.92 L 329.70 270.82 L 329.75 270.72 L 329.79 270.98 L 329.84 271.52 L 329.89 269.79 L 329.94 270.49 L 329.98 269.70 L 330.03 269.41 L 330.08 269.73 L 330.13 270.20 L 330.17 269.47 L 330.22 269.12 L 330.27 269.42 L 330.32 270.26 L 330.36 271.44 L 330.41 271.39 L 330.46 269.87 L 330.51 269.62 L 330.55 270.49 L 330.60 269.51 L 330.65 269.67 L 330.70 268.79 L 330.74 269.72 L 330.79 269.31 L 330.84 268.62 L 330.89 269.93 L 330.93 270.51 L 330.98 269.90 L 331.03 268.33 L 331.08 269.62 L 331.12 270.16 L 331.17 270.46 L 331.22 270.56 L 331.27 270.34 L 331.31 269.25 L 331.36 269.83 L 331.41 269.96 L 331.46 269.91 L 331.50 269.65 L 331.55 268.39 L 331.60 269.69 L 331.65 269.01 L 331.69 269.21 L 331.74 270.82 L 331.79 269.28 L 331.84 269.28 L 331.88 268.52 L 331.93 267.53 L 331.98 267.65 L 332.03 268.18 L 332.07 268.09 L 332.12 266.58 L 332.17 267.43 L 332.22 268.05 L 332.26 267.28 L 332.31 267.57 L 332.36 267.97 L 332.41 268.80 L 332.45 267.92 L 332.50 268.90 L 332.55 266.40 L 332.60 268.51 L 332.64 267.05 L 332.69 268.29 L 332.74 268.70 L 332.79 267.67 L 332.83 267.19 L 332.88 268.05 L 332.93 266.10 L 332.98 267.16 L 333.02 266.53 L 333.07 266.51 L 333.12 265.53 L 333.17 266.26 L 333.21 266.14 L 333.26 265.80 L 333.31 266.02 L 333.36 264.53 L 333.40 266.42 L 333.45 265.40 L 333.50 265.72 L 333.55 265.04 L 333.59 265.06 L 333.64 264.84 L 333.69 266.13 L 333.74 264.37 L 333.78 264.31 L 333.83 264.74 L 333.88 263.86 L 333.93 263.78 L 333.97 264.77 L 334.02 264.71 L 334.07 264.93 L 334.12 264.59 L 334.16 263.28 L 334.21 263.17 L 334.26 264.70 L 334.31 262.02 L 334.35 263.94 L 334.40 264.06 L 334.45 264.42 L 334.50 264.58 L 334.54 264.17 L 334.59 264.82 L 334.64 261.70 L 334.69 262.77 L 334.73 263.04 L 334.78 260.80 L 334.83 261.88 L 334.88 263.25 L 334.92 261.58 L 334.97 262.84 L 335.02 262.32 L 335.07 262.62 L 335.11 262.27 L 335.16 261.95 L 335.21 263.60 L 335.26 260.61 L 335.30 262.29 L 335.35 260.55 L 335.40 259.90 L 335.45 260.76 L 335.49 259.14 L 335.54 261.77 L 335.59 261.29 L 335.64 260.12 L 335.68 258.29 L 335.73 259.12 L 335.78 258.75 L 335.83 257.94 L 335.87 257.82 L 335.92 258.18 L 335.97 257.30 L 336.02 257.64 L 336.06 257.75 L 336.11 256.71 L 336.16 257.30 L 336.21 257.14 L 336.25 258.52 L 336.30 257.44 L 336.35 257.60 L 336.40 257.41 L 336.44 257.12 L 336.49 257.17 L 336.54 256.96 L 336.59 255.42 L 336.63 257.04 L 336.68 256.55 L 336.73 256.83 L 336.78 256.33 L 336.82 256.31 L 336.87 257.06 L 336.92 256.59 L 336.97 256.93 L 337.01 257.07 L 337.06 256.86 L 337.11 256.87 L 337.16 256.19 L 337.20 256.31 L 337.25 256.88 L 337.30 256.12 L 337.35 256.60 L 337.39 257.53 L 337.44 256.74 L 337.49 255.20 L 337.54 256.12 L 337.58 256.52 L 337.63 255.34 L 337.68 255.95 L 337.73 256.12 L 337.77 255.70 L 337.82 256.36 L 337.87 256.03 L 337.92 255.60 L 337.96 256.22 L 338.01 255.89 L 338.06 257.59 L 338.11 254.52 L 338.15 255.66 L 338.20 255.61 L 338.25 255.59 L 338.30 254.34 L 338.34 255.86 L 338.39 255.60 L 338.44 256.47 L 338.49 255.14 L 338.53 257.20 L 338.58 256.01 L 338.63 255.74 L 338.68 256.44 L 338.72 255.00 L 338.77 255.36 L 338.82 256.37 L 338.87 255.74 L 338.91 256.11 L 338.96 254.42 L 339.01 255.11 L 339.06 254.75 L 339.10 257.01 L 339.15 256.62 L 339.20 256.63 L 339.25 255.49 L 339.29 256.35 L 339.34 255.20 L 339.39 254.97 L 339.44 254.99 L 339.48 254.97 L 339.53 253.41 L 339.58 254.58 L 339.63 253.73 L 339.67 253.70 L 339.72 253.80 L 339.77 253.43 L 339.82 253.55 L 339.86 254.23 L 339.91 254.18 L 339.96 254.55 L 340.01 252.82 L 340.05 253.16 L 340.10 253.05 L 340.15 252.96 L 340.20 253.73 L 340.24 253.87 L 340.29 253.32 L 340.34 253.64 L 340.39 254.32 L 340.43 253.43 L 340.48 254.36 L 340.53 253.66 L 340.58 254.06 L 340.62 255.04 L 340.67 253.45 L 340.72 254.20 L 340.77 254.71 L 340.81 254.10 L 340.86 255.08 L 340.91 255.94 L 340.96 255.25 L 341.00 254.21 L 341.05 253.76 L 341.10 254.55 L 341.15 253.94 L 341.19 254.00 L 341.24 255.12 L 341.29 255.16 L 341.34 253.67 L 341.38 254.48 L 341.43 254.28 L 341.48 255.58 L 341.53 255.50 L 341.57 256.07 L 341.62 255.43 L 341.67 255.92 L 341.72 256.17 L 341.76 255.73 L 341.81 256.59 L 341.86 254.76 L 341.91 256.93 L 341.95 255.44 L 342.00 256.30 L 342.05 256.91 L 342.10 257.05 L 342.14 255.98 L 342.19 257.42 L 342.24 255.69 L 342.29 257.41 L 342.33 257.58 L 342.38 259.09 L 342.43 257.94 L 342.48 257.72 L 342.52 257.82 L 342.57 257.90 L 342.62 258.65 L 342.66 258.93 L 342.71 259.89 L 342.76 257.73 L 342.81 259.18 L 342.85 257.82 L 342.90 258.73 L 342.95 259.75 L 343.00 259.88 L 343.04 259.60 L 343.09 258.44 L 343.14 259.66 L 343.19 259.90 L 343.23 257.85 L 343.28 258.39 L 343.33 258.77 L 343.38 258.83 L 343.42 258.79 L 343.47 258.29 L 343.52 257.99 L 343.57 258.81 L 343.61 257.85 L 343.66 257.94 L 343.71 258.25 L 343.76 258.18 L 343.80 258.46 L 343.85 258.40 L 343.90 258.19 L 343.95 258.67 L 343.99 256.48 L 344.04 257.53 L 344.09 257.69 L 344.14 257.36 L 344.18 257.30 L 344.23 257.50 L 344.28 256.89 L 344.33 258.58 L 344.37 258.46 L 344.42 256.63 L 344.47 257.73 L 344.52 257.46 L 344.56 256.93 L 344.61 257.58 L 344.66 257.12 L 344.71 256.75 L 344.75 256.18 L 344.80 257.19 L 344.85 256.53 L 344.90 257.14 L 344.94 255.28 L 344.99 255.70 L 345.04 254.04 L 345.09 255.79 L 345.13 255.05 L 345.18 256.10 L 345.23 256.26 L 345.28 255.57 L 345.32 256.01 L 345.37 254.72 L 345.42 254.02 L 345.47 255.68 L 345.51 255.25 L 345.56 254.96 L 345.61 254.04 L 345.66 254.66 L 345.70 254.16 L 345.75 255.24 L 345.80 251.44 L 345.85 252.29 L 345.89 253.31 L 345.94 252.92 L 345.99 252.30 L 346.04 251.74 L 346.08 251.27 L 346.13 252.46 L 346.18 251.89 L 346.23 251.16 L 346.27 250.94 L 346.32 251.68 L 346.37 249.76 L 346.42 249.61 L 346.46 250.13 L 346.51 249.23 L 346.56 250.33 L 346.61 250.02 L 346.65 249.98 L 346.70 249.31 L 346.75 249.23 L 346.80 249.95 L 346.84 248.28 L 346.89 248.59 L 346.94 249.03 L 346.99 248.80 L 347.03 249.73 L 347.08 248.91 L 347.13 250.08 L 347.18 249.40 L 347.22 248.30 L 347.27 247.76 L 347.32 250.66 L 347.37 249.60 L 347.41 249.63 L 347.46 249.02 L 347.51 248.70 L 347.56 250.14 L 347.60 248.54 L 347.65 248.97 L 347.70 249.34 L 347.75 248.60 L 347.79 248.80 L 347.84 248.80 L 347.89 248.86 L 347.94 250.21 L 347.98 249.37 L 348.03 249.91 L 348.08 248.78 L 348.13 248.97 L 348.17 248.86 L 348.22 248.30 L 348.27 249.40 L 348.32 248.63 L 348.36 248.92 L 348.41 249.67 L 348.46 249.97 L 348.51 249.34 L 348.55 250.10 L 348.60 250.92 L 348.65 251.22 L 348.70 250.91 L 348.74 250.07 L 348.79 251.19 L 348.84 250.18 L 348.89 250.22 L 348.93 250.97 L 348.98 250.49 L 349.03 250.73 L 349.08 249.77 L 349.12 250.26 L 349.17 250.74 L 349.22 250.82 L 349.27 250.91 L 349.31 249.48 L 349.36 252.32 L 349.41 251.54 L 349.46 250.71 L 349.50 252.37 L 349.55 251.68 L 349.60 251.74 L 349.65 253.48 L 349.69 251.90 L 349.74 252.12 L 349.79 252.48 L 349.84 252.89 L 349.88 255.63 L 349.93 253.66 L 349.98 254.46 L 350.03 254.11 L 350.07 254.72 L 350.12 255.17 L 350.17 253.95 L 350.22 256.05 L 350.26 254.88 L 350.31 254.30 L 350.36 254.37 L 350.41 255.35 L 350.45 255.19 L 350.50 254.80 L 350.55 255.35 L 350.60 256.93 L 350.64 256.38 L 350.69 255.15 L 350.74 254.81 L 350.79 256.12 L 350.83 254.73 L 350.88 254.23 L 350.93 254.99 L 350.98 254.74 L 351.02 254.63 L 351.07 255.58 L 351.12 255.21 L 351.17 255.79 L 351.21 256.30 L 351.26 255.77 L 351.31 255.13 L 351.36 255.49 L 351.40 256.91 L 351.45 255.60 L 351.50 255.71 L 351.55 256.89 L 351.59 255.94 L 351.64 256.11 L 351.69 257.01 L 351.74 256.81 L 351.78 256.66 L 351.83 256.98 L 351.88 258.27 L 351.93 257.78 L 351.97 257.21 L 352.02 257.51 L 352.07 259.11 L 352.12 257.90 L 352.16 258.61 L 352.21 258.77 L 352.26 258.22 L 352.31 258.78 L 352.35 258.11 L 352.40 258.68 L 352.45 259.90 L 352.50 258.98 L 352.54 260.35 L 352.59 259.26 L 352.64 259.54 L 352.69 259.28 L 352.73 258.66 L 352.78 260.17 L 352.83 260.59 L 352.88 259.64 L 352.92 259.43 L 352.97 259.43 L 353.02 260.14 L 353.07 260.59 L 353.11 260.41 L 353.16 259.80 L 353.21 259.54 L 353.26 259.63 L 353.30 259.57 L 353.35 258.82 L 353.40 261.02 L 353.45 258.70 L 353.49 258.61 L 353.54 260.48 L 353.59 259.87 L 353.64 260.06 L 353.68 259.22 L 353.73 259.68 L 353.78 260.46 L 353.83 262.03 L 353.87 260.43 L 353.92 260.17 L 353.97 260.63 L 354.02 260.05 L 354.06 259.33 L 354.11 258.58 L 354.16 260.40 L 354.21 258.88 L 354.25 260.96 L 354.30 259.64 L 354.35 259.67 L 354.40 259.18 L 354.44 259.44 L 354.49 259.87 L 354.54 260.63 L 354.59 259.97 L 354.63 260.19 L 354.68 260.01 L 354.73 260.77 L 354.78 260.73 L 354.82 260.74 L 354.87 259.58 L 354.92 259.73 L 354.97 259.27 L 355.01 260.83 L 355.06 258.36 L 355.11 261.65 L 355.16 260.34 L 355.20 260.17 L 355.25 260.87 L 355.30 260.51 L 355.35 260.47 L 355.39 261.19 L 355.44 261.45 L 355.49 260.52 L 355.54 262.16 L 355.58 259.90 L 355.63 261.53 L 355.68 261.20 L 355.73 260.21 L 355.77 261.75 L 355.82 262.21 L 355.87 260.00 L 355.92 261.71 L 355.96 261.19 L 356.01 261.56 L 356.06 260.19 L 356.11 262.06 L 356.15 262.58 L 356.20 262.05 L 356.25 261.18 L 356.30 261.46 L 356.34 262.22 L 356.39 261.97 L 356.44 261.15 L 356.49 261.24 L 356.53 260.99 L 356.58 262.47 L 356.63 263.96 L 356.68 263.75 L 356.72 262.68 L 356.77 262.74 L 356.82 263.74 L 356.87 263.71 L 356.91 264.39 L 356.96 263.95 L 357.01 263.26 L 357.06 264.12 L 357.10 265.25 L 357.15 264.16 L 357.20 265.83 L 357.25 263.51 L 357.29 263.97 L 357.34 264.52 L 357.39 264.28 L 357.44 265.20 L 357.48 264.90 L 357.53 265.10 L 357.58 265.81 L 357.63 263.53 L 357.67 264.28 L 357.72 266.22 L 357.77 264.38 L 357.82 263.71 L 357.86 263.97 L 357.91 263.73 L 357.96 264.68 L 358.01 264.91 L 358.05 264.93 L 358.10 265.16 L 358.15 264.41 L 358.20 265.02 L 358.24 265.38 L 358.29 263.15 L 358.34 263.38 L 358.39 264.44 L 358.43 263.03 L 358.48 264.75 L 358.53 263.31 L 358.58 262.99 L 358.62 263.49 L 358.67 265.13 L 358.72 262.41 L 358.77 262.95 L 358.81 262.27 L 358.86 263.30 L 358.91 262.72 L 358.96 262.73 L 359.00 263.12 L 359.05 262.52 L 359.10 262.61 L 359.15 262.71 L 359.19 262.28 L 359.24 262.01 L 359.29 261.45 L 359.34 262.31 L 359.38 261.94 L 359.43 261.65 L 359.48 261.15 L 359.53 261.04 L 359.57 260.65 L 359.62 262.75 L 359.67 261.81 L 359.72 262.75 L 359.76 259.82 L 359.81 259.99 L 359.86 261.43 L 359.91 261.10 L 359.95 260.99 L 360.00 260.75 L 360.05 261.00 L 360.10 259.13 L 360.14 265.31 L 360.19 261.10 L 360.24 261.15 L 360.29 262.03 L 360.33 261.14 L 360.38 261.60 L 360.43 262.68 L 360.48 262.11 L 360.52 262.08 L 360.57 262.48 L 360.62 262.67 L 360.67 261.86 L 360.71 262.23 L 360.76 261.40 L 360.81 262.45 L 360.86 260.90 L 360.90 260.84 L 360.95 261.36 L 361.00 262.39 L 361.05 261.53 L 361.09 261.83 L 361.14 263.23 L 361.19 263.64 L 361.24 265.25 L 361.28 263.16 L 361.33 263.06 L 361.38 262.96 L 361.43 261.62 L 361.47 262.59 L 361.52 262.43 L 361.57 263.28 L 361.62 262.84 L 361.66 261.71 L 361.71 262.27 L 361.76 262.75 L 361.81 262.30 L 361.85 261.76 L 361.90 263.02 L 361.95 260.82 L 362.00 262.87 L 362.04 261.81 L 362.09 261.24 L 362.14 262.19 L 362.19 263.38 L 362.23 261.33 L 362.28 262.43 L 362.33 262.49 L 362.38 262.07 L 362.42 262.03 L 362.47 262.32 L 362.52 262.57 L 362.57 263.47 L 362.61 260.23 L 362.66 262.56 L 362.71 263.06 L 362.76 261.17 L 362.80 263.24 L 362.85 263.56 L 362.90 262.43 L 362.95 263.11 L 362.99 262.52 L 363.04 262.04 L 363.09 262.66 L 363.14 262.37 L 363.18 263.43 L 363.23 262.04 L 363.28 263.06 L 363.33 263.22 L 363.37 263.32 L 363.42 262.41 L 363.47 262.81 L 363.52 261.76 L 363.56 261.79 L 363.61 263.86 L 363.66 263.60 L 363.71 261.99 L 363.75 262.05 L 363.80 264.03 L 363.85 262.85 L 363.90 263.21 L 363.94 263.28 L 363.99 261.77 L 364.04 262.43 L 364.09 260.40 L 364.13 261.05 L 364.18 261.63 L 364.23 261.88 L 364.28 260.66 L 364.32 261.14 L 364.37 260.01 L 364.42 261.17 L 364.47 259.37 L 364.51 260.11 L 364.56 260.01 L 364.61 259.23 L 364.66 259.46 L 364.70 259.44 L 364.75 260.20 L 364.80 259.81 L 364.85 259.59 L 364.89 259.48 L 364.94 259.39 L 364.99 258.45 L 365.04 258.81 L 365.08 258.71 L 365.13 259.40 L 365.18 258.96 L 365.23 259.11 L 365.27 257.82 L 365.32 259.81 L 365.37 258.11 L 365.42 257.86 L 365.46 258.50 L 365.51 258.67 L 365.56 258.39 L 365.61 260.38 L 365.65 258.20 L 365.70 258.24 L 365.75 257.77 L 365.80 259.81 L 365.84 258.48 L 365.89 258.67 L 365.94 257.74 L 365.99 258.45 L 366.03 258.81 L 366.08 259.60 L 366.13 259.96 L 366.18 260.08 L 366.22 258.63 L 366.27 259.38 L 366.32 260.33 L 366.37 259.60 L 366.41 259.90 L 366.46 260.28 L 366.51 259.56 L 366.56 259.22 L 366.60 260.93 L 366.65 257.99 L 366.70 259.42 L 366.75 259.75 L 366.79 259.45 L 366.84 259.32 L 366.89 258.95 L 366.94 260.14 L 366.98 258.05 L 367.03 258.67 L 367.08 258.45 L 367.13 258.91 L 367.17 259.02 L 367.22 259.65 L 367.27 260.23 L 367.32 259.00 L 367.36 259.86 L 367.41 261.37 L 367.46 260.43 L 367.51 258.67 L 367.55 260.61 L 367.60 260.11 L 367.65 260.07 L 367.70 260.25 L 367.74 260.46 L 367.79 259.87 L 367.84 260.51 L 367.89 259.93 L 367.93 260.30 L 367.98 259.91 L 368.03 258.72 L 368.08 258.21 L 368.12 260.70 L 368.17 258.57 L 368.22 258.32 L 368.27 259.76 L 368.31 259.77 L 368.36 258.65 L 368.41 259.65 L 368.46 258.15 L 368.50 258.13 L 368.55 257.14 L 368.60 259.66 L 368.65 258.13 L 368.69 258.46 L 368.74 256.61 L 368.79 258.14 L 368.84 256.35 L 368.88 257.08 L 368.93 258.02 L 368.98 258.63 L 369.03 258.54 L 369.07 257.14 L 369.12 256.12 L 369.17 257.39 L 369.22 256.76 L 369.26 257.61 L 369.31 257.28 L 369.36 258.15 L 369.41 257.24 L 369.45 256.63 L 369.50 256.99 L 369.55 256.31 L 369.60 256.02 L 369.64 255.78 L 369.69 255.77 L 369.74 255.61 L 369.79 255.99 L 369.83 254.82 L 369.88 255.57 L 369.93 256.37 L 369.98 255.38 L 370.02 255.25 L 370.07 257.35 L 370.12 255.70 L 370.17 257.32 L 370.21 255.94 L 370.26 256.26 L 370.31 256.48 L 370.36 255.24 L 370.40 255.10 L 370.45 255.75 L 370.50 255.48 L 370.55 256.15 L 370.59 255.24 L 370.64 255.12 L 370.69 255.87 L 370.74 255.16 L 370.78 255.13 L 370.83 255.91 L 370.88 255.29 L 370.93 254.52 L 370.97 256.11 L 371.02 255.26 L 371.07 253.79 L 371.12 254.76 L 371.16 255.89 L 371.21 255.13 L 371.26 254.73 L 371.31 255.23 L 371.35 254.72 L 371.40 254.86 L 371.45 255.29 L 371.50 254.22 L 371.54 256.14 L 371.59 253.08 L 371.64 253.68 L 371.69 255.25 L 371.73 254.91 L 371.78 256.01 L 371.83 255.03 L 371.87 255.29 L 371.92 255.02 L 371.97 254.32 L 372.02 253.14 L 372.06 254.30 L 372.11 254.68 L 372.16 254.46 L 372.21 253.41 L 372.25 254.74 L 372.30 253.75 L 372.35 253.18 L 372.40 253.87 L 372.44 253.64 L 372.49 252.72 L 372.54 252.95 L 372.59 253.73 L 372.63 254.74 L 372.68 251.70 L 372.73 251.84 L 372.78 253.16 L 372.82 253.21 L 372.87 253.97 L 372.92 252.26 L 372.97 253.51 L 373.01 253.48 L 373.06 253.95 L 373.11 252.85 L 373.16 253.24 L 373.20 252.83 L 373.25 252.57 L 373.30 252.68 L 373.35 252.61 L 373.39 253.34 L 373.44 252.66 L 373.49 252.61 L 373.54 253.17 L 373.58 252.57 L 373.63 252.86 L 373.68 251.83 L 373.73 252.91 L 373.77 252.98 L 373.82 252.58 L 373.87 252.60 L 373.92 252.45 L 373.96 253.79 L 374.01 252.85 L 374.06 252.44 L 374.11 252.46 L 374.15 252.25 L 374.20 253.02 L 374.25 252.83 L 374.30 252.17 L 374.34 252.21 L 374.39 252.70 L 374.44 251.81 L 374.49 253.63 L 374.53 252.68 L 374.58 252.14 L 374.63 252.59 L 374.68 251.32 L 374.72 252.94 L 374.77 252.05 L 374.82 253.21 L 374.87 253.14 L 374.91 252.02 L 374.96 253.56 L 375.01 252.35 L 375.06 252.31 L 375.10 253.13 L 375.15 253.07 L 375.20 252.08 L 375.25 252.63 L 375.29 252.03 L 375.34 251.71 L 375.39 251.86 L 375.44 252.55 L 375.48 251.16 L 375.53 252.63 L 375.58 251.79 L 375.63 252.08 L 375.67 253.24 L 375.72 252.67 L 375.77 252.25 L 375.82 253.64 L 375.86 251.52 L 375.91 252.73 L 375.96 253.37 L 376.01 251.97 L 376.05 253.20 L 376.10 252.70 L 376.15 254.12 L 376.20 253.57 L 376.24 253.46 L 376.29 252.04 L 376.34 252.79 L 376.39 254.14 L 376.43 253.68 L 376.48 252.77 L 376.53 253.11 L 376.58 251.98 L 376.62 253.42 L 376.67 252.78 L 376.72 252.56 L 376.77 252.96 L 376.81 254.30 L 376.86 252.75 L 376.91 251.93 L 376.96 255.49 L 377.00 253.79 L 377.05 253.86 L 377.10 253.30 L 377.15 254.88 L 377.19 254.55 L 377.24 254.66 L 377.29 254.46 L 377.34 254.82 L 377.38 254.36 L 377.43 254.03 L 377.48 254.88 L 377.53 254.43 L 377.57 254.09 L 377.62 254.76 L 377.67 253.10 L 377.72 254.55 L 377.76 253.82 L 377.81 253.37 L 377.86 254.73 L 377.91 255.61 L 377.95 255.00 L 378.00 254.40 L 378.05 253.43 L 378.10 253.02 L 378.14 253.69 L 378.19 253.56 L 378.24 254.17 L 378.29 255.23 L 378.33 254.60 L 378.38 254.35 L 378.43 254.35 L 378.48 252.94 L 378.52 254.34 L 378.57 253.93 L 378.62 253.26 L 378.67 253.57 L 378.71 253.32 L 378.76 253.82 L 378.81 252.97 L 378.86 254.07 L 378.90 253.29 L 378.95 252.86 L 379.00 254.06 L 379.05 253.67 L 379.09 252.95 L 379.14 252.25 L 379.19 253.72 L 379.24 252.79 L 379.28 253.09 L 379.33 252.53 L 379.38 252.86 L 379.43 251.88 L 379.47 252.41 L 379.52 251.72 L 379.57 252.31 L 379.62 253.10 L 379.66 252.23 L 379.71 252.39 L 379.76 252.39 L 379.81 253.37 L 379.85 252.66 L 379.90 250.87 L 379.95 252.90 L 380.00 250.79 L 380.04 250.75 L 380.09 251.71 L 380.14 252.63 L 380.19 251.09 L 380.23 250.77 L 380.28 251.39 L 380.33 251.76 L 380.38 252.45 L 380.42 251.66 L 380.47 251.22 L 380.52 251.22 L 380.57 251.48 L 380.61 251.62 L 380.66 250.51 L 380.71 250.85 L 380.76 251.33 L 380.80 252.20 L 380.85 250.87 L 380.90 249.03 L 380.95 249.97 L 380.99 250.54 L 381.04 249.90 L 381.09 250.86 L 381.14 249.89 L 381.18 250.34 L 381.23 250.24 L 381.28 249.56 L 381.33 249.44 L 381.37 249.55 L 381.42 248.88 L 381.47 250.01 L 381.52 249.04 L 381.56 249.44 L 381.61 248.73 L 381.66 250.40 L 381.71 249.79 L 381.75 250.24 L 381.80 248.90 L 381.85 249.10 L 381.90 249.48 L 381.94 249.35 L 381.99 249.29 L 382.04 249.47 L 382.09 249.25 L 382.13 249.51 L 382.18 248.50 L 382.23 249.47 L 382.28 246.65 L 382.32 249.29 L 382.37 249.03 L 382.42 248.95 L 382.47 249.71 L 382.51 249.33 L 382.56 250.49 L 382.61 248.76 L 382.66 248.98 L 382.70 249.63 L 382.75 248.89 L 382.80 248.82 L 382.85 249.28 L 382.89 249.05 L 382.94 248.65 L 382.99 249.02 L 383.04 249.37 L 383.08 249.51 L 383.13 249.38 L 383.18 249.25 L 383.23 248.83 L 383.27 248.52 L 383.32 249.02 L 383.37 248.86 L 383.42 248.46 L 383.46 248.95 L 383.51 250.69 L 383.56 248.42 L 383.61 248.60 L 383.65 249.28 L 383.70 248.37 L 383.75 248.56 L 383.80 248.36 L 383.84 248.68 L 383.89 249.21 L 383.94 248.91 L 383.99 247.68 L 384.03 248.43 L 384.08 247.88 L 384.13 248.54 L 384.18 247.93 L 384.22 248.92 L 384.27 249.38 L 384.32 247.85 L 384.37 248.06 L 384.41 248.31 L 384.46 247.22 L 384.51 246.71 L 384.56 247.89 L 384.60 247.69 L 384.65 246.30 L 384.70 247.24 L 384.75 246.96 L 384.79 246.87 L 384.84 247.27 L 384.89 246.30 L 384.94 246.22 L 384.98 247.84 L 385.03 247.41 L 385.08 246.98 L 385.13 247.09 L 385.17 247.20 L 385.22 247.10 L 385.27 248.46 L 385.32 246.70 L 385.36 247.44 L 385.41 246.39 L 385.46 247.58 L 385.51 248.16 L 385.55 247.11 L 385.60 246.68 L 385.65 246.01 L 385.70 247.77 L 385.74 246.54 L 385.79 247.09 L 385.84 247.27 L 385.89 246.16 L 385.93 246.79 L 385.98 247.54 L 386.03 246.22 L 386.08 246.47 L 386.12 246.49 L 386.17 245.53 L 386.22 246.33 L 386.27 247.23 L 386.31 247.90 L 386.36 246.64 L 386.41 246.63 L 386.46 246.69 L 386.50 246.38 L 386.55 246.21 L 386.60 246.40 L 386.65 246.16 L 386.69 245.93 L 386.74 246.24 L 386.79 246.33 L 386.84 245.09 L 386.88 246.57 L 386.93 246.37 L 386.98 246.59 L 387.03 245.32 L 387.07 247.77 L 387.12 246.52 L 387.17 245.61 L 387.22 247.23 L 387.26 246.95 L 387.31 246.20 L 387.36 247.28 L 387.41 246.81 L 387.45 245.84 L 387.50 245.98 L 387.55 246.55 L 387.60 247.28 L 387.64 246.05 L 387.69 247.19 L 387.74 246.45 L 387.79 245.92 L 387.83 247.17 L 387.88 245.85 L 387.93 246.31 L 387.98 245.25 L 388.02 246.31 L 388.07 246.92 L 388.12 245.72 L 388.17 245.64 L 388.21 247.51 L 388.26 247.04 L 388.31 246.11 L 388.36 246.53 L 388.40 247.73 L 388.45 245.83 L 388.50 247.09 L 388.55 246.75 L 388.59 246.52 L 388.64 246.31 L 388.69 246.84 L 388.74 245.88 L 388.78 246.56 L 388.83 247.41 L 388.88 246.54 L 388.93 246.78 L 388.97 247.31 L 389.02 245.64 L 389.07 245.26 L 389.12 247.41 L 389.16 246.77 L 389.21 246.93 L 389.26 246.33 L 389.31 246.63 L 389.35 247.22 L 389.40 246.70 L 389.45 246.46 L 389.50 246.27 L 389.54 245.89 L 389.59 245.38 L 389.64 246.55 L 389.69 246.49 L 389.73 248.38 L 389.78 246.44 L 389.83 246.28 L 389.88 248.24 L 389.92 246.69 L 389.97 247.07 L 390.02 248.08 L 390.07 248.21 L 390.11 248.48 L 390.16 248.34 L 390.21 247.52 L 390.26 247.97 L 390.30 248.41 L 390.35 249.40 L 390.40 249.00 L 390.45 249.96 L 390.49 249.69 L 390.54 249.97 L 390.59 248.50 L 390.64 250.36 L 390.68 249.64 L 390.73 250.91 L 390.78 250.27 L 390.83 251.04 L 390.87 251.15 L 390.92 250.42 L 390.97 250.36 L 391.02 251.67 L 391.06 251.85 L 391.11 250.58 L 391.16 250.20 L 391.21 251.97 L 391.25 250.63 L 391.30 251.71 L 391.35 250.48 L 391.40 252.78 L 391.44 252.42 L 391.49 252.09 L 391.54 251.58 L 391.59 250.57 L 391.63 252.67 L 391.68 253.24 L 391.73 252.85 L 391.78 251.83 L 391.82 253.34 L 391.87 253.02 L 391.92 251.63 L 391.97 251.63 L 392.01 252.21 L 392.06 253.66 L 392.11 252.29 L 392.16 253.90 L 392.20 253.54 L 392.25 251.35 L 392.30 252.37 L 392.35 254.77 L 392.39 252.39 L 392.44 252.67 L 392.49 252.29 L 392.54 253.02 L 392.58 251.54 L 392.63 252.23 L 392.68 252.27 L 392.73 252.35 L 392.77 252.38 L 392.82 251.08 L 392.87 251.17 L 392.92 252.32 L 392.96 251.87 L 393.01 250.36 L 393.06 250.82 L 393.11 253.03 L 393.15 251.06 L 393.20 251.11 L 393.25 251.32 L 393.30 251.37 L 393.34 250.04 L 393.39 250.42 L 393.44 251.90 L 393.49 250.25 L 393.53 251.56 L 393.58 251.91 L 393.63 250.85 L 393.68 250.92 L 393.72 250.32 L 393.77 250.44 L 393.82 251.68 L 393.87 251.29 L 393.91 251.10 L 393.96 250.58 L 394.01 251.93 L 394.06 252.07 L 394.10 250.97 L 394.15 250.33 L 394.20 250.24 L 394.25 252.47 L 394.29 252.67 L 394.34 250.47 L 394.39 251.20 L 394.44 249.86 L 394.48 250.62 L 394.53 252.66 L 394.58 252.01 L 394.63 251.90 L 394.67 252.43 L 394.72 250.85 L 394.77 251.33 L 394.82 252.28 L 394.86 251.78 L 394.91 252.16 L 394.96 252.13 L 395.01 251.18 L 395.05 251.90 L 395.10 251.33 L 395.15 251.28 L 395.20 252.41 L 395.24 251.15 L 395.29 253.07 L 395.34 252.16 L 395.39 251.07 L 395.43 251.77 L 395.48 251.41 L 395.53 252.74 L 395.58 252.56 L 395.62 252.31 L 395.67 253.55 L 395.72 252.60 L 395.77 252.45 L 395.81 252.04 L 395.86 251.85 L 395.91 253.02 L 395.96 253.37 L 396.00 252.81 L 396.05 253.15 L 396.10 253.00 L 396.15 254.05 L 396.19 253.12 L 396.24 253.81 L 396.29 252.85 L 396.34 252.45 L 396.38 252.02 L 396.43 252.44 L 396.48 253.51 L 396.53 252.70 L 396.57 254.26 L 396.62 253.22 L 396.67 252.34 L 396.72 253.81 L 396.76 253.40 L 396.81 255.24 L 396.86 254.47 L 396.91 253.29 L 396.95 254.10 L 397.00 253.08 L 397.05 252.98 L 397.10 253.95 L 397.14 254.52 L 397.19 253.89 L 397.24 255.02 L 397.29 252.93 L 397.33 254.69 L 397.38 254.44 L 397.43 253.31 L 397.48 254.80 L 397.52 254.45 L 397.57 255.52 L 397.62 253.51 L 397.67 255.10 L 397.71 254.45 L 397.76 255.72 L 397.81 256.42 L 397.86 254.18 L 397.90 254.31 L 397.95 254.32 L 398.00 254.40 L 398.05 255.21 L 398.09 254.22 L 398.14 254.11 L 398.19 254.74 L 398.24 254.88 L 398.28 256.01 L 398.33 254.54 L 398.38 254.66 L 398.43 255.50 L 398.47 255.48 L 398.52 255.81 L 398.57 254.70 L 398.62 253.99 L 398.66 255.58 L 398.71 254.60 L 398.76 254.89 L 398.81 255.01 L 398.85 254.67 L 398.90 255.43 L 398.95 256.14 L 399.00 255.86 L 399.04 257.11 L 399.09 255.71 L 399.14 254.37 L 399.19 255.48 L 399.23 255.12 L 399.28 256.21 L 399.33 255.45 L 399.38 255.86 L 399.42 254.54 L 399.47 255.07 L 399.52 255.66 L 399.57 257.15 L 399.61 255.49 L 399.66 256.66 L 399.71 254.51 L 399.76 254.45 L 399.80 256.19 L 399.85 255.22 L 399.90 254.61 L 399.95 255.26 L 399.99 255.56 L 400.04 254.24 L 400.09 255.33 L 400.14 254.46 L 400.18 255.40 L 400.23 252.59 L 400.28 255.47 L 400.33 253.76 L 400.37 254.52 L 400.42 253.04 L 400.47 253.58 L 400.52 253.59 L 400.56 252.70 L 400.61 252.11 L 400.66 251.70 L 400.71 251.43 L 400.75 252.35 L 400.80 251.01 L 400.85 251.99 L 400.90 251.44 L 400.94 251.40 L 400.99 250.97 L 401.04 251.25 L 401.08 250.19 L 401.13 251.91 L 401.18 251.24 L 401.23 252.29 L 401.27 250.94 L 401.32 250.94 L 401.37 251.33 L 401.42 251.09 L 401.46 250.32 L 401.51 249.74 L 401.56 250.47 L 401.61 250.48 L 401.65 251.40 L 401.70 251.52 L 401.75 251.03 L 401.80 251.43 L 401.84 250.26 L 401.89 250.66 L 401.94 250.85 L 401.99 250.59 L 402.03 251.72 L 402.08 252.20 L 402.13 250.40 L 402.18 251.40 L 402.22 251.18 L 402.27 251.45 L 402.32 250.65 L 402.37 251.90 L 402.41 251.53 L 402.46 251.57 L 402.51 252.62 L 402.56 250.80 L 402.60 251.17 L 402.65 251.79 L 402.70 252.11 L 402.75 251.53 L 402.79 251.93 L 402.84 252.58 L 402.89 251.54 L 402.94 251.41 L 402.98 251.64 L 403.03 250.05 L 403.08 252.02 L 403.13 252.07 L 403.17 252.98 L 403.22 250.65 L 403.27 251.75 L 403.32 251.80 L 403.36 252.11 L 403.41 250.93 L 403.46 249.63 L 403.51 251.85 L 403.55 252.07 L 403.60 252.35 L 403.65 251.87 L 403.70 251.91 L 403.74 252.63 L 403.79 252.06 L 403.84 252.17 L 403.89 253.15 L 403.93 253.61 L 403.98 252.60 L 404.03 252.13 L 404.08 252.81 L 404.12 254.16 L 404.17 253.49 L 404.22 254.47 L 404.27 254.49 L 404.31 254.94 L 404.36 253.88 L 404.41 254.42 L 404.46 255.09 L 404.50 254.30 L 404.55 253.96 L 404.60 255.58 L 404.65 255.87 L 404.69 254.26 L 404.74 255.38 L 404.79 255.29 L 404.84 254.98 L 404.88 254.48 L 404.93 253.94 L 404.98 253.56 L 405.03 254.85 L 405.07 253.92 L 405.12 253.91 L 405.17 251.84 L 405.22 253.45 L 405.26 253.10 L 405.31 252.25 L 405.36 253.14 L 405.41 251.37 L 405.45 250.98 L 405.50 249.93 L 405.55 250.02 L 405.60 250.67 L 405.64 250.41 L 405.69 250.77 L 405.74 249.53 L 405.79 250.21 L 405.83 249.28 L 405.88 249.64 L 405.93 249.30 L 405.98 248.21 L 406.02 250.12 L 406.07 249.02 L 406.12 248.99 L 406.17 249.60 L 406.21 248.63 L 406.26 248.67 L 406.31 247.72 L 406.36 249.33 L 406.40 249.63 L 406.45 248.86 L 406.50 249.75 L 406.55 249.91 L 406.59 249.46 L 406.64 248.84 L 406.69 249.45 L 406.74 249.24 L 406.78 248.76 L 406.83 249.32 L 406.88 248.79 L 406.93 247.66 L 406.97 248.16 L 407.02 248.04 L 407.07 246.87 L 407.12 246.59 L 407.16 247.41 L 407.21 247.45 L 407.26 246.30 L 407.31 246.95 L 407.35 245.88 L 407.40 245.49 L 407.45 246.60 L 407.50 245.98 L 407.54 244.60 L 407.59 244.48 L 407.64 245.33 L 407.69 244.53 L 407.73 244.44 L 407.78 243.91 L 407.83 244.41 L 407.88 245.86 L 407.92 243.23 L 407.97 245.01 L 408.02 243.30 L 408.07 242.94 L 408.11 244.10 L 408.16 243.29 L 408.21 243.16 L 408.26 243.95 L 408.30 244.40 L 408.35 243.45 L 408.40 242.53 L 408.45 242.47 L 408.49 243.02 L 408.54 243.61 L 408.59 243.33 L 408.64 243.15 L 408.68 243.52 L 408.73 241.44 L 408.78 243.22 L 408.83 242.94 L 408.87 242.58 L 408.92 242.65 L 408.97 243.28 L 409.02 241.55 L 409.06 240.91 L 409.11 242.31 L 409.16 241.38 L 409.21 242.03 L 409.25 241.08 L 409.30 242.01 L 409.35 242.30 L 409.40 241.70 L 409.44 242.11 L 409.49 241.45 L 409.54 241.50 L 409.59 241.85 L 409.63 241.57 L 409.68 241.71 L 409.73 241.41 L 409.78 242.62 L 409.82 242.26 L 409.87 241.65 L 409.92 241.72 L 409.97 241.29 L 410.01 240.40 L 410.06 241.46 L 410.11 241.40 L 410.16 240.18 L 410.20 240.57 L 410.25 239.76 L 410.30 240.73 L 410.35 241.28 L 410.39 240.40 L 410.44 239.75 L 410.49 240.66 L 410.54 240.19 L 410.58 239.96 L 410.63 240.21 L 410.68 239.49 L 410.73 240.10 L 410.77 238.28 L 410.82 239.66 L 410.87 238.70 L 410.92 239.21 L 410.96 238.35 L 411.01 237.51 L 411.06 238.29 L 411.11 236.80 L 411.15 235.70 L 411.20 236.32 L 411.25 236.60 L 411.30 236.46 L 411.34 235.80 L 411.39 233.61 L 411.44 234.10 L 411.49 233.24 L 411.53 233.31 L 411.58 231.77 L 411.63 232.58 L 411.68 231.92 L 411.72 231.88 L 411.77 231.36 L 411.82 230.19 L 411.87 228.98 L 411.91 229.53 L 411.96 228.56 L 412.01 228.43 L 412.06 228.55 L 412.10 226.69 L 412.15 227.06 L 412.20 226.26 L 412.25 226.52 L 412.29 226.25 L 412.34 225.72 L 412.39 225.37 L 412.44 224.51 L 412.48 224.18 L 412.53 224.05 L 412.58 223.68 L 412.63 223.13 L 412.67 222.30 L 412.72 222.04 L 412.77 221.86 L 412.82 220.92 L 412.86 220.67 L 412.91 221.07 L 412.96 221.61 L 413.01 220.77 L 413.05 220.22 L 413.10 221.29 L 413.15 220.93 L 413.20 220.26 L 413.24 220.78 L 413.29 220.91 L 413.34 221.18 L 413.39 220.32 L 413.43 221.08 L 413.48 220.55 L 413.53 220.85 L 413.58 220.23 L 413.62 221.41 L 413.67 221.00 L 413.72 220.52 L 413.77 221.14 L 413.81 221.30 L 413.86 221.49 L 413.91 221.40 L 413.96 220.30 L 414.00 220.60 L 414.05 220.77 L 414.10 220.61 L 414.15 219.57 L 414.19 219.87 L 414.24 218.96 L 414.29 217.37 L 414.34 216.90 L 414.38 217.20 L 414.43 215.37 L 414.48 216.25 L 414.53 215.40 L 414.57 213.60 L 414.62 213.45 L 414.67 212.90 L 414.72 211.20 L 414.76 210.22 L 414.81 210.47 L 414.86 208.92 L 414.91 207.41 L 414.95 207.30 L 415.00 206.25 L 415.05 205.01 L 415.10 203.94 L 415.14 202.70 L 415.19 201.53 L 415.24 201.39 L 415.29 200.46 L 415.33 198.99 L 415.38 198.27 L 415.43 197.49 L 415.48 196.93 L 415.52 196.32 L 415.57 196.10 L 415.62 195.08 L 415.67 194.68 L 415.71 193.73 L 415.76 193.28 L 415.81 192.26 L 415.86 191.81 L 415.90 190.50 L 415.95 189.38 L 416.00 189.26 L 416.05 187.80 L 416.09 187.13 L 416.14 187.07 L 416.19 186.60 L 416.24 185.53 L 416.28 184.96 L 416.33 184.47 L 416.38 184.06 L 416.43 183.25 L 416.47 182.68 L 416.52 182.63 L 416.57 181.89 L 416.62 181.36 L 416.66 181.21 L 416.71 180.81 L 416.76 180.28 L 416.81 179.37 L 416.85 179.89 L 416.90 179.01 L 416.95 178.34 L 417.00 178.44 L 417.04 178.24 L 417.09 177.81 L 417.14 177.29 L 417.19 176.94 L 417.23 176.11 L 417.28 175.58 L 417.33 176.07 L 417.38 175.50 L 417.42 175.14 L 417.47 174.41 L 417.52 174.74 L 417.57 173.97 L 417.61 173.91 L 417.66 173.13 L 417.71 172.61 L 417.76 172.74 L 417.80 172.46 L 417.85 171.79 L 417.90 172.13 L 417.95 171.18 L 417.99 171.15 L 418.04 170.71 L 418.09 169.79 L 418.14 169.72 L 418.18 168.98 L 418.23 168.70 L 418.28 168.16 L 418.33 167.85 L 418.37 167.03 L 418.42 166.75 L 418.47 166.30 L 418.52 165.91 L 418.56 165.07 L 418.61 164.91 L 418.66 164.51 L 418.71 164.19 L 418.75 163.25 L 418.80 163.01 L 418.85 162.70 L 418.90 162.61 L 418.94 162.13 L 418.99 161.95 L 419.04 161.60 L 419.09 161.41 L 419.13 160.96 L 419.18 160.26 L 419.23 159.74 L 419.28 158.81 L 419.32 158.23 L 419.37 157.45 L 419.42 156.45 L 419.47 155.85 L 419.51 154.16 L 419.56 153.37 L 419.61 152.36 L 419.66 151.29 L 419.70 149.95 L 419.75 148.31 L 419.80 147.02 L 419.85 145.83 L 419.89 144.41 L 419.94 143.17 L 419.99 141.73 L 420.04 140.28 L 420.08 138.94 L 420.13 137.76 L 420.18 136.39 L 420.23 135.29 L 420.27 134.33 L 420.32 133.02 L 420.37 131.90 L 420.42 130.32 L 420.46 129.16 L 420.51 127.85 L 420.56 126.35 L 420.61 124.56 L 420.65 122.33 L 420.70 119.60 L 420.75 117.09 L 420.80 115.12 L 420.84 113.36 L 420.89 111.90 L 420.94 110.71 L 420.99 109.58 L 421.03 108.40 L 421.08 107.14 L 421.13 106.16 L 421.18 105.22 L 421.22 104.42 L 421.27 103.60 L 421.32 102.62 L 421.37 101.80 L 421.41 100.77 L 421.46 99.79 L 421.51 98.52 L 421.56 97.40 L 421.60 96.06 L 421.65 94.99 L 421.70 93.94 L 421.75 92.70 L 421.79 91.65 L 421.84 90.63 L 421.89 89.55 L 421.94 88.46 L 421.98 87.44 L 422.03 86.50 L 422.08 85.53 L 422.13 84.47 L 422.17 83.41 L 422.22 82.50 L 422.27 81.28 L 422.32 80.49 L 422.36 79.43 L 422.41 78.44 L 422.46 77.44 L 422.51 76.55 L 422.55 75.74 L 422.60 74.68 L 422.65 73.77 L 422.70 73.01 L 422.74 72.18 L 422.79 71.21 L 422.84 70.23 L 422.89 69.05 L 422.93 67.94 L 422.98 66.70 L 423.03 65.59 L 423.08 64.09 L 423.12 62.89 L 423.17 61.59 L 423.22 60.27 L 423.27 59.28 L 423.31 58.39 L 423.36 57.44 L 423.41 56.59 L 423.46 55.85 L 423.50 54.90 L 423.55 54.22 L 423.60 53.53 L 423.65 52.87 L 423.69 52.18 L 423.74 51.28 L 423.79 50.55 L 423.84 49.82 L 423.88 49.01 L 423.93 48.06 L 423.98 47.22 L 424.03 46.46 L 424.07 45.72 L 424.12 44.73 L 424.17 44.26 L 424.22 43.42 L 424.26 42.83 L 424.31 42.17 L 424.36 41.33 L 424.41 40.58 L 424.45 39.90 L 424.50 39.50 L 424.55 38.69 L 424.60 38.14 L 424.64 37.47 L 424.69 37.01 L 424.74 36.58 L 424.79 36.17 L 424.83 35.68 L 424.88 35.28 L 424.93 34.85 L 424.98 34.47 L 425.02 34.22 L 425.07 33.74 L 425.12 33.35 L 425.17 33.15 L 425.21 32.72 L 425.26 32.62 L 425.31 32.28 L 425.36 31.87 L 425.40 31.58 L 425.45 31.38 L 425.50 30.93 L 425.55 30.87 L 425.59 30.64 L 425.64 30.31 L 425.69 30.05 L 425.74 29.76 L 425.78 29.51 L 425.83 29.40 L 425.88 29.20 L 425.93 28.94 L 425.97 28.90 L 426.02 28.63 L 426.07 28.58 L 426.12 28.31 L 426.16 28.29 L 426.21 28.20 L 426.26 28.12 L 426.31 27.92 L 426.35 27.84 L 426.40 27.73 L 426.45 27.70 L 426.50 27.44 L 426.54 27.37 L 426.59 27.14 L 426.64 27.48 L 426.69 27.01 L 426.73 26.82 L 426.78 26.68 L 426.83 26.61 L 426.88 26.37 L 426.92 26.24 L 426.97 25.95 L 427.02 25.79 L 427.07 25.81 L 427.11 25.56 L 427.16 25.25 L 427.21 25.20 L 427.26 25.05 L 427.30 24.87 L 427.35 24.46 L 427.40 24.28 L 427.45 23.94 L 427.49 23.61 L 427.54 23.41 L 427.59 23.22 L 427.64 22.93 L 427.68 22.70 L 427.73 22.43 L 427.78 22.25 L 427.83 22.18 L 427.87 21.85 L 427.92 21.67 L 427.97 21.53 L 428.02 21.09 L 428.06 20.90 L 428.11 20.75 L 428.16 20.54 L 428.21 20.54 L 428.25 20.18 L 428.30 20.04 L 428.35 19.98 L 428.40 19.68 L 428.44 19.57 L 428.49 19.44 L 428.54 19.14 L 428.59 19.11 L 428.63 18.89 L 428.68 18.71 L 428.73 18.50 L 428.78 18.28 L 428.82 18.33 L 428.87 17.98 L 428.92 17.85 L 428.97 17.70 L 429.01 17.54 L 429.06 17.44 L 429.11 17.16 L 429.16 17.05 L 429.20 16.97 L 429.25 16.67 L 429.30 16.59 L 429.35 16.34 L 429.39 16.29 L 429.44 16.19 L 429.49 15.95 L 429.54 16.05 L 429.58 15.67 L 429.63 15.75 L 429.68 15.53 L 429.73 15.46 L 429.77 15.25 L 429.82 15.25 L 429.87 15.12 L 429.92 14.86 L 429.96 14.87 L 430.01 14.76 L 430.06 14.75 L 430.11 14.49 " clip-path="url(#p360d8011f8)" style="fill: none; stroke: #000000; stroke-width: 0.5; stroke-linecap: square"/>
   </g>
   <g id="patch_3">
    <path d="M 50.2800 282.72 
L 50.2800 26.88 
" style="fill: none; stroke: #000000; stroke-width: 0.8; stroke-linejoin: miter; stroke-linecap: square"/>
   </g>
   <g id="patch_4">
    <path d="M 430.2000 282.72 
L 430.2000 26.88 
" style="fill: none; stroke: #000000; stroke-width: 0.8; stroke-linejoin: miter; stroke-linecap: square"/>
   </g>
   <g id="patch_5">
    <path d="M 50.16 282.8400 
L 430.08 282.8400 
" style="fill: none; stroke: #000000; stroke-width: 0.8; stroke-linejoin: miter; stroke-linecap: square"/>
   </g>
   <g id="patch_6">
    <path d="M 50.16 27.0000 
L 430.08 27.0000 
" style="fill: none; stroke: #000000; stroke-width: 0.8; stroke-linejoin: miter; stroke-linecap: square"/>
   </g>
   <g id="text_11" transform="translate(0.120 -0.091)">
    <text style="font-size: 12px; font-family: 'DejaVu Sans', sans-serif; text-anchor: middle" x="240.12" y="20.88" transform="rotate(-0 240.12 20.88)">Peak field sums for HR0008_20260120_162551_718747</text>
   </g>
   <g id="legend_1">
    <g id="patch_7">
     <path d="M 203.587187 65.0474 
L 276.652812 65.0474 
Q 278.652812 65.0474 278.652812 63.0474 
L 278.652812 33.88 
Q 278.652812 31.88 276.652812 31.88 
L 203.587187 31.88 
Q 201.587187 31.88 201.587187 33.88 
L 201.587187 63.0474 
Q 201.587187 65.0474 203.587187 65.0474 
z
" style="fill: #ffffff; opacity: 0.8; stroke: #cccccc; stroke-linejoin: miter"/>
    </g>
    <g id="line2d_37" transform="translate(0.000 0.360)">
     <path d="M 205.587187 39.978437 
L 215.587187 39.978437 
L 225.587187 39.978437 
" style="fill: none; stroke: #ff0000; stroke-width: 0.5; stroke-linecap: square"/>
    </g>
    <g id="text_12" transform="translate(-0.077 0.142)">
     <text style="font-size: 10px; font-family: 'DejaVu Sans', sans-serif; text-anchor: start" x="233.587187" y="43.478437" transform="rotate(-0 233.587187 43.478437)">Peak</text>
    </g>
    <g id="line2d_38" transform="translate(0.000 0.780)">
     <path d="M 205.587187 54.656563 
L 215.587187 54.656563 
L 225.587187 54.656563 
" style="fill: none; stroke: #000000; stroke-width: 0.5; stroke-linecap: square"/>
    </g>
    <g id="text_13" transform="translate(-0.084 0.557) translate(0 58.1566) scale(1 1.0300) translate(0 -58.1566)">
     <text style="font-size: 10px; font-family: 'DejaVu Sans', sans-serif; text-anchor: start" x="233.587187" y="58.156563" transform="rotate(-0 233.587187 58.156563)">Average</text>
    </g>
   </g>
  </g>
 </g>
 <defs>
  <clipPath id="p360d8011f8">
   <rect x="50.16" y="26.88" width="379.92" height="255.84"/>
  </clipPath>
 </defs>
</svg>

</body></html>
